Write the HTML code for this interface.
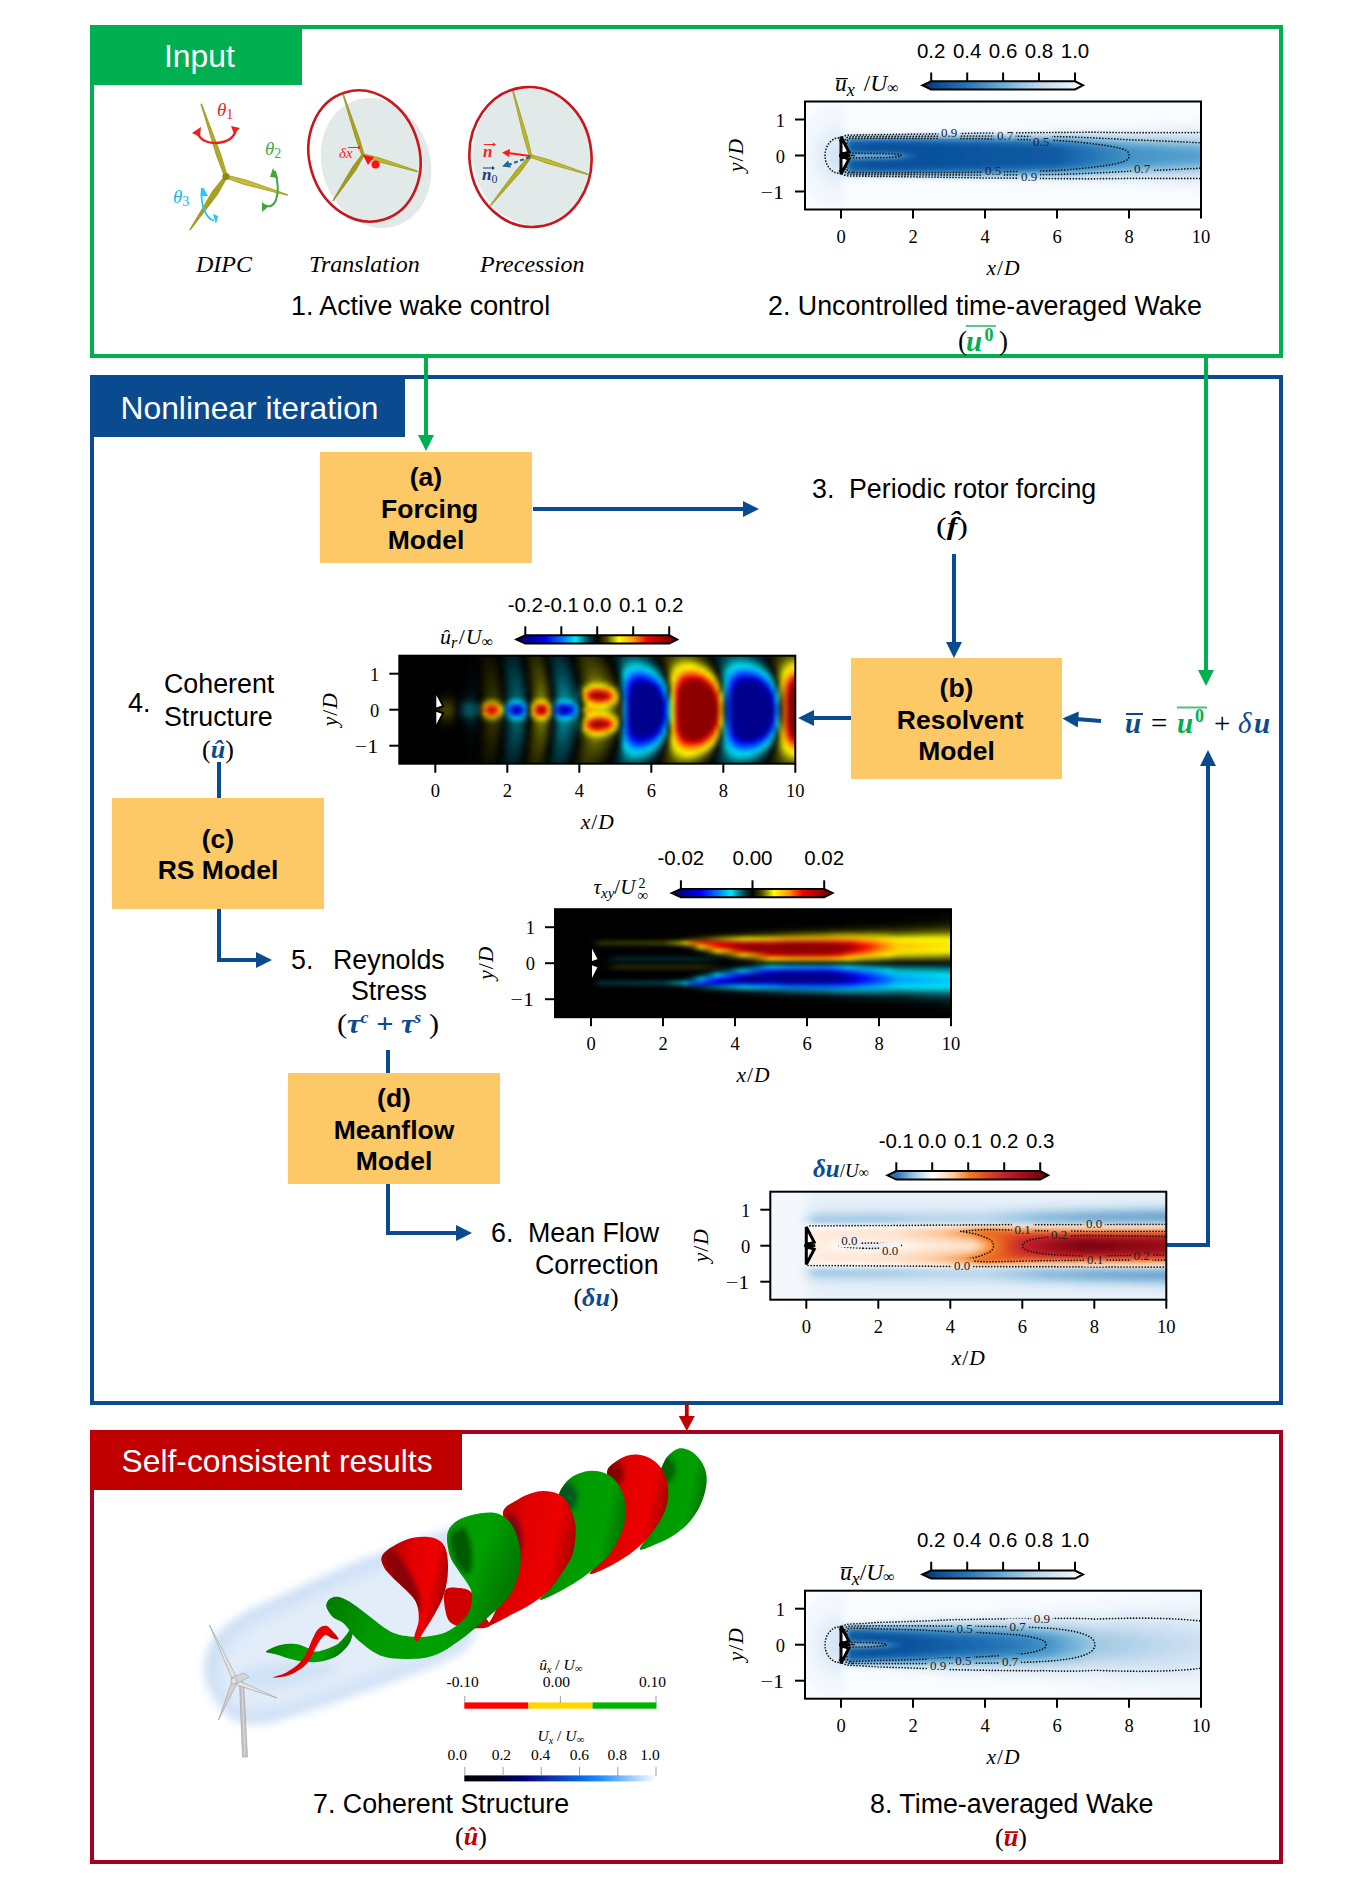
<!DOCTYPE html>
<html><head><meta charset="utf-8"><title>Self-consistent wake model</title>
<style>html,body{margin:0;padding:0;background:#fff;} svg{display:block;}</style></head>
<body><svg width="1360" height="1889" viewBox="0 0 1360 1889">
<defs><clipPath id="c1"><rect x="805.0" y="101.5" width="396.0" height="108.0"/></clipPath><filter id="f2" x="-5%" y="-20%" width="110%" height="140%" color-interpolation-filters="sRGB"><feGaussianBlur stdDeviation="1.9"/></filter><mask id="m3" maskUnits="userSpaceOnUse" x="805.0" y="101.5" width="396.0" height="108.0"><rect x="805.0" y="101.5" width="396.0" height="108.0" fill="#fff"/><rect x="938.5" y="124.7" width="21.5" height="14.3" fill="#000"/><rect x="994.2" y="128.5" width="21.5" height="14.3" fill="#000"/><rect x="1030.5" y="134.5" width="21.5" height="14.3" fill="#000"/><rect x="982.2" y="162.7" width="21.5" height="14.3" fill="#000"/><rect x="1018.3" y="169.2" width="21.5" height="14.3" fill="#000"/><rect x="1131.5" y="161.2" width="21.5" height="14.3" fill="#000"/></mask><clipPath id="c4"><rect x="806.0" y="102.5" width="394.0" height="106.0"/></clipPath><linearGradient id="g5" x1="922.4" x2="1083" y1="0" y2="0" gradientUnits="userSpaceOnUse"><stop offset="0.000" stop-color="#08306b"/><stop offset="0.100" stop-color="#0b4f93"/><stop offset="0.300" stop-color="#2b7bba"/><stop offset="0.500" stop-color="#6aaed6"/><stop offset="0.700" stop-color="#b7d4ea"/><stop offset="0.950" stop-color="#eef5fc"/><stop offset="1.000" stop-color="#f7fbff"/></linearGradient><clipPath id="c6"><rect x="805.0" y="1590.7" width="396.0" height="108.0"/></clipPath><filter id="f7" x="-5%" y="-20%" width="110%" height="140%" color-interpolation-filters="sRGB"><feGaussianBlur stdDeviation="1.9"/></filter><mask id="m8" maskUnits="userSpaceOnUse" x="805.0" y="1590.7" width="396.0" height="108.0"><rect x="805.0" y="1590.7" width="396.0" height="108.0" fill="#fff"/><rect x="1031.2" y="1611.2" width="21.5" height="14.3" fill="#000"/><rect x="1006.9" y="1618.6" width="21.5" height="14.3" fill="#000"/><rect x="954.0" y="1620.8" width="21.5" height="14.3" fill="#000"/><rect x="927.5" y="1658.3" width="21.5" height="14.3" fill="#000"/><rect x="952.5" y="1653.1" width="21.5" height="14.3" fill="#000"/><rect x="999.4" y="1653.9" width="21.5" height="14.3" fill="#000"/></mask><clipPath id="c9"><rect x="806.0" y="1591.7" width="394.0" height="106.0"/></clipPath><linearGradient id="g10" x1="922.4" x2="1083" y1="0" y2="0" gradientUnits="userSpaceOnUse"><stop offset="0.000" stop-color="#08306b"/><stop offset="0.100" stop-color="#0b4f93"/><stop offset="0.300" stop-color="#2b7bba"/><stop offset="0.500" stop-color="#6aaed6"/><stop offset="0.700" stop-color="#b7d4ea"/><stop offset="0.950" stop-color="#eef5fc"/><stop offset="1.000" stop-color="#f7fbff"/></linearGradient><clipPath id="c11"><rect x="399.3" y="655.7" width="396.0" height="108.0"/></clipPath><filter id="f12" x="-5%" y="-20%" width="110%" height="140%" color-interpolation-filters="sRGB"><feGaussianBlur stdDeviation="1.9"/></filter><linearGradient id="g13" x1="516.4" x2="677.2" y1="0" y2="0" gradientUnits="userSpaceOnUse"><stop offset="0.000" stop-color="#00008c"/><stop offset="0.055" stop-color="#00008c"/><stop offset="0.181" stop-color="#0000f5"/><stop offset="0.288" stop-color="#0078ff"/><stop offset="0.369" stop-color="#00e8f4"/><stop offset="0.445" stop-color="#004d58"/><stop offset="0.503" stop-color="#000000"/><stop offset="0.561" stop-color="#4d4d00"/><stop offset="0.637" stop-color="#ffff00"/><stop offset="0.727" stop-color="#ff9a00"/><stop offset="0.816" stop-color="#f00000"/><stop offset="0.950" stop-color="#8c0000"/><stop offset="1.000" stop-color="#8c0000"/></linearGradient><clipPath id="c14"><rect x="555.0" y="909.2" width="396.0" height="108.0"/></clipPath><filter id="f15" x="-5%" y="-20%" width="110%" height="140%" color-interpolation-filters="sRGB"><feGaussianBlur stdDeviation="1.9"/></filter><linearGradient id="g16" x1="671.7" x2="832.5" y1="0" y2="0" gradientUnits="userSpaceOnUse"><stop offset="0.000" stop-color="#00008c"/><stop offset="0.057" stop-color="#00008c"/><stop offset="0.182" stop-color="#0000f5"/><stop offset="0.289" stop-color="#0078ff"/><stop offset="0.369" stop-color="#00e8f4"/><stop offset="0.445" stop-color="#004d58"/><stop offset="0.503" stop-color="#000000"/><stop offset="0.561" stop-color="#4d4d00"/><stop offset="0.636" stop-color="#ffff00"/><stop offset="0.726" stop-color="#ff9a00"/><stop offset="0.815" stop-color="#f00000"/><stop offset="0.948" stop-color="#8c0000"/><stop offset="1.000" stop-color="#8c0000"/></linearGradient><clipPath id="c17"><rect x="770.3" y="1191.7" width="396.0" height="108.0"/></clipPath><filter id="f18" x="-5%" y="-20%" width="110%" height="140%" color-interpolation-filters="sRGB"><feGaussianBlur stdDeviation="1.9"/></filter><mask id="m19" maskUnits="userSpaceOnUse" x="770.3" y="1191.7" width="396.0" height="108.0"><rect x="770.3" y="1191.7" width="396.0" height="108.0" fill="#fff"/><rect x="838.5" y="1232.9" width="21.5" height="14.3" fill="#000"/><rect x="879.4" y="1242.8" width="21.5" height="14.3" fill="#000"/><rect x="951.4" y="1258.2" width="21.5" height="14.3" fill="#000"/><rect x="1011.9" y="1222.5" width="21.5" height="14.3" fill="#000"/><rect x="1048.5" y="1226.9" width="21.5" height="14.3" fill="#000"/><rect x="1083.3" y="1216.5" width="21.5" height="14.3" fill="#000"/><rect x="1084.2" y="1252.2" width="21.5" height="14.3" fill="#000"/><rect x="1131.0" y="1247.8" width="21.5" height="14.3" fill="#000"/></mask><clipPath id="c20"><rect x="771.3" y="1192.7" width="394.0" height="106.0"/></clipPath><linearGradient id="g21" x1="887.4" x2="1048.2" y1="0" y2="0" gradientUnits="userSpaceOnUse"><stop offset="0.000" stop-color="#2c72b4"/><stop offset="0.055" stop-color="#2c72b4"/><stop offset="0.167" stop-color="#9ec8e4"/><stop offset="0.234" stop-color="#dbe9f5"/><stop offset="0.279" stop-color="#ffffff"/><stop offset="0.346" stop-color="#fee6d3"/><stop offset="0.413" stop-color="#fdc69b"/><stop offset="0.503" stop-color="#f47f24"/><stop offset="0.615" stop-color="#dd4a24"/><stop offset="0.727" stop-color="#c3212a"/><stop offset="0.838" stop-color="#a30f1c"/><stop offset="0.950" stop-color="#7a0410"/><stop offset="1.000" stop-color="#7a0410"/></linearGradient><linearGradient id="bl" x1="0" x2="1" y1="0" y2="0"><stop offset="0" stop-color="#8f8a10"/><stop offset="0.5" stop-color="#d8d040"/><stop offset="1" stop-color="#9c9514"/></linearGradient><filter id="wblur" x="-20%" y="-20%" width="140%" height="140%" color-interpolation-filters="sRGB"><feGaussianBlur stdDeviation="5"/></filter><filter id="wblur2" x="-20%" y="-20%" width="140%" height="140%" color-interpolation-filters="sRGB"><feGaussianBlur stdDeviation="9"/></filter><filter id="sblur" x="-30%" y="-30%" width="160%" height="160%" color-interpolation-filters="sRGB"><feGaussianBlur stdDeviation="2.5"/></filter><linearGradient id="gG" x1="0" y1="0" x2="1" y2="0.3"><stop offset="0" stop-color="#006a00"/><stop offset="0.45" stop-color="#009a00"/><stop offset="0.8" stop-color="#00a000"/><stop offset="1" stop-color="#007a00"/></linearGradient><linearGradient id="gR" x1="0" y1="0" x2="1" y2="0.3"><stop offset="0" stop-color="#9a0000"/><stop offset="0.45" stop-color="#e00000"/><stop offset="0.8" stop-color="#ee0000"/><stop offset="1" stop-color="#b00000"/></linearGradient><clipPath id="hb1"><path d="M662.7,1465.1 C664.4,1461.1 665.7,1458.1 668.3,1455.4 C670.9,1452.7 674.8,1449.6 678.1,1448.7 C681.4,1447.8 684.6,1448.5 687.9,1449.8 C691.1,1451.1 694.8,1453.8 697.6,1456.8 C700.4,1459.8 703.1,1464.0 704.6,1467.9 C706.1,1471.9 706.8,1475.8 706.7,1480.5 C706.6,1485.2 705.6,1490.6 703.9,1495.9 C702.2,1501.2 699.5,1507.5 696.4,1512.6 C693.3,1517.7 689.5,1522.4 685.1,1526.6 C680.7,1530.8 675.1,1534.6 669.7,1537.8 C664.3,1541.0 657.9,1543.5 652.9,1545.5 C647.9,1547.5 641.1,1550.8 640.0,1549.5 C638.9,1548.2 643.5,1543.2 646.0,1538.0 C648.5,1532.8 652.8,1524.8 655.0,1518.2 C657.2,1511.7 658.5,1505.2 659.0,1498.7 C659.5,1492.2 657.4,1484.7 658.0,1479.1 C658.6,1473.5 661.0,1469.0 662.7,1465.1Z"/></clipPath><clipPath id="hb2"><path d="M607.5,1470.0 C608.8,1466.3 613.2,1463.4 616.6,1461.0 C620.0,1458.6 624.1,1456.5 627.8,1455.4 C631.5,1454.4 635.3,1454.2 639.0,1454.7 C642.7,1455.2 646.6,1456.2 650.1,1458.2 C653.6,1460.2 657.2,1463.0 659.9,1466.5 C662.6,1470.0 664.8,1474.7 666.2,1479.1 C667.6,1483.5 668.3,1488.4 668.3,1493.1 C668.3,1497.8 667.6,1502.4 666.2,1507.1 C664.8,1511.8 662.6,1516.3 659.9,1521.0 C657.2,1525.7 654.0,1530.3 650.1,1535.0 C646.2,1539.7 641.1,1544.8 636.2,1549.0 C631.3,1553.2 625.9,1556.8 620.8,1560.1 C615.7,1563.3 610.5,1566.2 605.4,1568.5 C600.3,1570.8 591.1,1575.2 590.0,1574.0 C588.9,1572.8 595.7,1566.6 599.0,1561.5 C602.3,1556.4 607.2,1549.7 610.0,1543.4 C612.8,1537.1 615.2,1530.5 616.0,1523.8 C616.8,1517.0 616.2,1509.7 615.0,1502.9 C613.8,1496.2 610.2,1488.8 609.0,1483.3 C607.8,1477.8 606.2,1473.7 607.5,1470.0Z"/></clipPath><clipPath id="hb3"><path d="M559.3,1493.1 C560.6,1489.4 564.4,1483.8 567.7,1480.5 C571.0,1477.2 574.9,1475.1 578.9,1473.5 C582.9,1471.9 587.3,1470.8 591.5,1470.7 C595.7,1470.6 600.3,1471.4 604.0,1472.8 C607.7,1474.2 610.8,1475.9 613.8,1479.1 C616.8,1482.2 620.2,1487.0 622.2,1491.7 C624.2,1496.4 625.4,1501.8 625.7,1507.1 C626.1,1512.4 625.6,1518.2 624.3,1523.8 C623.0,1529.4 620.7,1535.2 618.0,1540.6 C615.3,1546.0 612.2,1551.3 608.2,1556.0 C604.2,1560.7 599.4,1564.3 594.3,1568.5 C589.2,1572.7 583.1,1577.4 577.5,1581.1 C571.9,1584.8 567.0,1587.8 560.7,1590.9 C554.5,1594.1 542.0,1600.5 540.0,1600.0 C538.0,1599.5 545.7,1593.8 549.0,1588.1 C552.3,1582.4 557.2,1573.6 560.0,1565.7 C562.8,1557.8 565.2,1548.5 566.0,1540.6 C566.8,1532.7 566.0,1524.5 565.0,1518.2 C564.0,1511.9 561.0,1507.1 560.0,1502.9 C559.0,1498.7 558.0,1496.8 559.3,1493.1Z"/></clipPath><clipPath id="hb4"><path d="M503.0,1512.0 C504.2,1505.4 513.2,1502.7 518.0,1499.5 C522.8,1496.3 527.7,1494.4 532.0,1493.0 C536.3,1491.6 539.7,1490.9 544.0,1491.0 C548.3,1491.1 553.9,1491.8 557.9,1493.8 C561.9,1495.8 564.9,1498.4 567.7,1502.9 C570.5,1507.4 573.4,1515.2 574.7,1521.0 C576.0,1526.8 575.9,1532.0 575.4,1537.8 C574.9,1543.6 574.1,1550.2 571.9,1556.0 C569.7,1561.8 566.0,1566.9 562.1,1572.7 C558.2,1578.5 553.6,1585.6 548.2,1590.9 C542.9,1596.2 535.9,1601.0 530.0,1604.8 C524.1,1608.6 520.0,1610.3 512.7,1614.0 C505.4,1617.7 489.5,1626.6 486.2,1627.0 C482.9,1627.4 488.5,1625.6 492.8,1616.5 C497.1,1607.4 509.0,1585.3 512.0,1572.4 C515.0,1559.5 512.5,1549.4 511.0,1539.3 C509.5,1529.2 501.8,1518.6 503.0,1512.0Z"/></clipPath><clipPath id="hb5"><path d="M445.3,1590.0 C447.8,1586.3 455.6,1587.5 460.0,1588.0 C464.4,1588.5 468.4,1589.0 471.8,1592.7 C475.2,1596.4 477.7,1604.8 480.6,1610.3 C483.5,1615.8 490.9,1622.8 489.4,1625.7 C487.9,1628.7 478.1,1628.4 471.8,1628.0 C465.6,1627.6 456.3,1626.5 451.9,1623.5 C447.5,1620.5 446.4,1615.9 445.3,1610.3 C444.2,1604.7 442.9,1593.7 445.3,1590.0Z"/></clipPath><clipPath id="hb6"><path d="M447.5,1533.1 C449.0,1527.2 453.0,1523.2 458.5,1519.9 C464.0,1516.6 474.0,1514.2 480.6,1513.2 C487.2,1512.2 493.2,1511.9 498.3,1513.7 C503.4,1515.5 508.0,1519.2 511.5,1524.3 C515.0,1529.4 517.7,1537.1 519.2,1544.1 C520.7,1551.1 521.2,1558.8 520.3,1566.2 C519.4,1573.6 516.6,1582.0 513.7,1588.2 C510.8,1594.5 508.2,1597.8 502.7,1603.7 C497.2,1609.6 488.0,1617.2 480.6,1623.5 C473.2,1629.8 465.9,1636.0 458.5,1641.2 C451.1,1646.4 443.9,1651.5 436.5,1654.4 C429.1,1657.3 423.2,1658.4 414.4,1658.8 C405.6,1659.2 392.7,1659.5 383.5,1656.6 C374.3,1653.7 365.9,1646.7 359.3,1641.2 C352.7,1635.7 348.2,1627.5 343.8,1623.5 C339.4,1619.5 335.7,1619.8 332.8,1616.9 C329.9,1614.0 326.6,1609.0 326.2,1605.9 C325.8,1602.8 328.4,1599.7 330.6,1598.2 C332.8,1596.7 335.7,1596.2 339.4,1597.1 C343.1,1598.0 347.5,1600.4 352.7,1603.7 C357.9,1607.0 363.7,1612.1 370.3,1616.9 C376.9,1621.7 385.0,1629.1 392.4,1632.4 C399.8,1635.7 407.8,1636.2 414.4,1636.8 C421.0,1637.3 426.2,1636.8 432.1,1635.7 C438.0,1634.6 443.8,1633.7 449.7,1630.2 C455.6,1626.7 463.7,1621.0 467.4,1614.7 C471.1,1608.5 473.3,1600.1 471.8,1592.7 C470.3,1585.3 462.2,1576.8 458.5,1570.6 C454.8,1564.3 451.5,1561.5 449.7,1555.2 C447.9,1549.0 446.0,1539.0 447.5,1533.1Z"/></clipPath><clipPath id="hb7"><path d="M382.4,1555.2 C384.6,1551.5 391.5,1547.0 396.8,1544.1 C402.1,1541.1 408.5,1538.6 414.4,1537.5 C420.3,1536.4 427.3,1536.4 432.1,1537.5 C436.9,1538.6 440.5,1540.8 443.1,1544.1 C445.7,1547.4 446.8,1551.9 447.5,1557.4 C448.2,1562.9 448.2,1570.6 447.5,1577.2 C446.8,1583.8 445.3,1590.8 443.1,1597.1 C440.9,1603.3 437.6,1608.8 434.3,1614.7 C431.0,1620.6 426.0,1628.0 423.2,1632.4 C420.4,1636.8 419.2,1640.5 417.7,1641.2 C416.2,1641.9 414.2,1640.5 414.4,1636.8 C414.6,1633.1 418.8,1625.3 418.8,1619.1 C418.8,1612.8 418.8,1606.3 414.4,1599.3 C410.0,1592.3 397.5,1582.7 392.4,1577.2 C387.2,1571.7 385.2,1569.9 383.5,1566.2 C381.8,1562.5 380.2,1558.9 382.4,1555.2Z"/></clipPath><clipPath id="hb8"><path d="M266.0,1651.6 C266.6,1650.0 275.4,1646.3 280.3,1645.0 C285.2,1643.7 291.1,1643.5 295.6,1644.0 C300.1,1644.5 303.9,1646.5 307.1,1647.8 C310.3,1649.1 311.8,1651.3 314.7,1651.6 C317.6,1651.9 320.5,1651.0 324.3,1649.7 C328.1,1648.4 333.9,1646.7 337.7,1644.0 C341.5,1641.3 345.0,1636.2 347.2,1633.5 C349.4,1630.8 350.0,1628.0 351.0,1627.7 C352.0,1627.4 353.3,1628.8 353.0,1631.5 C352.7,1634.2 351.7,1640.0 349.1,1644.0 C346.6,1648.0 342.1,1652.5 337.7,1655.4 C333.2,1658.3 327.5,1660.1 322.4,1661.2 C317.3,1662.3 312.2,1662.4 307.1,1662.1 C302.0,1661.8 296.9,1660.6 291.8,1659.3 C286.7,1658.0 280.8,1655.8 276.5,1654.5 C272.2,1653.2 265.4,1653.2 266.0,1651.6Z"/></clipPath><clipPath id="hb9"><path d="M272.7,1677.4 C272.4,1676.9 281.6,1675.1 286.0,1672.7 C290.4,1670.3 295.9,1666.6 299.4,1663.1 C302.9,1659.6 304.9,1655.8 307.1,1651.6 C309.3,1647.4 310.9,1642.0 312.8,1638.2 C314.7,1634.4 316.3,1630.8 318.5,1628.7 C320.7,1626.6 323.6,1625.2 326.2,1625.8 C328.8,1626.4 331.7,1630.3 333.8,1632.5 C335.9,1634.7 338.9,1638.2 338.6,1639.2 C338.3,1640.2 334.3,1638.8 331.9,1638.2 C329.5,1637.6 326.9,1634.1 324.3,1635.4 C321.8,1636.7 318.8,1642.2 316.6,1645.9 C314.4,1649.6 313.1,1653.9 310.9,1657.4 C308.7,1660.9 307.1,1663.9 303.3,1666.9 C299.5,1669.9 293.1,1673.8 288.0,1675.5 C282.9,1677.2 273.0,1677.9 272.7,1677.4Z"/></clipPath><linearGradient id="ux" x1="0" x2="1"><stop offset="0" stop-color="#000000"/><stop offset="0.15" stop-color="#00001e"/><stop offset="0.3" stop-color="#00006a"/><stop offset="0.45" stop-color="#0a30b0"/><stop offset="0.6" stop-color="#0a64e6"/><stop offset="0.7" stop-color="#1a8cff"/><stop offset="0.85" stop-color="#8cc4ff"/><stop offset="1" stop-color="#ffffff"/></linearGradient></defs>
<rect width="1360" height="1889" fill="#fff"/>
<rect x="92" y="27" width="1189" height="329" fill="none" stroke="#00b050" stroke-width="4"/>
<rect x="90" y="25" width="212" height="60" fill="#00b050"/>
<text x="164.0" y="67.0" font-size="31.8" font-family="'Liberation Sans', Arial, sans-serif" fill="#fff">Input</text>
<rect x="92" y="377" width="1189" height="1026" fill="none" stroke="#0a4a8f" stroke-width="4"/>
<rect x="90" y="375" width="315" height="62" fill="#0a4a8f"/>
<text x="120.5" y="419.0" font-size="31.8" font-family="'Liberation Sans', Arial, sans-serif" fill="#fff">Nonlinear iteration</text>
<rect x="92" y="1432" width="1189" height="430" fill="none" stroke="#a50021" stroke-width="4"/>
<rect x="90" y="1430" width="372" height="60" fill="#c00000"/>
<text x="121.5" y="1472.0" font-size="31.8" font-family="'Liberation Sans', Arial, sans-serif" fill="#fff">Self-consistent results</text>
<rect x="320" y="452" width="212" height="111" fill="#fdc966"/>
<text x="426.0" y="486.0" font-size="26.5" font-family="'Liberation Sans', Arial, sans-serif" text-anchor="middle" font-weight="bold">(a)</text>
<text x="429.7" y="517.5" font-size="26.5" font-family="'Liberation Sans', Arial, sans-serif" text-anchor="middle" font-weight="bold">Forcing</text>
<text x="426.0" y="549.0" font-size="26.5" font-family="'Liberation Sans', Arial, sans-serif" text-anchor="middle" font-weight="bold">Model</text>
<rect x="851" y="658" width="211" height="121" fill="#fdc966"/>
<text x="956.5" y="697.0" font-size="26.5" font-family="'Liberation Sans', Arial, sans-serif" text-anchor="middle" font-weight="bold">(b)</text>
<text x="960.2" y="728.5" font-size="26.5" font-family="'Liberation Sans', Arial, sans-serif" text-anchor="middle" font-weight="bold">Resolvent</text>
<text x="956.5" y="760.0" font-size="26.5" font-family="'Liberation Sans', Arial, sans-serif" text-anchor="middle" font-weight="bold">Model</text>
<rect x="112" y="798" width="212" height="111" fill="#fdc966"/>
<text x="218.0" y="847.5" font-size="26.5" font-family="'Liberation Sans', Arial, sans-serif" text-anchor="middle" font-weight="bold">(c)</text>
<text x="218.0" y="879.0" font-size="26.5" font-family="'Liberation Sans', Arial, sans-serif" text-anchor="middle" font-weight="bold">RS Model</text>
<rect x="288" y="1073" width="212" height="111" fill="#fdc966"/>
<text x="394.0" y="1107.0" font-size="26.5" font-family="'Liberation Sans', Arial, sans-serif" text-anchor="middle" font-weight="bold">(d)</text>
<text x="394.0" y="1138.5" font-size="26.5" font-family="'Liberation Sans', Arial, sans-serif" text-anchor="middle" font-weight="bold">Meanflow</text>
<text x="394.0" y="1170.0" font-size="26.5" font-family="'Liberation Sans', Arial, sans-serif" text-anchor="middle" font-weight="bold">Model</text>
<line x1="426" y1="358" x2="426" y2="437" stroke="#00b050" stroke-width="4"/>
<polygon points="426.0,451.0 418.0,435.0 434.0,435.0" fill="#00b050"/>
<line x1="1206" y1="358" x2="1206" y2="672" stroke="#00b050" stroke-width="4"/>
<polygon points="1206.0,686.0 1198.0,670.0 1214.0,670.0" fill="#00b050"/>
<line x1="533" y1="509" x2="746" y2="509" stroke="#0a4a8f" stroke-width="4"/>
<polygon points="759.0,509.0 743.0,517.0 743.0,501.0" fill="#0a4a8f"/>
<line x1="954" y1="554" x2="954" y2="645" stroke="#0a4a8f" stroke-width="4"/>
<polygon points="954.0,658.0 946.0,642.0 962.0,642.0" fill="#0a4a8f"/>
<line x1="851" y1="718" x2="811" y2="718" stroke="#0a4a8f" stroke-width="4"/>
<polygon points="798.0,718.0 814.0,710.0 814.0,726.0" fill="#0a4a8f"/>
<line x1="1101" y1="721" x2="1076" y2="719" stroke="#0a4a8f" stroke-width="4"/>
<polygon points="1062.3,718.6 1078.8,711.6 1077.8,727.5" fill="#0a4a8f"/>
<polyline points="1166,1245 1208,1245 1208,764" fill="none" stroke="#0a4a8f" stroke-width="4"/>
<polygon points="1208.0,750.0 1216.0,766.0 1200.0,766.0" fill="#0a4a8f"/>
<line x1="219" y1="762" x2="219" y2="798" stroke="#0a4a8f" stroke-width="4"/>
<polyline points="219,909 219,960 258,960" fill="none" stroke="#0a4a8f" stroke-width="4"/>
<polygon points="272.0,960.0 256.0,968.0 256.0,952.0" fill="#0a4a8f"/>
<line x1="388" y1="1050" x2="388" y2="1073" stroke="#0a4a8f" stroke-width="4"/>
<polyline points="388,1184 388,1233 458,1233" fill="none" stroke="#0a4a8f" stroke-width="4"/>
<polygon points="472.0,1233.0 456.0,1241.0 456.0,1225.0" fill="#0a4a8f"/>
<line x1="686.8" y1="1403" x2="686.8" y2="1418" stroke="#c00000" stroke-width="3.8"/>
<polygon points="686.8,1431.0 678.8,1416.0 694.8,1416.0" fill="#c00000"/>
<text x="291.0" y="315.0" font-size="26.8" font-family="'Liberation Sans', Arial, sans-serif">1. Active wake control</text>
<text x="768.0" y="315.0" font-size="26.8" font-family="'Liberation Sans', Arial, sans-serif">2. Uncontrolled time-averaged Wake</text>
<text x="958.0" y="350.0" font-size="27" font-family="'Liberation Serif', 'DejaVu Serif', serif">(</text>
<text x="966.0" y="350.5" font-size="29" font-family="'Liberation Serif', 'DejaVu Serif', serif" fill="#00b050" font-weight="bold" font-style="italic">u</text>
<text x="984.5" y="341.0" font-size="18" font-family="'Liberation Serif', 'DejaVu Serif', serif" fill="#00b050" font-weight="bold">0</text>
<text x="999.0" y="350.0" font-size="27" font-family="'Liberation Serif', 'DejaVu Serif', serif">)</text>
<line x1="966" y1="326" x2="996" y2="326" stroke="#4cc07c" stroke-width="1.8"/>
<text x="812.0" y="498.0" font-size="26.8" font-family="'Liberation Sans', Arial, sans-serif">3.</text>
<text x="849.0" y="498.0" font-size="26.8" font-family="'Liberation Sans', Arial, sans-serif">Periodic rotor forcing</text>
<text x="952.0" y="535.0" font-size="26" font-family="'Liberation Serif', 'DejaVu Serif', serif" text-anchor="middle" textLength="32" lengthAdjust="spacingAndGlyphs">(<tspan font-weight="bold" font-style="italic">f̂</tspan>)</text>
<text x="128.0" y="712.0" font-size="26.8" font-family="'Liberation Sans', Arial, sans-serif">4.</text>
<text x="164.0" y="693.0" font-size="26.8" font-family="'Liberation Sans', Arial, sans-serif">Coherent</text>
<text x="164.0" y="726.0" font-size="26.8" font-family="'Liberation Sans', Arial, sans-serif">Structure</text>
<text x="218.0" y="758.0" font-size="26" font-family="'Liberation Serif', 'DejaVu Serif', serif" text-anchor="middle">(<tspan font-weight="bold" font-style="italic" fill="#0a4a8f">û</tspan>)</text>
<text x="291.0" y="969.0" font-size="26.8" font-family="'Liberation Sans', Arial, sans-serif">5.</text>
<text x="333.0" y="969.0" font-size="26.8" font-family="'Liberation Sans', Arial, sans-serif">Reynolds</text>
<text x="351.0" y="1000.0" font-size="26.8" font-family="'Liberation Sans', Arial, sans-serif">Stress</text>
<text x="388.0" y="1033.0" font-size="27" font-family="'Liberation Serif', 'DejaVu Serif', serif" text-anchor="middle" textLength="102" lengthAdjust="spacingAndGlyphs">(<tspan font-weight="bold" font-style="italic" fill="#0a4a8f">τ<tspan font-size="16" dy="-10">c</tspan><tspan dy="10"> + τ</tspan><tspan font-size="16" dy="-10">s</tspan></tspan><tspan dy="10"> )</tspan></text>
<text x="491.0" y="1242.0" font-size="26.8" font-family="'Liberation Sans', Arial, sans-serif">6.</text>
<text x="528.0" y="1242.0" font-size="26.8" font-family="'Liberation Sans', Arial, sans-serif">Mean Flow</text>
<text x="535.0" y="1274.0" font-size="26.8" font-family="'Liberation Sans', Arial, sans-serif">Correction</text>
<text x="596.0" y="1306.0" font-size="26" font-family="'Liberation Serif', 'DejaVu Serif', serif" text-anchor="middle">(<tspan font-weight="bold" font-style="italic" fill="#0a4a8f">δu</tspan>)</text>
<text x="313.0" y="1813.0" font-size="26.8" font-family="'Liberation Sans', Arial, sans-serif">7. Coherent Structure</text>
<text x="471.0" y="1845.0" font-size="26" font-family="'Liberation Serif', 'DejaVu Serif', serif" text-anchor="middle">(<tspan font-weight="bold" font-style="italic" fill="#c00000">û</tspan>)</text>
<text x="870.0" y="1813.0" font-size="26.8" font-family="'Liberation Sans', Arial, sans-serif">8. Time-averaged Wake</text>
<text x="1011.0" y="1846.0" font-size="26" font-family="'Liberation Serif', 'DejaVu Serif', serif" text-anchor="middle">(<tspan font-weight="bold" font-style="italic" fill="#c00000">u̅</tspan>)</text>
<text x="1125.0" y="732.5" font-size="29" font-family="'Liberation Serif', 'DejaVu Serif', serif" fill="#0a4a8f" font-weight="bold" font-style="italic">u</text>
<line x1="1126" y1="714" x2="1143" y2="714" stroke="#0a4a8f" stroke-width="2"/>
<text x="1151.0" y="732.5" font-size="29" font-family="'Liberation Serif', 'DejaVu Serif', serif">=</text>
<text x="1177.0" y="732.5" font-size="29" font-family="'Liberation Serif', 'DejaVu Serif', serif" fill="#00b050" font-weight="bold" font-style="italic">u</text>
<text x="1195.0" y="722.0" font-size="18" font-family="'Liberation Serif', 'DejaVu Serif', serif" fill="#00b050" font-weight="bold">0</text>
<line x1="1177" y1="707.5" x2="1207" y2="707.5" stroke="#4cc07c" stroke-width="2"/>
<text x="1214.0" y="732.5" font-size="29" font-family="'Liberation Serif', 'DejaVu Serif', serif">+</text>
<text x="1238.0" y="732.5" font-size="29" font-family="'Liberation Serif', 'DejaVu Serif', serif" fill="#0a4a8f" font-style="italic">δ</text>
<text x="1254.0" y="732.5" font-size="29" font-family="'Liberation Serif', 'DejaVu Serif', serif" fill="#0a4a8f" font-weight="bold" font-style="italic">u</text>
<text x="196.0" y="272.0" font-size="24" font-family="'Liberation Serif', 'Times New Roman', serif" font-style="italic">DIPC</text>
<text x="309.0" y="272.0" font-size="24" font-family="'Liberation Serif', 'Times New Roman', serif" font-style="italic">Translation</text>
<text x="480.0" y="272.0" font-size="24" font-family="'Liberation Serif', 'Times New Roman', serif" font-style="italic">Precession</text>
<g clip-path="url(#c1)"><g filter="url(#f2)" shape-rendering="crispEdges"><path fill="#f8fcff" d="M797 93.5h412v4h-412zM797 97.5h412v4h-412zM797 101.5h412v4h-412zM797 105.5h28v4h-28zM841 105.5h368v4h-368zM797 109.5h20v4h-20zM845 109.5h364v4h-364zM797 113.5h16v4h-16zM845 113.5h364v4h-364zM797 117.5h12v4h-12zM845 117.5h348v4h-348zM797 121.5h8v4h-8zM845 121.5h292v4h-292zM797 125.5h8v4h-8zM845 125.5h204v4h-204zM797 129.5h4v4h-4zM845 129.5h76v4h-76zM797 133.5h4v4h-4zM797 173.5h4v4h-4zM797 177.5h4v4h-4zM845 177.5h76v4h-76zM797 181.5h8v4h-8zM845 181.5h204v4h-204zM797 185.5h8v4h-8zM845 185.5h292v4h-292zM797 189.5h12v4h-12zM845 189.5h348v4h-348zM797 193.5h16v4h-16zM845 193.5h364v4h-364zM797 197.5h20v4h-20zM845 197.5h364v4h-364zM797 201.5h28v4h-28zM841 201.5h368v4h-368zM797 205.5h412v4h-412zM797 209.5h412v4h-412zM797 213.5h412v4h-412z"/><path fill="#f4f8ff" d="M825 105.5h16v4h-16zM817 109.5h16v4h-16zM841 109.5h4v4h-4zM813 113.5h8v4h-8zM841 113.5h4v4h-4zM809 117.5h8v4h-8zM1193 117.5h16v4h-16zM805 121.5h8v4h-8zM1137 121.5h36v4h-36zM805 125.5h4v4h-4zM1049 125.5h24v4h-24zM801 129.5h8v4h-8zM921 129.5h20v4h-20zM801 133.5h4v4h-4zM797 137.5h8v4h-8zM797 141.5h4v4h-4zM797 145.5h4v4h-4zM797 149.5h4v4h-4zM797 153.5h4v4h-4zM797 157.5h4v4h-4zM797 161.5h4v4h-4zM797 165.5h4v4h-4zM797 169.5h8v4h-8zM801 173.5h4v4h-4zM801 177.5h8v4h-8zM921 177.5h20v4h-20zM805 181.5h4v4h-4zM1049 181.5h24v4h-24zM805 185.5h8v4h-8zM1137 185.5h36v4h-36zM809 189.5h8v4h-8zM1193 189.5h16v4h-16zM813 193.5h8v4h-8zM841 193.5h4v4h-4zM817 197.5h16v4h-16zM841 197.5h4v4h-4zM825 201.5h16v4h-16z"/><path fill="#f4f8fc" d="M833 109.5h8v4h-8zM821 113.5h20v4h-20zM817 117.5h8v4h-8zM841 117.5h4v4h-4zM813 121.5h8v4h-8zM841 121.5h4v4h-4zM1173 121.5h36v4h-36zM809 125.5h8v4h-8zM1073 125.5h32v4h-32zM809 129.5h4v4h-4zM941 129.5h16v4h-16zM805 133.5h4v4h-4zM805 137.5h4v4h-4zM801 141.5h8v4h-8zM801 145.5h4v4h-4zM801 149.5h4v4h-4zM801 153.5h4v4h-4zM801 157.5h4v4h-4zM801 161.5h4v4h-4zM801 165.5h8v4h-8zM805 169.5h4v4h-4zM805 173.5h4v4h-4zM809 177.5h4v4h-4zM941 177.5h16v4h-16zM809 181.5h8v4h-8zM1073 181.5h32v4h-32zM813 185.5h8v4h-8zM841 185.5h4v4h-4zM1173 185.5h36v4h-36zM817 189.5h8v4h-8zM841 189.5h4v4h-4zM821 193.5h20v4h-20zM833 197.5h8v4h-8z"/><path fill="#f0f8fc" d="M825 117.5h16v4h-16zM821 121.5h4v4h-4zM817 125.5h4v4h-4zM841 125.5h4v4h-4zM1105 125.5h52v4h-52zM813 129.5h4v4h-4zM957 129.5h16v4h-16zM809 133.5h4v4h-4zM809 137.5h4v4h-4zM809 141.5h4v4h-4zM805 145.5h4v4h-4zM805 149.5h4v4h-4zM805 153.5h4v4h-4zM805 157.5h4v4h-4zM805 161.5h4v4h-4zM809 165.5h4v4h-4zM809 169.5h4v4h-4zM809 173.5h4v4h-4zM813 177.5h4v4h-4zM957 177.5h16v4h-16zM817 181.5h4v4h-4zM841 181.5h4v4h-4zM1105 181.5h52v4h-52zM821 185.5h4v4h-4zM825 189.5h16v4h-16z"/><path fill="#f0f4fc" d="M825 121.5h8v4h-8zM821 125.5h4v4h-4zM1157 125.5h24v4h-24zM817 129.5h4v4h-4zM841 129.5h4v4h-4zM973 129.5h8v4h-8zM813 133.5h4v4h-4zM809 145.5h4v4h-4zM809 149.5h4v4h-4zM809 153.5h4v4h-4zM809 157.5h4v4h-4zM809 161.5h4v4h-4zM813 173.5h4v4h-4zM817 177.5h4v4h-4zM841 177.5h4v4h-4zM973 177.5h8v4h-8zM821 181.5h4v4h-4zM1157 181.5h24v4h-24zM825 185.5h8v4h-8z"/><path fill="#ecf4fc" d="M833 121.5h8v4h-8zM825 125.5h8v4h-8zM1181 125.5h28v4h-28zM821 129.5h4v4h-4zM981 129.5h40v4h-40zM817 133.5h4v4h-4zM813 137.5h8v4h-8zM813 141.5h4v4h-4zM813 145.5h4v4h-4zM813 149.5h4v4h-4zM813 153.5h4v4h-4zM813 157.5h4v4h-4zM813 161.5h4v4h-4zM813 165.5h4v4h-4zM813 169.5h8v4h-8zM817 173.5h4v4h-4zM821 177.5h4v4h-4zM981 177.5h40v4h-40zM825 181.5h8v4h-8zM1181 181.5h28v4h-28zM833 185.5h8v4h-8z"/><path fill="#e8f4fc" d="M833 125.5h8v4h-8zM825 129.5h4v4h-4zM1021 129.5h8v4h-8zM821 133.5h4v4h-4zM821 173.5h4v4h-4zM825 177.5h4v4h-4zM1021 177.5h8v4h-8zM833 181.5h8v4h-8z"/><path fill="#e8f0f8" d="M829 129.5h4v4h-4zM1041 129.5h12v4h-12zM825 133.5h4v4h-4zM821 137.5h4v4h-4zM817 145.5h4v4h-4zM817 149.5h4v4h-4zM817 157.5h4v4h-4zM817 161.5h4v4h-4zM821 169.5h4v4h-4zM825 173.5h4v4h-4zM829 177.5h4v4h-4zM1041 177.5h12v4h-12z"/><path fill="#e4f0f8" d="M833 129.5h8v4h-8zM1053 129.5h36v4h-36zM1101 129.5h68v4h-68zM829 133.5h4v4h-4zM841 133.5h4v4h-4zM825 137.5h4v4h-4zM821 141.5h4v4h-4zM817 153.5h4v4h-4zM821 165.5h4v4h-4zM825 169.5h4v4h-4zM829 173.5h4v4h-4zM841 173.5h4v4h-4zM833 177.5h8v4h-8zM1053 177.5h36v4h-36zM1101 177.5h68v4h-68z"/><path fill="#e8f0fc" d="M1029 129.5h12v4h-12zM817 141.5h4v4h-4zM817 165.5h4v4h-4zM1029 177.5h12v4h-12z"/><path fill="#e4ecf8" d="M1089 129.5h12v4h-12zM1169 129.5h20v4h-20zM821 145.5h4v4h-4zM821 161.5h4v4h-4zM1089 177.5h12v4h-12zM1169 177.5h20v4h-20z"/><path fill="#e0ecf8" d="M1189 129.5h20v4h-20zM833 133.5h8v4h-8zM829 137.5h4v4h-4zM825 141.5h4v4h-4zM821 149.5h4v4h-4zM821 153.5h4v4h-4zM821 157.5h4v4h-4zM825 165.5h4v4h-4zM829 169.5h4v4h-4zM833 173.5h8v4h-8zM1189 177.5h20v4h-20z"/><path fill="#dce8f8" d="M845 133.5h4v4h-4zM829 141.5h4v4h-4zM825 149.5h4v4h-4zM825 153.5h4v4h-4zM825 157.5h4v4h-4zM829 165.5h4v4h-4zM845 173.5h4v4h-4z"/><path fill="#d4e4f4" d="M849 133.5h4v4h-4zM1197 133.5h12v4h-12zM833 149.5h8v4h-8zM833 153.5h8v4h-8zM833 157.5h8v4h-8zM849 173.5h4v4h-4zM1197 173.5h12v4h-12z"/><path fill="#d0e4f4" d="M853 133.5h4v4h-4zM1173 133.5h24v4h-24zM853 173.5h4v4h-4zM1173 173.5h24v4h-24z"/><path fill="#d0e0f4" d="M857 133.5h4v4h-4zM1153 133.5h20v4h-20zM841 137.5h4v4h-4zM841 169.5h4v4h-4zM857 173.5h4v4h-4zM1153 173.5h20v4h-20z"/><path fill="#d0e0f0" d="M861 133.5h4v4h-4zM1137 133.5h16v4h-16zM861 173.5h4v4h-4zM1137 173.5h16v4h-16z"/><path fill="#cce0f0" d="M865 133.5h8v4h-8zM1117 133.5h20v4h-20zM865 173.5h8v4h-8zM1117 173.5h20v4h-20z"/><path fill="#ccdcf0" d="M873 133.5h4v4h-4zM873 173.5h4v4h-4z"/><path fill="#c8dcf0" d="M877 133.5h16v4h-16zM1101 133.5h16v4h-16zM841 141.5h4v4h-4zM841 145.5h4v4h-4zM841 149.5h4v4h-4zM841 153.5h4v4h-4zM841 157.5h4v4h-4zM841 161.5h4v4h-4zM841 165.5h4v4h-4zM877 173.5h16v4h-16zM1101 173.5h16v4h-16z"/><path fill="#c4dcf0" d="M893 133.5h4v4h-4zM1093 133.5h8v4h-8zM893 173.5h4v4h-4zM1093 173.5h8v4h-8z"/><path fill="#c4d8f0" d="M897 133.5h4v4h-4zM897 173.5h4v4h-4z"/><path fill="#c0d8ec" d="M901 133.5h16v4h-16zM1077 133.5h16v4h-16zM901 173.5h16v4h-16zM1077 173.5h16v4h-16z"/><path fill="#bcd8ec" d="M917 133.5h12v4h-12zM1069 133.5h8v4h-8zM1197 137.5h12v4h-12zM1197 169.5h12v4h-12zM917 173.5h12v4h-12zM1069 173.5h8v4h-8z"/><path fill="#b8d4ec" d="M929 133.5h8v4h-8zM1061 133.5h8v4h-8zM1189 137.5h8v4h-8zM1189 169.5h8v4h-8zM929 173.5h8v4h-8zM1061 173.5h8v4h-8z"/><path fill="#b8d4e8" d="M937 133.5h4v4h-4zM1057 133.5h4v4h-4zM1185 137.5h4v4h-4zM1185 169.5h4v4h-4zM937 173.5h4v4h-4zM1057 173.5h4v4h-4z"/><path fill="#b4d4e8" d="M941 133.5h16v4h-16zM1029 133.5h28v4h-28zM1173 137.5h12v4h-12zM1173 169.5h12v4h-12zM941 173.5h16v4h-16zM1029 173.5h28v4h-28z"/><path fill="#b0d4e8" d="M957 133.5h4v4h-4zM1017 133.5h12v4h-12zM957 173.5h4v4h-4zM1017 173.5h12v4h-12z"/><path fill="#b0d0e8" d="M961 133.5h12v4h-12zM997 133.5h20v4h-20zM1165 137.5h8v4h-8zM1165 169.5h8v4h-8zM961 173.5h12v4h-12zM997 173.5h20v4h-20z"/><path fill="#acd0e8" d="M973 133.5h24v4h-24zM1157 137.5h8v4h-8zM1157 169.5h8v4h-8zM973 173.5h24v4h-24z"/><path fill="#dcecf8" d="M833 137.5h8v4h-8zM825 145.5h4v4h-4zM825 161.5h4v4h-4zM833 169.5h8v4h-8z"/><path fill="#5ca4d0" d="M845 137.5h4v4h-4zM1061 137.5h4v4h-4zM1113 141.5h4v4h-4zM1157 145.5h8v4h-8zM1197 149.5h12v4h-12zM1197 157.5h12v4h-12zM1157 161.5h8v4h-8zM1113 165.5h4v4h-4zM845 169.5h4v4h-4zM1061 169.5h4v4h-4z"/><path fill="#2c7cbc" d="M849 137.5h4v4h-4zM929 137.5h16v4h-16zM1089 145.5h4v4h-4zM1097 149.5h4v4h-4zM1101 153.5h4v4h-4zM1097 157.5h4v4h-4zM1089 161.5h4v4h-4zM849 169.5h4v4h-4zM929 169.5h16v4h-16z"/><path fill="#2c7cb8" d="M853 137.5h4v4h-4zM925 137.5h4v4h-4zM1065 141.5h4v4h-4zM1097 153.5h4v4h-4zM1065 165.5h4v4h-4zM853 169.5h4v4h-4zM925 169.5h4v4h-4z"/><path fill="#2878b8" d="M857 137.5h12v4h-12zM897 137.5h28v4h-28zM1061 141.5h4v4h-4zM1085 145.5h4v4h-4zM1093 149.5h4v4h-4zM905 153.5h4v4h-4zM1093 153.5h4v4h-4zM1093 157.5h4v4h-4zM1085 161.5h4v4h-4zM1061 165.5h4v4h-4zM857 169.5h12v4h-12zM897 169.5h28v4h-28z"/><path fill="#2474b8" d="M869 137.5h28v4h-28zM1057 141.5h4v4h-4zM1081 145.5h4v4h-4zM1089 149.5h4v4h-4zM1089 153.5h4v4h-4zM1089 157.5h4v4h-4zM1081 161.5h4v4h-4zM1057 165.5h4v4h-4zM869 169.5h28v4h-28z"/><path fill="#3080bc" d="M945 137.5h20v4h-20zM1069 141.5h4v4h-4zM1093 145.5h4v4h-4zM1101 149.5h8v4h-8zM1105 153.5h4v4h-4zM1101 157.5h8v4h-8zM1093 161.5h4v4h-4zM1069 165.5h4v4h-4zM945 169.5h20v4h-20z"/><path fill="#3484c0" d="M965 137.5h20v4h-20zM1073 141.5h4v4h-4zM1097 145.5h8v4h-8zM1109 149.5h4v4h-4zM1109 153.5h4v4h-4zM1109 157.5h4v4h-4zM1097 161.5h8v4h-8zM1073 165.5h4v4h-4zM965 169.5h20v4h-20z"/><path fill="#3888c0" d="M985 137.5h8v4h-8zM1077 141.5h4v4h-4zM1105 145.5h4v4h-4zM1113 149.5h4v4h-4zM1113 153.5h4v4h-4zM1113 157.5h4v4h-4zM1105 161.5h4v4h-4zM1077 165.5h4v4h-4zM985 169.5h8v4h-8z"/><path fill="#3c8cc0" d="M993 137.5h4v4h-4zM1081 141.5h4v4h-4zM901 153.5h4v4h-4zM1117 153.5h4v4h-4zM1081 165.5h4v4h-4zM993 169.5h4v4h-4z"/><path fill="#3c8cc4" d="M997 137.5h8v4h-8zM845 141.5h4v4h-4zM845 145.5h4v4h-4zM1109 145.5h4v4h-4zM1117 149.5h4v4h-4zM1121 153.5h4v4h-4zM1117 157.5h4v4h-4zM845 161.5h4v4h-4zM1109 161.5h4v4h-4zM845 165.5h4v4h-4zM997 169.5h8v4h-8z"/><path fill="#4090c4" d="M1005 137.5h12v4h-12zM1085 141.5h4v4h-4zM1113 145.5h4v4h-4zM845 149.5h4v4h-4zM1121 149.5h8v4h-8zM1125 153.5h4v4h-4zM845 157.5h4v4h-4zM1121 157.5h8v4h-8zM1113 161.5h4v4h-4zM1085 165.5h4v4h-4zM1005 169.5h12v4h-12z"/><path fill="#4494c8" d="M1017 137.5h8v4h-8zM1089 141.5h4v4h-4zM1117 145.5h4v4h-4zM1129 149.5h8v4h-8zM1129 153.5h12v4h-12zM1129 157.5h8v4h-8zM1117 161.5h4v4h-4zM1089 165.5h4v4h-4zM1017 169.5h8v4h-8z"/><path fill="#4894c8" d="M1025 137.5h8v4h-8zM1093 141.5h4v4h-4zM1137 149.5h8v4h-8zM1141 153.5h12v4h-12zM1137 157.5h8v4h-8zM1093 165.5h4v4h-4zM1025 169.5h8v4h-8z"/><path fill="#4c98c8" d="M1033 137.5h8v4h-8zM1097 141.5h4v4h-4zM1149 149.5h8v4h-8zM1157 153.5h8v4h-8zM1149 157.5h8v4h-8zM1097 165.5h4v4h-4zM1033 169.5h8v4h-8z"/><path fill="#509ccc" d="M1041 137.5h12v4h-12zM1101 141.5h4v4h-4zM1129 145.5h8v4h-8zM1161 149.5h12v4h-12zM1169 153.5h20v4h-20zM1161 157.5h12v4h-12zM1129 161.5h8v4h-8zM1101 165.5h4v4h-4zM1041 169.5h12v4h-12z"/><path fill="#549ccc" d="M1053 137.5h4v4h-4zM1137 145.5h4v4h-4zM1173 149.5h4v4h-4zM1189 153.5h4v4h-4zM1173 157.5h4v4h-4zM1137 161.5h4v4h-4zM1053 169.5h4v4h-4z"/><path fill="#58a0d0" d="M1057 137.5h4v4h-4zM1109 141.5h4v4h-4zM1149 145.5h4v4h-4zM1185 149.5h8v4h-8zM1185 157.5h8v4h-8zM1149 161.5h4v4h-4zM1109 165.5h4v4h-4zM1057 169.5h4v4h-4z"/><path fill="#60a4d0" d="M1065 137.5h4v4h-4zM1165 145.5h4v4h-4zM1165 161.5h4v4h-4zM1065 169.5h4v4h-4z"/><path fill="#64a8d4" d="M1069 137.5h4v4h-4zM1173 145.5h4v4h-4zM1173 161.5h4v4h-4zM1069 169.5h4v4h-4z"/><path fill="#68acd4" d="M1073 137.5h4v4h-4zM1125 141.5h4v4h-4zM1181 145.5h8v4h-8zM1181 161.5h8v4h-8zM1125 165.5h4v4h-4zM1073 169.5h4v4h-4z"/><path fill="#6cb0d8" d="M1077 137.5h4v4h-4zM1129 141.5h4v4h-4zM1193 145.5h4v4h-4zM1193 161.5h4v4h-4zM1129 165.5h4v4h-4zM1077 169.5h4v4h-4z"/><path fill="#70b0d8" d="M1081 137.5h4v4h-4zM1133 141.5h8v4h-8zM1197 145.5h12v4h-12zM1197 161.5h12v4h-12zM1133 165.5h8v4h-8zM1081 169.5h4v4h-4z"/><path fill="#74b4d8" d="M1085 137.5h4v4h-4zM1141 141.5h8v4h-8zM889 153.5h4v4h-4zM1141 165.5h8v4h-8zM1085 169.5h4v4h-4z"/><path fill="#7cb8d8" d="M1089 137.5h4v4h-4zM1153 141.5h8v4h-8zM1153 165.5h8v4h-8zM1089 169.5h4v4h-4z"/><path fill="#80b8dc" d="M1093 137.5h4v4h-4zM1161 141.5h4v4h-4zM1161 165.5h4v4h-4zM1093 169.5h4v4h-4z"/><path fill="#84bcdc" d="M1097 137.5h4v4h-4zM1165 141.5h8v4h-8zM845 153.5h4v4h-4zM885 153.5h4v4h-4zM1165 165.5h8v4h-8zM1097 169.5h4v4h-4z"/><path fill="#88c0dc" d="M1101 137.5h4v4h-4zM1101 169.5h4v4h-4z"/><path fill="#8cc0dc" d="M1105 137.5h4v4h-4zM1177 141.5h8v4h-8zM881 153.5h4v4h-4zM1177 165.5h8v4h-8zM1105 169.5h4v4h-4z"/><path fill="#90c4e0" d="M1109 137.5h4v4h-4zM1189 141.5h4v4h-4zM873 153.5h4v4h-4zM1189 165.5h4v4h-4zM1109 169.5h4v4h-4z"/><path fill="#94c4e0" d="M1113 137.5h4v4h-4zM1193 141.5h8v4h-8zM865 153.5h8v4h-8zM1193 165.5h8v4h-8zM1113 169.5h4v4h-4z"/><path fill="#98c8e0" d="M1117 137.5h4v4h-4zM1201 141.5h8v4h-8zM861 153.5h4v4h-4zM1201 165.5h8v4h-8zM1117 169.5h4v4h-4z"/><path fill="#9cc8e0" d="M1121 137.5h4v4h-4zM849 153.5h4v4h-4zM857 153.5h4v4h-4zM1121 169.5h4v4h-4z"/><path fill="#a0cce0" d="M1125 137.5h4v4h-4zM853 153.5h4v4h-4zM1125 169.5h4v4h-4z"/><path fill="#a4cce4" d="M1129 137.5h12v4h-12zM1129 169.5h12v4h-12z"/><path fill="#a8cce4" d="M1141 137.5h4v4h-4zM1141 169.5h4v4h-4z"/><path fill="#a8d0e4" d="M1145 137.5h4v4h-4zM1145 169.5h4v4h-4z"/><path fill="#acd0e4" d="M1149 137.5h8v4h-8zM1149 169.5h8v4h-8z"/><path fill="#d8e8f4" d="M833 141.5h4v4h-4zM833 145.5h8v4h-8zM829 149.5h4v4h-4zM829 153.5h4v4h-4zM829 157.5h4v4h-4zM833 161.5h8v4h-8zM833 165.5h4v4h-4z"/><path fill="#dce8f4" d="M837 141.5h4v4h-4zM829 145.5h4v4h-4zM829 161.5h4v4h-4zM837 165.5h4v4h-4z"/><path fill="#105ca4" d="M849 141.5h4v4h-4zM953 141.5h28v4h-28zM1021 145.5h32v4h-32zM873 149.5h20v4h-20zM1045 149.5h16v4h-16zM913 153.5h4v4h-4zM1049 153.5h12v4h-12zM873 157.5h20v4h-20zM1045 157.5h16v4h-16zM1021 161.5h32v4h-32zM849 165.5h4v4h-4zM953 165.5h28v4h-28z"/><path fill="#1058a4" d="M853 141.5h4v4h-4zM945 141.5h8v4h-8zM849 145.5h4v4h-4zM1013 145.5h8v4h-8zM893 149.5h4v4h-4zM1033 149.5h12v4h-12zM1033 153.5h16v4h-16zM893 157.5h4v4h-4zM1033 157.5h12v4h-12zM849 161.5h4v4h-4zM1013 161.5h8v4h-8zM853 165.5h4v4h-4zM945 165.5h8v4h-8z"/><path fill="#0c58a0" d="M857 141.5h8v4h-8zM925 141.5h20v4h-20zM853 145.5h4v4h-4zM981 145.5h32v4h-32zM897 149.5h8v4h-8zM993 149.5h40v4h-40zM993 153.5h40v4h-40zM897 157.5h8v4h-8zM993 157.5h40v4h-40zM853 161.5h4v4h-4zM981 161.5h32v4h-32zM857 165.5h8v4h-8zM925 165.5h20v4h-20z"/><path fill="#0c54a0" d="M865 141.5h4v4h-4zM905 141.5h20v4h-20zM857 145.5h8v4h-8zM957 145.5h24v4h-24zM905 149.5h4v4h-4zM965 149.5h28v4h-28zM917 153.5h4v4h-4zM965 153.5h28v4h-28zM905 157.5h4v4h-4zM965 157.5h28v4h-28zM857 161.5h8v4h-8zM957 161.5h24v4h-24zM865 165.5h4v4h-4zM905 165.5h20v4h-20z"/><path fill="#08549c" d="M869 141.5h4v4h-4zM889 141.5h16v4h-16zM865 145.5h4v4h-4zM933 145.5h24v4h-24zM909 149.5h4v4h-4zM937 149.5h28v4h-28zM937 153.5h28v4h-28zM909 157.5h4v4h-4zM937 157.5h28v4h-28zM865 161.5h4v4h-4zM933 161.5h24v4h-24zM869 165.5h4v4h-4zM889 165.5h16v4h-16z"/><path fill="#08509c" d="M873 141.5h16v4h-16zM869 145.5h4v4h-4zM905 145.5h28v4h-28zM913 149.5h24v4h-24zM921 153.5h16v4h-16zM913 157.5h24v4h-24zM869 161.5h4v4h-4zM905 161.5h28v4h-28zM873 165.5h16v4h-16z"/><path fill="#1460a8" d="M981 141.5h20v4h-20zM1053 145.5h8v4h-8zM861 149.5h12v4h-12zM1061 149.5h4v4h-4zM1061 153.5h4v4h-4zM861 157.5h12v4h-12zM1061 157.5h4v4h-4zM1053 161.5h8v4h-8zM981 165.5h20v4h-20z"/><path fill="#1464a8" d="M1001 141.5h4v4h-4zM1065 149.5h4v4h-4zM1065 153.5h4v4h-4zM1065 157.5h4v4h-4zM1001 165.5h4v4h-4z"/><path fill="#1864ac" d="M1005 141.5h12v4h-12zM1061 145.5h4v4h-4zM853 149.5h8v4h-8zM1069 149.5h4v4h-4zM1069 153.5h4v4h-4zM853 157.5h8v4h-8zM1069 157.5h4v4h-4zM1061 161.5h4v4h-4zM1005 165.5h12v4h-12z"/><path fill="#1868ac" d="M1017 141.5h8v4h-8zM1065 145.5h4v4h-4zM849 149.5h4v4h-4zM849 157.5h4v4h-4zM1065 161.5h4v4h-4zM1017 165.5h8v4h-8z"/><path fill="#1c68b0" d="M1025 141.5h8v4h-8zM1073 149.5h4v4h-4zM909 153.5h4v4h-4zM1073 153.5h4v4h-4zM1073 157.5h4v4h-4zM1025 165.5h8v4h-8z"/><path fill="#1c6cb0" d="M1033 141.5h12v4h-12zM1069 145.5h4v4h-4zM1077 149.5h4v4h-4zM1077 153.5h4v4h-4zM1077 157.5h4v4h-4zM1069 161.5h4v4h-4zM1033 165.5h12v4h-12z"/><path fill="#2070b4" d="M1045 141.5h12v4h-12zM1077 145.5h4v4h-4zM1081 149.5h8v4h-8zM1081 153.5h8v4h-8zM1081 157.5h8v4h-8zM1077 161.5h4v4h-4zM1045 165.5h12v4h-12z"/><path fill="#54a0cc" d="M1105 141.5h4v4h-4zM1141 145.5h8v4h-8zM1177 149.5h8v4h-8zM1193 153.5h16v4h-16zM1177 157.5h8v4h-8zM1141 161.5h8v4h-8zM1105 165.5h4v4h-4z"/><path fill="#60a8d0" d="M1117 141.5h4v4h-4zM1117 165.5h4v4h-4z"/><path fill="#64acd4" d="M1121 141.5h4v4h-4zM1177 145.5h4v4h-4zM1177 161.5h4v4h-4zM1121 165.5h4v4h-4z"/><path fill="#78b4d8" d="M1149 141.5h4v4h-4zM1149 165.5h4v4h-4z"/><path fill="#88bcdc" d="M1173 141.5h4v4h-4zM1173 165.5h4v4h-4z"/><path fill="#90c0dc" d="M1185 141.5h4v4h-4zM877 153.5h4v4h-4zM1185 165.5h4v4h-4z"/><path fill="#085098" d="M873 145.5h32v4h-32zM873 161.5h32v4h-32z"/><path fill="#206cb4" d="M1073 145.5h4v4h-4zM1073 161.5h4v4h-4z"/><path fill="#4898c8" d="M1121 145.5h4v4h-4zM1145 149.5h4v4h-4zM1153 153.5h4v4h-4zM1145 157.5h4v4h-4zM1121 161.5h4v4h-4z"/><path fill="#4c98cc" d="M1125 145.5h4v4h-4zM1157 149.5h4v4h-4zM897 153.5h4v4h-4zM1165 153.5h4v4h-4zM1157 157.5h4v4h-4zM1125 161.5h4v4h-4z"/><path fill="#58a4d0" d="M1153 145.5h4v4h-4zM1193 149.5h4v4h-4zM1193 157.5h4v4h-4zM1153 161.5h4v4h-4z"/><path fill="#60a8d4" d="M1169 145.5h4v4h-4zM893 153.5h4v4h-4zM1169 161.5h4v4h-4z"/><path fill="#6cacd4" d="M1189 145.5h4v4h-4zM1189 161.5h4v4h-4z"/></g></g>
<g clip-path="url(#c4)"><path mask="url(#m3)" d="M852.0,172.4 851.3,172.4 849.8,172.4 848.7,172.1 848.2,171.7 847.7,171.2 847.4,170.6 847.1,169.9 847.0,169.2 846.9,168.8 846.9,168.1 846.8,167.4 846.8,166.7 846.8,165.9 846.8,165.2 846.8,164.5 846.8,163.8 846.8,163.1 846.8,162.3 846.8,161.6 846.8,160.9 846.8,160.2 847.0,159.5 847.1,159.1 847.6,158.4 848.1,158.0 849.1,157.7 850.5,157.8 852.0,157.9 853.4,157.9 854.8,157.8 856.2,157.8 857.7,157.8 859.1,157.8 860.5,157.8 861.9,157.8 863.4,157.7 864.8,157.7 866.2,157.7 867.6,157.7 869.0,157.7 870.1,157.7 871.2,157.6 872.6,157.6 874.0,157.6 875.5,157.6 876.9,157.6 878.3,157.6 879.7,157.6 881.1,157.6 882.6,157.6 884.0,157.6 885.4,157.5 886.8,157.5 888.3,157.4 889.7,157.4 891.1,157.3 891.8,157.3 893.2,157.2 894.7,157.0 895.7,156.9 896.8,156.8 898.2,156.6 898.9,156.4 899.9,156.2 900.8,155.9 901.1,155.5 900.8,155.1 899.9,154.8 898.9,154.6 898.2,154.4 896.8,154.2 895.7,154.1 894.7,154.0 893.2,153.8 891.8,153.7 891.1,153.7 889.7,153.6 888.3,153.6 886.8,153.5 885.4,153.5 884.0,153.4 882.6,153.4 881.1,153.4 879.7,153.4 878.3,153.4 876.9,153.4 875.5,153.4 874.0,153.4 872.6,153.4 871.2,153.4 870.1,153.3 869.0,153.3 867.6,153.3 866.2,153.3 864.8,153.3 863.4,153.3 861.9,153.2 860.5,153.2 859.1,153.2 857.7,153.2 856.2,153.2 854.8,153.2 853.4,153.1 852.0,153.1 850.5,153.2 849.1,153.3 848.1,153.0 847.6,152.6 847.1,151.9 847.0,151.5 846.8,150.8 846.8,150.1 846.8,149.4 846.8,148.7 846.8,147.9 846.8,147.2 846.8,146.5 846.8,145.8 846.8,145.1 846.8,144.3 846.8,143.6 846.9,142.9 846.9,142.2 847.0,141.8 847.1,141.1 847.4,140.4 847.7,139.8 848.2,139.3 848.7,138.9 849.8,138.6 851.3,138.6 852.0,138.6 853.4,138.6 854.8,138.5 856.2,138.5 857.7,138.5 859.1,138.5 860.5,138.5 861.9,138.5 863.4,138.4 864.8,138.4 866.2,138.4 867.6,138.4 869.0,138.4 870.5,138.4 871.9,138.3 873.3,138.3 874.7,138.3 876.2,138.3 877.6,138.3 879.0,138.3 880.4,138.3 881.9,138.3 883.3,138.3 884.7,138.3 886.1,138.3 887.5,138.3 889.0,138.3 890.4,138.3 891.8,138.3 893.2,138.3 894.7,138.3 896.1,138.3 897.5,138.3 898.9,138.3 900.4,138.3 901.8,138.3 903.2,138.3 904.6,138.3 906.1,138.3 907.5,138.3 908.9,138.3 910.3,138.4 911.7,138.4 913.2,138.4 914.6,138.4 916.0,138.4 917.4,138.4 918.9,138.4 920.3,138.4 921.7,138.4 923.1,138.4 924.6,138.4 926.0,138.4 927.4,138.4 928.8,138.4 930.2,138.4 931.7,138.4 933.1,138.4 934.5,138.5 935.9,138.5 937.4,138.5 938.8,138.5 940.2,138.5 941.6,138.5 943.1,138.5 944.5,138.5 945.9,138.5 947.3,138.5 948.7,138.5 950.2,138.5 951.6,138.6 953.0,138.6 954.4,138.6 955.2,138.6 956.6,138.6 958.0,138.6 959.4,138.6 960.8,138.6 962.3,138.6 963.7,138.7 965.1,138.7 966.5,138.7 968.0,138.7 969.4,138.7 970.8,138.7 972.2,138.7 973.7,138.7 975.1,138.8 976.5,138.8 977.9,138.8 979.3,138.8 980.8,138.8 982.2,138.8 983.6,138.8 985.0,138.9 986.5,138.9 987.9,138.9 989.3,138.9 990.0,139.0 991.4,139.0 992.9,139.0 994.3,139.0 995.7,139.1 997.1,139.1 998.6,139.1 1000.0,139.1 1001.4,139.2 1002.8,139.2 1004.3,139.2 1005.7,139.3 1007.1,139.3 1008.0,139.3 1009.2,139.3 1010.7,139.4 1012.1,139.4 1013.5,139.4 1014.9,139.4 1016.4,139.5 1017.8,139.5 1019.2,139.5 1020.6,139.6 1022.0,139.6 1023.5,139.6 1024.6,139.7 1025.6,139.7 1027.0,139.7 1028.5,139.8 1029.9,139.8 1031.3,139.8 1032.7,139.9 1034.1,139.9 1035.6,139.9 1037.0,140.0 1038.4,140.0 1039.5,140.0 1040.5,140.0 1042.0,140.1 1043.4,140.1 1044.8,140.2 1046.2,140.2 1047.7,140.2 1049.1,140.3 1050.5,140.3 1051.9,140.4 1052.9,140.4 1054.1,140.4 1055.5,140.5 1056.9,140.5 1058.3,140.6 1059.8,140.7 1060.5,140.7 1061.9,140.8 1063.3,140.9 1064.7,141.1 1065.5,141.1 1066.9,141.2 1068.3,141.3 1069.7,141.4 1070.4,141.5 1071.9,141.6 1073.3,141.7 1074.1,141.8 1075.4,141.9 1076.8,142.1 1078.0,142.2 1079.0,142.3 1080.4,142.4 1081.7,142.5 1082.5,142.6 1084.0,142.8 1085.1,142.9 1086.1,143.0 1087.5,143.2 1088.3,143.3 1089.7,143.4 1091.1,143.6 1091.8,143.7 1093.2,143.9 1094.3,144.0 1095.3,144.1 1096.8,144.3 1097.5,144.4 1098.9,144.5 1100.2,144.7 1101.0,144.8 1102.5,145.0 1103.2,145.1 1104.6,145.3 1105.4,145.4 1106.7,145.6 1107.8,145.8 1108.9,146.0 1109.9,146.1 1111.0,146.3 1112.0,146.5 1113.1,146.7 1113.8,146.9 1115.3,147.2 1116.0,147.3 1117.2,147.6 1118.1,147.8 1118.8,148.0 1120.0,148.3 1121.0,148.6 1121.7,148.8 1122.4,149.0 1123.4,149.4 1124.3,149.7 1125.1,150.1 1125.8,150.5 1126.5,150.8 1127.0,151.2 1127.5,151.5 1128.1,152.2 1128.4,152.6 1128.8,153.3 1128.9,153.7 1129.1,154.4 1129.2,155.1 1129.2,155.9 1129.1,156.6 1128.9,157.3 1128.8,157.7 1128.4,158.4 1128.1,158.8 1127.5,159.5 1127.0,159.8 1126.5,160.2 1125.8,160.5 1125.1,160.9 1124.3,161.3 1123.4,161.6 1122.4,162.0 1121.7,162.2 1121.0,162.4 1120.0,162.7 1118.8,163.0 1118.1,163.2 1117.2,163.4 1116.0,163.7 1115.3,163.8 1113.8,164.1 1113.1,164.3 1112.0,164.5 1111.0,164.7 1109.9,164.9 1108.9,165.0 1107.8,165.2 1106.7,165.4 1105.4,165.6 1104.6,165.7 1103.2,165.9 1102.5,166.0 1101.0,166.2 1100.2,166.3 1098.9,166.5 1097.5,166.6 1096.8,166.7 1095.3,166.9 1094.3,167.0 1093.2,167.1 1091.8,167.3 1091.1,167.4 1089.7,167.6 1088.3,167.7 1087.5,167.8 1086.1,168.0 1085.1,168.1 1084.0,168.2 1082.5,168.4 1081.7,168.5 1080.4,168.6 1079.0,168.7 1078.0,168.8 1076.8,168.9 1075.4,169.1 1074.1,169.2 1073.3,169.3 1071.9,169.4 1070.4,169.5 1069.7,169.6 1068.3,169.7 1066.9,169.8 1065.5,169.9 1064.7,169.9 1063.3,170.1 1061.9,170.2 1060.5,170.3 1059.8,170.3 1058.3,170.4 1056.9,170.5 1055.5,170.5 1054.1,170.6 1052.9,170.6 1051.9,170.6 1050.5,170.7 1049.1,170.7 1047.7,170.8 1046.2,170.8 1044.8,170.8 1043.4,170.9 1042.0,170.9 1040.5,171.0 1039.5,171.0 1038.4,171.0 1037.0,171.0 1035.6,171.1 1034.1,171.1 1032.7,171.1 1031.3,171.2 1029.9,171.2 1028.5,171.2 1027.0,171.3 1025.6,171.3 1024.6,171.3 1023.5,171.4 1022.0,171.4 1020.6,171.4 1019.2,171.5 1017.8,171.5 1016.4,171.5 1014.9,171.6 1013.5,171.6 1012.1,171.6 1010.7,171.6 1009.2,171.7 1008.0,171.7 1007.1,171.7 1005.7,171.7 1004.3,171.8 1002.8,171.8 1001.4,171.8 1000.0,171.9 998.6,171.9 997.1,171.9 995.7,171.9 994.3,172.0 992.9,172.0 991.4,172.0 990.0,172.0 989.3,172.1 987.9,172.1 986.5,172.1 985.0,172.1 983.6,172.2 982.2,172.2 980.8,172.2 979.3,172.2 977.9,172.2 976.5,172.2 975.1,172.2 973.7,172.3 972.2,172.3 970.8,172.3 969.4,172.3 968.0,172.3 966.5,172.3 965.1,172.3 963.7,172.3 962.3,172.4 960.8,172.4 959.4,172.4 958.0,172.4 956.6,172.4 955.2,172.4 954.4,172.4 953.0,172.4 951.6,172.4 950.2,172.5 948.7,172.5 947.3,172.5 945.9,172.5 944.5,172.5 943.1,172.5 941.6,172.5 940.2,172.5 938.8,172.5 937.4,172.5 935.9,172.5 934.5,172.5 933.1,172.6 931.7,172.6 930.2,172.6 928.8,172.6 927.4,172.6 926.0,172.6 924.6,172.6 923.1,172.6 921.7,172.6 920.3,172.6 918.9,172.6 917.4,172.6 916.0,172.6 914.6,172.6 913.2,172.6 911.7,172.6 910.3,172.6 908.9,172.7 907.5,172.7 906.1,172.7 904.6,172.7 903.2,172.7 901.8,172.7 900.4,172.7 898.9,172.7 897.5,172.7 896.1,172.7 894.7,172.7 893.2,172.7 891.8,172.7 890.4,172.7 889.0,172.7 887.5,172.7 886.1,172.7 884.7,172.7 883.3,172.7 881.9,172.7 880.4,172.7 879.0,172.7 877.6,172.7 876.2,172.7 874.7,172.7 873.3,172.7 871.9,172.7 870.5,172.6 869.0,172.6 867.6,172.6 866.2,172.6 864.8,172.6 863.4,172.6 861.9,172.5 860.5,172.5 859.1,172.5 857.7,172.5 856.2,172.5 854.8,172.5 853.4,172.4 852.0,172.4M1202.8,168.2 1201.4,168.2 1200.0,168.2 1198.5,168.3 1197.1,168.4 1195.7,168.4 1195.0,168.5 1193.5,168.6 1192.1,168.6 1190.7,168.7 1189.3,168.8 1188.3,168.8 1187.1,168.9 1185.7,168.9 1184.3,169.0 1182.9,169.1 1181.5,169.2 1180.7,169.2 1179.3,169.3 1177.9,169.3 1176.5,169.4 1175.0,169.4 1173.6,169.5 1172.9,169.5 1171.5,169.6 1170.1,169.7 1168.6,169.7 1167.2,169.8 1165.8,169.8 1164.5,169.9 1163.7,169.9 1162.2,170.0 1160.8,170.1 1159.4,170.1 1158.0,170.2 1156.5,170.2 1155.6,170.3 1154.4,170.3 1153.0,170.4 1151.6,170.4 1150.1,170.5 1148.7,170.5 1147.3,170.6 1146.1,170.6 1145.2,170.7 1143.7,170.7 1142.3,170.8 1140.9,170.8 1139.5,170.9 1138.0,170.9 1136.6,171.0 1135.9,171.0 1134.5,171.0 1133.1,171.1 1131.6,171.1 1130.2,171.2 1128.8,171.2 1127.4,171.3 1126.7,171.4 1125.2,171.5 1123.8,171.5 1122.4,171.6 1121.3,171.7 1120.3,171.8 1118.8,171.8 1117.4,171.9 1116.0,172.0 1115.0,172.1 1113.8,172.1 1112.4,172.2 1111.0,172.3 1109.6,172.4 1108.3,172.4 1107.4,172.5 1106.0,172.5 1104.6,172.6 1103.2,172.7 1101.7,172.7 1101.0,172.8 1099.6,172.8 1098.2,172.9 1096.8,173.0 1095.3,173.0 1093.9,173.1 1093.1,173.1 1091.8,173.2 1090.4,173.3 1088.9,173.3 1087.5,173.4 1086.1,173.4 1084.9,173.5 1084.0,173.5 1082.5,173.6 1081.1,173.7 1079.7,173.7 1078.3,173.8 1076.8,173.8 1075.5,173.9 1074.7,173.9 1073.3,173.9 1071.9,174.0 1070.4,174.0 1069.0,174.1 1067.6,174.1 1066.2,174.2 1064.7,174.2 1064.0,174.2 1062.6,174.3 1061.2,174.3 1059.8,174.4 1058.3,174.4 1056.9,174.4 1055.5,174.5 1054.1,174.5 1052.6,174.5 1051.2,174.5 1049.8,174.5 1048.4,174.5 1047.0,174.5 1045.5,174.6 1044.1,174.6 1042.7,174.6 1042.0,174.6 1040.5,174.6 1039.1,174.6 1037.7,174.6 1036.3,174.6 1034.9,174.6 1033.4,174.7 1032.0,174.7 1030.6,174.7 1029.2,174.7 1027.7,174.7 1026.3,174.7 1024.9,174.7 1023.5,174.7 1022.0,174.8 1020.6,174.8 1019.2,174.8 1017.8,174.8 1016.4,174.8 1014.9,174.8 1013.5,174.8 1012.1,174.8 1010.7,174.8 1009.2,174.9 1007.8,174.9 1006.4,174.9 1005.0,174.9 1003.5,174.9 1002.1,174.9 1000.7,174.9 999.3,174.9 998.0,174.9 997.1,174.9 995.7,175.0 994.3,175.0 992.9,175.0 991.4,175.0 990.0,175.0 988.6,175.0 987.2,175.0 985.8,175.0 984.3,175.0 982.9,175.0 981.5,175.0 980.1,175.0 978.6,175.0 977.2,175.0 975.8,175.0 974.4,175.0 972.9,175.0 971.5,175.0 970.1,175.0 968.7,175.0 967.3,175.0 965.8,175.0 964.4,175.0 963.0,175.0 961.6,174.9 960.1,174.9 959.4,174.9 958.0,174.9 956.6,174.9 955.2,174.9 953.7,174.9 952.3,174.9 950.9,174.9 949.5,174.9 948.0,174.9 946.6,174.9 945.2,174.9 943.8,174.9 942.3,174.9 940.9,174.9 939.5,174.9 938.1,174.8 936.7,174.8 935.2,174.8 933.8,174.8 932.4,174.8 931.0,174.8 929.5,174.8 928.1,174.8 926.7,174.8 925.3,174.8 923.8,174.8 922.4,174.8 921.0,174.8 919.6,174.8 918.1,174.8 916.7,174.7 915.3,174.7 913.9,174.7 912.5,174.7 911.0,174.7 909.6,174.7 908.2,174.7 906.8,174.7 905.3,174.7 903.9,174.7 902.5,174.7 901.1,174.7 899.6,174.7 898.2,174.6 896.8,174.6 895.4,174.6 894.0,174.6 892.5,174.6 891.1,174.6 889.7,174.6 888.3,174.6 886.8,174.6 885.6,174.6 884.7,174.6 883.3,174.6 881.9,174.6 880.4,174.6 879.0,174.5 877.6,174.5 876.2,174.5 874.7,174.5 873.3,174.5 871.9,174.5 870.5,174.5 869.0,174.4 867.6,174.4 866.2,174.4 864.8,174.4 863.4,174.4 861.9,174.4 860.5,174.3 859.1,174.3 857.7,174.3 856.2,174.3 854.8,174.3 853.4,174.3 852.0,174.3 850.5,174.2 849.7,174.2 848.4,174.0 847.7,173.8 847.0,173.5 846.3,173.0 845.6,172.4 845.4,172.1 845.1,171.3 844.9,170.6 844.8,170.3 844.7,169.5 844.6,168.8 844.5,168.1 844.5,167.4 844.5,166.7 844.5,165.9 844.5,165.2 844.5,164.5 844.4,163.8 844.4,163.1 844.4,162.3 844.4,161.6 844.4,160.9 844.4,160.2 844.5,159.5 844.5,158.7 844.6,158.0 844.8,157.3 844.9,156.9 845.1,156.2 845.2,155.5 845.1,154.8 844.9,154.1 844.8,153.7 844.6,153.0 844.5,152.3 844.5,151.5 844.4,150.8 844.4,150.1 844.4,149.4 844.4,148.7 844.4,147.9 844.4,147.2 844.5,146.5 844.5,145.8 844.5,145.1 844.5,144.3 844.5,143.6 844.5,142.9 844.6,142.2 844.7,141.5 844.8,140.7 844.9,140.4 845.1,139.7 845.4,138.9 845.6,138.6 846.3,138.0 847.0,137.5 847.7,137.2 848.4,137.0 849.7,136.8 850.5,136.8 852.0,136.7 853.4,136.7 854.8,136.7 856.2,136.7 857.7,136.7 859.1,136.7 860.5,136.7 861.9,136.6 863.4,136.6 864.8,136.6 866.2,136.6 867.6,136.6 869.0,136.6 870.5,136.5 871.9,136.5 873.3,136.5 874.7,136.5 876.2,136.5 877.6,136.5 879.0,136.5 880.4,136.4 881.9,136.4 883.3,136.4 884.7,136.4 885.6,136.4 886.8,136.4 888.3,136.4 889.7,136.4 891.1,136.4 892.5,136.4 894.0,136.4 895.4,136.4 896.8,136.4 898.2,136.4 899.6,136.3 901.1,136.3 902.5,136.3 903.9,136.3 905.3,136.3 906.8,136.3 908.2,136.3 909.6,136.3 911.0,136.3 912.5,136.3 913.9,136.3 915.3,136.3 916.7,136.3 918.1,136.2 919.6,136.2 921.0,136.2 922.4,136.2 923.8,136.2 925.3,136.2 926.7,136.2 928.1,136.2 929.5,136.2 931.0,136.2 932.4,136.2 933.8,136.2 935.2,136.2 936.7,136.2 938.1,136.2 939.5,136.1 940.9,136.1 942.3,136.1 943.8,136.1 945.2,136.1 946.6,136.1 948.0,136.1 949.5,136.1 950.9,136.1 952.3,136.1 953.7,136.1 955.2,136.1 956.6,136.1 958.0,136.1 959.4,136.1 960.1,136.1 961.6,136.1 963.0,136.0 964.4,136.0 965.8,136.0 967.3,136.0 968.7,136.0 970.1,136.0 971.5,136.0 972.9,136.0 974.4,136.0 975.8,136.0 977.2,136.0 978.6,136.0 980.1,136.0 981.5,136.0 982.9,136.0 984.3,136.0 985.8,136.0 987.2,136.0 988.6,136.0 990.0,136.0 991.4,136.0 992.9,136.0 994.3,136.0 995.7,136.0 997.1,136.1 998.0,136.1 999.3,136.1 1000.7,136.1 1002.1,136.1 1003.5,136.1 1005.0,136.1 1006.4,136.1 1007.8,136.1 1009.2,136.1 1010.7,136.2 1012.1,136.2 1013.5,136.2 1014.9,136.2 1016.4,136.2 1017.8,136.2 1019.2,136.2 1020.6,136.2 1022.0,136.2 1023.5,136.3 1024.9,136.3 1026.3,136.3 1027.7,136.3 1029.2,136.3 1030.6,136.3 1032.0,136.3 1033.4,136.3 1034.9,136.4 1036.3,136.4 1037.7,136.4 1039.1,136.4 1040.5,136.4 1042.0,136.4 1042.7,136.4 1044.1,136.4 1045.5,136.4 1047.0,136.5 1048.4,136.5 1049.8,136.5 1051.2,136.5 1052.6,136.5 1054.1,136.5 1055.5,136.5 1056.9,136.6 1058.3,136.6 1059.8,136.6 1061.2,136.7 1062.6,136.7 1064.0,136.8 1064.7,136.8 1066.2,136.8 1067.6,136.9 1069.0,136.9 1070.4,137.0 1071.9,137.0 1073.3,137.1 1074.7,137.1 1075.5,137.1 1076.8,137.2 1078.3,137.2 1079.7,137.3 1081.1,137.3 1082.5,137.4 1084.0,137.5 1084.9,137.5 1086.1,137.6 1087.5,137.6 1088.9,137.7 1090.4,137.7 1091.8,137.8 1093.1,137.9 1093.9,137.9 1095.3,138.0 1096.8,138.0 1098.2,138.1 1099.6,138.2 1101.0,138.2 1101.7,138.3 1103.2,138.3 1104.6,138.4 1106.0,138.5 1107.4,138.5 1108.3,138.6 1109.6,138.6 1111.0,138.7 1112.4,138.8 1113.8,138.9 1115.0,138.9 1116.0,139.0 1117.4,139.1 1118.8,139.2 1120.3,139.2 1121.3,139.3 1122.4,139.4 1123.8,139.5 1125.2,139.5 1126.7,139.6 1127.4,139.7 1128.8,139.8 1130.2,139.8 1131.6,139.9 1133.1,139.9 1134.5,140.0 1135.9,140.0 1136.6,140.0 1138.0,140.1 1139.5,140.1 1140.9,140.2 1142.3,140.2 1143.7,140.3 1145.2,140.3 1146.1,140.4 1147.3,140.4 1148.7,140.5 1150.1,140.5 1151.6,140.6 1153.0,140.6 1154.4,140.7 1155.6,140.7 1156.5,140.8 1158.0,140.8 1159.4,140.9 1160.8,140.9 1162.2,141.0 1163.7,141.1 1164.5,141.1 1165.8,141.2 1167.2,141.2 1168.6,141.3 1170.1,141.3 1171.5,141.4 1172.9,141.5 1173.6,141.5 1175.0,141.6 1176.5,141.6 1177.9,141.7 1179.3,141.7 1180.7,141.8 1181.5,141.8 1182.9,141.9 1184.3,142.0 1185.7,142.1 1187.1,142.1 1188.3,142.2 1189.3,142.2 1190.7,142.3 1192.1,142.4 1193.5,142.4 1195.0,142.5 1195.7,142.6 1197.1,142.6 1198.5,142.7 1200.0,142.8 1201.4,142.8 1202.8,142.8M851.2,155.5 852.0,155.8 853.4,155.7 854.8,155.5 854.8,155.5 853.4,155.3 852.0,155.2 851.2,155.5M1202.8,178.5 1201.4,178.5 1200.0,178.5 1198.5,178.5 1197.1,178.5 1195.7,178.4 1194.3,178.4 1192.8,178.4 1191.4,178.4 1190.0,178.4 1188.6,178.4 1187.1,178.4 1185.7,178.4 1184.3,178.4 1182.9,178.4 1181.5,178.4 1180.0,178.4 1178.6,178.4 1177.2,178.4 1175.8,178.4 1174.3,178.4 1172.9,178.4 1171.5,178.4 1170.1,178.4 1168.6,178.4 1167.2,178.4 1165.8,178.4 1164.4,178.4 1162.9,178.4 1161.5,178.4 1160.1,178.4 1158.7,178.4 1157.3,178.4 1155.8,178.4 1154.4,178.4 1153.0,178.4 1151.6,178.4 1150.1,178.3 1148.7,178.3 1147.3,178.3 1145.9,178.3 1144.4,178.3 1143.0,178.3 1141.6,178.3 1140.2,178.3 1138.8,178.3 1137.3,178.3 1135.9,178.3 1134.5,178.3 1133.1,178.3 1131.6,178.3 1130.2,178.3 1128.8,178.3 1127.4,178.4 1125.9,178.4 1124.5,178.4 1123.1,178.4 1121.7,178.5 1120.3,178.5 1118.8,178.5 1117.4,178.5 1116.0,178.5 1115.3,178.5 1113.8,178.6 1112.4,178.6 1111.0,178.6 1109.6,178.6 1108.2,178.6 1106.7,178.6 1105.3,178.7 1103.9,178.7 1102.5,178.7 1101.0,178.7 1099.6,178.7 1098.2,178.7 1096.8,178.8 1095.3,178.8 1093.9,178.8 1092.5,178.8 1091.1,178.8 1089.7,178.8 1088.2,178.8 1086.8,178.8 1085.4,178.8 1084.0,178.7 1082.5,178.7 1081.1,178.7 1079.7,178.7 1078.3,178.7 1076.8,178.7 1075.4,178.7 1074.0,178.7 1072.6,178.7 1071.1,178.7 1069.7,178.7 1068.3,178.7 1066.9,178.7 1065.5,178.6 1064.0,178.6 1062.6,178.6 1061.2,178.6 1059.8,178.6 1058.3,178.6 1056.9,178.6 1055.5,178.6 1054.1,178.6 1052.6,178.5 1051.9,178.5 1050.5,178.5 1049.1,178.5 1047.7,178.5 1046.2,178.5 1044.8,178.5 1043.4,178.4 1042.0,178.4 1040.5,178.4 1039.1,178.4 1037.7,178.4 1036.3,178.4 1034.9,178.4 1033.4,178.3 1032.0,178.3 1030.6,178.3 1029.2,178.3 1027.7,178.3 1026.3,178.3 1024.9,178.3 1023.5,178.2 1022.0,178.2 1020.6,178.2 1019.2,178.2 1017.8,178.2 1016.4,178.2 1015.6,178.2 1014.2,178.2 1012.8,178.2 1011.4,178.1 1009.9,178.1 1008.5,178.1 1007.1,178.1 1005.7,178.1 1004.3,178.1 1002.8,178.1 1001.4,178.1 1000.0,178.1 998.6,178.1 997.1,178.1 995.7,178.0 994.3,178.0 992.9,178.0 991.4,178.0 990.0,178.0 988.6,178.0 987.2,178.0 985.8,178.0 984.3,178.0 982.9,178.0 981.5,177.9 980.1,177.9 978.6,177.9 977.2,177.8 976.1,177.8 975.1,177.8 973.7,177.8 972.2,177.8 970.8,177.7 969.4,177.7 968.0,177.7 966.5,177.7 965.1,177.6 963.7,177.6 962.3,177.6 960.8,177.6 959.4,177.5 958.0,177.5 956.6,177.5 955.2,177.5 954.4,177.4 953.0,177.4 951.6,177.4 950.2,177.4 948.7,177.4 947.3,177.3 945.9,177.3 944.5,177.3 943.1,177.3 941.6,177.3 940.2,177.2 938.8,177.2 937.4,177.2 935.9,177.2 934.5,177.1 933.1,177.1 932.0,177.1 931.0,177.1 929.5,177.1 928.1,177.0 926.7,177.0 925.3,177.0 923.8,177.0 922.4,177.0 921.0,176.9 919.6,176.9 918.1,176.9 916.7,176.9 915.3,176.9 913.9,176.8 912.5,176.8 911.0,176.8 909.6,176.8 908.2,176.8 906.8,176.7 906.1,176.7 904.6,176.7 903.2,176.7 901.8,176.7 900.4,176.7 898.9,176.6 897.5,176.6 896.1,176.6 894.7,176.6 893.2,176.6 891.8,176.5 890.4,176.5 889.0,176.5 887.5,176.5 886.1,176.5 884.7,176.5 883.3,176.4 881.9,176.4 880.4,176.4 879.2,176.4 878.3,176.4 876.9,176.4 875.5,176.3 874.0,176.3 872.6,176.3 871.2,176.3 869.8,176.3 868.3,176.2 866.9,176.2 865.5,176.2 864.1,176.2 862.6,176.1 861.2,176.1 859.8,176.1 858.4,176.1 856.9,176.1 855.5,176.0 854.4,176.0 853.4,176.0 852.0,176.0 850.5,176.0 849.1,175.9 847.7,175.8 847.0,175.7 845.6,175.4 844.9,175.2 844.1,174.9 843.4,174.6 842.7,174.0 842.3,173.5 842.0,172.9 841.8,172.4 841.5,171.7 841.4,171.0 841.3,170.3 841.2,169.9 840.9,169.2 840.7,168.5 840.6,168.0 840.5,168.5 840.2,169.2 840.0,169.9 839.9,170.3 839.6,171.0 839.3,171.7 839.1,172.1 838.6,172.8 838.2,173.1 837.0,173.3 836.3,173.0 835.6,172.8 834.8,172.4 834.1,172.1 833.5,171.7 832.8,171.2 832.0,170.7 831.5,170.3 831.1,169.9 830.6,169.5 830.0,168.8 829.7,168.5 829.2,167.9 828.8,167.4 828.5,167.0 828.0,166.3 827.8,165.9 827.4,165.2 827.1,164.6 826.8,164.1 826.5,163.4 826.3,163.0 826.1,162.3 825.9,161.6 825.7,160.9 825.6,160.5 825.4,159.8 825.3,159.1 825.2,158.4 825.1,157.7 825.0,156.9 825.0,156.2 825.0,155.5 825.0,154.8 825.0,154.1 825.1,153.3 825.2,152.6 825.3,151.9 825.4,151.2 825.6,150.5 825.7,150.1 825.9,149.4 826.1,148.7 826.3,148.0 826.5,147.6 826.8,146.9 827.1,146.4 827.4,145.8 827.8,145.1 828.0,144.7 828.5,144.0 828.8,143.6 829.2,143.1 829.7,142.5 830.0,142.2 830.6,141.5 831.1,141.1 831.5,140.7 832.0,140.3 832.8,139.8 833.5,139.3 834.1,138.9 834.8,138.6 835.6,138.2 836.3,138.0 837.0,137.7 838.2,137.9 838.6,138.2 839.1,138.9 839.3,139.3 839.6,140.0 839.9,140.7 840.0,141.1 840.2,141.8 840.5,142.5 840.6,143.0 840.7,142.5 840.9,141.8 841.2,141.1 841.3,140.7 841.4,140.0 841.5,139.3 841.8,138.6 842.0,138.1 842.3,137.5 842.7,137.0 843.4,136.4 844.1,136.1 844.9,135.8 845.6,135.6 847.0,135.3 847.7,135.2 849.1,135.1 850.5,135.0 852.0,135.0 853.4,135.0 854.4,135.0 855.5,135.0 856.9,134.9 858.4,134.9 859.8,134.9 861.2,134.9 862.6,134.9 864.1,134.8 865.5,134.8 866.9,134.8 868.3,134.8 869.8,134.7 871.2,134.7 872.6,134.7 874.0,134.7 875.5,134.7 876.9,134.6 878.3,134.6 879.2,134.6 880.4,134.6 881.9,134.6 883.3,134.6 884.7,134.5 886.1,134.5 887.5,134.5 889.0,134.5 890.4,134.5 891.8,134.5 893.2,134.4 894.7,134.4 896.1,134.4 897.5,134.4 898.9,134.4 900.4,134.3 901.8,134.3 903.2,134.3 904.6,134.3 906.1,134.3 906.8,134.3 908.2,134.2 909.6,134.2 911.0,134.2 912.5,134.2 913.9,134.2 915.3,134.1 916.7,134.1 918.1,134.1 919.6,134.1 921.0,134.1 922.4,134.0 923.8,134.0 925.3,134.0 926.7,134.0 928.1,134.0 929.5,133.9 931.0,133.9 932.0,133.9 933.1,133.9 934.5,133.9 935.9,133.8 937.4,133.8 938.8,133.8 940.2,133.8 941.6,133.7 943.1,133.7 944.5,133.7 945.9,133.7 947.3,133.7 948.7,133.6 950.2,133.6 951.6,133.6 953.0,133.6 954.4,133.6 955.2,133.5 956.6,133.5 958.0,133.5 959.4,133.5 960.8,133.4 962.3,133.4 963.7,133.4 965.1,133.4 966.5,133.3 968.0,133.3 969.4,133.3 970.8,133.3 972.2,133.2 973.7,133.2 975.1,133.2 976.1,133.2 977.2,133.2 978.6,133.1 980.1,133.1 981.5,133.1 982.9,133.0 984.3,133.0 985.8,133.0 987.2,133.0 988.6,133.0 990.0,133.0 991.4,133.0 992.9,133.0 994.3,133.0 995.7,133.0 997.1,132.9 998.6,132.9 1000.0,132.9 1001.4,132.9 1002.8,132.9 1004.3,132.9 1005.7,132.9 1007.1,132.9 1008.5,132.9 1009.9,132.9 1011.4,132.9 1012.8,132.8 1014.2,132.8 1015.6,132.8 1016.4,132.8 1017.8,132.8 1019.2,132.8 1020.6,132.8 1022.0,132.8 1023.5,132.8 1024.9,132.7 1026.3,132.7 1027.7,132.7 1029.2,132.7 1030.6,132.7 1032.0,132.7 1033.4,132.7 1034.9,132.6 1036.3,132.6 1037.7,132.6 1039.1,132.6 1040.5,132.6 1042.0,132.6 1043.4,132.6 1044.8,132.5 1046.2,132.5 1047.7,132.5 1049.1,132.5 1050.5,132.5 1051.9,132.5 1052.6,132.5 1054.1,132.4 1055.5,132.4 1056.9,132.4 1058.3,132.4 1059.8,132.4 1061.2,132.4 1062.6,132.4 1064.0,132.4 1065.5,132.4 1066.9,132.3 1068.3,132.3 1069.7,132.3 1071.1,132.3 1072.6,132.3 1074.0,132.3 1075.4,132.3 1076.8,132.3 1078.3,132.3 1079.7,132.3 1081.1,132.3 1082.5,132.3 1084.0,132.3 1085.4,132.2 1086.8,132.2 1088.2,132.2 1089.7,132.2 1091.1,132.2 1092.5,132.2 1093.9,132.2 1095.3,132.2 1096.8,132.2 1098.2,132.3 1099.6,132.3 1101.0,132.3 1102.5,132.3 1103.9,132.3 1105.3,132.3 1106.7,132.4 1108.2,132.4 1109.6,132.4 1111.0,132.4 1112.4,132.4 1113.8,132.4 1115.3,132.5 1116.0,132.5 1117.4,132.5 1118.8,132.5 1120.3,132.5 1121.7,132.5 1123.1,132.6 1124.5,132.6 1125.9,132.6 1127.4,132.6 1128.8,132.7 1130.2,132.7 1131.6,132.7 1133.1,132.7 1134.5,132.7 1135.9,132.7 1137.3,132.7 1138.8,132.7 1140.2,132.7 1141.6,132.7 1143.0,132.7 1144.4,132.7 1145.9,132.7 1147.3,132.7 1148.7,132.7 1150.1,132.7 1151.6,132.6 1153.0,132.6 1154.4,132.6 1155.8,132.6 1157.3,132.6 1158.7,132.6 1160.1,132.6 1161.5,132.6 1162.9,132.6 1164.4,132.6 1165.8,132.6 1167.2,132.6 1168.6,132.6 1170.1,132.6 1171.5,132.6 1172.9,132.6 1174.3,132.6 1175.8,132.6 1177.2,132.6 1178.6,132.6 1180.0,132.6 1181.5,132.6 1182.9,132.6 1184.3,132.6 1185.7,132.6 1187.1,132.6 1188.6,132.6 1190.0,132.6 1191.4,132.6 1192.8,132.6 1194.3,132.6 1195.7,132.6 1197.1,132.5 1198.5,132.5 1200.0,132.5 1201.4,132.5 1202.8,132.5" fill="none" stroke="#111" stroke-width="1.7" stroke-dasharray="0.01 3.0" stroke-linecap="round"/></g>
<text x="949.2" y="136.5" font-size="13" font-family="'Liberation Serif', 'Times New Roman', serif" text-anchor="middle" fill="#222">0.9</text>
<text x="1005.0" y="140.4" font-size="13" font-family="'Liberation Serif', 'Times New Roman', serif" text-anchor="middle" fill="#222">0.7</text>
<text x="1041.2" y="146.4" font-size="13" font-family="'Liberation Serif', 'Times New Roman', serif" text-anchor="middle" fill="#222">0.5</text>
<text x="993.0" y="174.5" font-size="13" font-family="'Liberation Serif', 'Times New Roman', serif" text-anchor="middle" fill="#222">0.5</text>
<text x="1029.1" y="181.1" font-size="13" font-family="'Liberation Serif', 'Times New Roman', serif" text-anchor="middle" fill="#222">0.9</text>
<text x="1142.2" y="173.0" font-size="13" font-family="'Liberation Serif', 'Times New Roman', serif" text-anchor="middle" fill="#222">0.7</text>
<rect x="805.0" y="101.5" width="396.0" height="108.0" fill="none" stroke="#000" stroke-width="2"/>
<line x1="841.0" y1="209.5" x2="841.0" y2="218.5" stroke="#000" stroke-width="2"/>
<text x="841.0" y="242.5" font-size="18.5" font-family="'Liberation Serif', 'Times New Roman', serif" text-anchor="middle">0</text>
<line x1="913.0" y1="209.5" x2="913.0" y2="218.5" stroke="#000" stroke-width="2"/>
<text x="913.0" y="242.5" font-size="18.5" font-family="'Liberation Serif', 'Times New Roman', serif" text-anchor="middle">2</text>
<line x1="985.0" y1="209.5" x2="985.0" y2="218.5" stroke="#000" stroke-width="2"/>
<text x="985.0" y="242.5" font-size="18.5" font-family="'Liberation Serif', 'Times New Roman', serif" text-anchor="middle">4</text>
<line x1="1057.0" y1="209.5" x2="1057.0" y2="218.5" stroke="#000" stroke-width="2"/>
<text x="1057.0" y="242.5" font-size="18.5" font-family="'Liberation Serif', 'Times New Roman', serif" text-anchor="middle">6</text>
<line x1="1129.0" y1="209.5" x2="1129.0" y2="218.5" stroke="#000" stroke-width="2"/>
<text x="1129.0" y="242.5" font-size="18.5" font-family="'Liberation Serif', 'Times New Roman', serif" text-anchor="middle">8</text>
<line x1="1201.0" y1="209.5" x2="1201.0" y2="218.5" stroke="#000" stroke-width="2"/>
<text x="1201.0" y="242.5" font-size="18.5" font-family="'Liberation Serif', 'Times New Roman', serif" text-anchor="middle">10</text>
<line x1="795.0" y1="119.5" x2="805.0" y2="119.5" stroke="#000" stroke-width="2"/>
<text x="785.0" y="126.5" font-size="18.5" font-family="'Liberation Serif', 'Times New Roman', serif" text-anchor="end">1</text>
<line x1="795.0" y1="155.5" x2="805.0" y2="155.5" stroke="#000" stroke-width="2"/>
<text x="785.0" y="162.5" font-size="18.5" font-family="'Liberation Serif', 'Times New Roman', serif" text-anchor="end">0</text>
<line x1="795.0" y1="191.5" x2="805.0" y2="191.5" stroke="#000" stroke-width="2"/>
<text x="784.0" y="198.5" font-size="18.5" font-family="'Liberation Serif', 'Times New Roman', serif" text-anchor="end" textLength="23.5" lengthAdjust="spacingAndGlyphs">−1</text>
<text x="1003.0" y="274.5" font-size="21.5" font-family="'Liberation Serif', 'Times New Roman', serif" text-anchor="middle"><tspan font-style="italic">x</tspan><tspan dx="1">/</tspan><tspan font-style="italic" dx="1">D</tspan></text>
<text transform="translate(743.0,155.5) rotate(-90)" font-size="21.5" font-family="'Liberation Serif', 'Times New Roman', serif" text-anchor="middle"><tspan font-style="italic">y</tspan><tspan dx="1">/</tspan><tspan font-style="italic" dx="1">D</tspan></text>
<polygon points="841.0,136.8 848.9,151.9 841.0,154.8" fill="#fff" stroke="#000" stroke-width="3" stroke-linejoin="miter"/>
<polygon points="841.0,174.2 848.9,159.1 841.0,156.2" fill="#fff" stroke="#000" stroke-width="3" stroke-linejoin="miter"/>
<circle cx="843" cy="155.5" r="3.5" fill="#000"/>
<line x1="839" y1="155.5" x2="850.0" y2="155.5" stroke="#000" stroke-width="3"/>
<polygon points="922.4,85.3 931.2,81.3 1075.0,81.3 1083.0,85.3 1075.0,89.4 931.2,89.4" fill="url(#g5)" stroke="#000" stroke-width="2" stroke-linejoin="miter"/>
<line x1="931.2" y1="72.5" x2="931.2" y2="81.3" stroke="#000" stroke-width="2"/>
<line x1="967.2" y1="72.5" x2="967.2" y2="81.3" stroke="#000" stroke-width="2"/>
<line x1="1003.1" y1="72.5" x2="1003.1" y2="81.3" stroke="#000" stroke-width="2"/>
<line x1="1039" y1="72.5" x2="1039" y2="81.3" stroke="#000" stroke-width="2"/>
<line x1="1075" y1="72.5" x2="1075" y2="81.3" stroke="#000" stroke-width="2"/>
<text x="931.2" y="58.1" font-size="20.5" font-family="'Liberation Sans', Arial, sans-serif" text-anchor="middle">0.2</text>
<text x="967.2" y="58.1" font-size="20.5" font-family="'Liberation Sans', Arial, sans-serif" text-anchor="middle">0.4</text>
<text x="1003.1" y="58.1" font-size="20.5" font-family="'Liberation Sans', Arial, sans-serif" text-anchor="middle">0.6</text>
<text x="1039.0" y="58.1" font-size="20.5" font-family="'Liberation Sans', Arial, sans-serif" text-anchor="middle">0.8</text>
<text x="1075.0" y="58.1" font-size="20.5" font-family="'Liberation Sans', Arial, sans-serif" text-anchor="middle">1.0</text>
<text x="835.0" y="91.0" font-size="23.5" font-family="'Liberation Serif', 'Times New Roman', serif"><tspan font-style="italic">u̅</tspan><tspan font-style="italic" font-size="18" dy="5">x</tspan><tspan dy="-5" dx="9">/</tspan><tspan font-style="italic">U</tspan><tspan font-size="16" dy="2">∞</tspan></text>
<g clip-path="url(#c6)"><g filter="url(#f7)" shape-rendering="crispEdges"><path fill="#f8fcff" d="M797 1582.7h412v4h-412zM797 1586.7h384v4h-384zM797 1590.7h356v4h-356zM797 1594.7h28v4h-28zM841 1594.7h284v4h-284zM797 1598.7h20v4h-20zM845 1598.7h252v4h-252zM797 1602.7h16v4h-16zM845 1602.7h212v4h-212zM797 1606.7h12v4h-12zM845 1606.7h152v4h-152zM797 1610.7h8v4h-8zM845 1610.7h92v4h-92zM797 1614.7h8v4h-8zM845 1614.7h56v4h-56zM797 1618.7h4v4h-4zM845 1618.7h16v4h-16zM797 1622.7h4v4h-4zM797 1662.7h4v4h-4zM797 1666.7h4v4h-4zM845 1666.7h16v4h-16zM797 1670.7h8v4h-8zM845 1670.7h56v4h-56zM797 1674.7h8v4h-8zM845 1674.7h92v4h-92zM797 1678.7h12v4h-12zM845 1678.7h152v4h-152zM797 1682.7h16v4h-16zM845 1682.7h212v4h-212zM797 1686.7h20v4h-20zM845 1686.7h252v4h-252zM797 1690.7h28v4h-28zM841 1690.7h284v4h-284zM797 1694.7h356v4h-356zM797 1698.7h384v4h-384zM797 1702.7h412v4h-412z"/><path fill="#f4f8ff" d="M1181 1586.7h28v4h-28zM1153 1590.7h44v4h-44zM825 1594.7h16v4h-16zM1125 1594.7h36v4h-36zM817 1598.7h16v4h-16zM841 1598.7h4v4h-4zM1097 1598.7h28v4h-28zM813 1602.7h8v4h-8zM841 1602.7h4v4h-4zM1057 1602.7h36v4h-36zM809 1606.7h8v4h-8zM997 1606.7h48v4h-48zM805 1610.7h8v4h-8zM937 1610.7h16v4h-16zM805 1614.7h4v4h-4zM901 1614.7h12v4h-12zM801 1618.7h8v4h-8zM861 1618.7h4v4h-4zM801 1622.7h4v4h-4zM797 1626.7h8v4h-8zM797 1630.7h4v4h-4zM797 1634.7h4v4h-4zM797 1638.7h4v4h-4zM797 1642.7h4v4h-4zM797 1646.7h4v4h-4zM797 1650.7h4v4h-4zM797 1654.7h4v4h-4zM797 1658.7h8v4h-8zM801 1662.7h4v4h-4zM801 1666.7h8v4h-8zM861 1666.7h4v4h-4zM805 1670.7h4v4h-4zM901 1670.7h12v4h-12zM805 1674.7h8v4h-8zM937 1674.7h16v4h-16zM809 1678.7h8v4h-8zM997 1678.7h48v4h-48zM813 1682.7h8v4h-8zM841 1682.7h4v4h-4zM1057 1682.7h36v4h-36zM817 1686.7h16v4h-16zM841 1686.7h4v4h-4zM1097 1686.7h28v4h-28zM825 1690.7h16v4h-16zM1125 1690.7h36v4h-36zM1153 1694.7h44v4h-44zM1181 1698.7h28v4h-28z"/><path fill="#f4f8fc" d="M1197 1590.7h12v4h-12zM1161 1594.7h48v4h-48zM833 1598.7h8v4h-8zM1125 1598.7h40v4h-40zM821 1602.7h20v4h-20zM1093 1602.7h32v4h-32zM817 1606.7h8v4h-8zM841 1606.7h4v4h-4zM1045 1606.7h32v4h-32zM813 1610.7h8v4h-8zM841 1610.7h4v4h-4zM953 1610.7h40v4h-40zM809 1614.7h8v4h-8zM913 1614.7h12v4h-12zM809 1618.7h4v4h-4zM865 1618.7h8v4h-8zM805 1622.7h4v4h-4zM805 1626.7h4v4h-4zM801 1630.7h8v4h-8zM801 1634.7h4v4h-4zM801 1638.7h4v4h-4zM801 1642.7h4v4h-4zM801 1646.7h4v4h-4zM801 1650.7h4v4h-4zM801 1654.7h8v4h-8zM805 1658.7h4v4h-4zM805 1662.7h4v4h-4zM809 1666.7h4v4h-4zM865 1666.7h8v4h-8zM809 1670.7h8v4h-8zM913 1670.7h12v4h-12zM813 1674.7h8v4h-8zM841 1674.7h4v4h-4zM953 1674.7h40v4h-40zM817 1678.7h8v4h-8zM841 1678.7h4v4h-4zM1045 1678.7h32v4h-32zM821 1682.7h20v4h-20zM1093 1682.7h32v4h-32zM833 1686.7h8v4h-8zM1125 1686.7h40v4h-40zM1161 1690.7h48v4h-48zM1197 1694.7h12v4h-12z"/><path fill="#f0f8fc" d="M1165 1598.7h44v4h-44zM1125 1602.7h32v4h-32zM825 1606.7h16v4h-16zM1077 1606.7h32v4h-32zM821 1610.7h4v4h-4zM993 1610.7h44v4h-44zM817 1614.7h4v4h-4zM841 1614.7h4v4h-4zM925 1614.7h12v4h-12zM813 1618.7h4v4h-4zM809 1622.7h4v4h-4zM809 1626.7h4v4h-4zM809 1630.7h4v4h-4zM805 1634.7h4v4h-4zM805 1638.7h4v4h-4zM805 1642.7h4v4h-4zM805 1646.7h4v4h-4zM805 1650.7h4v4h-4zM809 1654.7h4v4h-4zM809 1658.7h4v4h-4zM809 1662.7h4v4h-4zM813 1666.7h4v4h-4zM817 1670.7h4v4h-4zM841 1670.7h4v4h-4zM925 1670.7h12v4h-12zM821 1674.7h4v4h-4zM993 1674.7h44v4h-44zM825 1678.7h16v4h-16zM1077 1678.7h32v4h-32zM1125 1682.7h32v4h-32zM1165 1686.7h44v4h-44z"/><path fill="#f0f4fc" d="M1157 1602.7h52v4h-52zM1109 1606.7h16v4h-16zM825 1610.7h8v4h-8zM1037 1610.7h20v4h-20zM821 1614.7h4v4h-4zM937 1614.7h4v4h-4zM817 1618.7h4v4h-4zM841 1618.7h4v4h-4zM873 1618.7h4v4h-4zM813 1622.7h4v4h-4zM809 1634.7h4v4h-4zM809 1638.7h4v4h-4zM809 1642.7h4v4h-4zM809 1646.7h4v4h-4zM809 1650.7h4v4h-4zM813 1662.7h4v4h-4zM817 1666.7h4v4h-4zM841 1666.7h4v4h-4zM873 1666.7h4v4h-4zM821 1670.7h4v4h-4zM937 1670.7h4v4h-4zM825 1674.7h8v4h-8zM1037 1674.7h20v4h-20zM1109 1678.7h16v4h-16zM1157 1682.7h52v4h-52z"/><path fill="#ecf4fc" d="M1125 1606.7h84v4h-84zM833 1610.7h8v4h-8zM1057 1610.7h52v4h-52zM825 1614.7h8v4h-8zM941 1614.7h28v4h-28zM821 1618.7h4v4h-4zM877 1618.7h12v4h-12zM817 1622.7h4v4h-4zM813 1626.7h8v4h-8zM813 1630.7h4v4h-4zM813 1634.7h4v4h-4zM813 1638.7h4v4h-4zM813 1642.7h4v4h-4zM813 1646.7h4v4h-4zM813 1650.7h4v4h-4zM813 1654.7h4v4h-4zM813 1658.7h8v4h-8zM817 1662.7h4v4h-4zM821 1666.7h4v4h-4zM877 1666.7h12v4h-12zM825 1670.7h8v4h-8zM941 1670.7h28v4h-28zM833 1674.7h8v4h-8zM1057 1674.7h52v4h-52zM1125 1678.7h84v4h-84z"/><path fill="#e8f4fc" d="M1109 1610.7h8v4h-8zM833 1614.7h8v4h-8zM969 1614.7h12v4h-12zM825 1618.7h4v4h-4zM889 1618.7h4v4h-4zM821 1622.7h4v4h-4zM821 1662.7h4v4h-4zM825 1666.7h4v4h-4zM889 1666.7h4v4h-4zM833 1670.7h8v4h-8zM969 1670.7h12v4h-12zM1109 1674.7h8v4h-8z"/><path fill="#e8f0fc" d="M1117 1610.7h20v4h-20zM981 1614.7h16v4h-16zM893 1618.7h4v4h-4zM817 1630.7h4v4h-4zM817 1654.7h4v4h-4zM893 1666.7h4v4h-4zM981 1670.7h16v4h-16zM1117 1674.7h20v4h-20z"/><path fill="#e8f0f8" d="M1137 1610.7h72v4h-72zM997 1614.7h24v4h-24zM829 1618.7h4v4h-4zM897 1618.7h8v4h-8zM825 1622.7h4v4h-4zM821 1626.7h4v4h-4zM817 1634.7h4v4h-4zM817 1638.7h4v4h-4zM817 1646.7h4v4h-4zM817 1650.7h4v4h-4zM821 1658.7h4v4h-4zM825 1662.7h4v4h-4zM829 1666.7h4v4h-4zM897 1666.7h8v4h-8zM997 1670.7h24v4h-24zM1137 1674.7h72v4h-72z"/><path fill="#e4f0f8" d="M1021 1614.7h84v4h-84zM1197 1614.7h12v4h-12zM833 1618.7h8v4h-8zM905 1618.7h8v4h-8zM829 1622.7h4v4h-4zM841 1622.7h4v4h-4zM825 1626.7h4v4h-4zM821 1630.7h4v4h-4zM817 1642.7h4v4h-4zM821 1654.7h4v4h-4zM825 1658.7h4v4h-4zM829 1662.7h4v4h-4zM841 1662.7h4v4h-4zM833 1666.7h8v4h-8zM905 1666.7h8v4h-8zM1021 1670.7h84v4h-84zM1197 1670.7h12v4h-12z"/><path fill="#e4ecf8" d="M1105 1614.7h8v4h-8zM1189 1614.7h8v4h-8zM913 1618.7h4v4h-4zM821 1634.7h4v4h-4zM821 1650.7h4v4h-4zM913 1666.7h4v4h-4zM1105 1670.7h8v4h-8zM1189 1670.7h8v4h-8z"/><path fill="#e0ecf8" d="M1113 1614.7h76v4h-76zM917 1618.7h12v4h-12zM1197 1618.7h12v4h-12zM833 1622.7h8v4h-8zM829 1626.7h4v4h-4zM825 1630.7h4v4h-4zM821 1638.7h4v4h-4zM821 1642.7h4v4h-4zM821 1646.7h4v4h-4zM825 1654.7h4v4h-4zM829 1658.7h4v4h-4zM833 1662.7h8v4h-8zM917 1666.7h12v4h-12zM1197 1666.7h12v4h-12zM1113 1670.7h76v4h-76z"/><path fill="#dcecf8" d="M929 1618.7h8v4h-8zM1185 1618.7h12v4h-12zM833 1626.7h8v4h-8zM825 1634.7h4v4h-4zM825 1650.7h4v4h-4zM833 1658.7h8v4h-8zM929 1666.7h8v4h-8zM1185 1666.7h12v4h-12z"/><path fill="#dce8f8" d="M937 1618.7h4v4h-4zM1169 1618.7h16v4h-16zM829 1630.7h4v4h-4zM825 1638.7h4v4h-4zM825 1642.7h4v4h-4zM825 1646.7h4v4h-4zM829 1654.7h4v4h-4zM937 1666.7h4v4h-4zM1169 1666.7h16v4h-16z"/><path fill="#dce8f4" d="M941 1618.7h4v4h-4zM1093 1618.7h8v4h-8zM1145 1618.7h24v4h-24zM845 1622.7h4v4h-4zM1197 1622.7h12v4h-12zM837 1630.7h4v4h-4zM829 1634.7h4v4h-4zM829 1650.7h4v4h-4zM837 1654.7h4v4h-4zM845 1662.7h4v4h-4zM1197 1662.7h12v4h-12zM941 1666.7h4v4h-4zM1093 1666.7h8v4h-8zM1145 1666.7h24v4h-24z"/><path fill="#d8e8f4" d="M945 1618.7h32v4h-32zM1077 1618.7h16v4h-16zM1101 1618.7h44v4h-44zM1177 1622.7h20v4h-20zM833 1630.7h4v4h-4zM833 1634.7h8v4h-8zM829 1638.7h4v4h-4zM829 1642.7h4v4h-4zM829 1646.7h4v4h-4zM833 1650.7h8v4h-8zM833 1654.7h4v4h-4zM1177 1662.7h20v4h-20zM945 1666.7h32v4h-32zM1077 1666.7h16v4h-16zM1101 1666.7h44v4h-44z"/><path fill="#d8e4f4" d="M977 1618.7h8v4h-8zM1069 1618.7h8v4h-8zM1173 1622.7h4v4h-4zM1201 1626.7h8v4h-8zM1201 1658.7h8v4h-8zM1173 1662.7h4v4h-4zM977 1666.7h8v4h-8zM1069 1666.7h8v4h-8z"/><path fill="#d4e4f4" d="M985 1618.7h84v4h-84zM1145 1622.7h28v4h-28zM1181 1626.7h20v4h-20zM1201 1630.7h8v4h-8zM833 1638.7h8v4h-8zM833 1642.7h8v4h-8zM833 1646.7h8v4h-8zM1201 1654.7h8v4h-8zM1181 1658.7h20v4h-20zM1145 1662.7h28v4h-28zM985 1666.7h84v4h-84z"/><path fill="#d0e0f4" d="M849 1622.7h4v4h-4zM1097 1622.7h32v4h-32zM841 1626.7h4v4h-4zM1165 1626.7h8v4h-8zM1189 1630.7h4v4h-4zM1197 1634.7h12v4h-12zM1197 1650.7h12v4h-12zM1189 1654.7h4v4h-4zM841 1658.7h4v4h-4zM1165 1658.7h8v4h-8zM849 1662.7h4v4h-4zM1097 1662.7h32v4h-32z"/><path fill="#cce0f0" d="M853 1622.7h4v4h-4zM1085 1622.7h8v4h-8zM1141 1626.7h16v4h-16zM1169 1630.7h12v4h-12zM1181 1634.7h12v4h-12zM1189 1638.7h12v4h-12zM1193 1642.7h16v4h-16zM1189 1646.7h12v4h-12zM1181 1650.7h12v4h-12zM1169 1654.7h12v4h-12zM1141 1658.7h16v4h-16zM853 1662.7h4v4h-4zM1085 1662.7h8v4h-8z"/><path fill="#ccdcf0" d="M857 1622.7h4v4h-4zM1081 1622.7h4v4h-4zM1137 1626.7h4v4h-4zM1165 1630.7h4v4h-4zM1189 1642.7h4v4h-4zM1165 1654.7h4v4h-4zM1137 1658.7h4v4h-4zM857 1662.7h4v4h-4zM1081 1662.7h4v4h-4z"/><path fill="#c8dcf0" d="M861 1622.7h4v4h-4zM1069 1622.7h12v4h-12zM1113 1626.7h24v4h-24zM841 1630.7h4v4h-4zM1149 1630.7h16v4h-16zM841 1634.7h4v4h-4zM1165 1634.7h16v4h-16zM841 1638.7h4v4h-4zM1173 1638.7h16v4h-16zM841 1642.7h4v4h-4zM1177 1642.7h12v4h-12zM841 1646.7h4v4h-4zM1173 1646.7h16v4h-16zM841 1650.7h4v4h-4zM1165 1650.7h16v4h-16zM841 1654.7h4v4h-4zM1149 1654.7h16v4h-16zM1113 1658.7h24v4h-24zM861 1662.7h4v4h-4zM1069 1662.7h12v4h-12z"/><path fill="#c4dcf0" d="M865 1622.7h4v4h-4zM1065 1622.7h4v4h-4zM1101 1626.7h12v4h-12zM1145 1630.7h4v4h-4zM1161 1634.7h4v4h-4zM1169 1638.7h4v4h-4zM1173 1642.7h4v4h-4zM1169 1646.7h4v4h-4zM1161 1650.7h4v4h-4zM1145 1654.7h4v4h-4zM1101 1658.7h12v4h-12zM865 1662.7h4v4h-4zM1065 1662.7h4v4h-4z"/><path fill="#c0d8ec" d="M869 1622.7h8v4h-8zM1045 1622.7h16v4h-16zM1089 1626.7h4v4h-4zM1129 1630.7h12v4h-12zM1145 1634.7h12v4h-12zM1157 1638.7h8v4h-8zM1157 1642.7h12v4h-12zM1157 1646.7h8v4h-8zM1145 1650.7h12v4h-12zM1129 1654.7h12v4h-12zM1089 1658.7h4v4h-4zM869 1662.7h8v4h-8zM1045 1662.7h16v4h-16z"/><path fill="#bcd8ec" d="M877 1622.7h12v4h-12zM1033 1622.7h12v4h-12zM1085 1626.7h4v4h-4zM1117 1630.7h12v4h-12zM1137 1634.7h8v4h-8zM1149 1638.7h8v4h-8zM1149 1642.7h8v4h-8zM1149 1646.7h8v4h-8zM1137 1650.7h8v4h-8zM1117 1654.7h12v4h-12zM1085 1658.7h4v4h-4zM877 1662.7h12v4h-12zM1033 1662.7h12v4h-12z"/><path fill="#b8d4ec" d="M889 1622.7h12v4h-12zM1021 1622.7h12v4h-12zM1109 1630.7h8v4h-8zM1133 1634.7h4v4h-4zM1145 1638.7h4v4h-4zM1145 1642.7h4v4h-4zM1145 1646.7h4v4h-4zM1133 1650.7h4v4h-4zM1109 1654.7h8v4h-8zM889 1662.7h12v4h-12zM1021 1662.7h12v4h-12z"/><path fill="#b8d4e8" d="M901 1622.7h4v4h-4zM1013 1622.7h8v4h-8zM1081 1626.7h4v4h-4zM1105 1630.7h4v4h-4zM1129 1634.7h4v4h-4zM1141 1638.7h4v4h-4zM1141 1646.7h4v4h-4zM1129 1650.7h4v4h-4zM1105 1654.7h4v4h-4zM1081 1658.7h4v4h-4zM901 1662.7h4v4h-4zM1013 1662.7h8v4h-8z"/><path fill="#b4d4e8" d="M905 1622.7h108v4h-108zM1077 1626.7h4v4h-4zM1093 1630.7h12v4h-12zM1121 1634.7h8v4h-8zM1133 1638.7h8v4h-8zM1137 1642.7h8v4h-8zM1133 1646.7h8v4h-8zM1121 1650.7h8v4h-8zM1093 1654.7h12v4h-12zM1077 1658.7h4v4h-4zM905 1662.7h108v4h-108z"/><path fill="#c4d8f0" d="M1061 1622.7h4v4h-4zM1093 1626.7h8v4h-8zM1141 1630.7h4v4h-4zM1157 1634.7h4v4h-4zM1165 1638.7h4v4h-4zM1169 1642.7h4v4h-4zM1165 1646.7h4v4h-4zM1157 1650.7h4v4h-4zM1141 1654.7h4v4h-4zM1093 1658.7h8v4h-8zM1061 1662.7h4v4h-4z"/><path fill="#d0e0f0" d="M1093 1622.7h4v4h-4zM1157 1626.7h8v4h-8zM1181 1630.7h8v4h-8zM1193 1634.7h4v4h-4zM1201 1638.7h8v4h-8zM1201 1646.7h8v4h-8zM1193 1650.7h4v4h-4zM1181 1654.7h8v4h-8zM1157 1658.7h8v4h-8zM1093 1662.7h4v4h-4z"/><path fill="#d0e4f4" d="M1129 1622.7h16v4h-16zM1173 1626.7h8v4h-8zM1193 1630.7h8v4h-8zM1193 1654.7h8v4h-8zM1173 1658.7h8v4h-8zM1129 1662.7h16v4h-16z"/><path fill="#60a4d0" d="M845 1626.7h4v4h-4zM925 1626.7h4v4h-4zM1029 1630.7h4v4h-4zM1053 1634.7h4v4h-4zM1061 1642.7h4v4h-4zM1053 1650.7h4v4h-4zM1029 1654.7h4v4h-4zM845 1658.7h4v4h-4zM925 1658.7h4v4h-4z"/><path fill="#3484c0" d="M849 1626.7h8v4h-8zM941 1630.7h8v4h-8zM1005 1634.7h8v4h-8zM1025 1638.7h4v4h-4zM1025 1642.7h8v4h-8zM1025 1646.7h4v4h-4zM1005 1650.7h8v4h-8zM941 1654.7h8v4h-8zM849 1658.7h8v4h-8z"/><path fill="#3888c0" d="M857 1626.7h8v4h-8zM949 1630.7h4v4h-4zM1013 1634.7h4v4h-4zM1029 1638.7h4v4h-4zM1033 1642.7h4v4h-4zM1029 1646.7h4v4h-4zM1013 1650.7h4v4h-4zM949 1654.7h4v4h-4zM857 1658.7h8v4h-8z"/><path fill="#3c8cc4" d="M865 1626.7h4v4h-4zM845 1630.7h4v4h-4zM957 1630.7h12v4h-12zM845 1634.7h4v4h-4zM1021 1634.7h4v4h-4zM1033 1638.7h4v4h-4zM1037 1642.7h4v4h-4zM1033 1646.7h4v4h-4zM845 1650.7h4v4h-4zM1021 1650.7h4v4h-4zM845 1654.7h4v4h-4zM957 1654.7h12v4h-12zM865 1658.7h4v4h-4z"/><path fill="#4090c4" d="M869 1626.7h4v4h-4zM969 1630.7h12v4h-12zM1025 1634.7h4v4h-4zM845 1638.7h4v4h-4zM1037 1638.7h8v4h-8zM885 1642.7h4v4h-4zM1041 1642.7h4v4h-4zM845 1646.7h4v4h-4zM1037 1646.7h8v4h-8zM1025 1650.7h4v4h-4zM969 1654.7h12v4h-12zM869 1658.7h4v4h-4z"/><path fill="#4494c8" d="M873 1626.7h4v4h-4zM981 1630.7h8v4h-8zM1029 1634.7h4v4h-4zM1045 1642.7h4v4h-4zM1029 1650.7h4v4h-4zM981 1654.7h8v4h-8zM873 1658.7h4v4h-4z"/><path fill="#4894c8" d="M877 1626.7h4v4h-4zM989 1630.7h4v4h-4zM1033 1634.7h4v4h-4zM1045 1638.7h4v4h-4zM1045 1646.7h4v4h-4zM1033 1650.7h4v4h-4zM989 1654.7h4v4h-4zM877 1658.7h4v4h-4z"/><path fill="#4c98c8" d="M881 1626.7h8v4h-8zM997 1630.7h4v4h-4zM1037 1634.7h4v4h-4zM1049 1642.7h4v4h-4zM1037 1650.7h4v4h-4zM997 1654.7h4v4h-4zM881 1658.7h8v4h-8z"/><path fill="#4c98cc" d="M889 1626.7h4v4h-4zM1001 1630.7h4v4h-4zM1049 1638.7h4v4h-4zM1049 1646.7h4v4h-4zM1001 1654.7h4v4h-4zM889 1658.7h4v4h-4z"/><path fill="#509ccc" d="M893 1626.7h12v4h-12zM1005 1630.7h8v4h-8zM1041 1634.7h4v4h-4zM1053 1642.7h4v4h-4zM1041 1650.7h4v4h-4zM1005 1654.7h8v4h-8zM893 1658.7h12v4h-12z"/><path fill="#549ccc" d="M905 1626.7h4v4h-4zM1013 1630.7h4v4h-4zM1045 1634.7h4v4h-4zM1053 1638.7h4v4h-4zM1053 1646.7h4v4h-4zM1045 1650.7h4v4h-4zM1013 1654.7h4v4h-4zM905 1658.7h4v4h-4z"/><path fill="#54a0cc" d="M909 1626.7h4v4h-4zM1017 1630.7h4v4h-4zM881 1642.7h4v4h-4zM1017 1654.7h4v4h-4zM909 1658.7h4v4h-4z"/><path fill="#58a0d0" d="M913 1626.7h4v4h-4zM1021 1630.7h4v4h-4zM1049 1634.7h4v4h-4zM1057 1642.7h4v4h-4zM1049 1650.7h4v4h-4zM1021 1654.7h4v4h-4zM913 1658.7h4v4h-4z"/><path fill="#58a4d0" d="M917 1626.7h4v4h-4zM1057 1638.7h4v4h-4zM1057 1646.7h4v4h-4zM917 1658.7h4v4h-4z"/><path fill="#5ca4d0" d="M921 1626.7h4v4h-4zM1025 1630.7h4v4h-4zM1025 1654.7h4v4h-4zM921 1658.7h4v4h-4z"/><path fill="#60a8d4" d="M929 1626.7h4v4h-4zM1033 1630.7h4v4h-4zM1033 1654.7h4v4h-4zM929 1658.7h4v4h-4z"/><path fill="#64a8d4" d="M933 1626.7h4v4h-4zM933 1658.7h4v4h-4z"/><path fill="#64acd4" d="M937 1626.7h4v4h-4zM1037 1630.7h4v4h-4zM1057 1634.7h4v4h-4zM1065 1642.7h4v4h-4zM1057 1650.7h4v4h-4zM1037 1654.7h4v4h-4zM937 1658.7h4v4h-4z"/><path fill="#68acd4" d="M941 1626.7h4v4h-4zM1041 1630.7h4v4h-4zM1065 1638.7h4v4h-4zM877 1642.7h4v4h-4zM1065 1646.7h4v4h-4zM1041 1654.7h4v4h-4zM941 1658.7h4v4h-4z"/><path fill="#6cacd4" d="M945 1626.7h4v4h-4zM945 1658.7h4v4h-4z"/><path fill="#6cb0d8" d="M949 1626.7h8v4h-8zM1045 1630.7h4v4h-4zM1061 1634.7h4v4h-4zM1069 1642.7h4v4h-4zM1061 1650.7h4v4h-4zM1045 1654.7h4v4h-4zM949 1658.7h8v4h-8z"/><path fill="#70b0d8" d="M957 1626.7h12v4h-12zM1069 1638.7h4v4h-4zM1069 1646.7h4v4h-4zM957 1658.7h12v4h-12z"/><path fill="#74b0d8" d="M969 1626.7h8v4h-8zM1049 1630.7h4v4h-4zM1065 1634.7h4v4h-4zM1065 1650.7h4v4h-4zM1049 1654.7h4v4h-4zM969 1658.7h8v4h-8z"/><path fill="#74b4d8" d="M977 1626.7h8v4h-8zM1073 1642.7h4v4h-4zM977 1658.7h8v4h-8z"/><path fill="#78b4d8" d="M985 1626.7h8v4h-8zM1053 1630.7h4v4h-4zM1073 1638.7h4v4h-4zM1073 1646.7h4v4h-4zM1053 1654.7h4v4h-4zM985 1658.7h8v4h-8z"/><path fill="#7cb8d8" d="M993 1626.7h12v4h-12zM1069 1634.7h4v4h-4zM873 1642.7h4v4h-4zM1077 1642.7h4v4h-4zM1069 1650.7h4v4h-4zM993 1658.7h12v4h-12z"/><path fill="#80b8dc" d="M1005 1626.7h8v4h-8zM1057 1630.7h4v4h-4zM1077 1638.7h4v4h-4zM1077 1646.7h4v4h-4zM1057 1654.7h4v4h-4zM1005 1658.7h8v4h-8z"/><path fill="#84bcdc" d="M1013 1626.7h12v4h-12zM1061 1630.7h4v4h-4zM1073 1634.7h4v4h-4zM845 1642.7h4v4h-4zM1081 1642.7h4v4h-4zM1073 1650.7h4v4h-4zM1061 1654.7h4v4h-4zM1013 1658.7h12v4h-12z"/><path fill="#88c0dc" d="M1025 1626.7h4v4h-4zM1025 1658.7h4v4h-4z"/><path fill="#8cc0dc" d="M1029 1626.7h4v4h-4zM1065 1630.7h4v4h-4zM1077 1634.7h4v4h-4zM869 1642.7h4v4h-4zM1085 1642.7h4v4h-4zM1077 1650.7h4v4h-4zM1065 1654.7h4v4h-4zM1029 1658.7h4v4h-4z"/><path fill="#90c0dc" d="M1033 1626.7h4v4h-4zM1033 1658.7h4v4h-4z"/><path fill="#94c4e0" d="M1037 1626.7h8v4h-8zM1081 1634.7h4v4h-4zM865 1642.7h4v4h-4zM1089 1642.7h4v4h-4zM1081 1650.7h4v4h-4zM1037 1658.7h8v4h-8z"/><path fill="#98c8e0" d="M1045 1626.7h4v4h-4zM1073 1630.7h4v4h-4zM1089 1638.7h4v4h-4zM861 1642.7h4v4h-4zM1089 1646.7h4v4h-4zM1073 1654.7h4v4h-4zM1045 1658.7h4v4h-4z"/><path fill="#9cc8e0" d="M1049 1626.7h4v4h-4zM1077 1630.7h4v4h-4zM1085 1634.7h4v4h-4zM849 1642.7h4v4h-4zM857 1642.7h4v4h-4zM1085 1650.7h4v4h-4zM1077 1654.7h4v4h-4zM1049 1658.7h4v4h-4z"/><path fill="#a0cce0" d="M1053 1626.7h4v4h-4zM1089 1634.7h4v4h-4zM1093 1638.7h4v4h-4zM853 1642.7h4v4h-4zM1093 1642.7h8v4h-8zM1093 1646.7h4v4h-4zM1089 1650.7h4v4h-4zM1053 1658.7h4v4h-4z"/><path fill="#a4cce4" d="M1057 1626.7h8v4h-8zM1081 1630.7h4v4h-4zM1101 1638.7h8v4h-8zM1101 1642.7h8v4h-8zM1101 1646.7h8v4h-8zM1081 1654.7h4v4h-4zM1057 1658.7h8v4h-8z"/><path fill="#a8d0e4" d="M1065 1626.7h4v4h-4zM1085 1630.7h4v4h-4zM1097 1634.7h4v4h-4zM1109 1638.7h4v4h-4zM1113 1642.7h4v4h-4zM1109 1646.7h4v4h-4zM1097 1650.7h4v4h-4zM1085 1654.7h4v4h-4zM1065 1658.7h4v4h-4z"/><path fill="#acd0e8" d="M1069 1626.7h4v4h-4zM1089 1630.7h4v4h-4zM1109 1634.7h4v4h-4zM1121 1638.7h4v4h-4zM1121 1642.7h8v4h-8zM1121 1646.7h4v4h-4zM1109 1650.7h4v4h-4zM1089 1654.7h4v4h-4zM1069 1658.7h4v4h-4z"/><path fill="#b0d0e8" d="M1073 1626.7h4v4h-4zM1113 1634.7h8v4h-8zM1125 1638.7h4v4h-4zM1129 1642.7h4v4h-4zM1125 1646.7h4v4h-4zM1113 1650.7h8v4h-8zM1073 1658.7h4v4h-4z"/><path fill="#105ca4" d="M849 1630.7h24v4h-24zM913 1634.7h8v4h-8zM869 1638.7h8v4h-8zM929 1638.7h12v4h-12zM933 1642.7h12v4h-12zM869 1646.7h8v4h-8zM929 1646.7h12v4h-12zM913 1650.7h8v4h-8zM849 1654.7h24v4h-24z"/><path fill="#1460a8" d="M873 1630.7h4v4h-4zM921 1634.7h8v4h-8zM861 1638.7h8v4h-8zM941 1638.7h12v4h-12zM945 1642.7h12v4h-12zM861 1646.7h8v4h-8zM941 1646.7h12v4h-12zM921 1650.7h8v4h-8zM873 1654.7h4v4h-4z"/><path fill="#1464a8" d="M877 1630.7h4v4h-4zM929 1634.7h4v4h-4zM957 1642.7h4v4h-4zM929 1650.7h4v4h-4zM877 1654.7h4v4h-4z"/><path fill="#1864ac" d="M881 1630.7h8v4h-8zM933 1634.7h4v4h-4zM853 1638.7h8v4h-8zM953 1638.7h8v4h-8zM897 1642.7h4v4h-4zM961 1642.7h8v4h-8zM853 1646.7h8v4h-8zM953 1646.7h8v4h-8zM933 1650.7h4v4h-4zM881 1654.7h8v4h-8z"/><path fill="#1868ac" d="M889 1630.7h4v4h-4zM937 1634.7h4v4h-4zM849 1638.7h4v4h-4zM961 1638.7h8v4h-8zM969 1642.7h4v4h-4zM849 1646.7h4v4h-4zM961 1646.7h8v4h-8zM937 1650.7h4v4h-4zM889 1654.7h4v4h-4z"/><path fill="#1c68b0" d="M893 1630.7h8v4h-8zM941 1634.7h4v4h-4zM969 1638.7h4v4h-4zM973 1642.7h4v4h-4zM969 1646.7h4v4h-4zM941 1650.7h4v4h-4zM893 1654.7h8v4h-8z"/><path fill="#1c6cb0" d="M901 1630.7h4v4h-4zM945 1634.7h8v4h-8zM973 1638.7h8v4h-8zM977 1642.7h8v4h-8zM973 1646.7h8v4h-8zM945 1650.7h8v4h-8zM901 1654.7h4v4h-4z"/><path fill="#206cb4" d="M905 1630.7h4v4h-4zM981 1638.7h4v4h-4zM985 1642.7h4v4h-4zM981 1646.7h4v4h-4zM905 1654.7h4v4h-4z"/><path fill="#2070b4" d="M909 1630.7h8v4h-8zM953 1634.7h12v4h-12zM985 1638.7h8v4h-8zM893 1642.7h4v4h-4zM989 1642.7h8v4h-8zM985 1646.7h8v4h-8zM953 1650.7h12v4h-12zM909 1654.7h8v4h-8z"/><path fill="#2474b8" d="M917 1630.7h4v4h-4zM969 1634.7h8v4h-8zM993 1638.7h8v4h-8zM997 1642.7h8v4h-8zM993 1646.7h8v4h-8zM969 1650.7h8v4h-8zM917 1654.7h4v4h-4z"/><path fill="#2878b8" d="M921 1630.7h8v4h-8zM977 1634.7h8v4h-8zM1001 1638.7h8v4h-8zM1005 1642.7h8v4h-8zM1001 1646.7h8v4h-8zM977 1650.7h8v4h-8zM921 1654.7h8v4h-8z"/><path fill="#2c7cbc" d="M929 1630.7h8v4h-8zM989 1634.7h8v4h-8zM1013 1638.7h4v4h-4zM1017 1642.7h4v4h-4zM1013 1646.7h4v4h-4zM989 1650.7h8v4h-8zM929 1654.7h8v4h-8z"/><path fill="#3080bc" d="M937 1630.7h4v4h-4zM997 1634.7h8v4h-8zM1017 1638.7h8v4h-8zM889 1642.7h4v4h-4zM1021 1642.7h4v4h-4zM1017 1646.7h8v4h-8zM997 1650.7h8v4h-8zM937 1654.7h4v4h-4z"/><path fill="#3c8cc0" d="M953 1630.7h4v4h-4zM1017 1634.7h4v4h-4zM1017 1650.7h4v4h-4zM953 1654.7h4v4h-4z"/><path fill="#4898c8" d="M993 1630.7h4v4h-4zM993 1654.7h4v4h-4z"/><path fill="#90c4e0" d="M1069 1630.7h4v4h-4zM1085 1638.7h4v4h-4zM1085 1646.7h4v4h-4zM1069 1654.7h4v4h-4z"/><path fill="#1058a4" d="M849 1634.7h4v4h-4zM909 1634.7h4v4h-4zM925 1638.7h4v4h-4zM901 1642.7h4v4h-4zM929 1642.7h4v4h-4zM925 1646.7h4v4h-4zM849 1650.7h4v4h-4zM909 1650.7h4v4h-4z"/><path fill="#0c58a0" d="M853 1634.7h8v4h-8zM901 1634.7h8v4h-8zM877 1638.7h12v4h-12zM917 1638.7h8v4h-8zM917 1642.7h12v4h-12zM877 1646.7h12v4h-12zM917 1646.7h8v4h-8zM853 1650.7h8v4h-8zM901 1650.7h8v4h-8z"/><path fill="#0c54a0" d="M861 1634.7h4v4h-4zM893 1634.7h8v4h-8zM889 1638.7h8v4h-8zM909 1638.7h8v4h-8zM905 1642.7h4v4h-4zM913 1642.7h4v4h-4zM889 1646.7h8v4h-8zM909 1646.7h8v4h-8zM861 1650.7h4v4h-4zM893 1650.7h8v4h-8z"/><path fill="#08549c" d="M865 1634.7h4v4h-4zM885 1634.7h8v4h-8zM897 1638.7h12v4h-12zM909 1642.7h4v4h-4zM897 1646.7h12v4h-12zM865 1650.7h4v4h-4zM885 1650.7h8v4h-8z"/><path fill="#08509c" d="M869 1634.7h16v4h-16zM869 1650.7h16v4h-16z"/><path fill="#2474b4" d="M965 1634.7h4v4h-4zM965 1650.7h4v4h-4z"/><path fill="#2c7cb8" d="M985 1634.7h4v4h-4zM1009 1638.7h4v4h-4zM1013 1642.7h4v4h-4zM1009 1646.7h4v4h-4zM985 1650.7h4v4h-4z"/><path fill="#a8cce4" d="M1093 1634.7h4v4h-4zM1109 1642.7h4v4h-4zM1093 1650.7h4v4h-4z"/><path fill="#acd0e4" d="M1101 1634.7h8v4h-8zM1113 1638.7h8v4h-8zM1117 1642.7h4v4h-4zM1113 1646.7h8v4h-8zM1101 1650.7h8v4h-8z"/><path fill="#60a8d0" d="M1061 1638.7h4v4h-4zM1061 1646.7h4v4h-4z"/><path fill="#88bcdc" d="M1081 1638.7h4v4h-4zM1081 1646.7h4v4h-4z"/><path fill="#a0cce4" d="M1097 1638.7h4v4h-4zM1097 1646.7h4v4h-4z"/><path fill="#b0d4e8" d="M1129 1638.7h4v4h-4zM1133 1642.7h4v4h-4zM1129 1646.7h4v4h-4z"/></g></g>
<g clip-path="url(#c9)"><path mask="url(#m8)" d="M849.8,1661.4 849.1,1661.2 848.4,1660.9 847.7,1660.2 847.5,1659.8 847.2,1659.1 847.0,1658.4 847.0,1658.0 846.9,1657.3 846.8,1656.6 846.8,1655.9 846.8,1655.1 846.8,1654.4 846.8,1653.7 846.8,1653.0 846.8,1652.3 846.8,1651.5 846.8,1650.8 846.8,1650.1 846.8,1649.4 847.0,1648.7 847.1,1648.3 847.6,1647.6 848.1,1647.2 849.1,1646.9 850.5,1647.0 852.0,1647.1 853.4,1647.1 854.8,1647.0 856.2,1647.0 857.7,1647.0 859.1,1647.0 860.5,1647.0 861.9,1647.0 863.4,1646.9 864.8,1646.9 866.2,1646.9 867.6,1646.9 868.7,1646.9 869.8,1646.8 871.2,1646.8 872.6,1646.7 874.0,1646.7 875.5,1646.6 876.4,1646.5 877.6,1646.4 879.0,1646.3 880.4,1646.2 881.1,1646.1 882.6,1646.0 883.8,1645.8 884.7,1645.6 885.5,1645.4 886.4,1645.1 886.4,1644.3 885.5,1644.0 884.7,1643.8 883.8,1643.6 882.6,1643.4 881.1,1643.3 880.4,1643.2 879.0,1643.1 877.6,1643.0 876.4,1642.9 875.5,1642.8 874.0,1642.7 872.6,1642.7 871.2,1642.6 869.8,1642.6 868.7,1642.5 867.6,1642.5 866.2,1642.5 864.8,1642.5 863.4,1642.5 861.9,1642.4 860.5,1642.4 859.1,1642.4 857.7,1642.4 856.2,1642.4 854.8,1642.4 853.4,1642.3 852.0,1642.3 850.5,1642.4 849.1,1642.5 848.1,1642.2 847.6,1641.8 847.1,1641.1 847.0,1640.7 846.8,1640.0 846.8,1639.3 846.8,1638.6 846.8,1637.9 846.8,1637.1 846.8,1636.4 846.8,1635.7 846.8,1635.0 846.8,1634.3 846.8,1633.5 846.8,1632.8 846.9,1632.1 847.0,1631.4 847.0,1631.0 847.2,1630.3 847.5,1629.6 847.7,1629.2 848.4,1628.5 849.1,1628.2 849.8,1628.0 851.3,1628.0 852.7,1628.1 854.1,1628.1 855.5,1628.1 856.8,1628.1 857.7,1628.2 859.1,1628.2 860.5,1628.2 861.9,1628.3 863.4,1628.3 864.8,1628.4 866.2,1628.4 867.6,1628.5 868.7,1628.5 869.8,1628.5 871.2,1628.6 872.6,1628.7 874.0,1628.8 875.5,1628.8 876.2,1628.9 877.6,1628.9 879.0,1629.0 880.4,1629.0 881.9,1629.0 883.3,1629.1 884.7,1629.1 886.1,1629.1 887.5,1629.1 889.0,1629.2 890.4,1629.2 891.5,1629.2 892.5,1629.2 894.0,1629.3 895.4,1629.3 896.8,1629.3 898.2,1629.4 899.6,1629.4 901.1,1629.4 902.5,1629.5 903.9,1629.5 905.3,1629.6 906.1,1629.6 907.5,1629.6 908.9,1629.7 910.3,1629.7 911.7,1629.7 913.2,1629.8 914.6,1629.8 916.0,1629.9 917.0,1629.9 918.1,1630.0 919.6,1630.1 921.0,1630.1 922.4,1630.2 923.8,1630.2 925.2,1630.3 926.0,1630.3 927.4,1630.4 928.8,1630.5 930.2,1630.5 931.7,1630.6 932.5,1630.7 933.8,1630.7 935.2,1630.8 936.7,1630.9 938.1,1631.0 938.9,1631.0 940.2,1631.1 941.6,1631.2 943.1,1631.3 944.5,1631.4 945.2,1631.4 946.6,1631.5 948.0,1631.6 949.5,1631.7 950.9,1631.7 951.6,1631.7 953.0,1631.8 954.4,1631.8 955.9,1631.9 957.3,1631.9 958.7,1631.9 960.1,1632.0 961.6,1632.0 963.0,1632.1 964.0,1632.1 965.1,1632.1 966.5,1632.2 968.0,1632.2 969.4,1632.3 970.8,1632.3 972.2,1632.4 973.7,1632.4 974.9,1632.5 975.8,1632.5 977.2,1632.5 978.6,1632.6 980.1,1632.6 981.5,1632.7 982.9,1632.8 984.3,1632.8 985.0,1632.8 986.5,1632.9 987.9,1633.0 989.3,1633.1 990.7,1633.1 991.4,1633.2 992.9,1633.3 994.3,1633.4 995.7,1633.4 997.1,1633.5 997.9,1633.6 999.3,1633.7 1000.7,1633.8 1002.1,1633.8 1002.9,1633.9 1004.3,1634.0 1005.7,1634.1 1007.1,1634.2 1008.0,1634.3 1009.2,1634.3 1010.7,1634.5 1012.1,1634.6 1012.8,1634.6 1014.2,1634.7 1015.6,1634.9 1017.1,1635.0 1017.8,1635.0 1019.2,1635.2 1020.6,1635.3 1021.3,1635.4 1022.8,1635.6 1023.6,1635.7 1024.9,1635.9 1026.0,1636.1 1027.0,1636.2 1028.1,1636.4 1029.2,1636.6 1030.1,1636.8 1031.3,1637.0 1032.0,1637.2 1033.4,1637.5 1034.1,1637.6 1035.2,1637.9 1036.3,1638.1 1037.0,1638.3 1037.9,1638.6 1039.1,1638.9 1039.8,1639.2 1040.5,1639.4 1041.3,1639.7 1042.0,1640.0 1042.8,1640.4 1043.5,1640.7 1044.1,1641.1 1044.8,1641.7 1045.3,1642.2 1045.6,1642.5 1046.0,1643.3 1046.1,1644.0 1046.2,1644.7 1046.1,1645.4 1046.0,1646.1 1045.6,1646.9 1045.3,1647.2 1044.8,1647.7 1044.1,1648.3 1043.5,1648.7 1042.8,1649.0 1042.0,1649.4 1041.3,1649.7 1040.5,1650.0 1039.8,1650.2 1039.1,1650.5 1037.9,1650.8 1037.0,1651.1 1036.3,1651.3 1035.2,1651.5 1034.1,1651.8 1033.4,1651.9 1032.0,1652.2 1031.3,1652.4 1030.1,1652.6 1029.2,1652.8 1028.1,1653.0 1027.0,1653.2 1026.0,1653.3 1024.9,1653.5 1023.6,1653.7 1022.8,1653.8 1021.3,1654.0 1020.6,1654.1 1019.2,1654.2 1017.8,1654.4 1017.1,1654.4 1015.6,1654.5 1014.2,1654.7 1012.8,1654.8 1012.1,1654.8 1010.7,1654.9 1009.2,1655.1 1008.0,1655.1 1007.1,1655.2 1005.7,1655.3 1004.3,1655.4 1002.9,1655.5 1002.1,1655.6 1000.7,1655.6 999.3,1655.7 997.9,1655.8 997.1,1655.9 995.7,1656.0 994.3,1656.0 992.9,1656.1 991.4,1656.2 990.7,1656.3 989.3,1656.3 987.9,1656.4 986.5,1656.5 985.0,1656.6 984.3,1656.6 982.9,1656.6 981.5,1656.7 980.1,1656.8 978.6,1656.8 977.2,1656.9 975.8,1656.9 974.9,1656.9 973.7,1657.0 972.2,1657.0 970.8,1657.1 969.4,1657.1 968.0,1657.2 966.5,1657.2 965.1,1657.3 964.0,1657.3 963.0,1657.3 961.6,1657.4 960.1,1657.4 958.7,1657.5 957.3,1657.5 955.9,1657.5 954.4,1657.6 953.0,1657.6 951.6,1657.7 950.9,1657.7 949.5,1657.7 948.0,1657.8 946.6,1657.9 945.2,1658.0 944.5,1658.0 943.1,1658.1 941.6,1658.2 940.2,1658.3 938.9,1658.4 938.1,1658.4 936.7,1658.5 935.2,1658.6 933.8,1658.7 932.5,1658.7 931.7,1658.8 930.2,1658.9 928.8,1658.9 927.4,1659.0 926.0,1659.1 925.2,1659.1 923.8,1659.2 922.4,1659.2 921.0,1659.3 919.6,1659.3 918.1,1659.4 917.0,1659.5 916.0,1659.5 914.6,1659.6 913.2,1659.6 911.7,1659.7 910.3,1659.7 908.9,1659.7 907.5,1659.8 906.1,1659.8 905.3,1659.8 903.9,1659.9 902.5,1659.9 901.1,1660.0 899.6,1660.0 898.2,1660.0 896.8,1660.1 895.4,1660.1 894.0,1660.1 892.5,1660.2 891.5,1660.2 890.4,1660.2 889.0,1660.2 887.5,1660.3 886.1,1660.3 884.7,1660.3 883.3,1660.3 881.9,1660.4 880.4,1660.4 879.0,1660.4 877.6,1660.5 876.2,1660.5 875.5,1660.6 874.0,1660.6 872.6,1660.7 871.2,1660.8 869.8,1660.9 868.7,1660.9 867.6,1660.9 866.2,1661.0 864.8,1661.0 863.4,1661.1 861.9,1661.1 860.5,1661.2 859.1,1661.2 857.7,1661.2 856.8,1661.3 855.5,1661.3 854.1,1661.3 852.7,1661.3 851.3,1661.4 849.8,1661.4M852.0,1663.4 851.3,1663.4 849.8,1663.4 848.4,1663.2 847.7,1663.0 847.0,1662.6 846.3,1662.2 845.7,1661.6 845.5,1661.3 845.1,1660.5 844.9,1659.8 844.8,1659.5 844.7,1658.7 844.6,1658.0 844.6,1657.3 844.5,1656.6 844.5,1655.9 844.5,1655.1 844.5,1654.4 844.5,1653.7 844.4,1653.0 844.4,1652.3 844.4,1651.5 844.4,1650.8 844.4,1650.1 844.4,1649.4 844.5,1648.7 844.5,1647.9 844.6,1647.2 844.8,1646.5 844.9,1646.1 845.1,1645.4 845.2,1644.7 845.1,1644.0 844.9,1643.3 844.8,1642.9 844.6,1642.2 844.5,1641.5 844.5,1640.7 844.4,1640.0 844.4,1639.3 844.4,1638.6 844.4,1637.9 844.4,1637.1 844.4,1636.4 844.5,1635.7 844.5,1635.0 844.5,1634.3 844.5,1633.5 844.5,1632.8 844.6,1632.1 844.6,1631.4 844.7,1630.7 844.8,1629.9 844.9,1629.6 845.1,1628.9 845.5,1628.1 845.7,1627.8 846.3,1627.2 847.0,1626.8 847.7,1626.4 848.4,1626.2 849.8,1626.0 851.3,1626.0 852.0,1626.0 853.4,1626.0 854.8,1626.0 856.2,1625.9 857.7,1625.9 859.1,1625.9 860.5,1625.9 861.9,1625.9 863.4,1625.9 864.8,1625.9 866.2,1625.9 867.6,1625.9 869.0,1625.9 870.5,1625.9 871.9,1625.8 873.3,1625.8 874.7,1625.8 876.2,1625.8 877.6,1625.8 879.0,1625.8 880.4,1625.8 881.9,1625.8 883.3,1625.8 884.7,1625.8 886.1,1625.8 887.5,1625.8 889.0,1625.8 890.4,1625.8 891.8,1625.8 893.2,1625.8 894.7,1625.8 896.1,1625.8 897.5,1625.8 898.9,1625.8 900.4,1625.8 901.8,1625.8 903.2,1625.8 904.6,1625.8 906.1,1625.8 907.5,1625.8 908.9,1625.8 910.3,1625.8 911.7,1625.8 913.2,1625.8 914.6,1625.8 916.0,1625.8 917.4,1625.8 918.9,1625.8 920.3,1625.8 921.7,1625.8 923.1,1625.8 924.6,1625.9 926.0,1625.9 927.4,1625.9 928.8,1625.9 930.2,1625.9 931.7,1625.9 933.1,1625.9 934.5,1625.9 935.9,1626.0 937.4,1626.0 938.1,1626.0 939.5,1626.0 940.9,1626.0 942.3,1626.0 943.8,1626.1 945.2,1626.1 946.6,1626.1 948.0,1626.1 949.5,1626.1 950.9,1626.1 952.3,1626.1 953.7,1626.1 955.2,1626.2 956.6,1626.2 958.0,1626.2 959.4,1626.2 960.8,1626.2 962.3,1626.2 963.7,1626.2 965.1,1626.2 966.5,1626.2 968.0,1626.2 969.4,1626.2 970.8,1626.2 972.2,1626.2 973.7,1626.2 975.1,1626.2 976.5,1626.2 977.9,1626.2 979.3,1626.3 980.8,1626.3 982.2,1626.3 983.6,1626.3 985.0,1626.3 986.5,1626.3 987.9,1626.3 988.7,1626.3 990.0,1626.4 991.4,1626.4 992.9,1626.4 994.3,1626.4 995.7,1626.4 997.1,1626.5 998.6,1626.5 1000.0,1626.5 1001.4,1626.5 1002.8,1626.6 1004.3,1626.6 1005.7,1626.6 1007.1,1626.6 1008.5,1626.7 1009.9,1626.7 1010.7,1626.7 1012.1,1626.7 1013.5,1626.8 1014.9,1626.8 1016.4,1626.8 1017.8,1626.8 1019.2,1626.9 1020.6,1626.9 1022.0,1627.0 1023.5,1627.0 1024.7,1627.1 1025.6,1627.1 1027.0,1627.2 1028.5,1627.2 1029.9,1627.3 1031.3,1627.3 1032.7,1627.4 1033.4,1627.4 1034.9,1627.5 1036.3,1627.6 1037.7,1627.6 1039.1,1627.7 1040.3,1627.8 1041.3,1627.8 1042.7,1627.9 1044.1,1628.0 1045.5,1628.1 1046.8,1628.1 1047.7,1628.2 1049.1,1628.3 1050.5,1628.4 1051.6,1628.5 1052.6,1628.6 1054.1,1628.7 1055.5,1628.8 1056.2,1628.9 1057.6,1629.1 1059.1,1629.2 1059.8,1629.3 1061.2,1629.5 1062.2,1629.6 1063.3,1629.7 1064.7,1629.9 1065.5,1630.0 1066.9,1630.2 1067.6,1630.3 1069.0,1630.6 1069.7,1630.7 1071.1,1630.9 1071.9,1631.0 1073.3,1631.3 1074.0,1631.5 1075.3,1631.7 1076.1,1631.9 1076.9,1632.1 1078.3,1632.4 1079.0,1632.6 1079.7,1632.8 1080.9,1633.2 1081.8,1633.5 1082.5,1633.7 1083.2,1633.9 1084.2,1634.3 1085.1,1634.6 1086.0,1635.0 1086.8,1635.3 1087.5,1635.7 1088.2,1636.0 1088.9,1636.4 1089.6,1636.8 1090.2,1637.1 1090.7,1637.5 1091.2,1637.9 1091.8,1638.4 1092.4,1638.9 1092.8,1639.3 1093.2,1639.8 1093.6,1640.4 1093.9,1640.9 1094.2,1641.5 1094.5,1642.2 1094.6,1642.8 1094.8,1643.3 1095.0,1644.0 1095.0,1644.7 1095.0,1645.4 1094.8,1646.1 1094.6,1646.6 1094.5,1647.2 1094.2,1647.9 1093.9,1648.5 1093.6,1649.0 1093.2,1649.6 1092.8,1650.1 1092.4,1650.5 1091.8,1651.0 1091.2,1651.5 1090.7,1651.9 1090.2,1652.3 1089.6,1652.6 1088.9,1653.0 1088.2,1653.4 1087.5,1653.7 1086.8,1654.1 1086.0,1654.4 1085.1,1654.8 1084.2,1655.1 1083.2,1655.5 1082.5,1655.7 1081.8,1655.9 1080.9,1656.2 1079.7,1656.6 1079.0,1656.8 1078.3,1657.0 1076.9,1657.3 1076.1,1657.5 1075.3,1657.7 1074.0,1657.9 1073.3,1658.1 1071.9,1658.4 1071.1,1658.5 1069.7,1658.7 1069.0,1658.8 1067.6,1659.1 1066.9,1659.2 1065.5,1659.4 1064.7,1659.5 1063.3,1659.7 1062.2,1659.8 1061.2,1659.9 1059.8,1660.1 1059.1,1660.2 1057.6,1660.3 1056.2,1660.5 1055.5,1660.6 1054.1,1660.7 1052.6,1660.8 1051.6,1660.9 1050.5,1661.0 1049.1,1661.1 1047.7,1661.2 1046.8,1661.3 1045.5,1661.3 1044.1,1661.4 1042.7,1661.5 1041.3,1661.6 1040.3,1661.6 1039.1,1661.7 1037.7,1661.8 1036.3,1661.8 1034.9,1661.9 1033.4,1662.0 1032.7,1662.0 1031.3,1662.1 1029.9,1662.1 1028.5,1662.2 1027.0,1662.2 1025.6,1662.3 1024.7,1662.3 1023.5,1662.4 1022.0,1662.4 1020.6,1662.5 1019.2,1662.5 1017.8,1662.6 1016.4,1662.6 1014.9,1662.6 1013.5,1662.6 1012.1,1662.7 1010.7,1662.7 1009.9,1662.7 1008.5,1662.7 1007.1,1662.8 1005.7,1662.8 1004.3,1662.8 1002.8,1662.8 1001.4,1662.9 1000.0,1662.9 998.6,1662.9 997.1,1662.9 995.7,1663.0 994.3,1663.0 992.9,1663.0 991.4,1663.0 990.0,1663.0 988.7,1663.1 987.9,1663.1 986.5,1663.1 985.0,1663.1 983.6,1663.1 982.2,1663.1 980.8,1663.1 979.3,1663.1 977.9,1663.2 976.5,1663.2 975.1,1663.2 973.7,1663.2 972.2,1663.2 970.8,1663.2 969.4,1663.2 968.0,1663.2 966.5,1663.2 965.1,1663.2 963.7,1663.2 962.3,1663.2 960.8,1663.2 959.4,1663.2 958.0,1663.2 956.6,1663.2 955.2,1663.2 953.7,1663.3 952.3,1663.3 950.9,1663.3 949.5,1663.3 948.0,1663.3 946.6,1663.3 945.2,1663.3 943.8,1663.3 942.3,1663.4 940.9,1663.4 939.5,1663.4 938.1,1663.4 937.4,1663.4 935.9,1663.4 934.5,1663.5 933.1,1663.5 931.7,1663.5 930.2,1663.5 928.8,1663.5 927.4,1663.5 926.0,1663.5 924.6,1663.5 923.1,1663.6 921.7,1663.6 920.3,1663.6 918.9,1663.6 917.4,1663.6 916.0,1663.6 914.6,1663.6 913.2,1663.6 911.7,1663.6 910.3,1663.6 908.9,1663.6 907.5,1663.6 906.1,1663.6 904.6,1663.6 903.2,1663.6 901.8,1663.6 900.4,1663.6 898.9,1663.6 897.5,1663.6 896.1,1663.6 894.7,1663.6 893.2,1663.6 891.8,1663.6 890.4,1663.6 889.0,1663.6 887.5,1663.6 886.1,1663.6 884.7,1663.6 883.3,1663.6 881.9,1663.6 880.4,1663.6 879.0,1663.6 877.6,1663.6 876.2,1663.6 874.7,1663.6 873.3,1663.6 871.9,1663.6 870.5,1663.5 869.0,1663.5 867.6,1663.5 866.2,1663.5 864.8,1663.5 863.4,1663.5 861.9,1663.5 860.5,1663.5 859.1,1663.5 857.7,1663.5 856.2,1663.5 854.8,1663.4 853.4,1663.4 852.0,1663.4M851.2,1644.7 852.0,1645.0 853.4,1644.9 854.8,1644.7 854.8,1644.7 853.4,1644.5 852.0,1644.4 851.2,1644.7M1202.8,1668.3 1201.4,1668.3 1200.0,1668.4 1199.2,1668.5 1197.8,1668.7 1196.4,1668.8 1195.7,1668.9 1194.3,1669.0 1192.8,1669.2 1192.1,1669.2 1190.7,1669.4 1189.3,1669.5 1188.6,1669.5 1187.1,1669.7 1185.7,1669.8 1184.3,1669.9 1183.6,1669.9 1182.2,1670.0 1180.7,1670.1 1179.3,1670.2 1178.4,1670.3 1177.2,1670.3 1175.8,1670.4 1174.3,1670.5 1172.9,1670.6 1171.5,1670.6 1170.8,1670.7 1169.4,1670.7 1167.9,1670.8 1166.5,1670.8 1165.1,1670.9 1163.7,1670.9 1162.2,1671.0 1161.5,1671.0 1160.1,1671.0 1158.7,1671.1 1157.3,1671.1 1155.8,1671.1 1154.4,1671.1 1153.0,1671.2 1151.6,1671.2 1150.1,1671.2 1148.7,1671.2 1147.3,1671.2 1145.9,1671.2 1144.4,1671.2 1143.0,1671.3 1141.6,1671.3 1140.2,1671.3 1138.8,1671.3 1137.3,1671.3 1135.9,1671.2 1134.5,1671.2 1133.1,1671.2 1131.6,1671.2 1130.2,1671.2 1128.8,1671.2 1127.4,1671.2 1125.9,1671.1 1124.5,1671.1 1123.1,1671.1 1121.7,1671.1 1120.3,1671.1 1118.8,1671.0 1117.4,1671.0 1116.7,1671.0 1115.3,1670.9 1113.8,1670.9 1112.4,1670.9 1111.0,1670.8 1109.6,1670.8 1108.2,1670.8 1106.7,1670.7 1105.3,1670.7 1103.9,1670.6 1103.2,1670.6 1101.7,1670.6 1100.3,1670.5 1098.9,1670.5 1097.5,1670.4 1096.1,1670.4 1094.6,1670.3 1093.2,1670.4 1091.8,1670.5 1090.4,1670.6 1089.2,1670.6 1088.2,1670.7 1086.8,1670.7 1085.4,1670.8 1084.0,1670.8 1082.5,1670.9 1081.1,1670.9 1079.7,1671.0 1078.8,1671.0 1077.6,1671.0 1076.1,1671.0 1074.7,1671.0 1073.3,1671.1 1071.9,1671.1 1070.4,1671.1 1069.0,1671.1 1067.6,1671.1 1066.2,1671.1 1064.7,1671.1 1063.3,1671.1 1061.9,1671.1 1060.5,1671.0 1059.1,1671.0 1057.6,1671.0 1056.2,1671.0 1055.5,1671.0 1054.1,1670.9 1052.6,1670.9 1051.2,1670.9 1049.8,1670.8 1048.4,1670.8 1047.0,1670.8 1045.5,1670.7 1044.1,1670.7 1042.7,1670.7 1041.3,1670.7 1039.8,1670.7 1038.4,1670.8 1037.0,1670.8 1035.6,1670.8 1034.1,1670.8 1032.7,1670.8 1031.3,1670.8 1029.9,1670.8 1028.5,1670.7 1027.0,1670.7 1025.6,1670.7 1024.2,1670.7 1022.8,1670.7 1021.3,1670.7 1019.9,1670.7 1018.5,1670.7 1017.1,1670.7 1015.6,1670.7 1014.2,1670.6 1012.8,1670.6 1012.1,1670.6 1010.7,1670.6 1009.2,1670.6 1007.8,1670.6 1006.4,1670.5 1005.0,1670.5 1003.5,1670.5 1002.1,1670.5 1000.7,1670.5 999.3,1670.5 997.9,1670.4 996.4,1670.4 995.0,1670.4 993.6,1670.4 992.2,1670.4 990.7,1670.3 989.3,1670.3 987.9,1670.3 986.5,1670.3 985.8,1670.3 984.3,1670.2 982.9,1670.2 981.5,1670.2 980.1,1670.2 978.6,1670.1 977.2,1670.1 975.8,1670.1 974.4,1670.1 972.9,1670.0 971.5,1670.0 970.1,1670.0 968.7,1669.9 967.3,1669.9 966.1,1669.9 965.1,1669.9 963.7,1669.9 962.3,1669.8 960.8,1669.8 959.4,1669.8 958.0,1669.8 956.6,1669.7 955.2,1669.7 953.7,1669.7 952.3,1669.6 950.9,1669.6 949.5,1669.6 948.3,1669.5 947.3,1669.5 945.9,1669.4 944.5,1669.3 943.1,1669.3 941.6,1669.2 940.9,1669.2 939.5,1669.1 938.1,1669.0 936.7,1669.0 935.2,1668.9 933.8,1668.8 933.1,1668.8 931.7,1668.8 930.2,1668.7 928.8,1668.6 927.4,1668.6 926.0,1668.5 924.6,1668.5 923.8,1668.4 922.4,1668.4 921.0,1668.3 919.6,1668.3 918.1,1668.2 916.7,1668.2 915.3,1668.1 914.6,1668.1 913.2,1668.0 911.7,1668.0 910.3,1668.0 908.9,1667.9 907.5,1667.9 906.1,1667.8 904.6,1667.8 903.9,1667.7 902.5,1667.7 901.1,1667.6 899.6,1667.6 898.2,1667.6 896.8,1667.5 895.4,1667.5 894.0,1667.4 892.7,1667.4 891.8,1667.4 890.4,1667.3 889.0,1667.3 887.5,1667.2 886.1,1667.2 884.7,1667.2 883.3,1667.1 881.9,1667.1 880.4,1667.0 879.7,1667.0 878.3,1667.0 876.9,1666.9 875.5,1666.8 874.0,1666.7 873.3,1666.6 871.9,1666.5 870.5,1666.4 869.2,1666.3 868.3,1666.2 866.9,1666.2 865.5,1666.1 864.1,1666.0 863.4,1665.9 861.9,1665.9 860.5,1665.8 859.1,1665.7 857.7,1665.7 856.2,1665.6 855.5,1665.6 854.1,1665.5 852.7,1665.4 851.3,1665.4 849.8,1665.3 848.7,1665.2 847.7,1665.1 846.6,1664.9 845.6,1664.6 844.9,1664.4 844.1,1664.1 843.4,1663.8 842.7,1663.2 842.3,1662.7 842.0,1662.1 841.8,1661.6 841.5,1660.9 841.4,1660.2 841.3,1659.5 841.2,1659.1 840.9,1658.4 840.7,1657.7 840.6,1657.2 840.5,1657.7 840.2,1658.4 840.0,1659.1 839.9,1659.5 839.6,1660.2 839.3,1660.9 839.1,1661.3 838.6,1662.0 838.2,1662.3 837.0,1662.5 836.3,1662.2 835.6,1662.0 834.8,1661.6 834.1,1661.3 833.5,1660.9 832.8,1660.4 832.0,1659.9 831.5,1659.5 831.1,1659.1 830.6,1658.7 830.0,1658.0 829.7,1657.7 829.2,1657.1 828.8,1656.6 828.5,1656.2 828.0,1655.5 827.8,1655.1 827.4,1654.4 827.1,1653.8 826.8,1653.3 826.5,1652.6 826.3,1652.2 826.1,1651.5 825.9,1650.8 825.7,1650.1 825.6,1649.7 825.4,1649.0 825.3,1648.3 825.2,1647.6 825.1,1646.9 825.0,1646.1 825.0,1645.4 825.0,1644.7 825.0,1644.0 825.0,1643.3 825.1,1642.5 825.2,1641.8 825.3,1641.1 825.4,1640.4 825.6,1639.7 825.7,1639.3 825.9,1638.6 826.1,1637.9 826.3,1637.2 826.5,1636.8 826.8,1636.1 827.1,1635.6 827.4,1635.0 827.8,1634.3 828.0,1633.9 828.5,1633.2 828.8,1632.8 829.2,1632.3 829.7,1631.7 830.0,1631.4 830.6,1630.7 831.1,1630.3 831.5,1629.9 832.0,1629.5 832.8,1629.0 833.5,1628.5 834.1,1628.1 834.8,1627.8 835.6,1627.4 836.3,1627.2 837.0,1626.9 838.2,1627.1 838.6,1627.4 839.1,1628.1 839.3,1628.5 839.6,1629.2 839.9,1629.9 840.0,1630.3 840.2,1631.0 840.5,1631.7 840.6,1632.2 840.7,1631.7 840.9,1631.0 841.2,1630.3 841.3,1629.9 841.4,1629.2 841.5,1628.5 841.8,1627.8 842.0,1627.3 842.3,1626.7 842.7,1626.2 843.4,1625.6 844.1,1625.3 844.9,1625.0 845.6,1624.8 846.6,1624.5 847.7,1624.3 848.7,1624.2 849.8,1624.1 851.3,1624.0 852.7,1624.0 854.1,1623.9 855.5,1623.8 856.2,1623.8 857.7,1623.7 859.1,1623.7 860.5,1623.6 861.9,1623.5 863.4,1623.5 864.1,1623.4 865.5,1623.3 866.9,1623.2 868.3,1623.2 869.2,1623.1 870.5,1623.0 871.9,1622.9 873.3,1622.8 874.0,1622.7 875.5,1622.6 876.9,1622.5 878.3,1622.4 879.7,1622.4 880.4,1622.4 881.9,1622.3 883.3,1622.3 884.7,1622.2 886.1,1622.2 887.5,1622.2 889.0,1622.1 890.4,1622.1 891.8,1622.0 892.7,1622.0 894.0,1622.0 895.4,1621.9 896.8,1621.9 898.2,1621.8 899.6,1621.8 901.1,1621.8 902.5,1621.7 903.9,1621.7 904.6,1621.6 906.1,1621.6 907.5,1621.5 908.9,1621.5 910.3,1621.4 911.7,1621.4 913.2,1621.4 914.6,1621.3 915.3,1621.3 916.7,1621.2 918.1,1621.2 919.6,1621.1 921.0,1621.1 922.4,1621.0 923.8,1621.0 924.6,1620.9 926.0,1620.9 927.4,1620.8 928.8,1620.8 930.2,1620.7 931.7,1620.6 933.1,1620.6 933.8,1620.6 935.2,1620.5 936.7,1620.4 938.1,1620.4 939.5,1620.3 940.9,1620.2 941.6,1620.2 943.1,1620.1 944.5,1620.1 945.9,1620.0 947.3,1619.9 948.3,1619.9 949.5,1619.8 950.9,1619.8 952.3,1619.8 953.7,1619.7 955.2,1619.7 956.6,1619.7 958.0,1619.6 959.4,1619.6 960.8,1619.6 962.3,1619.6 963.7,1619.5 965.1,1619.5 966.1,1619.5 967.3,1619.5 968.7,1619.5 970.1,1619.4 971.5,1619.4 972.9,1619.4 974.4,1619.3 975.8,1619.3 977.2,1619.3 978.6,1619.3 980.1,1619.2 981.5,1619.2 982.9,1619.2 984.3,1619.2 985.8,1619.1 986.5,1619.1 987.9,1619.1 989.3,1619.1 990.7,1619.1 992.2,1619.0 993.6,1619.0 995.0,1619.0 996.4,1619.0 997.9,1619.0 999.3,1618.9 1000.7,1618.9 1002.1,1618.9 1003.5,1618.9 1005.0,1618.9 1006.4,1618.9 1007.8,1618.8 1009.2,1618.8 1010.7,1618.8 1012.1,1618.8 1012.8,1618.8 1014.2,1618.8 1015.6,1618.7 1017.1,1618.7 1018.5,1618.7 1019.9,1618.7 1021.3,1618.7 1022.8,1618.7 1024.2,1618.7 1025.6,1618.7 1027.0,1618.7 1028.5,1618.7 1029.9,1618.6 1031.3,1618.6 1032.7,1618.6 1034.1,1618.6 1035.6,1618.6 1037.0,1618.6 1038.4,1618.6 1039.8,1618.7 1041.3,1618.7 1042.7,1618.7 1044.1,1618.7 1045.5,1618.7 1047.0,1618.6 1048.4,1618.6 1049.8,1618.6 1051.2,1618.5 1052.6,1618.5 1054.1,1618.5 1055.5,1618.4 1056.2,1618.4 1057.6,1618.4 1059.1,1618.4 1060.5,1618.4 1061.9,1618.3 1063.3,1618.3 1064.7,1618.3 1066.2,1618.3 1067.6,1618.3 1069.0,1618.3 1070.4,1618.3 1071.9,1618.3 1073.3,1618.3 1074.7,1618.4 1076.1,1618.4 1077.6,1618.4 1078.8,1618.4 1079.7,1618.4 1081.1,1618.5 1082.5,1618.5 1084.0,1618.6 1085.4,1618.6 1086.8,1618.7 1088.2,1618.7 1089.2,1618.8 1090.4,1618.8 1091.8,1618.9 1093.2,1619.0 1094.6,1619.1 1096.1,1619.0 1097.5,1619.0 1098.9,1618.9 1100.3,1618.9 1101.7,1618.8 1103.2,1618.8 1103.9,1618.8 1105.3,1618.7 1106.7,1618.7 1108.2,1618.6 1109.6,1618.6 1111.0,1618.6 1112.4,1618.5 1113.8,1618.5 1115.3,1618.5 1116.7,1618.4 1117.4,1618.4 1118.8,1618.4 1120.3,1618.3 1121.7,1618.3 1123.1,1618.3 1124.5,1618.3 1125.9,1618.3 1127.4,1618.2 1128.8,1618.2 1130.2,1618.2 1131.6,1618.2 1133.1,1618.2 1134.5,1618.2 1135.9,1618.2 1137.3,1618.1 1138.8,1618.1 1140.2,1618.1 1141.6,1618.1 1143.0,1618.1 1144.4,1618.2 1145.9,1618.2 1147.3,1618.2 1148.7,1618.2 1150.1,1618.2 1151.6,1618.2 1153.0,1618.2 1154.4,1618.3 1155.8,1618.3 1157.3,1618.3 1158.7,1618.3 1160.1,1618.4 1161.5,1618.4 1162.2,1618.4 1163.7,1618.5 1165.1,1618.5 1166.5,1618.6 1167.9,1618.6 1169.4,1618.7 1170.8,1618.7 1171.5,1618.8 1172.9,1618.8 1174.3,1618.9 1175.8,1619.0 1177.2,1619.1 1178.4,1619.1 1179.3,1619.2 1180.7,1619.3 1182.2,1619.4 1183.6,1619.5 1184.3,1619.5 1185.7,1619.6 1187.1,1619.7 1188.6,1619.9 1189.3,1619.9 1190.7,1620.0 1192.1,1620.2 1192.8,1620.2 1194.3,1620.4 1195.7,1620.5 1196.4,1620.6 1197.8,1620.7 1199.2,1620.9 1200.0,1621.0 1201.4,1621.1 1202.8,1621.1" fill="none" stroke="#111" stroke-width="1.7" stroke-dasharray="0.01 3.0" stroke-linecap="round"/></g>
<text x="1041.9" y="1623.1" font-size="13" font-family="'Liberation Serif', 'Times New Roman', serif" text-anchor="middle" fill="#222">0.9</text>
<text x="1017.6" y="1630.5" font-size="13" font-family="'Liberation Serif', 'Times New Roman', serif" text-anchor="middle" fill="#222">0.7</text>
<text x="964.7" y="1632.7" font-size="13" font-family="'Liberation Serif', 'Times New Roman', serif" text-anchor="middle" fill="#222">0.5</text>
<text x="938.2" y="1670.2" font-size="13" font-family="'Liberation Serif', 'Times New Roman', serif" text-anchor="middle" fill="#222">0.9</text>
<text x="963.3" y="1665.0" font-size="13" font-family="'Liberation Serif', 'Times New Roman', serif" text-anchor="middle" fill="#222">0.5</text>
<text x="1010.1" y="1665.8" font-size="13" font-family="'Liberation Serif', 'Times New Roman', serif" text-anchor="middle" fill="#222">0.7</text>
<rect x="805.0" y="1590.7" width="396.0" height="108.0" fill="none" stroke="#000" stroke-width="2"/>
<line x1="841.0" y1="1698.7" x2="841.0" y2="1707.7" stroke="#000" stroke-width="2"/>
<text x="841.0" y="1731.7" font-size="18.5" font-family="'Liberation Serif', 'Times New Roman', serif" text-anchor="middle">0</text>
<line x1="913.0" y1="1698.7" x2="913.0" y2="1707.7" stroke="#000" stroke-width="2"/>
<text x="913.0" y="1731.7" font-size="18.5" font-family="'Liberation Serif', 'Times New Roman', serif" text-anchor="middle">2</text>
<line x1="985.0" y1="1698.7" x2="985.0" y2="1707.7" stroke="#000" stroke-width="2"/>
<text x="985.0" y="1731.7" font-size="18.5" font-family="'Liberation Serif', 'Times New Roman', serif" text-anchor="middle">4</text>
<line x1="1057.0" y1="1698.7" x2="1057.0" y2="1707.7" stroke="#000" stroke-width="2"/>
<text x="1057.0" y="1731.7" font-size="18.5" font-family="'Liberation Serif', 'Times New Roman', serif" text-anchor="middle">6</text>
<line x1="1129.0" y1="1698.7" x2="1129.0" y2="1707.7" stroke="#000" stroke-width="2"/>
<text x="1129.0" y="1731.7" font-size="18.5" font-family="'Liberation Serif', 'Times New Roman', serif" text-anchor="middle">8</text>
<line x1="1201.0" y1="1698.7" x2="1201.0" y2="1707.7" stroke="#000" stroke-width="2"/>
<text x="1201.0" y="1731.7" font-size="18.5" font-family="'Liberation Serif', 'Times New Roman', serif" text-anchor="middle">10</text>
<line x1="795.0" y1="1608.7" x2="805.0" y2="1608.7" stroke="#000" stroke-width="2"/>
<text x="785.0" y="1615.7" font-size="18.5" font-family="'Liberation Serif', 'Times New Roman', serif" text-anchor="end">1</text>
<line x1="795.0" y1="1644.7" x2="805.0" y2="1644.7" stroke="#000" stroke-width="2"/>
<text x="785.0" y="1651.7" font-size="18.5" font-family="'Liberation Serif', 'Times New Roman', serif" text-anchor="end">0</text>
<line x1="795.0" y1="1680.7" x2="805.0" y2="1680.7" stroke="#000" stroke-width="2"/>
<text x="784.0" y="1687.7" font-size="18.5" font-family="'Liberation Serif', 'Times New Roman', serif" text-anchor="end" textLength="23.5" lengthAdjust="spacingAndGlyphs">−1</text>
<text x="1003.0" y="1763.7" font-size="21.5" font-family="'Liberation Serif', 'Times New Roman', serif" text-anchor="middle"><tspan font-style="italic">x</tspan><tspan dx="1">/</tspan><tspan font-style="italic" dx="1">D</tspan></text>
<text transform="translate(743.0,1644.7) rotate(-90)" font-size="21.5" font-family="'Liberation Serif', 'Times New Roman', serif" text-anchor="middle"><tspan font-style="italic">y</tspan><tspan dx="1">/</tspan><tspan font-style="italic" dx="1">D</tspan></text>
<polygon points="841.0,1626.0 848.9,1641.1 841.0,1644.0" fill="#fff" stroke="#000" stroke-width="3" stroke-linejoin="miter"/>
<polygon points="841.0,1663.4 848.9,1648.3 841.0,1645.4" fill="#fff" stroke="#000" stroke-width="3" stroke-linejoin="miter"/>
<circle cx="843" cy="1644.7" r="3.5" fill="#000"/>
<line x1="839" y1="1644.7" x2="850.0" y2="1644.7" stroke="#000" stroke-width="3"/>
<polygon points="922.4,1574.5 931.2,1570.5 1075.0,1570.5 1083.0,1574.5 1075.0,1578.6 931.2,1578.6" fill="url(#g10)" stroke="#000" stroke-width="2" stroke-linejoin="miter"/>
<line x1="931.2" y1="1561.7" x2="931.2" y2="1570.5" stroke="#000" stroke-width="2"/>
<line x1="967.2" y1="1561.7" x2="967.2" y2="1570.5" stroke="#000" stroke-width="2"/>
<line x1="1003.1" y1="1561.7" x2="1003.1" y2="1570.5" stroke="#000" stroke-width="2"/>
<line x1="1039" y1="1561.7" x2="1039" y2="1570.5" stroke="#000" stroke-width="2"/>
<line x1="1075" y1="1561.7" x2="1075" y2="1570.5" stroke="#000" stroke-width="2"/>
<text x="931.2" y="1547.3" font-size="20.5" font-family="'Liberation Sans', Arial, sans-serif" text-anchor="middle">0.2</text>
<text x="967.2" y="1547.3" font-size="20.5" font-family="'Liberation Sans', Arial, sans-serif" text-anchor="middle">0.4</text>
<text x="1003.1" y="1547.3" font-size="20.5" font-family="'Liberation Sans', Arial, sans-serif" text-anchor="middle">0.6</text>
<text x="1039.0" y="1547.3" font-size="20.5" font-family="'Liberation Sans', Arial, sans-serif" text-anchor="middle">0.8</text>
<text x="1075.0" y="1547.3" font-size="20.5" font-family="'Liberation Sans', Arial, sans-serif" text-anchor="middle">1.0</text>
<text x="840.0" y="1580.0" font-size="23.5" font-family="'Liberation Serif', 'Times New Roman', serif"><tspan font-style="italic">u̅</tspan><tspan font-style="italic" font-size="18" dy="5">x</tspan><tspan dy="-5">/</tspan><tspan font-style="italic">U</tspan><tspan font-size="16" dy="2">∞</tspan></text>
<g clip-path="url(#c11)"><g filter="url(#f12)" shape-rendering="crispEdges"><path fill="#000000" d="M391.3 647.7h76v4h-76zM471.3 647.7h4v4h-4zM495.3 647.7h4v4h-4zM543.3 647.7h4v4h-4zM603.3 647.7h4v4h-4zM391.3 651.7h76v4h-76zM471.3 651.7h4v4h-4zM391.3 655.7h76v4h-76zM571.3 655.7h4v4h-4zM607.3 655.7h4v4h-4zM391.3 659.7h76v4h-76zM475.3 659.7h4v4h-4zM391.3 663.7h76v4h-76zM475.3 663.7h4v4h-4zM611.3 663.7h4v4h-4zM391.3 667.7h76v4h-76zM475.3 667.7h4v4h-4zM499.3 667.7h4v4h-4zM547.3 667.7h4v4h-4zM715.3 667.7h4v4h-4zM771.3 667.7h4v4h-4zM391.3 671.7h76v4h-76zM391.3 675.7h76v4h-76zM615.3 675.7h4v4h-4zM391.3 679.7h76v4h-76zM391.3 683.7h72v4h-72zM391.3 687.7h52v4h-52zM451.3 687.7h12v4h-12zM391.3 691.7h48v4h-48zM455.3 691.7h4v4h-4zM391.3 695.7h44v4h-44zM527.3 695.7h4v4h-4zM391.3 699.7h44v4h-44zM527.3 699.7h4v4h-4zM391.3 703.7h44v4h-44zM455.3 703.7h4v4h-4zM579.3 703.7h4v4h-4zM391.3 707.7h44v4h-44zM579.3 707.7h4v4h-4zM391.3 711.7h44v4h-44zM455.3 711.7h4v4h-4zM579.3 711.7h4v4h-4zM391.3 715.7h44v4h-44zM527.3 715.7h4v4h-4zM391.3 719.7h44v4h-44zM527.3 719.7h4v4h-4zM391.3 723.7h48v4h-48zM455.3 723.7h4v4h-4zM391.3 727.7h52v4h-52zM451.3 727.7h12v4h-12zM391.3 731.7h72v4h-72zM391.3 735.7h76v4h-76zM391.3 739.7h76v4h-76zM615.3 739.7h4v4h-4zM391.3 743.7h76v4h-76zM391.3 747.7h76v4h-76zM475.3 747.7h4v4h-4zM499.3 747.7h4v4h-4zM547.3 747.7h4v4h-4zM715.3 747.7h4v4h-4zM771.3 747.7h4v4h-4zM391.3 751.7h76v4h-76zM475.3 751.7h4v4h-4zM611.3 751.7h4v4h-4zM391.3 755.7h76v4h-76zM475.3 755.7h4v4h-4zM391.3 759.7h76v4h-76zM571.3 759.7h4v4h-4zM607.3 759.7h4v4h-4zM391.3 763.7h76v4h-76zM471.3 763.7h4v4h-4zM391.3 767.7h76v4h-76zM471.3 767.7h4v4h-4zM495.3 767.7h4v4h-4zM543.3 767.7h4v4h-4zM603.3 767.7h4v4h-4z"/><path fill="#000004" d="M467.3 647.7h4v4h-4zM523.3 663.7h4v4h-4zM475.3 671.7h4v4h-4zM463.3 683.7h4v4h-4zM463.3 731.7h4v4h-4zM475.3 743.7h4v4h-4zM523.3 751.7h4v4h-4zM467.3 767.7h4v4h-4z"/><path fill="#040400" d="M475.3 647.7h4v4h-4zM763.3 647.7h4v4h-4zM475.3 651.7h4v4h-4zM495.3 651.7h4v4h-4zM543.3 651.7h4v4h-4zM571.3 651.7h4v4h-4zM655.3 651.7h4v4h-4zM707.3 651.7h4v4h-4zM475.3 655.7h4v4h-4zM495.3 655.7h4v4h-4zM523.3 655.7h4v4h-4zM523.3 659.7h4v4h-4zM711.3 659.7h4v4h-4zM499.3 671.7h4v4h-4zM547.3 671.7h4v4h-4zM575.3 671.7h4v4h-4zM663.3 671.7h4v4h-4zM499.3 675.7h4v4h-4zM775.3 679.7h4v4h-4zM443.3 687.7h8v4h-8zM451.3 691.7h4v4h-4zM479.3 691.7h4v4h-4zM527.3 691.7h4v4h-4zM435.3 695.7h4v4h-4zM455.3 695.7h4v4h-4zM435.3 719.7h4v4h-4zM455.3 719.7h4v4h-4zM451.3 723.7h4v4h-4zM479.3 723.7h4v4h-4zM527.3 723.7h4v4h-4zM443.3 727.7h8v4h-8zM775.3 735.7h4v4h-4zM499.3 739.7h4v4h-4zM499.3 743.7h4v4h-4zM547.3 743.7h4v4h-4zM575.3 743.7h4v4h-4zM663.3 743.7h4v4h-4zM523.3 755.7h4v4h-4zM711.3 755.7h4v4h-4zM475.3 759.7h4v4h-4zM495.3 759.7h4v4h-4zM523.3 759.7h4v4h-4zM475.3 763.7h4v4h-4zM495.3 763.7h4v4h-4zM543.3 763.7h4v4h-4zM571.3 763.7h4v4h-4zM655.3 763.7h4v4h-4zM707.3 763.7h4v4h-4zM475.3 767.7h4v4h-4zM763.3 767.7h4v4h-4z"/><path fill="#080800" d="M479.3 647.7h4v4h-4zM491.3 647.7h4v4h-4zM571.3 647.7h4v4h-4zM655.3 647.7h4v4h-4zM703.3 647.7h4v4h-4zM479.3 651.7h4v4h-4zM523.3 651.7h4v4h-4zM603.3 651.7h4v4h-4zM479.3 655.7h4v4h-4zM767.3 655.7h4v4h-4zM479.3 659.7h4v4h-4zM495.3 659.7h4v4h-4zM607.3 659.7h4v4h-4zM659.3 659.7h4v4h-4zM479.3 663.7h4v4h-4zM479.3 667.7h4v4h-4zM575.3 667.7h4v4h-4zM611.3 667.7h4v4h-4zM479.3 671.7h4v4h-4zM479.3 675.7h4v4h-4zM479.3 679.7h4v4h-4zM499.3 679.7h4v4h-4zM615.3 679.7h4v4h-4zM479.3 683.7h4v4h-4zM479.3 687.7h4v4h-4zM527.3 687.7h4v4h-4zM439.3 691.7h12v4h-12zM479.3 695.7h4v4h-4zM619.3 695.7h4v4h-4zM435.3 699.7h4v4h-4zM455.3 699.7h4v4h-4zM579.3 699.7h4v4h-4zM455.3 707.7h4v4h-4zM435.3 715.7h4v4h-4zM455.3 715.7h4v4h-4zM579.3 715.7h4v4h-4zM479.3 719.7h4v4h-4zM619.3 719.7h4v4h-4zM439.3 723.7h12v4h-12zM479.3 727.7h4v4h-4zM527.3 727.7h4v4h-4zM479.3 731.7h4v4h-4zM479.3 735.7h4v4h-4zM499.3 735.7h4v4h-4zM615.3 735.7h4v4h-4zM479.3 739.7h4v4h-4zM479.3 743.7h4v4h-4zM479.3 747.7h4v4h-4zM575.3 747.7h4v4h-4zM611.3 747.7h4v4h-4zM479.3 751.7h4v4h-4zM479.3 755.7h4v4h-4zM495.3 755.7h4v4h-4zM607.3 755.7h4v4h-4zM659.3 755.7h4v4h-4zM479.3 759.7h4v4h-4zM767.3 759.7h4v4h-4zM479.3 763.7h4v4h-4zM523.3 763.7h4v4h-4zM603.3 763.7h4v4h-4zM479.3 767.7h4v4h-4zM491.3 767.7h4v4h-4zM571.3 767.7h4v4h-4zM655.3 767.7h4v4h-4zM703.3 767.7h4v4h-4z"/><path fill="#0c0c00" d="M483.3 647.7h8v4h-8zM523.3 647.7h4v4h-4zM599.3 647.7h4v4h-4zM483.3 651.7h12v4h-12zM767.3 651.7h4v4h-4zM543.3 655.7h4v4h-4zM495.3 663.7h4v4h-4zM575.3 663.7h4v4h-4zM547.3 675.7h4v4h-4zM527.3 679.7h4v4h-4zM499.3 683.7h4v4h-4zM527.3 683.7h4v4h-4zM451.3 695.7h4v4h-4zM435.3 703.7h4v4h-4zM435.3 711.7h4v4h-4zM451.3 719.7h4v4h-4zM499.3 731.7h4v4h-4zM527.3 731.7h4v4h-4zM527.3 735.7h4v4h-4zM547.3 739.7h4v4h-4zM495.3 751.7h4v4h-4zM575.3 751.7h4v4h-4zM543.3 759.7h4v4h-4zM483.3 763.7h12v4h-12zM767.3 763.7h4v4h-4zM483.3 767.7h8v4h-8zM523.3 767.7h4v4h-4zM599.3 767.7h4v4h-4z"/><path fill="#00080c" d="M499.3 647.7h4v4h-4zM499.3 651.7h4v4h-4zM611.3 659.7h4v4h-4zM471.3 679.7h4v4h-4zM719.3 679.7h4v4h-4zM475.3 691.7h4v4h-4zM475.3 723.7h4v4h-4zM471.3 735.7h4v4h-4zM719.3 735.7h4v4h-4zM611.3 755.7h4v4h-4zM499.3 763.7h4v4h-4zM499.3 767.7h4v4h-4z"/><path fill="#001418" d="M503.3 647.7h4v4h-4zM563.3 647.7h4v4h-4zM755.3 647.7h4v4h-4zM503.3 651.7h4v4h-4zM611.3 651.7h4v4h-4zM759.3 651.7h4v4h-4zM519.3 659.7h4v4h-4zM503.3 675.7h4v4h-4zM503.3 679.7h4v4h-4zM551.3 687.7h4v4h-4zM619.3 691.7h4v4h-4zM619.3 723.7h4v4h-4zM551.3 727.7h4v4h-4zM503.3 735.7h4v4h-4zM503.3 739.7h4v4h-4zM519.3 755.7h4v4h-4zM503.3 763.7h4v4h-4zM611.3 763.7h4v4h-4zM759.3 763.7h4v4h-4zM503.3 767.7h4v4h-4zM563.3 767.7h4v4h-4zM755.3 767.7h4v4h-4z"/><path fill="#00181c" d="M507.3 647.7h8v4h-8zM503.3 655.7h4v4h-4zM503.3 659.7h4v4h-4zM567.3 659.7h4v4h-4zM655.3 659.7h4v4h-4zM503.3 663.7h4v4h-4zM519.3 663.7h4v4h-4zM767.3 663.7h4v4h-4zM503.3 667.7h4v4h-4zM503.3 671.7h4v4h-4zM523.3 679.7h4v4h-4zM551.3 683.7h4v4h-4zM575.3 683.7h4v4h-4zM551.3 731.7h4v4h-4zM575.3 731.7h4v4h-4zM523.3 735.7h4v4h-4zM503.3 743.7h4v4h-4zM503.3 747.7h4v4h-4zM503.3 751.7h4v4h-4zM519.3 751.7h4v4h-4zM767.3 751.7h4v4h-4zM503.3 755.7h4v4h-4zM567.3 755.7h4v4h-4zM655.3 755.7h4v4h-4zM503.3 759.7h4v4h-4zM507.3 767.7h8v4h-8z"/><path fill="#001014" d="M515.3 647.7h4v4h-4zM647.3 647.7h4v4h-4zM547.3 651.7h4v4h-4zM615.3 667.7h4v4h-4zM503.3 687.7h4v4h-4zM471.3 691.7h4v4h-4zM503.3 691.7h4v4h-4zM551.3 691.7h4v4h-4zM463.3 695.7h4v4h-4zM503.3 695.7h4v4h-4zM551.3 695.7h4v4h-4zM463.3 719.7h4v4h-4zM503.3 719.7h4v4h-4zM551.3 719.7h4v4h-4zM471.3 723.7h4v4h-4zM503.3 723.7h4v4h-4zM551.3 723.7h4v4h-4zM503.3 727.7h4v4h-4zM615.3 747.7h4v4h-4zM547.3 763.7h4v4h-4zM515.3 767.7h4v4h-4zM647.3 767.7h4v4h-4z"/><path fill="#000404" d="M519.3 647.7h4v4h-4zM651.3 647.7h4v4h-4zM707.3 647.7h4v4h-4zM467.3 651.7h4v4h-4zM763.3 651.7h4v4h-4zM467.3 655.7h8v4h-8zM467.3 659.7h8v4h-8zM571.3 659.7h4v4h-4zM467.3 663.7h8v4h-8zM499.3 663.7h4v4h-4zM467.3 667.7h4v4h-4zM475.3 675.7h4v4h-4zM575.3 675.7h4v4h-4zM475.3 679.7h4v4h-4zM463.3 687.7h4v4h-4zM667.3 687.7h4v4h-4zM459.3 691.7h4v4h-4zM459.3 723.7h4v4h-4zM463.3 727.7h4v4h-4zM667.3 727.7h4v4h-4zM475.3 735.7h4v4h-4zM475.3 739.7h4v4h-4zM575.3 739.7h4v4h-4zM467.3 747.7h4v4h-4zM467.3 751.7h8v4h-8zM499.3 751.7h4v4h-4zM467.3 755.7h8v4h-8zM571.3 755.7h4v4h-4zM467.3 759.7h8v4h-8zM467.3 763.7h4v4h-4zM763.3 763.7h4v4h-4zM519.3 767.7h4v4h-4zM651.3 767.7h4v4h-4zM707.3 767.7h4v4h-4z"/><path fill="#181800" d="M527.3 647.7h4v4h-4zM575.3 647.7h4v4h-4zM659.3 647.7h4v4h-4zM527.3 651.7h4v4h-4zM539.3 651.7h4v4h-4zM575.3 651.7h4v4h-4zM527.3 655.7h4v4h-4zM527.3 659.7h4v4h-4zM603.3 659.7h4v4h-4zM771.3 659.7h4v4h-4zM487.3 663.7h4v4h-4zM527.3 663.7h4v4h-4zM543.3 663.7h4v4h-4zM711.3 663.7h4v4h-4zM487.3 667.7h8v4h-8zM663.3 667.7h4v4h-4zM495.3 675.7h4v4h-4zM483.3 679.7h4v4h-4zM483.3 683.7h4v4h-4zM483.3 687.7h4v4h-4zM483.3 691.7h4v4h-4zM499.3 695.7h4v4h-4zM579.3 695.7h4v4h-4zM499.3 719.7h4v4h-4zM579.3 719.7h4v4h-4zM483.3 723.7h4v4h-4zM483.3 727.7h4v4h-4zM483.3 731.7h4v4h-4zM483.3 735.7h4v4h-4zM495.3 739.7h4v4h-4zM487.3 747.7h8v4h-8zM663.3 747.7h4v4h-4zM487.3 751.7h4v4h-4zM527.3 751.7h4v4h-4zM543.3 751.7h4v4h-4zM711.3 751.7h4v4h-4zM527.3 755.7h4v4h-4zM603.3 755.7h4v4h-4zM771.3 755.7h4v4h-4zM527.3 759.7h4v4h-4zM527.3 763.7h4v4h-4zM539.3 763.7h4v4h-4zM575.3 763.7h4v4h-4zM527.3 767.7h4v4h-4zM575.3 767.7h4v4h-4zM659.3 767.7h4v4h-4z"/><path fill="#1c1c00" d="M531.3 647.7h8v4h-8zM591.3 647.7h4v4h-4zM771.3 647.7h4v4h-4zM595.3 651.7h4v4h-4zM771.3 651.7h4v4h-4zM599.3 655.7h4v4h-4zM771.3 655.7h4v4h-4zM607.3 667.7h4v4h-4zM487.3 671.7h8v4h-8zM715.3 671.7h4v4h-4zM579.3 675.7h4v4h-4zM611.3 675.7h4v4h-4zM495.3 679.7h4v4h-4zM579.3 679.7h4v4h-4zM547.3 683.7h4v4h-4zM615.3 683.7h4v4h-4zM451.3 699.7h4v4h-4zM451.3 715.7h4v4h-4zM547.3 731.7h4v4h-4zM615.3 731.7h4v4h-4zM495.3 735.7h4v4h-4zM579.3 735.7h4v4h-4zM579.3 739.7h4v4h-4zM611.3 739.7h4v4h-4zM487.3 743.7h8v4h-8zM715.3 743.7h4v4h-4zM607.3 747.7h4v4h-4zM599.3 759.7h4v4h-4zM771.3 759.7h4v4h-4zM595.3 763.7h4v4h-4zM771.3 763.7h4v4h-4zM531.3 767.7h8v4h-8zM591.3 767.7h4v4h-4zM771.3 767.7h4v4h-4z"/><path fill="#101000" d="M539.3 647.7h4v4h-4zM767.3 647.7h4v4h-4zM483.3 655.7h12v4h-12zM603.3 655.7h4v4h-4zM659.3 655.7h4v4h-4zM707.3 655.7h4v4h-4zM483.3 659.7h4v4h-4zM491.3 659.7h4v4h-4zM543.3 659.7h4v4h-4zM575.3 659.7h4v4h-4zM771.3 663.7h4v4h-4zM495.3 667.7h4v4h-4zM611.3 671.7h4v4h-4zM527.3 675.7h4v4h-4zM499.3 687.7h4v4h-4zM439.3 695.7h4v4h-4zM479.3 699.7h4v4h-4zM435.3 707.7h4v4h-4zM479.3 715.7h4v4h-4zM439.3 719.7h4v4h-4zM499.3 727.7h4v4h-4zM527.3 739.7h4v4h-4zM611.3 743.7h4v4h-4zM495.3 747.7h4v4h-4zM771.3 751.7h4v4h-4zM483.3 755.7h4v4h-4zM491.3 755.7h4v4h-4zM543.3 755.7h4v4h-4zM575.3 755.7h4v4h-4zM483.3 759.7h12v4h-12zM603.3 759.7h4v4h-4zM659.3 759.7h4v4h-4zM707.3 759.7h4v4h-4zM539.3 767.7h4v4h-4zM767.3 767.7h4v4h-4z"/><path fill="#001414" d="M547.3 647.7h4v4h-4zM711.3 647.7h4v4h-4zM567.3 655.7h4v4h-4zM715.3 663.7h4v4h-4zM571.3 667.7h4v4h-4zM523.3 675.7h4v4h-4zM503.3 683.7h4v4h-4zM503.3 731.7h4v4h-4zM523.3 739.7h4v4h-4zM571.3 747.7h4v4h-4zM715.3 751.7h4v4h-4zM567.3 759.7h4v4h-4zM547.3 767.7h4v4h-4zM711.3 767.7h4v4h-4z"/><path fill="#002024" d="M551.3 647.7h8v4h-8zM615.3 647.7h4v4h-4zM715.3 647.7h4v4h-4zM751.3 647.7h4v4h-4zM511.3 651.7h4v4h-4zM615.3 651.7h4v4h-4zM715.3 651.7h4v4h-4zM615.3 655.7h4v4h-4zM519.3 667.7h4v4h-4zM551.3 675.7h4v4h-4zM463.3 699.7h4v4h-4zM463.3 715.7h4v4h-4zM551.3 739.7h4v4h-4zM519.3 747.7h4v4h-4zM615.3 759.7h4v4h-4zM511.3 763.7h4v4h-4zM615.3 763.7h4v4h-4zM715.3 763.7h4v4h-4zM551.3 767.7h8v4h-8zM615.3 767.7h4v4h-4zM715.3 767.7h4v4h-4zM751.3 767.7h4v4h-4z"/><path fill="#001c20" d="M559.3 647.7h4v4h-4zM643.3 647.7h4v4h-4zM563.3 651.7h4v4h-4zM647.3 651.7h4v4h-4zM515.3 655.7h4v4h-4zM651.3 655.7h4v4h-4zM615.3 659.7h4v4h-4zM715.3 659.7h4v4h-4zM571.3 671.7h4v4h-4zM771.3 671.7h4v4h-4zM551.3 679.7h4v4h-4zM523.3 683.7h4v4h-4zM467.3 695.7h8v4h-8zM503.3 699.7h4v4h-4zM503.3 715.7h4v4h-4zM467.3 719.7h8v4h-8zM523.3 731.7h4v4h-4zM551.3 735.7h4v4h-4zM571.3 743.7h4v4h-4zM771.3 743.7h4v4h-4zM615.3 755.7h4v4h-4zM715.3 755.7h4v4h-4zM515.3 759.7h4v4h-4zM651.3 759.7h4v4h-4zM563.3 763.7h4v4h-4zM647.3 763.7h4v4h-4zM559.3 767.7h4v4h-4zM643.3 767.7h4v4h-4z"/><path fill="#000808" d="M567.3 647.7h4v4h-4zM759.3 647.7h4v4h-4zM519.3 651.7h4v4h-4zM607.3 651.7h4v4h-4zM499.3 655.7h4v4h-4zM655.3 655.7h4v4h-4zM711.3 655.7h4v4h-4zM547.3 663.7h4v4h-4zM659.3 663.7h4v4h-4zM523.3 667.7h4v4h-4zM471.3 671.7h4v4h-4zM615.3 671.7h4v4h-4zM467.3 675.7h8v4h-8zM467.3 679.7h4v4h-4zM467.3 683.7h4v4h-4zM475.3 687.7h4v4h-4zM463.3 691.7h4v4h-4zM459.3 695.7h4v4h-4zM459.3 719.7h4v4h-4zM463.3 723.7h4v4h-4zM475.3 727.7h4v4h-4zM467.3 731.7h4v4h-4zM467.3 735.7h4v4h-4zM467.3 739.7h8v4h-8zM471.3 743.7h4v4h-4zM615.3 743.7h4v4h-4zM523.3 747.7h4v4h-4zM547.3 751.7h4v4h-4zM659.3 751.7h4v4h-4zM499.3 759.7h4v4h-4zM655.3 759.7h4v4h-4zM711.3 759.7h4v4h-4zM519.3 763.7h4v4h-4zM607.3 763.7h4v4h-4zM567.3 767.7h4v4h-4zM759.3 767.7h4v4h-4z"/><path fill="#202000" d="M579.3 647.7h4v4h-4zM695.3 647.7h4v4h-4zM531.3 651.7h4v4h-4zM539.3 655.7h4v4h-4zM663.3 663.7h4v4h-4zM543.3 667.7h4v4h-4zM579.3 671.7h4v4h-4zM487.3 675.7h8v4h-8zM775.3 675.7h4v4h-4zM487.3 679.7h4v4h-4zM495.3 683.7h4v4h-4zM579.3 683.7h4v4h-4zM667.3 683.7h4v4h-4zM719.3 683.7h4v4h-4zM483.3 695.7h4v4h-4zM619.3 699.7h4v4h-4zM779.3 707.7h4v4h-4zM619.3 715.7h4v4h-4zM483.3 719.7h4v4h-4zM495.3 731.7h4v4h-4zM579.3 731.7h4v4h-4zM667.3 731.7h4v4h-4zM719.3 731.7h4v4h-4zM487.3 735.7h4v4h-4zM487.3 739.7h8v4h-8zM775.3 739.7h4v4h-4zM579.3 743.7h4v4h-4zM543.3 747.7h4v4h-4zM663.3 751.7h4v4h-4zM539.3 759.7h4v4h-4zM531.3 763.7h4v4h-4zM579.3 767.7h4v4h-4zM695.3 767.7h4v4h-4z"/><path fill="#242400" d="M583.3 647.7h8v4h-8zM663.3 647.7h4v4h-4zM535.3 651.7h4v4h-4zM579.3 651.7h4v4h-4zM663.3 651.7h4v4h-4zM699.3 651.7h4v4h-4zM531.3 655.7h4v4h-4zM579.3 655.7h4v4h-4zM663.3 655.7h4v4h-4zM703.3 655.7h4v4h-4zM663.3 659.7h4v4h-4zM707.3 659.7h4v4h-4zM579.3 663.7h4v4h-4zM603.3 663.7h4v4h-4zM579.3 667.7h4v4h-4zM491.3 679.7h4v4h-4zM487.3 683.7h4v4h-4zM495.3 687.7h4v4h-4zM547.3 687.7h4v4h-4zM439.3 699.7h12v4h-12zM779.3 703.7h4v4h-4zM779.3 711.7h4v4h-4zM439.3 715.7h12v4h-12zM495.3 727.7h4v4h-4zM547.3 727.7h4v4h-4zM487.3 731.7h4v4h-4zM491.3 735.7h4v4h-4zM579.3 747.7h4v4h-4zM579.3 751.7h4v4h-4zM603.3 751.7h4v4h-4zM663.3 755.7h4v4h-4zM707.3 755.7h4v4h-4zM531.3 759.7h4v4h-4zM579.3 759.7h4v4h-4zM663.3 759.7h4v4h-4zM703.3 759.7h4v4h-4zM535.3 763.7h4v4h-4zM579.3 763.7h4v4h-4zM663.3 763.7h4v4h-4zM699.3 763.7h4v4h-4zM583.3 767.7h8v4h-8zM663.3 767.7h4v4h-4z"/><path fill="#141400" d="M595.3 647.7h4v4h-4zM699.3 647.7h4v4h-4zM599.3 651.7h4v4h-4zM659.3 651.7h4v4h-4zM703.3 651.7h4v4h-4zM575.3 655.7h4v4h-4zM487.3 659.7h4v4h-4zM483.3 663.7h4v4h-4zM491.3 663.7h4v4h-4zM607.3 663.7h4v4h-4zM483.3 667.7h4v4h-4zM527.3 667.7h4v4h-4zM483.3 671.7h4v4h-4zM495.3 671.7h4v4h-4zM527.3 671.7h4v4h-4zM483.3 675.7h4v4h-4zM547.3 679.7h4v4h-4zM499.3 691.7h4v4h-4zM443.3 695.7h8v4h-8zM443.3 719.7h8v4h-8zM499.3 723.7h4v4h-4zM547.3 735.7h4v4h-4zM483.3 739.7h4v4h-4zM483.3 743.7h4v4h-4zM495.3 743.7h4v4h-4zM527.3 743.7h4v4h-4zM483.3 747.7h4v4h-4zM527.3 747.7h4v4h-4zM483.3 751.7h4v4h-4zM491.3 751.7h4v4h-4zM607.3 751.7h4v4h-4zM487.3 755.7h4v4h-4zM575.3 759.7h4v4h-4zM599.3 763.7h4v4h-4zM659.3 763.7h4v4h-4zM703.3 763.7h4v4h-4zM595.3 767.7h4v4h-4zM699.3 767.7h4v4h-4z"/><path fill="#000c0c" d="M607.3 647.7h4v4h-4zM567.3 651.7h4v4h-4zM547.3 659.7h4v4h-4zM571.3 663.7h4v4h-4zM575.3 679.7h4v4h-4zM471.3 683.7h4v4h-4zM467.3 687.7h4v4h-4zM527.3 707.7h4v4h-4zM467.3 727.7h4v4h-4zM471.3 731.7h4v4h-4zM575.3 735.7h4v4h-4zM571.3 751.7h4v4h-4zM547.3 755.7h4v4h-4zM567.3 763.7h4v4h-4zM607.3 767.7h4v4h-4z"/><path fill="#001818" d="M611.3 647.7h4v4h-4zM515.3 651.7h4v4h-4zM615.3 663.7h4v4h-4zM475.3 699.7h4v4h-4zM551.3 699.7h4v4h-4zM475.3 715.7h4v4h-4zM551.3 715.7h4v4h-4zM615.3 751.7h4v4h-4zM515.3 763.7h4v4h-4zM611.3 767.7h4v4h-4z"/><path fill="#002c30" d="M619.3 647.7h4v4h-4zM643.3 651.7h4v4h-4zM559.3 655.7h4v4h-4zM515.3 663.7h4v4h-4zM507.3 667.7h4v4h-4zM567.3 667.7h4v4h-4zM471.3 699.7h4v4h-4zM459.3 703.7h4v4h-4zM551.3 703.7h4v4h-4zM459.3 711.7h4v4h-4zM551.3 711.7h4v4h-4zM471.3 715.7h4v4h-4zM507.3 747.7h4v4h-4zM567.3 747.7h4v4h-4zM515.3 751.7h4v4h-4zM559.3 759.7h4v4h-4zM643.3 763.7h4v4h-4zM619.3 767.7h4v4h-4z"/><path fill="#00343c" d="M623.3 647.7h12v4h-12zM555.3 659.7h4v4h-4zM651.3 659.7h4v4h-4zM511.3 667.7h4v4h-4zM567.3 671.7h4v4h-4zM719.3 671.7h4v4h-4zM507.3 683.7h4v4h-4zM571.3 683.7h4v4h-4zM507.3 687.7h4v4h-4zM507.3 691.7h4v4h-4zM723.3 703.7h4v4h-4zM723.3 711.7h4v4h-4zM507.3 723.7h4v4h-4zM507.3 727.7h4v4h-4zM507.3 731.7h4v4h-4zM571.3 731.7h4v4h-4zM567.3 743.7h4v4h-4zM719.3 743.7h4v4h-4zM511.3 747.7h4v4h-4zM555.3 755.7h4v4h-4zM651.3 755.7h4v4h-4zM623.3 767.7h12v4h-12z"/><path fill="#003034" d="M635.3 647.7h4v4h-4zM507.3 671.7h4v4h-4zM519.3 675.7h4v4h-4zM667.3 691.7h4v4h-4zM467.3 699.7h4v4h-4zM467.3 715.7h4v4h-4zM667.3 723.7h4v4h-4zM519.3 739.7h4v4h-4zM507.3 743.7h4v4h-4zM635.3 767.7h4v4h-4z"/><path fill="#00282c" d="M639.3 647.7h4v4h-4zM555.3 651.7h4v4h-4zM519.3 671.7h4v4h-4zM523.3 691.7h4v4h-4zM523.3 723.7h4v4h-4zM519.3 743.7h4v4h-4zM555.3 763.7h4v4h-4zM639.3 767.7h4v4h-4z"/><path fill="#2c2c00" d="M667.3 647.7h4v4h-4zM583.3 651.7h8v4h-8zM775.3 651.7h4v4h-4zM531.3 663.7h4v4h-4zM543.3 671.7h4v4h-4zM611.3 679.7h4v4h-4zM491.3 687.7h4v4h-4zM579.3 687.7h4v4h-4zM579.3 691.7h4v4h-4zM619.3 707.7h4v4h-4zM579.3 723.7h4v4h-4zM491.3 727.7h4v4h-4zM579.3 727.7h4v4h-4zM611.3 735.7h4v4h-4zM543.3 743.7h4v4h-4zM531.3 751.7h4v4h-4zM583.3 763.7h8v4h-8zM775.3 763.7h4v4h-4zM667.3 767.7h4v4h-4z"/><path fill="#343400" d="M671.3 647.7h4v4h-4zM667.3 651.7h4v4h-4zM587.3 655.7h4v4h-4zM583.3 659.7h4v4h-4zM775.3 659.7h4v4h-4zM535.3 663.7h4v4h-4zM599.3 663.7h4v4h-4zM543.3 675.7h4v4h-4zM607.3 675.7h4v4h-4zM487.3 695.7h4v4h-4zM495.3 695.7h4v4h-4zM531.3 695.7h4v4h-4zM499.3 699.7h4v4h-4zM779.3 699.7h4v4h-4zM439.3 703.7h4v4h-4zM615.3 707.7h4v4h-4zM439.3 711.7h4v4h-4zM499.3 715.7h4v4h-4zM779.3 715.7h4v4h-4zM487.3 719.7h4v4h-4zM495.3 719.7h4v4h-4zM531.3 719.7h4v4h-4zM543.3 739.7h4v4h-4zM607.3 739.7h4v4h-4zM535.3 751.7h4v4h-4zM599.3 751.7h4v4h-4zM583.3 755.7h4v4h-4zM775.3 755.7h4v4h-4zM587.3 759.7h4v4h-4zM667.3 763.7h4v4h-4zM671.3 767.7h4v4h-4z"/><path fill="#383800" d="M675.3 647.7h12v4h-12zM783.3 647.7h4v4h-4zM795.3 647.7h4v4h-4zM779.3 651.7h4v4h-4zM667.3 655.7h4v4h-4zM699.3 655.7h4v4h-4zM591.3 659.7h4v4h-4zM583.3 663.7h4v4h-4zM775.3 663.7h4v4h-4zM539.3 667.7h4v4h-4zM583.3 667.7h4v4h-4zM711.3 667.7h4v4h-4zM775.3 667.7h4v4h-4zM443.3 703.7h8v4h-8zM443.3 711.7h8v4h-8zM539.3 747.7h4v4h-4zM583.3 747.7h4v4h-4zM711.3 747.7h4v4h-4zM775.3 747.7h4v4h-4zM583.3 751.7h4v4h-4zM775.3 751.7h4v4h-4zM591.3 755.7h4v4h-4zM667.3 759.7h4v4h-4zM699.3 759.7h4v4h-4zM779.3 763.7h4v4h-4zM675.3 767.7h12v4h-12zM783.3 767.7h4v4h-4zM795.3 767.7h4v4h-4z"/><path fill="#303000" d="M687.3 647.7h4v4h-4zM779.3 647.7h4v4h-4zM799.3 647.7h4v4h-4zM695.3 651.7h4v4h-4zM583.3 655.7h4v4h-4zM591.3 655.7h4v4h-4zM775.3 655.7h4v4h-4zM535.3 659.7h4v4h-4zM595.3 659.7h4v4h-4zM539.3 663.7h4v4h-4zM531.3 667.7h4v4h-4zM603.3 667.7h4v4h-4zM531.3 671.7h4v4h-4zM775.3 671.7h4v4h-4zM531.3 675.7h4v4h-4zM531.3 679.7h4v4h-4zM531.3 683.7h4v4h-4zM531.3 687.7h4v4h-4zM491.3 691.7h4v4h-4zM531.3 691.7h4v4h-4zM547.3 695.7h4v4h-4zM451.3 707.7h4v4h-4zM547.3 719.7h4v4h-4zM491.3 723.7h4v4h-4zM531.3 723.7h4v4h-4zM531.3 727.7h4v4h-4zM531.3 731.7h4v4h-4zM531.3 735.7h4v4h-4zM531.3 739.7h4v4h-4zM531.3 743.7h4v4h-4zM775.3 743.7h4v4h-4zM531.3 747.7h4v4h-4zM603.3 747.7h4v4h-4zM539.3 751.7h4v4h-4zM535.3 755.7h4v4h-4zM595.3 755.7h4v4h-4zM583.3 759.7h4v4h-4zM591.3 759.7h4v4h-4zM775.3 759.7h4v4h-4zM695.3 763.7h4v4h-4zM687.3 767.7h4v4h-4zM779.3 767.7h4v4h-4zM799.3 767.7h4v4h-4z"/><path fill="#282800" d="M691.3 647.7h4v4h-4zM775.3 647.7h4v4h-4zM591.3 651.7h4v4h-4zM535.3 655.7h4v4h-4zM595.3 655.7h4v4h-4zM531.3 659.7h4v4h-4zM539.3 659.7h4v4h-4zM579.3 659.7h4v4h-4zM599.3 659.7h4v4h-4zM607.3 671.7h4v4h-4zM491.3 683.7h4v4h-4zM487.3 687.7h4v4h-4zM487.3 691.7h4v4h-4zM495.3 691.7h4v4h-4zM547.3 691.7h4v4h-4zM451.3 703.7h4v4h-4zM479.3 703.7h4v4h-4zM619.3 703.7h4v4h-4zM451.3 711.7h4v4h-4zM479.3 711.7h4v4h-4zM619.3 711.7h4v4h-4zM487.3 723.7h4v4h-4zM495.3 723.7h4v4h-4zM547.3 723.7h4v4h-4zM487.3 727.7h4v4h-4zM491.3 731.7h4v4h-4zM607.3 743.7h4v4h-4zM531.3 755.7h4v4h-4zM539.3 755.7h4v4h-4zM579.3 755.7h4v4h-4zM599.3 755.7h4v4h-4zM535.3 759.7h4v4h-4zM595.3 759.7h4v4h-4zM591.3 763.7h4v4h-4zM691.3 767.7h4v4h-4zM775.3 767.7h4v4h-4z"/><path fill="#002830" d="M719.3 647.7h4v4h-4zM747.3 647.7h4v4h-4zM511.3 659.7h4v4h-4zM563.3 659.7h4v4h-4zM507.3 663.7h4v4h-4zM507.3 751.7h4v4h-4zM511.3 755.7h4v4h-4zM563.3 755.7h4v4h-4zM719.3 767.7h4v4h-4zM747.3 767.7h4v4h-4z"/><path fill="#003038" d="M723.3 647.7h4v4h-4zM743.3 647.7h4v4h-4zM619.3 651.7h4v4h-4zM751.3 651.7h4v4h-4zM647.3 655.7h4v4h-4zM511.3 663.7h4v4h-4zM655.3 663.7h4v4h-4zM515.3 667.7h4v4h-4zM507.3 675.7h4v4h-4zM507.3 679.7h4v4h-4zM523.3 695.7h4v4h-4zM523.3 719.7h4v4h-4zM507.3 735.7h4v4h-4zM507.3 739.7h4v4h-4zM515.3 747.7h4v4h-4zM511.3 751.7h4v4h-4zM655.3 751.7h4v4h-4zM647.3 759.7h4v4h-4zM619.3 763.7h4v4h-4zM751.3 763.7h4v4h-4zM723.3 767.7h4v4h-4zM743.3 767.7h4v4h-4z"/><path fill="#003840" d="M727.3 647.7h16v4h-16zM639.3 651.7h4v4h-4zM723.3 651.7h4v4h-4zM619.3 655.7h4v4h-4zM755.3 655.7h4v4h-4zM719.3 659.7h4v4h-4zM555.3 663.7h4v4h-4zM767.3 667.7h4v4h-4zM515.3 671.7h4v4h-4zM519.3 679.7h4v4h-4zM551.3 707.7h4v4h-4zM519.3 735.7h4v4h-4zM515.3 743.7h4v4h-4zM767.3 747.7h4v4h-4zM555.3 751.7h4v4h-4zM719.3 755.7h4v4h-4zM619.3 759.7h4v4h-4zM755.3 759.7h4v4h-4zM639.3 763.7h4v4h-4zM723.3 763.7h4v4h-4zM727.3 767.7h16v4h-16z"/><path fill="#3c3c00" d="M787.3 647.7h8v4h-8zM671.3 651.7h4v4h-4zM691.3 651.7h4v4h-4zM587.3 659.7h4v4h-4zM595.3 663.7h4v4h-4zM535.3 667.7h4v4h-4zM583.3 671.7h4v4h-4zM603.3 671.7h4v4h-4zM583.3 675.7h4v4h-4zM543.3 679.7h4v4h-4zM667.3 679.7h4v4h-4zM491.3 695.7h4v4h-4zM439.3 707.7h4v4h-4zM479.3 707.7h4v4h-4zM491.3 719.7h4v4h-4zM543.3 735.7h4v4h-4zM667.3 735.7h4v4h-4zM583.3 739.7h4v4h-4zM583.3 743.7h4v4h-4zM603.3 743.7h4v4h-4zM535.3 747.7h4v4h-4zM595.3 751.7h4v4h-4zM587.3 755.7h4v4h-4zM671.3 763.7h4v4h-4zM691.3 763.7h4v4h-4zM787.3 767.7h8v4h-8z"/><path fill="#001c24" d="M507.3 651.7h4v4h-4zM715.3 655.7h4v4h-4zM663.3 675.7h4v4h-4zM663.3 739.7h4v4h-4zM715.3 759.7h4v4h-4zM507.3 763.7h4v4h-4z"/><path fill="#002028" d="M551.3 651.7h4v4h-4zM507.3 655.7h4v4h-4zM563.3 655.7h4v4h-4zM567.3 663.7h4v4h-4zM459.3 707.7h4v4h-4zM567.3 751.7h4v4h-4zM507.3 759.7h4v4h-4zM563.3 759.7h4v4h-4zM551.3 763.7h4v4h-4z"/><path fill="#002428" d="M559.3 651.7h4v4h-4zM755.3 651.7h4v4h-4zM511.3 655.7h4v4h-4zM551.3 655.7h4v4h-4zM759.3 655.7h4v4h-4zM515.3 659.7h4v4h-4zM763.3 659.7h4v4h-4zM551.3 667.7h4v4h-4zM659.3 667.7h4v4h-4zM551.3 671.7h4v4h-4zM571.3 675.7h4v4h-4zM523.3 687.7h4v4h-4zM523.3 727.7h4v4h-4zM571.3 739.7h4v4h-4zM551.3 743.7h4v4h-4zM551.3 747.7h4v4h-4zM659.3 747.7h4v4h-4zM515.3 755.7h4v4h-4zM763.3 755.7h4v4h-4zM511.3 759.7h4v4h-4zM551.3 759.7h4v4h-4zM759.3 759.7h4v4h-4zM559.3 763.7h4v4h-4zM755.3 763.7h4v4h-4z"/><path fill="#004048" d="M623.3 651.7h4v4h-4zM635.3 651.7h4v4h-4zM619.3 659.7h4v4h-4zM759.3 659.7h4v4h-4zM763.3 663.7h4v4h-4zM555.3 671.7h4v4h-4zM511.3 675.7h8v4h-8zM503.3 703.7h4v4h-4zM463.3 707.7h4v4h-4zM503.3 711.7h4v4h-4zM511.3 739.7h8v4h-8zM555.3 743.7h4v4h-4zM763.3 751.7h4v4h-4zM619.3 755.7h4v4h-4zM759.3 755.7h4v4h-4zM623.3 763.7h4v4h-4zM635.3 763.7h4v4h-4z"/><path fill="#00444c" d="M627.3 651.7h4v4h-4zM727.3 651.7h4v4h-4zM743.3 651.7h4v4h-4zM559.3 667.7h4v4h-4zM563.3 671.7h4v4h-4zM555.3 675.7h4v4h-4zM511.3 679.7h4v4h-4zM519.3 687.7h4v4h-4zM571.3 691.7h4v4h-4zM723.3 699.7h4v4h-4zM475.3 707.7h4v4h-4zM723.3 715.7h4v4h-4zM571.3 723.7h4v4h-4zM519.3 727.7h4v4h-4zM511.3 735.7h4v4h-4zM555.3 739.7h4v4h-4zM563.3 743.7h4v4h-4zM559.3 747.7h4v4h-4zM627.3 763.7h4v4h-4zM727.3 763.7h4v4h-4zM743.3 763.7h4v4h-4z"/><path fill="#004450" d="M631.3 651.7h4v4h-4zM723.3 655.7h4v4h-4zM619.3 663.7h4v4h-4zM515.3 679.7h4v4h-4zM555.3 679.7h4v4h-4zM567.3 679.7h4v4h-4zM463.3 703.7h4v4h-4zM463.3 711.7h4v4h-4zM515.3 735.7h4v4h-4zM555.3 735.7h4v4h-4zM567.3 735.7h4v4h-4zM619.3 751.7h4v4h-4zM723.3 759.7h4v4h-4zM631.3 763.7h4v4h-4z"/><path fill="#000c10" d="M651.3 651.7h4v4h-4zM519.3 655.7h4v4h-4zM523.3 671.7h4v4h-4zM471.3 687.7h4v4h-4zM475.3 695.7h4v4h-4zM475.3 719.7h4v4h-4zM471.3 727.7h4v4h-4zM523.3 743.7h4v4h-4zM519.3 759.7h4v4h-4zM651.3 763.7h4v4h-4z"/><path fill="#444400" d="M675.3 651.7h4v4h-4zM687.3 651.7h4v4h-4zM783.3 651.7h4v4h-4zM799.3 651.7h4v4h-4zM779.3 655.7h4v4h-4zM591.3 663.7h4v4h-4zM535.3 675.7h4v4h-4zM543.3 683.7h4v4h-4zM615.3 703.7h4v4h-4zM615.3 711.7h4v4h-4zM543.3 731.7h4v4h-4zM535.3 739.7h4v4h-4zM591.3 751.7h4v4h-4zM779.3 759.7h4v4h-4zM675.3 763.7h4v4h-4zM687.3 763.7h4v4h-4zM783.3 763.7h4v4h-4zM799.3 763.7h4v4h-4z"/><path fill="#484800" d="M679.3 651.7h8v4h-8zM787.3 651.7h4v4h-4zM671.3 655.7h4v4h-4zM695.3 655.7h4v4h-4zM667.3 663.7h4v4h-4zM587.3 667.7h4v4h-4zM595.3 667.7h4v4h-4zM599.3 671.7h4v4h-4zM539.3 675.7h4v4h-4zM603.3 675.7h4v4h-4zM715.3 675.7h4v4h-4zM535.3 679.7h4v4h-4zM607.3 679.7h4v4h-4zM779.3 695.7h4v4h-4zM779.3 719.7h4v4h-4zM535.3 735.7h4v4h-4zM607.3 735.7h4v4h-4zM539.3 739.7h4v4h-4zM603.3 739.7h4v4h-4zM715.3 739.7h4v4h-4zM599.3 743.7h4v4h-4zM587.3 747.7h4v4h-4zM595.3 747.7h4v4h-4zM667.3 751.7h4v4h-4zM671.3 759.7h4v4h-4zM695.3 759.7h4v4h-4zM679.3 763.7h8v4h-8zM787.3 763.7h4v4h-4z"/><path fill="#001010" d="M711.3 651.7h4v4h-4zM547.3 655.7h4v4h-4zM611.3 655.7h4v4h-4zM763.3 655.7h4v4h-4zM467.3 691.7h4v4h-4zM459.3 699.7h4v4h-4zM459.3 715.7h4v4h-4zM467.3 723.7h4v4h-4zM547.3 759.7h4v4h-4zM611.3 759.7h4v4h-4zM763.3 759.7h4v4h-4zM711.3 763.7h4v4h-4z"/><path fill="#002c34" d="M719.3 651.7h4v4h-4zM555.3 655.7h4v4h-4zM571.3 679.7h4v4h-4zM575.3 687.7h4v4h-4zM619.3 687.7h4v4h-4zM723.3 707.7h4v4h-4zM575.3 727.7h4v4h-4zM619.3 727.7h4v4h-4zM571.3 735.7h4v4h-4zM555.3 759.7h4v4h-4zM719.3 763.7h4v4h-4z"/><path fill="#004854" d="M731.3 651.7h4v4h-4zM739.3 651.7h4v4h-4zM751.3 655.7h4v4h-4zM559.3 671.7h4v4h-4zM659.3 671.7h4v4h-4zM519.3 691.7h4v4h-4zM555.3 691.7h4v4h-4zM471.3 707.7h4v4h-4zM519.3 723.7h4v4h-4zM555.3 723.7h4v4h-4zM559.3 743.7h4v4h-4zM659.3 743.7h4v4h-4zM751.3 759.7h4v4h-4zM731.3 763.7h4v4h-4zM739.3 763.7h4v4h-4z"/><path fill="#004c54" d="M735.3 651.7h4v4h-4zM619.3 667.7h4v4h-4zM511.3 687.7h4v4h-4zM511.3 727.7h4v4h-4zM619.3 747.7h4v4h-4zM735.3 763.7h4v4h-4z"/><path fill="#003c44" d="M747.3 651.7h4v4h-4zM559.3 663.7h4v4h-4zM719.3 663.7h4v4h-4zM555.3 667.7h4v4h-4zM563.3 667.7h4v4h-4zM719.3 667.7h4v4h-4zM511.3 671.7h4v4h-4zM567.3 675.7h4v4h-4zM519.3 683.7h4v4h-4zM571.3 687.7h4v4h-4zM507.3 695.7h4v4h-4zM475.3 703.7h4v4h-4zM475.3 711.7h4v4h-4zM507.3 719.7h4v4h-4zM571.3 727.7h4v4h-4zM519.3 731.7h4v4h-4zM567.3 739.7h4v4h-4zM511.3 743.7h4v4h-4zM555.3 747.7h4v4h-4zM563.3 747.7h4v4h-4zM719.3 747.7h4v4h-4zM559.3 751.7h4v4h-4zM719.3 751.7h4v4h-4zM747.3 763.7h4v4h-4z"/><path fill="#4c4c00" d="M791.3 651.7h8v4h-8zM591.3 667.7h4v4h-4zM587.3 671.7h4v4h-4zM667.3 675.7h4v4h-4zM535.3 683.7h4v4h-4zM543.3 687.7h4v4h-4zM543.3 727.7h4v4h-4zM535.3 731.7h4v4h-4zM667.3 739.7h4v4h-4zM587.3 743.7h4v4h-4zM591.3 747.7h4v4h-4zM791.3 763.7h8v4h-8z"/><path fill="#005058" d="M623.3 655.7h4v4h-4zM619.3 671.7h4v4h-4zM567.3 683.7h4v4h-4zM511.3 691.7h4v4h-4zM571.3 695.7h4v4h-4zM571.3 719.7h4v4h-4zM511.3 723.7h4v4h-4zM567.3 731.7h4v4h-4zM619.3 743.7h4v4h-4zM623.3 759.7h4v4h-4z"/><path fill="#005c68" d="M627.3 655.7h4v4h-4zM635.3 655.7h4v4h-4zM755.3 659.7h4v4h-4zM723.3 695.7h4v4h-4zM467.3 703.7h4v4h-4zM503.3 707.7h4v4h-4zM467.3 711.7h4v4h-4zM723.3 719.7h4v4h-4zM755.3 755.7h4v4h-4zM627.3 759.7h4v4h-4zM635.3 759.7h4v4h-4z"/><path fill="#00646c" d="M631.3 655.7h4v4h-4zM523.3 699.7h4v4h-4zM523.3 715.7h4v4h-4zM631.3 759.7h4v4h-4z"/><path fill="#00505c" d="M639.3 655.7h4v4h-4zM555.3 695.7h4v4h-4zM575.3 695.7h4v4h-4zM471.3 703.7h4v4h-4zM471.3 711.7h4v4h-4zM555.3 719.7h4v4h-4zM575.3 719.7h4v4h-4zM639.3 759.7h4v4h-4z"/><path fill="#00404c" d="M643.3 655.7h4v4h-4zM643.3 759.7h4v4h-4z"/><path fill="#5c5c00" d="M675.3 655.7h4v4h-4zM691.3 655.7h4v4h-4zM599.3 675.7h4v4h-4zM539.3 683.7h4v4h-4zM483.3 699.7h4v4h-4zM483.3 715.7h4v4h-4zM539.3 731.7h4v4h-4zM599.3 739.7h4v4h-4zM675.3 759.7h4v4h-4zM691.3 759.7h4v4h-4z"/><path fill="#6c6c00" d="M679.3 655.7h4v4h-4zM687.3 655.7h4v4h-4zM779.3 663.7h4v4h-4zM587.3 679.7h4v4h-4zM603.3 679.7h4v4h-4zM535.3 695.7h4v4h-4zM535.3 719.7h4v4h-4zM587.3 735.7h4v4h-4zM603.3 735.7h4v4h-4zM779.3 751.7h4v4h-4zM679.3 759.7h4v4h-4zM687.3 759.7h4v4h-4z"/><path fill="#707000" d="M683.3 655.7h4v4h-4zM799.3 655.7h4v4h-4zM583.3 683.7h4v4h-4zM539.3 691.7h4v4h-4zM779.3 691.7h4v4h-4zM543.3 695.7h4v4h-4zM583.3 703.7h4v4h-4zM583.3 711.7h4v4h-4zM543.3 719.7h4v4h-4zM539.3 723.7h4v4h-4zM779.3 723.7h4v4h-4zM583.3 731.7h4v4h-4zM683.3 759.7h4v4h-4zM799.3 759.7h4v4h-4z"/><path fill="#003438" d="M719.3 655.7h4v4h-4zM559.3 659.7h4v4h-4zM563.3 663.7h4v4h-4zM563.3 751.7h4v4h-4zM559.3 755.7h4v4h-4zM719.3 759.7h4v4h-4z"/><path fill="#005860" d="M727.3 655.7h4v4h-4zM727.3 759.7h4v4h-4z"/><path fill="#006870" d="M731.3 655.7h4v4h-4zM731.3 759.7h4v4h-4z"/><path fill="#007078" d="M735.3 655.7h4v4h-4zM735.3 759.7h4v4h-4z"/><path fill="#00707c" d="M739.3 655.7h4v4h-4zM559.3 687.7h8v4h-8zM515.3 695.7h4v4h-4zM515.3 719.7h4v4h-4zM559.3 727.7h8v4h-8zM739.3 759.7h4v4h-4z"/><path fill="#006874" d="M743.3 655.7h4v4h-4zM559.3 683.7h4v4h-4zM559.3 731.7h4v4h-4zM743.3 759.7h4v4h-4z"/><path fill="#005c64" d="M747.3 655.7h4v4h-4zM651.3 663.7h4v4h-4zM515.3 691.7h4v4h-4zM515.3 723.7h4v4h-4zM651.3 751.7h4v4h-4zM747.3 759.7h4v4h-4z"/><path fill="#545400" d="M783.3 655.7h4v4h-4zM595.3 671.7h4v4h-4zM667.3 671.7h4v4h-4zM587.3 675.7h4v4h-4zM611.3 683.7h4v4h-4zM535.3 687.7h4v4h-4zM535.3 727.7h4v4h-4zM611.3 731.7h4v4h-4zM587.3 739.7h4v4h-4zM595.3 743.7h4v4h-4zM667.3 743.7h4v4h-4zM783.3 759.7h4v4h-4z"/><path fill="#686800" d="M787.3 655.7h4v4h-4zM591.3 675.7h8v4h-8zM539.3 687.7h4v4h-4zM531.3 699.7h4v4h-4zM531.3 715.7h4v4h-4zM539.3 727.7h4v4h-4zM591.3 739.7h8v4h-8zM787.3 759.7h4v4h-4z"/><path fill="#747400" d="M791.3 655.7h4v4h-4zM791.3 759.7h4v4h-4z"/><path fill="#787800" d="M795.3 655.7h4v4h-4zM783.3 659.7h4v4h-4zM783.3 755.7h4v4h-4zM795.3 759.7h4v4h-4z"/><path fill="#000408" d="M499.3 659.7h4v4h-4zM767.3 659.7h4v4h-4zM471.3 667.7h4v4h-4zM467.3 671.7h4v4h-4zM475.3 683.7h4v4h-4zM527.3 703.7h4v4h-4zM527.3 711.7h4v4h-4zM475.3 731.7h4v4h-4zM467.3 743.7h4v4h-4zM471.3 747.7h4v4h-4zM499.3 755.7h4v4h-4zM767.3 755.7h4v4h-4z"/><path fill="#00242c" d="M507.3 659.7h4v4h-4zM551.3 659.7h4v4h-4zM551.3 663.7h4v4h-4zM719.3 675.7h4v4h-4zM775.3 683.7h4v4h-4zM775.3 731.7h4v4h-4zM719.3 739.7h4v4h-4zM551.3 751.7h4v4h-4zM507.3 755.7h4v4h-4zM551.3 755.7h4v4h-4z"/><path fill="#006c78" d="M623.3 659.7h4v4h-4zM643.3 659.7h4v4h-4zM723.3 663.7h4v4h-4zM723.3 751.7h4v4h-4zM623.3 755.7h4v4h-4zM643.3 755.7h4v4h-4z"/><path fill="#008490" d="M627.3 659.7h4v4h-4zM639.3 659.7h4v4h-4zM627.3 755.7h4v4h-4zM639.3 755.7h4v4h-4z"/><path fill="#00909c" d="M631.3 659.7h8v4h-8zM731.3 659.7h4v4h-4zM623.3 663.7h4v4h-4zM563.3 695.7h4v4h-4zM563.3 719.7h4v4h-4zM623.3 751.7h4v4h-4zM631.3 755.7h8v4h-8zM731.3 755.7h4v4h-4z"/><path fill="#004c58" d="M647.3 659.7h4v4h-4zM563.3 675.7h4v4h-4zM619.3 675.7h4v4h-4zM663.3 679.7h4v4h-4zM515.3 683.7h4v4h-4zM515.3 731.7h4v4h-4zM663.3 735.7h4v4h-4zM563.3 739.7h4v4h-4zM619.3 739.7h4v4h-4zM647.3 755.7h4v4h-4z"/><path fill="#404000" d="M667.3 659.7h4v4h-4zM703.3 659.7h4v4h-4zM587.3 663.7h4v4h-4zM707.3 663.7h4v4h-4zM599.3 667.7h4v4h-4zM535.3 671.7h8v4h-8zM583.3 679.7h4v4h-4zM443.3 707.7h8v4h-8zM583.3 735.7h4v4h-4zM535.3 743.7h8v4h-8zM599.3 747.7h4v4h-4zM587.3 751.7h4v4h-4zM707.3 751.7h4v4h-4zM667.3 755.7h4v4h-4zM703.3 755.7h4v4h-4z"/><path fill="#646400" d="M671.3 659.7h4v4h-4zM547.3 699.7h4v4h-4zM547.3 715.7h4v4h-4zM671.3 755.7h4v4h-4z"/><path fill="#888800" d="M675.3 659.7h4v4h-4zM671.3 663.7h4v4h-4zM591.3 679.7h4v4h-4zM539.3 695.7h4v4h-4zM495.3 699.7h4v4h-4zM615.3 699.7h4v4h-4zM495.3 715.7h4v4h-4zM615.3 715.7h4v4h-4zM539.3 719.7h4v4h-4zM591.3 735.7h4v4h-4zM671.3 751.7h4v4h-4zM675.3 755.7h4v4h-4z"/><path fill="#a0a000" d="M679.3 659.7h4v4h-4zM779.3 671.7h4v4h-4zM779.3 743.7h4v4h-4zM679.3 755.7h4v4h-4z"/><path fill="#acac00" d="M683.3 659.7h8v4h-8zM791.3 659.7h4v4h-4zM715.3 679.7h4v4h-4zM487.3 699.7h4v4h-4zM499.3 703.7h4v4h-4zM499.3 711.7h4v4h-4zM487.3 715.7h4v4h-4zM715.3 735.7h4v4h-4zM683.3 755.7h8v4h-8zM791.3 755.7h4v4h-4z"/><path fill="#9c9c00" d="M691.3 659.7h4v4h-4zM691.3 755.7h4v4h-4z"/><path fill="#848400" d="M695.3 659.7h4v4h-4zM779.3 667.7h4v4h-4zM599.3 679.7h4v4h-4zM599.3 735.7h4v4h-4zM779.3 747.7h4v4h-4zM695.3 755.7h4v4h-4z"/><path fill="#606000" d="M699.3 659.7h4v4h-4zM611.3 707.7h4v4h-4zM699.3 755.7h4v4h-4z"/><path fill="#005460" d="M723.3 659.7h4v4h-4zM559.3 675.7h4v4h-4zM515.3 687.7h4v4h-4zM575.3 699.7h4v4h-4zM575.3 715.7h4v4h-4zM515.3 727.7h4v4h-4zM559.3 739.7h4v4h-4zM723.3 755.7h4v4h-4z"/><path fill="#007884" d="M727.3 659.7h4v4h-4zM767.3 671.7h4v4h-4zM563.3 691.7h4v4h-4zM567.3 695.7h4v4h-4zM567.3 719.7h4v4h-4zM563.3 723.7h4v4h-4zM767.3 743.7h4v4h-4zM727.3 755.7h4v4h-4z"/><path fill="#00a0ac" d="M735.3 659.7h4v4h-4zM743.3 659.7h4v4h-4zM727.3 663.7h4v4h-4zM723.3 671.7h4v4h-4zM659.3 675.7h4v4h-4zM771.3 679.7h4v4h-4zM723.3 687.7h4v4h-4zM723.3 727.7h4v4h-4zM771.3 735.7h4v4h-4zM659.3 739.7h4v4h-4zM723.3 743.7h4v4h-4zM727.3 751.7h4v4h-4zM735.3 755.7h4v4h-4zM743.3 755.7h4v4h-4z"/><path fill="#00a8b4" d="M739.3 659.7h4v4h-4zM651.3 667.7h4v4h-4zM651.3 747.7h4v4h-4zM739.3 755.7h4v4h-4z"/><path fill="#0094a0" d="M747.3 659.7h4v4h-4zM667.3 699.7h4v4h-4zM667.3 715.7h4v4h-4zM747.3 755.7h4v4h-4z"/><path fill="#007c88" d="M751.3 659.7h4v4h-4zM507.3 699.7h4v4h-4zM507.3 715.7h4v4h-4zM751.3 755.7h4v4h-4z"/><path fill="#505000" d="M779.3 659.7h4v4h-4zM667.3 667.7h4v4h-4zM539.3 679.7h4v4h-4zM615.3 687.7h4v4h-4zM615.3 727.7h4v4h-4zM539.3 735.7h4v4h-4zM667.3 747.7h4v4h-4zM779.3 755.7h4v4h-4z"/><path fill="#989800" d="M787.3 659.7h4v4h-4zM787.3 755.7h4v4h-4z"/><path fill="#b8b800" d="M795.3 659.7h4v4h-4zM779.3 679.7h4v4h-4zM491.3 699.7h4v4h-4zM491.3 715.7h4v4h-4zM779.3 735.7h4v4h-4zM795.3 755.7h4v4h-4z"/><path fill="#b4b400" d="M799.3 659.7h4v4h-4zM699.3 663.7h4v4h-4zM603.3 707.7h4v4h-4zM699.3 751.7h4v4h-4zM799.3 755.7h4v4h-4z"/><path fill="#00b8c4" d="M627.3 663.7h4v4h-4zM623.3 667.7h4v4h-4zM667.3 703.7h4v4h-4zM667.3 711.7h4v4h-4zM623.3 747.7h4v4h-4zM627.3 751.7h4v4h-4z"/><path fill="#00d0dc" d="M631.3 663.7h4v4h-4zM631.3 751.7h4v4h-4z"/><path fill="#00d4e0" d="M635.3 663.7h4v4h-4zM727.3 667.7h4v4h-4zM511.3 699.7h4v4h-4zM511.3 715.7h4v4h-4zM727.3 747.7h4v4h-4zM635.3 751.7h4v4h-4z"/><path fill="#00ccd8" d="M639.3 663.7h4v4h-4zM639.3 751.7h4v4h-4z"/><path fill="#00b0bc" d="M643.3 663.7h4v4h-4zM643.3 751.7h4v4h-4z"/><path fill="#008c98" d="M647.3 663.7h4v4h-4zM647.3 751.7h4v4h-4z"/><path fill="#bcbc00" d="M675.3 663.7h4v4h-4zM719.3 691.7h4v4h-4zM595.3 707.7h4v4h-4zM719.3 723.7h4v4h-4zM675.3 751.7h4v4h-4z"/><path fill="#e4e400" d="M679.3 663.7h4v4h-4zM703.3 667.7h4v4h-4zM535.3 699.7h4v4h-4zM671.3 703.7h4v4h-4zM671.3 711.7h4v4h-4zM535.3 715.7h4v4h-4zM703.3 747.7h4v4h-4zM679.3 751.7h4v4h-4z"/><path fill="#ffff00" d="M683.3 663.7h4v4h-4zM675.3 667.7h4v4h-4zM671.3 675.7h4v4h-4zM671.3 739.7h4v4h-4zM675.3 747.7h4v4h-4zM683.3 751.7h4v4h-4z"/><path fill="#fffc00" d="M687.3 663.7h4v4h-4zM707.3 671.7h4v4h-4zM591.3 683.7h4v4h-4zM599.3 683.7h4v4h-4zM587.3 703.7h4v4h-4zM603.3 703.7h4v4h-4zM587.3 711.7h4v4h-4zM603.3 711.7h4v4h-4zM591.3 731.7h4v4h-4zM599.3 731.7h4v4h-4zM707.3 743.7h4v4h-4zM687.3 751.7h4v4h-4z"/><path fill="#fcfc00" d="M691.3 663.7h4v4h-4zM611.3 687.7h4v4h-4zM611.3 727.7h4v4h-4zM691.3 751.7h4v4h-4z"/><path fill="#e0e000" d="M695.3 663.7h4v4h-4zM603.3 683.7h4v4h-4zM671.3 707.7h4v4h-4zM603.3 731.7h4v4h-4zM695.3 751.7h4v4h-4z"/><path fill="#7c7c00" d="M703.3 663.7h4v4h-4zM703.3 751.7h4v4h-4z"/><path fill="#00ccd4" d="M731.3 663.7h4v4h-4zM731.3 751.7h4v4h-4z"/><path fill="#00e8f4" d="M735.3 663.7h4v4h-4zM623.3 671.7h4v4h-4zM567.3 699.7h4v4h-4zM567.3 715.7h4v4h-4zM623.3 743.7h4v4h-4zM735.3 751.7h4v4h-4z"/><path fill="#00e0f4" d="M739.3 663.7h8v4h-8zM739.3 751.7h8v4h-8z"/><path fill="#00e4f0" d="M747.3 663.7h4v4h-4zM647.3 667.7h4v4h-4zM763.3 671.7h4v4h-4zM763.3 743.7h4v4h-4zM647.3 747.7h4v4h-4zM747.3 751.7h4v4h-4z"/><path fill="#00c8d4" d="M751.3 663.7h4v4h-4zM759.3 667.7h4v4h-4zM519.3 699.7h4v4h-4zM519.3 715.7h4v4h-4zM759.3 747.7h4v4h-4zM751.3 751.7h4v4h-4z"/><path fill="#00a4b0" d="M755.3 663.7h4v4h-4zM571.3 699.7h4v4h-4zM575.3 703.7h4v4h-4zM575.3 711.7h4v4h-4zM571.3 715.7h4v4h-4zM755.3 751.7h4v4h-4z"/><path fill="#00747c" d="M759.3 663.7h4v4h-4zM759.3 751.7h4v4h-4z"/><path fill="#a4a400" d="M783.3 663.7h4v4h-4zM607.3 683.7h4v4h-4zM583.3 699.7h4v4h-4zM583.3 715.7h4v4h-4zM607.3 731.7h4v4h-4zM783.3 751.7h4v4h-4z"/><path fill="#d4d400" d="M787.3 663.7h4v4h-4zM607.3 703.7h4v4h-4zM607.3 711.7h4v4h-4zM787.3 751.7h4v4h-4z"/><path fill="#f8f800" d="M791.3 663.7h4v4h-4zM711.3 675.7h4v4h-4zM583.3 687.7h4v4h-4zM671.3 699.7h4v4h-4zM671.3 715.7h4v4h-4zM583.3 727.7h4v4h-4zM711.3 739.7h4v4h-4zM791.3 751.7h4v4h-4z"/><path fill="#fff800" d="M795.3 663.7h4v4h-4zM671.3 695.7h4v4h-4zM671.3 719.7h4v4h-4zM795.3 751.7h4v4h-4z"/><path fill="#fff400" d="M799.3 663.7h4v4h-4zM783.3 671.7h4v4h-4zM595.3 683.7h4v4h-4zM595.3 703.7h8v4h-8zM499.3 707.7h4v4h-4zM583.3 707.7h4v4h-4zM595.3 711.7h8v4h-8zM595.3 731.7h4v4h-4zM783.3 743.7h4v4h-4zM799.3 751.7h4v4h-4z"/><path fill="#00dcf4" d="M627.3 667.7h4v4h-4zM627.3 747.7h4v4h-4z"/><path fill="#00c0f8" d="M631.3 667.7h4v4h-4zM631.3 747.7h4v4h-4z"/><path fill="#00b4f8" d="M635.3 667.7h4v4h-4zM635.3 747.7h4v4h-4z"/><path fill="#00b8f8" d="M639.3 667.7h4v4h-4zM655.3 675.7h4v4h-4zM655.3 739.7h4v4h-4zM639.3 747.7h4v4h-4z"/><path fill="#00ccf8" d="M643.3 667.7h4v4h-4zM731.3 667.7h4v4h-4zM727.3 671.7h4v4h-4zM659.3 679.7h4v4h-4zM771.3 683.7h4v4h-4zM563.3 699.7h4v4h-4zM563.3 715.7h4v4h-4zM771.3 731.7h4v4h-4zM659.3 735.7h4v4h-4zM727.3 743.7h4v4h-4zM643.3 747.7h4v4h-4zM731.3 747.7h4v4h-4z"/><path fill="#006068" d="M655.3 667.7h4v4h-4zM559.3 679.7h4v4h-4zM775.3 687.7h4v4h-4zM775.3 727.7h4v4h-4zM559.3 735.7h4v4h-4zM655.3 747.7h4v4h-4z"/><path fill="#b0b000" d="M671.3 667.7h4v4h-4zM779.3 675.7h4v4h-4zM779.3 683.7h4v4h-4zM779.3 731.7h4v4h-4zM779.3 739.7h4v4h-4zM671.3 747.7h4v4h-4z"/><path fill="#ffe000" d="M679.3 667.7h4v4h-4zM583.3 695.7h4v4h-4zM583.3 719.7h4v4h-4zM679.3 747.7h4v4h-4z"/><path fill="#ffcc00" d="M683.3 667.7h4v4h-4zM719.3 699.7h4v4h-4zM719.3 715.7h4v4h-4zM683.3 747.7h4v4h-4z"/><path fill="#ffc000" d="M687.3 667.7h4v4h-4zM795.3 667.7h4v4h-4zM787.3 671.7h4v4h-4zM787.3 743.7h4v4h-4zM687.3 747.7h4v4h-4zM795.3 747.7h4v4h-4z"/><path fill="#ffc400" d="M691.3 667.7h4v4h-4zM691.3 747.7h4v4h-4z"/><path fill="#ffd000" d="M695.3 667.7h4v4h-4zM791.3 667.7h4v4h-4zM695.3 747.7h4v4h-4zM791.3 747.7h4v4h-4z"/><path fill="#ffec00" d="M699.3 667.7h4v4h-4zM787.3 667.7h4v4h-4zM671.3 691.7h4v4h-4zM591.3 703.7h4v4h-4zM591.3 711.7h4v4h-4zM671.3 723.7h4v4h-4zM699.3 747.7h4v4h-4zM787.3 747.7h4v4h-4z"/><path fill="#8c8c00" d="M707.3 667.7h4v4h-4zM707.3 747.7h4v4h-4z"/><path fill="#008894" d="M723.3 667.7h4v4h-4zM559.3 695.7h4v4h-4zM559.3 719.7h4v4h-4zM723.3 747.7h4v4h-4z"/><path fill="#00acf8" d="M735.3 667.7h4v4h-4zM623.3 679.7h4v4h-4zM623.3 735.7h4v4h-4zM735.3 747.7h4v4h-4z"/><path fill="#0098fc" d="M739.3 667.7h4v4h-4zM647.3 671.7h4v4h-4zM623.3 683.7h4v4h-4zM623.3 703.7h4v4h-4zM623.3 707.7h4v4h-4zM623.3 711.7h4v4h-4zM623.3 731.7h4v4h-4zM647.3 743.7h4v4h-4zM739.3 747.7h4v4h-4z"/><path fill="#0094fc" d="M743.3 667.7h4v4h-4zM767.3 679.7h4v4h-4zM767.3 735.7h4v4h-4zM743.3 747.7h4v4h-4z"/><path fill="#009cfc" d="M747.3 667.7h4v4h-4zM507.3 703.7h4v4h-4zM507.3 711.7h4v4h-4zM747.3 747.7h4v4h-4z"/><path fill="#00b0f8" d="M751.3 667.7h4v4h-4zM751.3 747.7h4v4h-4z"/><path fill="#00d4f8" d="M755.3 667.7h4v4h-4zM755.3 747.7h4v4h-4z"/><path fill="#00808c" d="M763.3 667.7h4v4h-4zM763.3 747.7h4v4h-4z"/><path fill="#dcdc00" d="M783.3 667.7h4v4h-4zM615.3 695.7h4v4h-4zM615.3 719.7h4v4h-4zM783.3 747.7h4v4h-4z"/><path fill="#ffb800" d="M799.3 667.7h4v4h-4zM607.3 687.7h4v4h-4zM607.3 727.7h4v4h-4zM799.3 747.7h4v4h-4z"/><path fill="#585800" d="M591.3 671.7h4v4h-4zM719.3 687.7h4v4h-4zM535.3 691.7h4v4h-4zM543.3 691.7h4v4h-4zM535.3 723.7h4v4h-4zM543.3 723.7h4v4h-4zM719.3 727.7h4v4h-4zM591.3 743.7h4v4h-4z"/><path fill="#00a8fc" d="M627.3 671.7h4v4h-4zM759.3 671.7h4v4h-4zM775.3 699.7h4v4h-4zM775.3 715.7h4v4h-4zM627.3 743.7h4v4h-4zM759.3 743.7h4v4h-4z"/><path fill="#0078ff" d="M631.3 671.7h4v4h-4zM663.3 691.7h4v4h-4zM663.3 723.7h4v4h-4zM631.3 743.7h4v4h-4z"/><path fill="#0064fc" d="M635.3 671.7h8v4h-8zM735.3 671.7h4v4h-4zM635.3 743.7h8v4h-8zM735.3 743.7h4v4h-4z"/><path fill="#0074ff" d="M643.3 671.7h4v4h-4zM755.3 671.7h4v4h-4zM771.3 687.7h4v4h-4zM571.3 703.7h4v4h-4zM571.3 711.7h4v4h-4zM771.3 727.7h4v4h-4zM643.3 743.7h4v4h-4zM755.3 743.7h4v4h-4z"/><path fill="#00c8f8" d="M651.3 671.7h4v4h-4zM623.3 675.7h4v4h-4zM663.3 687.7h4v4h-4zM575.3 707.7h4v4h-4zM663.3 727.7h4v4h-4zM623.3 739.7h4v4h-4zM651.3 743.7h4v4h-4z"/><path fill="#00b4c0" d="M655.3 671.7h4v4h-4zM723.3 675.7h4v4h-4zM775.3 691.7h4v4h-4zM775.3 723.7h4v4h-4zM723.3 739.7h4v4h-4zM655.3 743.7h4v4h-4z"/><path fill="#d8d800" d="M671.3 671.7h4v4h-4zM671.3 743.7h4v4h-4z"/><path fill="#ffd800" d="M675.3 671.7h4v4h-4zM675.3 743.7h4v4h-4z"/><path fill="#ffa800" d="M679.3 671.7h4v4h-4zM587.3 687.7h4v4h-4zM719.3 707.7h4v4h-4zM587.3 727.7h4v4h-4zM679.3 743.7h4v4h-4z"/><path fill="#fc7c00" d="M683.3 671.7h4v4h-4zM783.3 687.7h4v4h-4zM603.3 699.7h4v4h-4zM603.3 715.7h4v4h-4zM783.3 727.7h4v4h-4zM683.3 743.7h4v4h-4z"/><path fill="#f86000" d="M687.3 671.7h4v4h-4zM783.3 695.7h4v4h-4zM783.3 699.7h4v4h-4zM783.3 715.7h4v4h-4zM783.3 719.7h4v4h-4zM687.3 743.7h4v4h-4z"/><path fill="#f85c00" d="M691.3 671.7h4v4h-4zM595.3 699.7h8v4h-8zM595.3 715.7h8v4h-8zM691.3 743.7h4v4h-4z"/><path fill="#fc7000" d="M695.3 671.7h4v4h-4zM695.3 743.7h4v4h-4z"/><path fill="#ff9c00" d="M699.3 671.7h4v4h-4zM783.3 683.7h4v4h-4zM715.3 687.7h4v4h-4zM715.3 727.7h4v4h-4zM783.3 731.7h4v4h-4zM699.3 743.7h4v4h-4z"/><path fill="#ffc800" d="M703.3 671.7h4v4h-4zM583.3 691.7h4v4h-4zM483.3 703.7h4v4h-4zM483.3 711.7h4v4h-4zM583.3 723.7h4v4h-4zM703.3 743.7h4v4h-4z"/><path fill="#808000" d="M711.3 671.7h4v4h-4zM711.3 743.7h4v4h-4z"/><path fill="#0090fc" d="M731.3 671.7h4v4h-4zM763.3 675.7h4v4h-4zM623.3 699.7h4v4h-4zM623.3 715.7h4v4h-4zM763.3 739.7h4v4h-4zM731.3 743.7h4v4h-4z"/><path fill="#0048fc" d="M739.3 671.7h4v4h-4zM759.3 675.7h4v4h-4zM727.3 687.7h4v4h-4zM727.3 727.7h4v4h-4zM759.3 739.7h4v4h-4zM739.3 743.7h4v4h-4z"/><path fill="#0040fc" d="M743.3 671.7h4v4h-4zM663.3 695.7h4v4h-4zM507.3 707.7h4v4h-4zM663.3 719.7h4v4h-4zM743.3 743.7h4v4h-4z"/><path fill="#0044fc" d="M747.3 671.7h4v4h-4zM747.3 743.7h4v4h-4z"/><path fill="#0054fc" d="M751.3 671.7h4v4h-4zM731.3 675.7h4v4h-4zM731.3 739.7h4v4h-4zM751.3 743.7h4v4h-4z"/><path fill="#ff9400" d="M791.3 671.7h4v4h-4zM791.3 743.7h4v4h-4z"/><path fill="#fc6800" d="M795.3 671.7h4v4h-4zM783.3 691.7h4v4h-4zM783.3 723.7h4v4h-4zM795.3 743.7h4v4h-4z"/><path fill="#f85000" d="M799.3 671.7h4v4h-4zM679.3 675.7h4v4h-4zM679.3 739.7h4v4h-4zM799.3 743.7h4v4h-4z"/><path fill="#0070ff" d="M627.3 675.7h4v4h-4zM627.3 739.7h4v4h-4z"/><path fill="#0038f8" d="M631.3 675.7h4v4h-4zM727.3 691.7h4v4h-4zM519.3 703.7h4v4h-4zM519.3 711.7h4v4h-4zM727.3 723.7h4v4h-4zM631.3 739.7h4v4h-4z"/><path fill="#0014f8" d="M635.3 675.7h4v4h-4zM755.3 675.7h4v4h-4zM571.3 707.7h4v4h-4zM635.3 739.7h4v4h-4zM755.3 739.7h4v4h-4z"/><path fill="#000cf8" d="M639.3 675.7h4v4h-4zM627.3 683.7h4v4h-4zM627.3 731.7h4v4h-4zM639.3 739.7h4v4h-4z"/><path fill="#0018f8" d="M643.3 675.7h4v4h-4zM735.3 675.7h4v4h-4zM731.3 679.7h4v4h-4zM659.3 687.7h4v4h-4zM659.3 727.7h4v4h-4zM731.3 735.7h4v4h-4zM643.3 739.7h4v4h-4zM735.3 739.7h4v4h-4z"/><path fill="#003cf8" d="M647.3 675.7h4v4h-4zM647.3 739.7h4v4h-4z"/><path fill="#006cfc" d="M651.3 675.7h4v4h-4zM523.3 707.7h4v4h-4zM651.3 739.7h4v4h-4z"/><path fill="#ffb000" d="M675.3 675.7h4v4h-4zM707.3 675.7h4v4h-4zM719.3 703.7h4v4h-4zM719.3 711.7h4v4h-4zM675.3 739.7h4v4h-4zM707.3 739.7h4v4h-4z"/><path fill="#f00000" d="M683.3 675.7h4v4h-4zM607.3 691.7h4v4h-4zM495.3 707.7h4v4h-4zM607.3 723.7h4v4h-4zM683.3 739.7h4v4h-4z"/><path fill="#dc0000" d="M687.3 675.7h4v4h-4zM695.3 675.7h4v4h-4zM687.3 739.7h4v4h-4zM695.3 739.7h4v4h-4z"/><path fill="#d40000" d="M691.3 675.7h4v4h-4zM799.3 675.7h4v4h-4zM691.3 739.7h4v4h-4zM799.3 739.7h4v4h-4z"/><path fill="#f00400" d="M699.3 675.7h4v4h-4zM607.3 695.7h4v4h-4zM607.3 719.7h4v4h-4zM699.3 739.7h4v4h-4z"/><path fill="#f85400" d="M703.3 675.7h4v4h-4zM591.3 687.7h4v4h-4zM587.3 707.7h4v4h-4zM591.3 727.7h4v4h-4zM703.3 739.7h4v4h-4z"/><path fill="#00a4fc" d="M727.3 675.7h4v4h-4zM727.3 739.7h4v4h-4z"/><path fill="#0000e8" d="M739.3 675.7h4v4h-4zM751.3 675.7h4v4h-4zM631.3 679.7h4v4h-4zM631.3 735.7h4v4h-4zM739.3 739.7h4v4h-4zM751.3 739.7h4v4h-4z"/><path fill="#0000d8" d="M743.3 675.7h8v4h-8zM759.3 679.7h4v4h-4zM759.3 735.7h4v4h-4zM743.3 739.7h8v4h-8z"/><path fill="#00e0ec" d="M767.3 675.7h4v4h-4zM767.3 739.7h4v4h-4z"/><path fill="#004850" d="M771.3 675.7h4v4h-4zM619.3 679.7h4v4h-4zM511.3 683.7h4v4h-4zM555.3 683.7h4v4h-4zM555.3 687.7h4v4h-4zM575.3 691.7h4v4h-4zM575.3 723.7h4v4h-4zM555.3 727.7h4v4h-4zM511.3 731.7h4v4h-4zM555.3 731.7h4v4h-4zM619.3 735.7h4v4h-4zM771.3 739.7h4v4h-4z"/><path fill="#ffd400" d="M783.3 675.7h4v4h-4zM587.3 699.7h4v4h-4zM587.3 715.7h4v4h-4zM783.3 739.7h4v4h-4z"/><path fill="#fc8000" d="M787.3 675.7h4v4h-4zM787.3 739.7h4v4h-4z"/><path fill="#f42800" d="M791.3 675.7h4v4h-4zM707.3 679.7h4v4h-4zM707.3 735.7h4v4h-4zM791.3 739.7h4v4h-4z"/><path fill="#e40000" d="M795.3 675.7h4v4h-4zM679.3 679.7h4v4h-4zM675.3 691.7h4v4h-4zM539.3 703.7h4v4h-4zM539.3 711.7h4v4h-4zM675.3 723.7h4v4h-4zM679.3 735.7h4v4h-4zM795.3 739.7h4v4h-4z"/><path fill="#005864" d="M563.3 679.7h4v4h-4zM567.3 687.7h4v4h-4zM519.3 695.7h4v4h-4zM467.3 707.7h4v4h-4zM519.3 719.7h4v4h-4zM567.3 727.7h4v4h-4zM563.3 735.7h4v4h-4z"/><path fill="#909000" d="M595.3 679.7h4v4h-4zM611.3 703.7h4v4h-4zM611.3 711.7h4v4h-4zM595.3 735.7h4v4h-4z"/><path fill="#003cfc" d="M627.3 679.7h4v4h-4zM627.3 735.7h4v4h-4z"/><path fill="#0000c0" d="M635.3 679.7h4v4h-4zM635.3 735.7h4v4h-4z"/><path fill="#0000b0" d="M639.3 679.7h4v4h-4zM731.3 687.7h4v4h-4zM511.3 707.7h4v4h-4zM731.3 727.7h4v4h-4zM639.3 735.7h4v4h-4z"/><path fill="#0000b8" d="M643.3 679.7h4v4h-4zM771.3 699.7h4v4h-4zM771.3 715.7h4v4h-4zM643.3 735.7h4v4h-4z"/><path fill="#0000d0" d="M647.3 679.7h4v4h-4zM647.3 735.7h4v4h-4z"/><path fill="#000cf4" d="M651.3 679.7h4v4h-4zM651.3 735.7h4v4h-4z"/><path fill="#005cfc" d="M655.3 679.7h4v4h-4zM727.3 683.7h4v4h-4zM727.3 731.7h4v4h-4zM655.3 735.7h4v4h-4z"/><path fill="#fff000" d="M671.3 679.7h4v4h-4zM719.3 695.7h4v4h-4zM539.3 699.7h4v4h-4zM611.3 699.7h4v4h-4zM539.3 715.7h4v4h-4zM611.3 715.7h4v4h-4zM719.3 719.7h4v4h-4zM671.3 735.7h4v4h-4z"/><path fill="#fc7800" d="M675.3 679.7h4v4h-4zM675.3 735.7h4v4h-4z"/><path fill="#b40000" d="M683.3 679.7h4v4h-4zM591.3 691.7h4v4h-4zM591.3 723.7h4v4h-4zM683.3 735.7h4v4h-4z"/><path fill="#940000" d="M687.3 679.7h4v4h-4zM687.3 735.7h4v4h-4z"/><path fill="#8c0000" d="M691.3 679.7h8v4h-8zM799.3 679.7h4v4h-4zM683.3 683.7h24v4h-24zM795.3 683.7h8v4h-8zM679.3 687.7h32v4h-32zM791.3 687.7h12v4h-12zM679.3 691.7h36v4h-36zM791.3 691.7h12v4h-12zM679.3 695.7h36v4h-36zM787.3 695.7h16v4h-16zM679.3 699.7h36v4h-36zM787.3 699.7h16v4h-16zM679.3 703.7h36v4h-36zM787.3 703.7h16v4h-16zM539.3 707.7h4v4h-4zM679.3 707.7h36v4h-36zM787.3 707.7h16v4h-16zM679.3 711.7h36v4h-36zM787.3 711.7h16v4h-16zM679.3 715.7h36v4h-36zM787.3 715.7h16v4h-16zM679.3 719.7h36v4h-36zM787.3 719.7h16v4h-16zM679.3 723.7h36v4h-36zM791.3 723.7h12v4h-12zM679.3 727.7h32v4h-32zM791.3 727.7h12v4h-12zM683.3 731.7h24v4h-24zM795.3 731.7h8v4h-8zM691.3 735.7h8v4h-8zM799.3 735.7h4v4h-4z"/><path fill="#a00000" d="M699.3 679.7h4v4h-4zM787.3 691.7h4v4h-4zM787.3 723.7h4v4h-4zM699.3 735.7h4v4h-4z"/><path fill="#c80000" d="M703.3 679.7h4v4h-4zM703.3 735.7h4v4h-4z"/><path fill="#ffb400" d="M711.3 679.7h4v4h-4zM783.3 679.7h4v4h-4zM607.3 699.7h4v4h-4zM607.3 715.7h4v4h-4zM711.3 735.7h4v4h-4zM783.3 735.7h4v4h-4z"/><path fill="#00bcc8" d="M723.3 679.7h4v4h-4zM723.3 735.7h4v4h-4z"/><path fill="#007cff" d="M727.3 679.7h4v4h-4zM727.3 735.7h4v4h-4z"/><path fill="#0000c8" d="M735.3 679.7h4v4h-4zM659.3 691.7h4v4h-4zM659.3 723.7h4v4h-4zM735.3 735.7h4v4h-4z"/><path fill="#00009c" d="M739.3 679.7h4v4h-4zM739.3 735.7h4v4h-4z"/><path fill="#00008c" d="M743.3 679.7h12v4h-12zM635.3 683.7h16v4h-16zM735.3 683.7h28v4h-28zM631.3 687.7h24v4h-24zM735.3 687.7h32v4h-32zM631.3 691.7h28v4h-28zM735.3 691.7h36v4h-36zM631.3 695.7h32v4h-32zM731.3 695.7h40v4h-40zM631.3 699.7h32v4h-32zM731.3 699.7h40v4h-40zM631.3 703.7h32v4h-32zM731.3 703.7h40v4h-40zM515.3 707.7h4v4h-4zM563.3 707.7h4v4h-4zM631.3 707.7h32v4h-32zM731.3 707.7h40v4h-40zM631.3 711.7h32v4h-32zM731.3 711.7h40v4h-40zM631.3 715.7h32v4h-32zM731.3 715.7h40v4h-40zM631.3 719.7h32v4h-32zM731.3 719.7h40v4h-40zM631.3 723.7h28v4h-28zM735.3 723.7h36v4h-36zM631.3 727.7h24v4h-24zM735.3 727.7h32v4h-32zM635.3 731.7h16v4h-16zM735.3 731.7h28v4h-28zM743.3 735.7h12v4h-12z"/><path fill="#0000a8" d="M755.3 679.7h4v4h-4zM627.3 699.7h4v4h-4zM627.3 715.7h4v4h-4zM755.3 735.7h4v4h-4z"/><path fill="#002cf8" d="M763.3 679.7h4v4h-4zM763.3 735.7h4v4h-4z"/><path fill="#f42c00" d="M787.3 679.7h4v4h-4zM543.3 703.7h4v4h-4zM543.3 711.7h4v4h-4zM787.3 735.7h4v4h-4z"/><path fill="#cc0000" d="M791.3 679.7h4v4h-4zM791.3 735.7h4v4h-4z"/><path fill="#a40000" d="M795.3 679.7h4v4h-4zM595.3 695.7h4v4h-4zM595.3 719.7h4v4h-4zM795.3 735.7h4v4h-4z"/><path fill="#006470" d="M563.3 683.7h4v4h-4zM567.3 691.7h4v4h-4zM567.3 723.7h4v4h-4zM563.3 731.7h4v4h-4z"/><path fill="#cccc00" d="M587.3 683.7h4v4h-4zM587.3 731.7h4v4h-4z"/><path fill="#003c48" d="M619.3 683.7h4v4h-4zM619.3 731.7h4v4h-4z"/><path fill="#0000ac" d="M631.3 683.7h4v4h-4zM651.3 683.7h4v4h-4zM567.3 707.7h4v4h-4zM631.3 731.7h4v4h-4zM651.3 731.7h4v4h-4z"/><path fill="#0000f0" d="M655.3 683.7h4v4h-4zM655.3 731.7h4v4h-4z"/><path fill="#006cff" d="M659.3 683.7h4v4h-4zM659.3 731.7h4v4h-4z"/><path fill="#00acb8" d="M663.3 683.7h4v4h-4zM663.3 731.7h4v4h-4z"/><path fill="#ffe800" d="M671.3 683.7h4v4h-4zM671.3 687.7h4v4h-4zM531.3 703.7h4v4h-4zM547.3 703.7h4v4h-4zM531.3 711.7h4v4h-4zM547.3 711.7h4v4h-4zM671.3 727.7h4v4h-4zM671.3 731.7h4v4h-4z"/><path fill="#f43c00" d="M675.3 683.7h4v4h-4zM491.3 703.7h4v4h-4zM491.3 711.7h4v4h-4zM675.3 731.7h4v4h-4z"/><path fill="#b80000" d="M679.3 683.7h4v4h-4zM707.3 683.7h4v4h-4zM679.3 731.7h4v4h-4zM707.3 731.7h4v4h-4z"/><path fill="#f43800" d="M711.3 683.7h4v4h-4zM711.3 731.7h4v4h-4z"/><path fill="#ffe400" d="M715.3 683.7h4v4h-4zM715.3 731.7h4v4h-4z"/><path fill="#00b8c0" d="M723.3 683.7h4v4h-4zM723.3 731.7h4v4h-4z"/><path fill="#0000dc" d="M731.3 683.7h4v4h-4zM731.3 731.7h4v4h-4z"/><path fill="#0000c4" d="M763.3 683.7h4v4h-4zM627.3 691.7h4v4h-4zM627.3 723.7h4v4h-4zM763.3 731.7h4v4h-4z"/><path fill="#0034f8" d="M767.3 683.7h4v4h-4zM727.3 695.7h4v4h-4zM727.3 707.7h4v4h-4zM727.3 719.7h4v4h-4zM767.3 731.7h4v4h-4z"/><path fill="#e00000" d="M787.3 683.7h4v4h-4zM787.3 731.7h4v4h-4z"/><path fill="#980000" d="M791.3 683.7h4v4h-4zM595.3 691.7h4v4h-4zM715.3 703.7h4v4h-4zM715.3 711.7h4v4h-4zM595.3 723.7h4v4h-4zM791.3 731.7h4v4h-4z"/><path fill="#f43400" d="M595.3 687.7h4v4h-4zM595.3 727.7h4v4h-4z"/><path fill="#f84400" d="M599.3 687.7h4v4h-4zM535.3 703.7h4v4h-4zM535.3 711.7h4v4h-4zM599.3 727.7h4v4h-4z"/><path fill="#fc7400" d="M603.3 687.7h4v4h-4zM603.3 727.7h4v4h-4z"/><path fill="#008cfc" d="M623.3 687.7h4v4h-4zM623.3 727.7h4v4h-4z"/><path fill="#0000e0" d="M627.3 687.7h4v4h-4zM771.3 695.7h4v4h-4zM771.3 719.7h4v4h-4zM627.3 727.7h4v4h-4z"/><path fill="#0000a0" d="M655.3 687.7h4v4h-4zM771.3 703.7h4v4h-4zM627.3 707.7h4v4h-4zM771.3 711.7h4v4h-4zM655.3 727.7h4v4h-4z"/><path fill="#f00800" d="M675.3 687.7h4v4h-4zM587.3 691.7h4v4h-4zM587.3 723.7h4v4h-4zM675.3 727.7h4v4h-4z"/><path fill="#c40000" d="M711.3 687.7h4v4h-4zM591.3 695.7h4v4h-4zM591.3 719.7h4v4h-4zM711.3 727.7h4v4h-4z"/><path fill="#0000d4" d="M767.3 687.7h4v4h-4zM767.3 727.7h4v4h-4z"/><path fill="#949400" d="M779.3 687.7h4v4h-4zM607.3 707.7h4v4h-4zM779.3 727.7h4v4h-4z"/><path fill="#bc0000" d="M787.3 687.7h4v4h-4zM603.3 691.7h4v4h-4zM535.3 707.7h4v4h-4zM603.3 723.7h4v4h-4zM787.3 727.7h4v4h-4z"/><path fill="#007480" d="M559.3 691.7h4v4h-4zM559.3 723.7h4v4h-4z"/><path fill="#9c0000" d="M599.3 691.7h4v4h-4zM599.3 723.7h4v4h-4z"/><path fill="#ffa000" d="M611.3 691.7h4v4h-4zM547.3 707.7h4v4h-4zM611.3 723.7h4v4h-4z"/><path fill="#c4c400" d="M615.3 691.7h4v4h-4zM599.3 707.7h4v4h-4zM615.3 723.7h4v4h-4z"/><path fill="#0088fc" d="M623.3 691.7h4v4h-4zM623.3 695.7h4v4h-4zM775.3 703.7h4v4h-4zM775.3 711.7h4v4h-4zM623.3 719.7h4v4h-4zM623.3 723.7h4v4h-4z"/><path fill="#f42400" d="M715.3 691.7h4v4h-4zM715.3 723.7h4v4h-4z"/><path fill="#00848c" d="M723.3 691.7h4v4h-4zM723.3 723.7h4v4h-4z"/><path fill="#000090" d="M731.3 691.7h4v4h-4zM559.3 707.7h4v4h-4zM731.3 723.7h4v4h-4z"/><path fill="#0028f8" d="M771.3 691.7h4v4h-4zM511.3 703.7h4v4h-4zM511.3 711.7h4v4h-4zM771.3 723.7h4v4h-4z"/><path fill="#00606c" d="M511.3 695.7h4v4h-4zM667.3 695.7h4v4h-4zM511.3 719.7h4v4h-4zM667.3 719.7h4v4h-4z"/><path fill="#f43000" d="M587.3 695.7h4v4h-4zM587.3 719.7h4v4h-4z"/><path fill="#a80000" d="M599.3 695.7h4v4h-4zM599.3 719.7h4v4h-4z"/><path fill="#c00000" d="M603.3 695.7h4v4h-4zM603.3 719.7h4v4h-4z"/><path fill="#ff9800" d="M611.3 695.7h4v4h-4zM611.3 719.7h4v4h-4z"/><path fill="#0000b4" d="M627.3 695.7h4v4h-4zM627.3 719.7h4v4h-4z"/><path fill="#d80000" d="M675.3 695.7h4v4h-4zM675.3 719.7h4v4h-4z"/><path fill="#d00000" d="M715.3 695.7h4v4h-4zM675.3 699.7h4v4h-4zM675.3 703.7h4v4h-4zM675.3 707.7h4v4h-4zM675.3 711.7h4v4h-4zM675.3 715.7h4v4h-4zM715.3 719.7h4v4h-4z"/><path fill="#00d4f4" d="M775.3 695.7h4v4h-4zM559.3 699.7h4v4h-4zM559.3 715.7h4v4h-4zM775.3 719.7h4v4h-4z"/><path fill="#00e4f4" d="M515.3 699.7h4v4h-4zM515.3 715.7h4v4h-4z"/><path fill="#f4f400" d="M543.3 699.7h4v4h-4zM543.3 715.7h4v4h-4z"/><path fill="#009ca8" d="M555.3 699.7h4v4h-4zM555.3 715.7h4v4h-4z"/><path fill="#ff9000" d="M591.3 699.7h4v4h-4zM591.3 715.7h4v4h-4z"/><path fill="#0010f8" d="M663.3 699.7h4v4h-4zM663.3 715.7h4v4h-4z"/><path fill="#ac0000" d="M715.3 699.7h4v4h-4zM491.3 707.7h4v4h-4zM543.3 707.7h4v4h-4zM715.3 715.7h4v4h-4z"/><path fill="#0030f8" d="M727.3 699.7h4v4h-4zM727.3 703.7h4v4h-4zM727.3 711.7h4v4h-4zM727.3 715.7h4v4h-4z"/><path fill="#f84800" d="M487.3 703.7h4v4h-4zM483.3 707.7h4v4h-4zM487.3 711.7h4v4h-4z"/><path fill="#ffa400" d="M495.3 703.7h4v4h-4zM531.3 707.7h4v4h-4zM495.3 711.7h4v4h-4z"/><path fill="#0004f4" d="M515.3 703.7h4v4h-4zM559.3 703.7h4v4h-4zM515.3 711.7h4v4h-4zM559.3 711.7h4v4h-4z"/><path fill="#00c4f8" d="M523.3 703.7h4v4h-4zM523.3 711.7h4v4h-4z"/><path fill="#0080ff" d="M555.3 703.7h4v4h-4zM775.3 707.7h4v4h-4zM555.3 711.7h4v4h-4z"/><path fill="#0000ec" d="M563.3 703.7h4v4h-4zM663.3 703.7h4v4h-4zM563.3 711.7h4v4h-4zM663.3 711.7h4v4h-4z"/><path fill="#0020f8" d="M567.3 703.7h4v4h-4zM567.3 711.7h4v4h-4z"/><path fill="#0000a4" d="M627.3 703.7h4v4h-4zM627.3 711.7h4v4h-4z"/><path fill="#f86400" d="M783.3 703.7h4v4h-4zM783.3 707.7h4v4h-4zM783.3 711.7h4v4h-4z"/><path fill="#b00000" d="M487.3 707.7h4v4h-4z"/><path fill="#0000bc" d="M519.3 707.7h4v4h-4z"/><path fill="#0024f8" d="M555.3 707.7h4v4h-4z"/><path fill="#ffac00" d="M591.3 707.7h4v4h-4z"/><path fill="#0000e4" d="M663.3 707.7h4v4h-4z"/><path fill="#00c4d0" d="M667.3 707.7h4v4h-4z"/><path fill="#900000" d="M715.3 707.7h4v4h-4z"/><path fill="#000098" d="M771.3 707.7h4v4h-4z"/></g></g>
<rect x="399.3" y="655.7" width="396.0" height="108.0" fill="none" stroke="#000" stroke-width="2"/>
<line x1="435.3" y1="763.7" x2="435.3" y2="772.7" stroke="#000" stroke-width="2"/>
<text x="435.3" y="796.7" font-size="18.5" font-family="'Liberation Serif', 'Times New Roman', serif" text-anchor="middle">0</text>
<line x1="507.3" y1="763.7" x2="507.3" y2="772.7" stroke="#000" stroke-width="2"/>
<text x="507.3" y="796.7" font-size="18.5" font-family="'Liberation Serif', 'Times New Roman', serif" text-anchor="middle">2</text>
<line x1="579.3" y1="763.7" x2="579.3" y2="772.7" stroke="#000" stroke-width="2"/>
<text x="579.3" y="796.7" font-size="18.5" font-family="'Liberation Serif', 'Times New Roman', serif" text-anchor="middle">4</text>
<line x1="651.3" y1="763.7" x2="651.3" y2="772.7" stroke="#000" stroke-width="2"/>
<text x="651.3" y="796.7" font-size="18.5" font-family="'Liberation Serif', 'Times New Roman', serif" text-anchor="middle">6</text>
<line x1="723.3" y1="763.7" x2="723.3" y2="772.7" stroke="#000" stroke-width="2"/>
<text x="723.3" y="796.7" font-size="18.5" font-family="'Liberation Serif', 'Times New Roman', serif" text-anchor="middle">8</text>
<line x1="795.3" y1="763.7" x2="795.3" y2="772.7" stroke="#000" stroke-width="2"/>
<text x="795.3" y="796.7" font-size="18.5" font-family="'Liberation Serif', 'Times New Roman', serif" text-anchor="middle">10</text>
<line x1="389.3" y1="673.7" x2="399.3" y2="673.7" stroke="#000" stroke-width="2"/>
<text x="379.3" y="680.7" font-size="18.5" font-family="'Liberation Serif', 'Times New Roman', serif" text-anchor="end">1</text>
<line x1="389.3" y1="709.7" x2="399.3" y2="709.7" stroke="#000" stroke-width="2"/>
<text x="379.3" y="716.7" font-size="18.5" font-family="'Liberation Serif', 'Times New Roman', serif" text-anchor="end">0</text>
<line x1="389.3" y1="745.7" x2="399.3" y2="745.7" stroke="#000" stroke-width="2"/>
<text x="378.3" y="752.7" font-size="18.5" font-family="'Liberation Serif', 'Times New Roman', serif" text-anchor="end" textLength="23.5" lengthAdjust="spacingAndGlyphs">−1</text>
<text x="597.3" y="828.7" font-size="21.5" font-family="'Liberation Serif', 'Times New Roman', serif" text-anchor="middle"><tspan font-style="italic">x</tspan><tspan dx="1">/</tspan><tspan font-style="italic" dx="1">D</tspan></text>
<text transform="translate(337.3,709.7) rotate(-90)" font-size="21.5" font-family="'Liberation Serif', 'Times New Roman', serif" text-anchor="middle"><tspan font-style="italic">y</tspan><tspan dx="1">/</tspan><tspan font-style="italic" dx="1">D</tspan></text>
<polygon points="435.3,691.0 443.2,706.1 435.3,709.0" fill="#fff" stroke="#000" stroke-width="2" stroke-linejoin="miter"/>
<polygon points="435.3,728.4 443.2,713.3 435.3,710.4" fill="#fff" stroke="#000" stroke-width="2" stroke-linejoin="miter"/>
<polygon points="516.4,639.5 525.3,635.3 669.2,635.3 677.2,639.5 669.2,643.6 525.3,643.6" fill="url(#g13)" stroke="#000" stroke-width="2" stroke-linejoin="miter"/>
<line x1="525.3" y1="626.3" x2="525.3" y2="635.3" stroke="#000" stroke-width="2"/>
<line x1="561.3" y1="626.3" x2="561.3" y2="635.3" stroke="#000" stroke-width="2"/>
<line x1="597.2" y1="626.3" x2="597.2" y2="635.3" stroke="#000" stroke-width="2"/>
<line x1="633.2" y1="626.3" x2="633.2" y2="635.3" stroke="#000" stroke-width="2"/>
<line x1="669.2" y1="626.3" x2="669.2" y2="635.3" stroke="#000" stroke-width="2"/>
<text x="525.3" y="611.8" font-size="20.5" font-family="'Liberation Sans', Arial, sans-serif" text-anchor="middle">-0.2</text>
<text x="561.3" y="611.8" font-size="20.5" font-family="'Liberation Sans', Arial, sans-serif" text-anchor="middle">-0.1</text>
<text x="597.2" y="611.8" font-size="20.5" font-family="'Liberation Sans', Arial, sans-serif" text-anchor="middle">0.0</text>
<text x="633.2" y="611.8" font-size="20.5" font-family="'Liberation Sans', Arial, sans-serif" text-anchor="middle">0.1</text>
<text x="669.2" y="611.8" font-size="20.5" font-family="'Liberation Sans', Arial, sans-serif" text-anchor="middle">0.2</text>
<text x="440.0" y="644.0" font-size="22" font-family="'Liberation Serif', 'Times New Roman', serif"><tspan font-style="italic">û</tspan><tspan font-style="italic" font-size="16" dy="4">r</tspan><tspan dy="-4" dx="1.5">/</tspan><tspan font-style="italic" dx="1">U</tspan><tspan font-size="16" dy="3">∞</tspan></text>
<g clip-path="url(#c14)"><g filter="url(#f15)" shape-rendering="crispEdges"><path fill="#000000" d="M547 901.2h412v4h-412zM547 905.2h412v4h-412zM547 909.2h412v4h-412zM547 913.2h392v4h-392zM547 917.2h356v4h-356zM547 921.2h300v4h-300zM547 925.2h232v4h-232zM547 929.2h184v4h-184zM547 933.2h152v4h-152zM547 937.2h136v4h-136zM547 941.2h44v4h-44zM547 945.2h136v4h-136zM547 949.2h144v4h-144zM547 953.2h72v4h-72zM691 953.2h16v4h-16zM547 957.2h56v4h-56zM547 961.2h412v4h-412zM547 965.2h56v4h-56zM547 969.2h160v4h-160zM547 973.2h144v4h-144zM547 977.2h136v4h-136zM547 981.2h44v4h-44zM547 985.2h136v4h-136zM547 989.2h152v4h-152zM547 993.2h184v4h-184zM547 997.2h228v4h-228zM547 1001.2h296v4h-296zM547 1005.2h352v4h-352zM547 1009.2h388v4h-388zM547 1013.2h412v4h-412zM547 1017.2h412v4h-412zM547 1021.2h412v4h-412z"/><path fill="#040400" d="M939 913.2h20v4h-20zM903 917.2h36v4h-36zM847 921.2h44v4h-44zM779 925.2h48v4h-48zM731 929.2h20v4h-20zM699 933.2h8v4h-8zM691 949.2h4v4h-4zM603 965.2h4v4h-4zM723 965.2h4v4h-4z"/><path fill="#080800" d="M939 917.2h20v4h-20zM891 921.2h24v4h-24zM827 925.2h16v4h-16zM751 929.2h12v4h-12zM707 933.2h8v4h-8zM707 953.2h4v4h-4zM727 957.2h4v4h-4z"/><path fill="#0c0c00" d="M915 921.2h16v4h-16zM843 925.2h20v4h-20zM763 929.2h12v4h-12zM715 933.2h4v4h-4zM683 937.2h4v4h-4zM591 941.2h4v4h-4zM683 945.2h4v4h-4zM695 949.2h4v4h-4zM719 965.2h4v4h-4z"/><path fill="#101000" d="M931 921.2h12v4h-12zM863 925.2h16v4h-16zM775 929.2h12v4h-12zM719 933.2h4v4h-4zM711 953.2h4v4h-4zM731 957.2h4v4h-4zM607 965.2h4v4h-4z"/><path fill="#141400" d="M943 921.2h16v4h-16zM879 925.2h20v4h-20zM787 929.2h12v4h-12zM723 933.2h8v4h-8zM715 965.2h4v4h-4z"/><path fill="#181800" d="M899 925.2h12v4h-12zM799 929.2h16v4h-16zM731 933.2h4v4h-4zM687 937.2h4v4h-4zM735 957.2h4v4h-4z"/><path fill="#1c1c00" d="M911 925.2h8v4h-8zM815 929.2h12v4h-12zM735 933.2h4v4h-4zM711 965.2h4v4h-4z"/><path fill="#202000" d="M919 925.2h8v4h-8zM827 929.2h4v4h-4zM739 933.2h4v4h-4zM595 941.2h4v4h-4zM699 949.2h4v4h-4zM715 953.2h4v4h-4zM739 957.2h4v4h-4zM611 965.2h4v4h-4z"/><path fill="#242400" d="M927 925.2h12v4h-12zM831 929.2h8v4h-8zM743 933.2h4v4h-4zM691 937.2h4v4h-4zM707 965.2h4v4h-4z"/><path fill="#282800" d="M939 925.2h8v4h-8zM839 929.2h8v4h-8zM687 945.2h4v4h-4z"/><path fill="#2c2c00" d="M947 925.2h12v4h-12zM847 929.2h12v4h-12zM747 933.2h4v4h-4zM719 953.2h4v4h-4zM743 957.2h4v4h-4zM615 965.2h4v4h-4zM699 965.2h8v4h-8z"/><path fill="#303000" d="M859 929.2h8v4h-8zM751 933.2h4v4h-4zM695 937.2h4v4h-4zM619 965.2h80v4h-80z"/><path fill="#343400" d="M867 929.2h32v4h-32zM755 933.2h4v4h-4z"/><path fill="#383800" d="M899 929.2h8v4h-8zM759 933.2h4v4h-4zM599 941.2h4v4h-4zM703 949.2h4v4h-4z"/><path fill="#3c3c00" d="M907 929.2h4v4h-4zM763 933.2h4v4h-4zM699 937.2h4v4h-4zM603 941.2h12v4h-12zM723 953.2h4v4h-4zM747 957.2h4v4h-4z"/><path fill="#404000" d="M911 929.2h8v4h-8zM767 933.2h4v4h-4zM615 941.2h16v4h-16z"/><path fill="#444400" d="M919 929.2h8v4h-8zM771 933.2h4v4h-4zM631 941.2h16v4h-16z"/><path fill="#484800" d="M927 929.2h8v4h-8zM775 933.2h4v4h-4zM647 941.2h16v4h-16z"/><path fill="#4c4c00" d="M935 929.2h8v4h-8zM779 933.2h4v4h-4zM703 937.2h4v4h-4z"/><path fill="#505000" d="M943 929.2h8v4h-8zM691 945.2h4v4h-4zM751 957.2h4v4h-4z"/><path fill="#545400" d="M951 929.2h8v4h-8zM663 941.2h4v4h-4zM943 957.2h16v4h-16z"/><path fill="#585800" d="M783 933.2h4v4h-4zM727 953.2h4v4h-4zM923 957.2h20v4h-20z"/><path fill="#606000" d="M787 933.2h4v4h-4z"/><path fill="#646400" d="M791 933.2h4v4h-4z"/><path fill="#686800" d="M795 933.2h4v4h-4zM707 949.2h4v4h-4zM891 957.2h4v4h-4z"/><path fill="#6c6c00" d="M799 933.2h4v4h-4zM667 941.2h4v4h-4z"/><path fill="#707000" d="M803 933.2h4v4h-4zM711 937.2h4v4h-4z"/><path fill="#747400" d="M807 933.2h4v4h-4zM755 957.2h4v4h-4zM887 957.2h4v4h-4z"/><path fill="#787800" d="M811 933.2h4v4h-4z"/><path fill="#7c7c00" d="M815 933.2h4v4h-4z"/><path fill="#808000" d="M819 933.2h4v4h-4zM895 933.2h4v4h-4zM883 957.2h4v4h-4z"/><path fill="#848400" d="M823 933.2h4v4h-4zM899 933.2h4v4h-4zM715 937.2h4v4h-4zM671 941.2h4v4h-4zM731 953.2h4v4h-4z"/><path fill="#8c8c00" d="M827 933.2h4v4h-4zM907 933.2h4v4h-4z"/><path fill="#949400" d="M831 933.2h4v4h-4zM915 933.2h4v4h-4zM719 937.2h4v4h-4zM875 957.2h4v4h-4z"/><path fill="#9c9c00" d="M835 933.2h4v4h-4zM859 933.2h4v4h-4zM875 933.2h8v4h-8zM923 933.2h8v4h-8zM759 957.2h4v4h-4z"/><path fill="#a0a000" d="M839 933.2h8v4h-8zM855 933.2h4v4h-4zM863 933.2h12v4h-12zM931 933.2h4v4h-4zM675 941.2h4v4h-4zM871 957.2h4v4h-4z"/><path fill="#a4a400" d="M847 933.2h8v4h-8zM935 933.2h12v4h-12z"/><path fill="#989800" d="M883 933.2h4v4h-4zM919 933.2h4v4h-4z"/><path fill="#909000" d="M887 933.2h4v4h-4zM911 933.2h4v4h-4z"/><path fill="#888800" d="M891 933.2h4v4h-4zM903 933.2h4v4h-4zM879 957.2h4v4h-4z"/><path fill="#a8a800" d="M947 933.2h12v4h-12zM723 937.2h4v4h-4zM695 945.2h4v4h-4zM947 953.2h12v4h-12z"/><path fill="#5c5c00" d="M707 937.2h4v4h-4zM895 957.2h28v4h-28z"/><path fill="#b8b800" d="M727 937.2h4v4h-4zM679 941.2h4v4h-4zM927 953.2h8v4h-8zM863 957.2h4v4h-4z"/><path fill="#cccc00" d="M731 937.2h4v4h-4zM903 953.2h4v4h-4z"/><path fill="#dcdc00" d="M735 937.2h4v4h-4z"/><path fill="#f0f000" d="M739 937.2h4v4h-4zM739 953.2h4v4h-4z"/><path fill="#fffc00" d="M743 937.2h4v4h-4zM715 949.2h4v4h-4zM939 949.2h8v4h-8z"/><path fill="#fff400" d="M747 937.2h4v4h-4zM927 949.2h8v4h-8zM883 953.2h4v4h-4zM771 957.2h4v4h-4zM843 957.2h4v4h-4z"/><path fill="#ffec00" d="M751 937.2h4v4h-4zM915 949.2h8v4h-8zM775 957.2h4v4h-4zM839 957.2h4v4h-4z"/><path fill="#ffe800" d="M755 937.2h4v4h-4zM883 937.2h4v4h-4zM683 941.2h4v4h-4zM947 941.2h12v4h-12zM947 945.2h12v4h-12zM911 949.2h4v4h-4zM743 953.2h4v4h-4zM879 953.2h4v4h-4zM779 957.2h4v4h-4z"/><path fill="#ffe000" d="M759 937.2h4v4h-4zM879 937.2h4v4h-4zM931 941.2h8v4h-8zM935 945.2h8v4h-8zM899 949.2h4v4h-4zM783 957.2h4v4h-4zM835 957.2h4v4h-4z"/><path fill="#ffdc00" d="M763 937.2h4v4h-4zM923 941.2h8v4h-8zM931 945.2h4v4h-4zM719 949.2h4v4h-4zM895 949.2h4v4h-4zM875 953.2h4v4h-4z"/><path fill="#ffd800" d="M767 937.2h4v4h-4zM875 937.2h4v4h-4zM915 941.2h8v4h-8zM927 945.2h4v4h-4zM831 957.2h4v4h-4z"/><path fill="#ffd000" d="M771 937.2h4v4h-4zM871 937.2h4v4h-4zM895 941.2h8v4h-8zM915 945.2h4v4h-4zM871 953.2h4v4h-4zM795 957.2h8v4h-8zM827 957.2h4v4h-4z"/><path fill="#ffc800" d="M775 937.2h4v4h-4zM863 937.2h4v4h-4zM903 945.2h8v4h-8zM747 953.2h4v4h-4zM811 957.2h12v4h-12z"/><path fill="#ffbc00" d="M779 937.2h4v4h-4zM855 937.2h4v4h-4zM887 949.2h4v4h-4z"/><path fill="#ffb400" d="M783 937.2h4v4h-4zM851 937.2h4v4h-4zM687 941.2h4v4h-4z"/><path fill="#ffac00" d="M787 937.2h4v4h-4zM847 937.2h4v4h-4zM883 949.2h4v4h-4zM859 953.2h4v4h-4z"/><path fill="#ffa800" d="M791 937.2h12v4h-12zM843 937.2h4v4h-4z"/><path fill="#ffa400" d="M803 937.2h12v4h-12zM839 937.2h4v4h-4zM751 953.2h4v4h-4z"/><path fill="#ffa000" d="M815 937.2h12v4h-12zM831 937.2h8v4h-8zM883 941.2h4v4h-4z"/><path fill="#ff9c00" d="M827 937.2h4v4h-4zM887 945.2h4v4h-4zM879 949.2h4v4h-4z"/><path fill="#ffc400" d="M859 937.2h4v4h-4zM899 945.2h4v4h-4zM867 953.2h4v4h-4zM823 957.2h4v4h-4z"/><path fill="#ffcc00" d="M867 937.2h4v4h-4zM911 945.2h4v4h-4zM891 949.2h4v4h-4zM803 957.2h8v4h-8z"/><path fill="#fff000" d="M887 937.2h4v4h-4zM923 949.2h4v4h-4z"/><path fill="#fff800" d="M891 937.2h4v4h-4zM699 945.2h4v4h-4zM935 949.2h4v4h-4z"/><path fill="#fcfc00" d="M895 937.2h8v4h-8zM939 937.2h8v4h-8zM947 949.2h4v4h-4z"/><path fill="#ffff00" d="M903 937.2h36v4h-36zM887 953.2h4v4h-4zM847 957.2h4v4h-4z"/><path fill="#f8f800" d="M947 937.2h12v4h-12zM951 949.2h8v4h-8z"/><path fill="#fc7800" d="M691 941.2h4v4h-4zM851 953.2h4v4h-4z"/><path fill="#f84c00" d="M695 941.2h4v4h-4zM867 949.2h4v4h-4z"/><path fill="#f42400" d="M699 941.2h4v4h-4z"/><path fill="#f00000" d="M703 941.2h4v4h-4z"/><path fill="#e80000" d="M707 941.2h4v4h-4zM851 941.2h4v4h-4z"/><path fill="#e00000" d="M711 941.2h4v4h-4zM859 945.2h4v4h-4zM739 949.2h4v4h-4z"/><path fill="#dc0000" d="M715 941.2h4v4h-4zM847 941.2h4v4h-4zM831 953.2h4v4h-4z"/><path fill="#d80000" d="M719 941.2h4v4h-4zM771 953.2h4v4h-4z"/><path fill="#d00000" d="M723 941.2h4v4h-4zM843 941.2h4v4h-4zM723 945.2h4v4h-4zM851 949.2h4v4h-4zM775 953.2h4v4h-4zM827 953.2h4v4h-4z"/><path fill="#cc0000" d="M727 941.2h4v4h-4zM855 945.2h4v4h-4z"/><path fill="#c40000" d="M731 941.2h4v4h-4zM839 941.2h4v4h-4zM743 949.2h4v4h-4z"/><path fill="#c00000" d="M735 941.2h4v4h-4zM783 953.2h4v4h-4zM819 953.2h8v4h-8z"/><path fill="#bc0000" d="M739 941.2h4v4h-4zM835 941.2h4v4h-4zM727 945.2h4v4h-4zM847 949.2h4v4h-4zM807 953.2h12v4h-12z"/><path fill="#b80000" d="M743 941.2h4v4h-4zM767 941.2h4v4h-4zM851 945.2h4v4h-4zM791 953.2h16v4h-16z"/><path fill="#b00000" d="M747 941.2h4v4h-4zM755 941.2h8v4h-8z"/><path fill="#ac0000" d="M751 941.2h4v4h-4zM775 941.2h4v4h-4z"/><path fill="#b40000" d="M763 941.2h4v4h-4zM771 941.2h4v4h-4zM831 941.2h4v4h-4zM787 953.2h4v4h-4z"/><path fill="#a40000" d="M779 941.2h4v4h-4zM823 941.2h4v4h-4zM847 945.2h4v4h-4z"/><path fill="#980000" d="M783 941.2h4v4h-4zM799 941.2h12v4h-12z"/><path fill="#900000" d="M787 941.2h4v4h-4zM843 945.2h4v4h-4zM751 949.2h4v4h-4z"/><path fill="#940000" d="M791 941.2h8v4h-8zM735 945.2h4v4h-4zM839 949.2h4v4h-4z"/><path fill="#9c0000" d="M811 941.2h8v4h-8z"/><path fill="#a00000" d="M819 941.2h4v4h-4z"/><path fill="#a80000" d="M827 941.2h4v4h-4zM731 945.2h4v4h-4zM747 949.2h4v4h-4zM843 949.2h4v4h-4z"/><path fill="#f01000" d="M855 941.2h4v4h-4zM867 945.2h4v4h-4z"/><path fill="#f43000" d="M859 941.2h4v4h-4zM863 949.2h4v4h-4z"/><path fill="#f84000" d="M863 941.2h4v4h-4z"/><path fill="#f85400" d="M867 941.2h4v4h-4zM711 945.2h4v4h-4zM731 949.2h4v4h-4z"/><path fill="#fc6800" d="M871 941.2h4v4h-4zM871 949.2h4v4h-4z"/><path fill="#fc7c00" d="M875 941.2h4v4h-4zM755 953.2h4v4h-4z"/><path fill="#ff9000" d="M879 941.2h4v4h-4zM707 945.2h4v4h-4zM727 949.2h4v4h-4z"/><path fill="#ffb000" d="M887 941.2h4v4h-4zM891 945.2h4v4h-4z"/><path fill="#ffc000" d="M891 941.2h4v4h-4zM703 945.2h4v4h-4zM895 945.2h4v4h-4z"/><path fill="#ffd400" d="M903 941.2h12v4h-12zM919 945.2h8v4h-8zM787 957.2h8v4h-8z"/><path fill="#ffe400" d="M939 941.2h8v4h-8zM943 945.2h4v4h-4zM903 949.2h8v4h-8z"/><path fill="#f41800" d="M715 945.2h4v4h-4zM735 949.2h4v4h-4zM763 953.2h4v4h-4zM839 953.2h4v4h-4z"/><path fill="#e40000" d="M719 945.2h4v4h-4zM855 949.2h4v4h-4zM767 953.2h4v4h-4z"/><path fill="#8c0000" d="M739 945.2h104v4h-104zM755 949.2h84v4h-84z"/><path fill="#ec0000" d="M863 945.2h4v4h-4zM835 953.2h4v4h-4z"/><path fill="#f42c00" d="M871 945.2h4v4h-4z"/><path fill="#f84800" d="M875 945.2h4v4h-4zM759 953.2h4v4h-4z"/><path fill="#f86400" d="M879 945.2h4v4h-4z"/><path fill="#fc8000" d="M883 945.2h4v4h-4zM875 949.2h4v4h-4z"/><path fill="#b0b000" d="M711 949.2h4v4h-4zM939 953.2h4v4h-4z"/><path fill="#ffb800" d="M723 949.2h4v4h-4zM863 953.2h4v4h-4z"/><path fill="#f41400" d="M859 949.2h4v4h-4z"/><path fill="#000004" d="M619 953.2h72v4h-72zM775 997.2h4v4h-4zM843 1001.2h4v4h-4zM899 1005.2h4v4h-4zM935 1009.2h4v4h-4z"/><path fill="#b4b400" d="M735 953.2h4v4h-4zM935 953.2h4v4h-4z"/><path fill="#c80000" d="M779 953.2h4v4h-4z"/><path fill="#f43800" d="M843 953.2h4v4h-4z"/><path fill="#f85800" d="M847 953.2h4v4h-4z"/><path fill="#ff9800" d="M855 953.2h4v4h-4z"/><path fill="#e8e800" d="M891 953.2h4v4h-4z"/><path fill="#d4d400" d="M895 953.2h4v4h-4z"/><path fill="#d0d000" d="M899 953.2h4v4h-4z"/><path fill="#c8c800" d="M907 953.2h8v4h-8z"/><path fill="#c4c400" d="M915 953.2h4v4h-4zM763 957.2h4v4h-4zM859 957.2h4v4h-4z"/><path fill="#c0c000" d="M919 953.2h4v4h-4z"/><path fill="#bcbc00" d="M923 953.2h4v4h-4z"/><path fill="#acac00" d="M943 953.2h4v4h-4zM867 957.2h4v4h-4z"/><path fill="#000404" d="M603 957.2h4v4h-4zM723 957.2h4v4h-4zM691 973.2h4v4h-4zM699 989.2h8v4h-8zM731 993.2h16v4h-16zM779 997.2h44v4h-44zM847 1001.2h36v4h-36zM903 1005.2h28v4h-28zM939 1009.2h20v4h-20z"/><path fill="#001014" d="M607 957.2h4v4h-4zM711 969.2h4v4h-4zM783 993.2h4v4h-4zM871 997.2h8v4h-8zM935 1001.2h8v4h-8z"/><path fill="#002024" d="M611 957.2h4v4h-4zM715 969.2h4v4h-4zM699 973.2h4v4h-4zM595 981.2h4v4h-4zM827 993.2h4v4h-4zM919 997.2h8v4h-8z"/><path fill="#002c30" d="M615 957.2h4v4h-4zM703 957.2h4v4h-4zM747 989.2h4v4h-4zM847 993.2h4v4h-4zM947 997.2h12v4h-12z"/><path fill="#003034" d="M619 957.2h80v4h-80zM695 985.2h4v4h-4zM859 993.2h4v4h-4z"/><path fill="#002c34" d="M699 957.2h4v4h-4zM743 965.2h4v4h-4zM719 969.2h4v4h-4zM851 993.2h8v4h-8z"/><path fill="#00242c" d="M707 957.2h4v4h-4zM743 989.2h4v4h-4zM835 993.2h4v4h-4zM935 997.2h4v4h-4z"/><path fill="#001c24" d="M711 957.2h4v4h-4z"/><path fill="#001418" d="M715 957.2h4v4h-4zM727 989.2h4v4h-4zM791 993.2h8v4h-8zM883 997.2h16v4h-16zM947 1001.2h12v4h-12z"/><path fill="#000c0c" d="M719 957.2h4v4h-4zM591 981.2h4v4h-4zM683 985.2h4v4h-4zM763 993.2h8v4h-8zM843 997.2h12v4h-12zM915 1001.2h8v4h-8z"/><path fill="#f4f400" d="M767 957.2h4v4h-4z"/><path fill="#ecec00" d="M851 957.2h4v4h-4z"/><path fill="#d8d800" d="M855 957.2h4v4h-4z"/><path fill="#000808" d="M727 965.2h4v4h-4zM707 969.2h4v4h-4zM707 989.2h4v4h-4zM751 993.2h8v4h-8zM827 997.2h12v4h-12zM891 1001.2h16v4h-16zM939 1005.2h20v4h-20z"/><path fill="#001010" d="M731 965.2h4v4h-4zM719 989.2h4v4h-4zM775 993.2h8v4h-8zM863 997.2h8v4h-8zM931 1001.2h4v4h-4z"/><path fill="#00181c" d="M735 965.2h4v4h-4zM731 989.2h4v4h-4zM803 993.2h12v4h-12zM903 997.2h8v4h-8z"/><path fill="#002028" d="M739 965.2h4v4h-4zM739 989.2h4v4h-4z"/><path fill="#003c48" d="M747 965.2h4v4h-4zM723 969.2h4v4h-4zM611 981.2h4v4h-4z"/><path fill="#00505c" d="M751 965.2h4v4h-4zM691 977.2h4v4h-4zM947 993.2h4v4h-4z"/><path fill="#00707c" d="M755 965.2h4v4h-4zM807 989.2h4v4h-4z"/><path fill="#00909c" d="M759 965.2h4v4h-4zM835 989.2h4v4h-4zM879 989.2h4v4h-4zM923 989.2h4v4h-4z"/><path fill="#00b4c0" d="M763 965.2h4v4h-4zM859 965.2h4v4h-4zM915 969.2h4v4h-4z"/><path fill="#00dce8" d="M767 965.2h4v4h-4zM739 985.2h4v4h-4z"/><path fill="#00dcf4" d="M771 965.2h4v4h-4zM843 965.2h4v4h-4zM883 969.2h4v4h-4zM931 973.2h4v4h-4zM699 977.2h4v4h-4zM747 985.2h4v4h-4z"/><path fill="#00d4f8" d="M775 965.2h4v4h-4zM919 973.2h4v4h-4zM887 985.2h4v4h-4z"/><path fill="#00c8f8" d="M779 965.2h4v4h-4zM907 973.2h4v4h-4zM943 977.2h4v4h-4zM939 981.2h8v4h-8zM755 985.2h4v4h-4zM883 985.2h4v4h-4z"/><path fill="#00c0f8" d="M783 965.2h4v4h-4zM875 969.2h4v4h-4zM899 973.2h4v4h-4zM935 977.2h4v4h-4zM927 981.2h8v4h-8zM879 985.2h4v4h-4z"/><path fill="#00b4f8" d="M787 965.2h8v4h-8zM923 977.2h4v4h-4zM907 981.2h8v4h-8zM767 985.2h4v4h-4z"/><path fill="#00b0f8" d="M795 965.2h4v4h-4zM871 969.2h4v4h-4zM919 977.2h4v4h-4zM899 981.2h8v4h-8zM871 985.2h4v4h-4z"/><path fill="#00acf8" d="M799 965.2h4v4h-4zM827 965.2h4v4h-4zM915 977.2h4v4h-4zM895 981.2h4v4h-4zM771 985.2h4v4h-4z"/><path fill="#00acfc" d="M803 965.2h4v4h-4zM867 985.2h4v4h-4z"/><path fill="#00a8fc" d="M807 965.2h8v4h-8zM891 973.2h4v4h-4zM907 977.2h8v4h-8z"/><path fill="#00a4fc" d="M815 965.2h8v4h-8zM747 969.2h4v4h-4zM903 977.2h4v4h-4zM775 985.2h4v4h-4zM863 985.2h4v4h-4z"/><path fill="#00a0fc" d="M823 965.2h4v4h-4zM867 969.2h4v4h-4zM899 977.2h4v4h-4zM859 985.2h4v4h-4z"/><path fill="#00b8f8" d="M831 965.2h4v4h-4zM927 977.2h4v4h-4zM915 981.2h8v4h-8zM875 985.2h4v4h-4z"/><path fill="#00c4f8" d="M835 965.2h4v4h-4zM903 973.2h4v4h-4zM939 977.2h4v4h-4zM935 981.2h4v4h-4zM759 985.2h4v4h-4z"/><path fill="#00d0f8" d="M839 965.2h4v4h-4zM915 973.2h4v4h-4zM751 985.2h4v4h-4z"/><path fill="#00e8f4" d="M847 965.2h4v4h-4zM887 969.2h4v4h-4zM715 973.2h4v4h-4zM943 973.2h4v4h-4zM743 985.2h4v4h-4zM899 985.2h44v4h-44z"/><path fill="#00d8e4" d="M851 965.2h4v4h-4zM739 969.2h4v4h-4z"/><path fill="#00c4d0" d="M855 965.2h4v4h-4z"/><path fill="#00a8b4" d="M863 965.2h4v4h-4zM735 969.2h4v4h-4zM931 969.2h4v4h-4z"/><path fill="#00a0ac" d="M867 965.2h4v4h-4zM943 969.2h4v4h-4z"/><path fill="#0094a0" d="M871 965.2h4v4h-4zM675 981.2h4v4h-4zM839 989.2h4v4h-4zM859 989.2h20v4h-20zM927 989.2h8v4h-8z"/><path fill="#008c94" d="M875 965.2h4v4h-4z"/><path fill="#00808c" d="M879 965.2h4v4h-4zM891 989.2h4v4h-4z"/><path fill="#007884" d="M883 965.2h4v4h-4zM815 989.2h4v4h-4z"/><path fill="#007078" d="M887 965.2h4v4h-4z"/><path fill="#006470" d="M891 965.2h4v4h-4zM707 973.2h4v4h-4zM795 989.2h4v4h-4z"/><path fill="#005c68" d="M895 965.2h12v4h-12zM707 985.2h4v4h-4zM787 989.2h4v4h-4z"/><path fill="#005c64" d="M907 965.2h8v4h-8z"/><path fill="#005864" d="M915 965.2h16v4h-16z"/><path fill="#005860" d="M931 965.2h4v4h-4z"/><path fill="#005460" d="M935 965.2h16v4h-16zM727 969.2h4v4h-4zM783 989.2h4v4h-4z"/><path fill="#00545c" d="M951 965.2h8v4h-8zM663 981.2h4v4h-4zM951 993.2h8v4h-8z"/><path fill="#007c88" d="M731 969.2h4v4h-4zM715 985.2h4v4h-4zM823 989.2h4v4h-4z"/><path fill="#00ccf8" d="M743 969.2h4v4h-4zM879 969.2h4v4h-4zM911 973.2h4v4h-4zM947 977.2h12v4h-12zM683 981.2h4v4h-4zM947 981.2h12v4h-12z"/><path fill="#0078ff" d="M751 969.2h4v4h-4zM803 985.2h8v4h-8zM839 985.2h4v4h-4z"/><path fill="#0058fc" d="M755 969.2h4v4h-4zM851 969.2h4v4h-4zM691 981.2h4v4h-4zM875 981.2h4v4h-4z"/><path fill="#0038f8" d="M759 969.2h4v4h-4zM875 977.2h4v4h-4z"/><path fill="#0018f8" d="M763 969.2h4v4h-4zM839 969.2h4v4h-4zM735 973.2h4v4h-4zM859 973.2h4v4h-4z"/><path fill="#0000f0" d="M767 969.2h4v4h-4zM855 973.2h4v4h-4zM719 977.2h4v4h-4zM707 981.2h4v4h-4z"/><path fill="#0000e0" d="M771 969.2h4v4h-4zM719 981.2h4v4h-4z"/><path fill="#0000d8" d="M775 969.2h4v4h-4zM827 969.2h4v4h-4zM723 977.2h4v4h-4zM723 981.2h4v4h-4zM843 981.2h4v4h-4z"/><path fill="#0000cc" d="M779 969.2h4v4h-4zM743 973.2h4v4h-4zM731 981.2h4v4h-4zM839 981.2h4v4h-4z"/><path fill="#0000c4" d="M783 969.2h4v4h-4zM811 969.2h12v4h-12zM847 973.2h4v4h-4z"/><path fill="#0000bc" d="M787 969.2h12v4h-12zM851 977.2h4v4h-4zM743 981.2h4v4h-4zM767 981.2h4v4h-4z"/><path fill="#0000c0" d="M799 969.2h12v4h-12zM727 977.2h4v4h-4zM739 981.2h4v4h-4zM835 981.2h4v4h-4z"/><path fill="#0000c8" d="M823 969.2h4v4h-4zM735 981.2h4v4h-4z"/><path fill="#0000e8" d="M831 969.2h4v4h-4zM715 981.2h4v4h-4zM847 981.2h4v4h-4z"/><path fill="#0004f4" d="M835 969.2h4v4h-4zM863 977.2h4v4h-4z"/><path fill="#0030f8" d="M843 969.2h4v4h-4z"/><path fill="#0044fc" d="M847 969.2h4v4h-4z"/><path fill="#006cff" d="M855 969.2h4v4h-4z"/><path fill="#0084fc" d="M859 969.2h4v4h-4zM891 977.2h4v4h-4zM847 985.2h4v4h-4z"/><path fill="#0094fc" d="M863 969.2h4v4h-4zM887 973.2h4v4h-4zM855 985.2h4v4h-4z"/><path fill="#00d4e0" d="M891 969.2h4v4h-4z"/><path fill="#00c0cc" d="M895 969.2h8v4h-8z"/><path fill="#00bcc8" d="M903 969.2h4v4h-4zM731 985.2h4v4h-4z"/><path fill="#00b8c4" d="M907 969.2h8v4h-8z"/><path fill="#00b0bc" d="M919 969.2h4v4h-4z"/><path fill="#00b0b8" d="M923 969.2h4v4h-4z"/><path fill="#00acb8" d="M927 969.2h4v4h-4zM679 981.2h4v4h-4zM727 985.2h4v4h-4z"/><path fill="#00a4b0" d="M935 969.2h8v4h-8z"/><path fill="#009ca8" d="M947 969.2h12v4h-12zM695 977.2h4v4h-4zM723 985.2h4v4h-4zM947 989.2h12v4h-12z"/><path fill="#000c10" d="M695 973.2h4v4h-4zM683 977.2h4v4h-4zM715 989.2h4v4h-4zM771 993.2h4v4h-4zM855 997.2h8v4h-8zM923 1001.2h8v4h-8z"/><path fill="#003840" d="M703 973.2h4v4h-4zM599 981.2h4v4h-4zM759 989.2h4v4h-4zM899 993.2h8v4h-8z"/><path fill="#00a4ac" d="M711 973.2h4v4h-4z"/><path fill="#00bcf8" d="M719 973.2h4v4h-4zM895 973.2h4v4h-4zM931 977.2h4v4h-4zM923 981.2h4v4h-4zM763 985.2h4v4h-4z"/><path fill="#0090fc" d="M723 973.2h4v4h-4z"/><path fill="#0068fc" d="M727 973.2h4v4h-4zM707 977.2h4v4h-4zM879 981.2h4v4h-4z"/><path fill="#0040fc" d="M731 973.2h4v4h-4zM711 977.2h4v4h-4zM867 981.2h4v4h-4z"/><path fill="#0000ec" d="M739 973.2h4v4h-4zM859 977.2h4v4h-4zM711 981.2h4v4h-4z"/><path fill="#0000ac" d="M747 973.2h4v4h-4zM843 973.2h4v4h-4zM731 977.2h4v4h-4zM827 981.2h4v4h-4z"/><path fill="#000090" d="M751 973.2h4v4h-4zM843 977.2h4v4h-4zM787 981.2h4v4h-4z"/><path fill="#00008c" d="M755 973.2h84v4h-84zM739 977.2h104v4h-104z"/><path fill="#000098" d="M839 973.2h4v4h-4zM799 981.2h8v4h-8z"/><path fill="#0000dc" d="M851 973.2h4v4h-4z"/><path fill="#0028f8" d="M863 973.2h4v4h-4zM871 977.2h4v4h-4zM859 981.2h4v4h-4z"/><path fill="#003cf8" d="M867 973.2h4v4h-4zM695 981.2h4v4h-4z"/><path fill="#004cfc" d="M871 973.2h4v4h-4zM879 977.2h4v4h-4zM871 981.2h4v4h-4z"/><path fill="#0060fc" d="M875 973.2h4v4h-4z"/><path fill="#0070ff" d="M879 973.2h4v4h-4zM887 977.2h4v4h-4zM827 985.2h4v4h-4z"/><path fill="#0080ff" d="M883 973.2h4v4h-4zM787 985.2h8v4h-8z"/><path fill="#00d8f4" d="M923 973.2h8v4h-8z"/><path fill="#00e0f4" d="M935 973.2h4v4h-4zM891 985.2h4v4h-4z"/><path fill="#00e4f4" d="M939 973.2h4v4h-4z"/><path fill="#00e4f0" d="M947 973.2h12v4h-12zM895 985.2h4v4h-4zM943 985.2h16v4h-16z"/><path fill="#00282c" d="M687 977.2h4v4h-4zM839 993.2h4v4h-4zM939 997.2h4v4h-4z"/><path fill="#009cfc" d="M703 977.2h4v4h-4zM895 977.2h4v4h-4zM891 981.2h4v4h-4z"/><path fill="#001cf8" d="M715 977.2h4v4h-4z"/><path fill="#000094" d="M735 977.2h4v4h-4zM791 981.2h8v4h-8z"/><path fill="#0000a8" d="M847 977.2h4v4h-4z"/><path fill="#0000d4" d="M855 977.2h4v4h-4zM727 981.2h4v4h-4z"/><path fill="#0014f8" d="M867 977.2h4v4h-4zM855 981.2h4v4h-4z"/><path fill="#005cfc" d="M883 977.2h4v4h-4z"/><path fill="#003c44" d="M603 981.2h8v4h-8zM699 985.2h4v4h-4zM763 989.2h4v4h-4zM907 993.2h4v4h-4z"/><path fill="#004048" d="M615 981.2h12v4h-12zM767 989.2h4v4h-4zM911 993.2h8v4h-8z"/><path fill="#00404c" d="M627 981.2h4v4h-4z"/><path fill="#00444c" d="M631 981.2h12v4h-12zM771 989.2h4v4h-4zM919 993.2h4v4h-4z"/><path fill="#004450" d="M643 981.2h4v4h-4zM923 993.2h4v4h-4z"/><path fill="#004850" d="M647 981.2h8v4h-8zM927 993.2h4v4h-4z"/><path fill="#004854" d="M655 981.2h8v4h-8zM775 989.2h4v4h-4zM931 993.2h4v4h-4z"/><path fill="#006874" d="M667 981.2h4v4h-4zM799 989.2h4v4h-4z"/><path fill="#008088" d="M671 981.2h4v4h-4zM899 989.2h4v4h-4z"/><path fill="#0088fc" d="M687 981.2h4v4h-4zM887 981.2h4v4h-4z"/><path fill="#0020f8" d="M699 981.2h4v4h-4z"/><path fill="#0008f4" d="M703 981.2h4v4h-4z"/><path fill="#0000b8" d="M747 981.2h4v4h-4zM759 981.2h8v4h-8zM771 981.2h4v4h-4zM831 981.2h4v4h-4z"/><path fill="#0000b0" d="M751 981.2h4v4h-4zM775 981.2h4v4h-4z"/><path fill="#0000b4" d="M755 981.2h4v4h-4z"/><path fill="#0000a4" d="M779 981.2h4v4h-4zM819 981.2h8v4h-8z"/><path fill="#00009c" d="M783 981.2h4v4h-4zM807 981.2h8v4h-8z"/><path fill="#0000a0" d="M815 981.2h4v4h-4z"/><path fill="#0000f4" d="M851 981.2h4v4h-4z"/><path fill="#0034f8" d="M863 981.2h4v4h-4z"/><path fill="#0074ff" d="M883 981.2h4v4h-4zM811 985.2h16v4h-16zM831 985.2h8v4h-8z"/><path fill="#001818" d="M687 985.2h4v4h-4zM799 993.2h4v4h-4zM899 997.2h4v4h-4z"/><path fill="#002428" d="M691 985.2h4v4h-4zM831 993.2h4v4h-4zM927 997.2h8v4h-8z"/><path fill="#004c54" d="M703 985.2h4v4h-4zM935 993.2h4v4h-4z"/><path fill="#006c78" d="M711 985.2h4v4h-4zM803 989.2h4v4h-4z"/><path fill="#008c98" d="M719 985.2h4v4h-4zM831 989.2h4v4h-4zM883 989.2h4v4h-4zM915 989.2h4v4h-4z"/><path fill="#00ccd8" d="M735 985.2h4v4h-4z"/><path fill="#0098fc" d="M779 985.2h4v4h-4z"/><path fill="#008cfc" d="M783 985.2h4v4h-4zM851 985.2h4v4h-4z"/><path fill="#007cff" d="M795 985.2h8v4h-8zM843 985.2h4v4h-4z"/><path fill="#00080c" d="M711 989.2h4v4h-4zM759 993.2h4v4h-4zM839 997.2h4v4h-4zM907 1001.2h8v4h-8z"/><path fill="#001414" d="M723 989.2h4v4h-4zM787 993.2h4v4h-4zM879 997.2h4v4h-4zM943 1001.2h4v4h-4z"/><path fill="#001c20" d="M735 989.2h4v4h-4zM815 993.2h12v4h-12zM911 997.2h8v4h-8z"/><path fill="#003038" d="M751 989.2h4v4h-4zM863 993.2h4v4h-4z"/><path fill="#00343c" d="M755 989.2h4v4h-4zM871 993.2h28v4h-28z"/><path fill="#004c58" d="M779 989.2h4v4h-4zM939 993.2h4v4h-4z"/><path fill="#00606c" d="M791 989.2h4v4h-4z"/><path fill="#007480" d="M811 989.2h4v4h-4z"/><path fill="#007c84" d="M819 989.2h4v4h-4zM895 989.2h4v4h-4z"/><path fill="#008490" d="M827 989.2h4v4h-4zM907 989.2h4v4h-4z"/><path fill="#0098a4" d="M843 989.2h12v4h-12zM935 989.2h12v4h-12z"/><path fill="#0098a0" d="M855 989.2h4v4h-4z"/><path fill="#008894" d="M887 989.2h4v4h-4zM911 989.2h4v4h-4z"/><path fill="#00848c" d="M903 989.2h4v4h-4z"/><path fill="#009098" d="M919 989.2h4v4h-4z"/><path fill="#000408" d="M747 993.2h4v4h-4zM823 997.2h4v4h-4zM883 1001.2h8v4h-8zM931 1005.2h8v4h-8z"/><path fill="#002830" d="M843 993.2h4v4h-4zM943 997.2h4v4h-4z"/><path fill="#003438" d="M867 993.2h4v4h-4z"/><path fill="#005058" d="M943 993.2h4v4h-4z"/></g></g>
<rect x="555.0" y="909.2" width="396.0" height="108.0" fill="none" stroke="#000" stroke-width="2"/>
<line x1="591.0" y1="1017.2" x2="591.0" y2="1026.2" stroke="#000" stroke-width="2"/>
<text x="591.0" y="1050.2" font-size="18.5" font-family="'Liberation Serif', 'Times New Roman', serif" text-anchor="middle">0</text>
<line x1="663.0" y1="1017.2" x2="663.0" y2="1026.2" stroke="#000" stroke-width="2"/>
<text x="663.0" y="1050.2" font-size="18.5" font-family="'Liberation Serif', 'Times New Roman', serif" text-anchor="middle">2</text>
<line x1="735.0" y1="1017.2" x2="735.0" y2="1026.2" stroke="#000" stroke-width="2"/>
<text x="735.0" y="1050.2" font-size="18.5" font-family="'Liberation Serif', 'Times New Roman', serif" text-anchor="middle">4</text>
<line x1="807.0" y1="1017.2" x2="807.0" y2="1026.2" stroke="#000" stroke-width="2"/>
<text x="807.0" y="1050.2" font-size="18.5" font-family="'Liberation Serif', 'Times New Roman', serif" text-anchor="middle">6</text>
<line x1="879.0" y1="1017.2" x2="879.0" y2="1026.2" stroke="#000" stroke-width="2"/>
<text x="879.0" y="1050.2" font-size="18.5" font-family="'Liberation Serif', 'Times New Roman', serif" text-anchor="middle">8</text>
<line x1="951.0" y1="1017.2" x2="951.0" y2="1026.2" stroke="#000" stroke-width="2"/>
<text x="951.0" y="1050.2" font-size="18.5" font-family="'Liberation Serif', 'Times New Roman', serif" text-anchor="middle">10</text>
<line x1="545.0" y1="927.2" x2="555.0" y2="927.2" stroke="#000" stroke-width="2"/>
<text x="535.0" y="934.2" font-size="18.5" font-family="'Liberation Serif', 'Times New Roman', serif" text-anchor="end">1</text>
<line x1="545.0" y1="963.2" x2="555.0" y2="963.2" stroke="#000" stroke-width="2"/>
<text x="535.0" y="970.2" font-size="18.5" font-family="'Liberation Serif', 'Times New Roman', serif" text-anchor="end">0</text>
<line x1="545.0" y1="999.2" x2="555.0" y2="999.2" stroke="#000" stroke-width="2"/>
<text x="534.0" y="1006.2" font-size="18.5" font-family="'Liberation Serif', 'Times New Roman', serif" text-anchor="end" textLength="23.5" lengthAdjust="spacingAndGlyphs">−1</text>
<text x="753.0" y="1082.2" font-size="21.5" font-family="'Liberation Serif', 'Times New Roman', serif" text-anchor="middle"><tspan font-style="italic">x</tspan><tspan dx="1">/</tspan><tspan font-style="italic" dx="1">D</tspan></text>
<text transform="translate(493.0,963.2) rotate(-90)" font-size="21.5" font-family="'Liberation Serif', 'Times New Roman', serif" text-anchor="middle"><tspan font-style="italic">y</tspan><tspan dx="1">/</tspan><tspan font-style="italic" dx="1">D</tspan></text>
<polygon points="591.0,944.5 598.9,959.6 591.0,962.5" fill="#fff" stroke="#000" stroke-width="2" stroke-linejoin="miter"/>
<polygon points="591.0,981.9 598.9,966.8 591.0,963.9" fill="#fff" stroke="#000" stroke-width="2" stroke-linejoin="miter"/>
<polygon points="671.7,893.1 680.9,889.0 824.2,889.0 832.5,893.1 824.2,897.2 680.9,897.2" fill="url(#g16)" stroke="#000" stroke-width="2" stroke-linejoin="miter"/>
<line x1="680.9" y1="880.3" x2="680.9" y2="889" stroke="#000" stroke-width="2"/>
<line x1="752.5" y1="880.3" x2="752.5" y2="889" stroke="#000" stroke-width="2"/>
<line x1="824.2" y1="880.3" x2="824.2" y2="889" stroke="#000" stroke-width="2"/>
<text x="680.9" y="865.4" font-size="20.5" font-family="'Liberation Sans', Arial, sans-serif" text-anchor="middle">-0.02</text>
<text x="752.5" y="865.4" font-size="20.5" font-family="'Liberation Sans', Arial, sans-serif" text-anchor="middle">0.00</text>
<text x="824.2" y="865.4" font-size="20.5" font-family="'Liberation Sans', Arial, sans-serif" text-anchor="middle">0.02</text>
<text x="593.5" y="893.6" font-size="21" font-family="'Liberation Serif', 'Times New Roman', serif"><tspan font-style="italic">τ</tspan><tspan font-style="italic" font-size="15" dy="4">xy</tspan><tspan dy="-4">/</tspan><tspan font-style="italic">U</tspan></text>
<text x="638.5" y="887.5" font-size="14" font-family="'Liberation Serif', 'Times New Roman', serif">2</text>
<text x="637.5" y="900.0" font-size="15" font-family="'Liberation Serif', 'Times New Roman', serif">∞</text>
<g clip-path="url(#c17)"><g filter="url(#f18)" shape-rendering="crispEdges"><path fill="#f4f8fc" d="M762.3 1183.7h40v4h-40zM762.3 1187.7h40v4h-40zM762.3 1191.7h40v4h-40zM762.3 1195.7h40v4h-40zM762.3 1199.7h40v4h-40zM762.3 1203.7h40v4h-40zM762.3 1207.7h40v4h-40zM762.3 1211.7h36v4h-36zM762.3 1215.7h36v4h-36zM762.3 1219.7h36v4h-36zM762.3 1223.7h36v4h-36zM762.3 1227.7h40v4h-40zM762.3 1231.7h40v4h-40zM762.3 1235.7h40v4h-40zM762.3 1239.7h36v4h-36zM762.3 1243.7h36v4h-36zM762.3 1247.7h36v4h-36zM762.3 1251.7h40v4h-40zM762.3 1255.7h40v4h-40zM762.3 1259.7h40v4h-40zM762.3 1263.7h36v4h-36zM762.3 1267.7h36v4h-36zM762.3 1271.7h36v4h-36zM762.3 1275.7h36v4h-36zM762.3 1279.7h40v4h-40zM762.3 1283.7h40v4h-40zM762.3 1287.7h40v4h-40zM762.3 1291.7h40v4h-40zM762.3 1295.7h40v4h-40zM762.3 1299.7h40v4h-40zM762.3 1303.7h40v4h-40z"/><path fill="#f0f8fc" d="M802.3 1183.7h4v4h-4zM802.3 1187.7h4v4h-4zM802.3 1191.7h4v4h-4zM802.3 1195.7h4v4h-4zM798.3 1211.7h4v4h-4zM798.3 1223.7h4v4h-4zM798.3 1239.7h4v4h-4zM798.3 1243.7h4v4h-4zM846.3 1243.7h4v4h-4zM890.3 1243.7h4v4h-4zM798.3 1247.7h4v4h-4zM798.3 1263.7h4v4h-4zM798.3 1275.7h4v4h-4zM802.3 1291.7h4v4h-4zM802.3 1295.7h4v4h-4zM802.3 1299.7h4v4h-4zM802.3 1303.7h4v4h-4z"/><path fill="#f0f4fc" d="M806.3 1183.7h4v4h-4zM806.3 1187.7h4v4h-4zM802.3 1199.7h4v4h-4zM802.3 1203.7h4v4h-4zM798.3 1215.7h4v4h-4zM798.3 1219.7h4v4h-4zM802.3 1227.7h4v4h-4zM802.3 1259.7h4v4h-4zM798.3 1267.7h4v4h-4zM798.3 1271.7h4v4h-4zM802.3 1283.7h4v4h-4zM802.3 1287.7h4v4h-4zM806.3 1299.7h4v4h-4zM806.3 1303.7h4v4h-4z"/><path fill="#ecf4f8" d="M810.3 1183.7h364v4h-364zM810.3 1187.7h8v4h-8zM810.3 1191.7h4v4h-4zM810.3 1195.7h4v4h-4zM806.3 1199.7h4v4h-4zM806.3 1203.7h4v4h-4zM802.3 1223.7h4v4h-4zM850.3 1243.7h4v4h-4zM886.3 1243.7h4v4h-4zM802.3 1263.7h4v4h-4zM806.3 1283.7h4v4h-4zM806.3 1287.7h4v4h-4zM810.3 1291.7h4v4h-4zM810.3 1295.7h4v4h-4zM810.3 1299.7h8v4h-8zM810.3 1303.7h364v4h-364z"/><path fill="#e8f0f8" d="M818.3 1187.7h356v4h-356zM814.3 1191.7h360v4h-360zM814.3 1195.7h284v4h-284zM810.3 1199.7h8v4h-8zM810.3 1203.7h4v4h-4zM806.3 1207.7h4v4h-4zM802.3 1211.7h4v4h-4zM854.3 1243.7h4v4h-4zM802.3 1275.7h4v4h-4zM806.3 1279.7h4v4h-4zM810.3 1283.7h4v4h-4zM810.3 1287.7h8v4h-8zM814.3 1291.7h284v4h-284zM814.3 1295.7h360v4h-360zM818.3 1299.7h356v4h-356z"/><path fill="#ecf4fc" d="M806.3 1191.7h4v4h-4zM806.3 1195.7h4v4h-4zM802.3 1207.7h4v4h-4zM802.3 1231.7h4v4h-4zM802.3 1235.7h4v4h-4zM802.3 1239.7h4v4h-4zM802.3 1243.7h4v4h-4zM802.3 1247.7h4v4h-4zM802.3 1251.7h4v4h-4zM802.3 1255.7h4v4h-4zM802.3 1279.7h4v4h-4zM806.3 1291.7h4v4h-4zM806.3 1295.7h4v4h-4z"/><path fill="#e4f0f8" d="M1098.3 1195.7h76v4h-76zM818.3 1199.7h228v4h-228zM814.3 1203.7h4v4h-4zM882.3 1243.7h4v4h-4zM814.3 1283.7h4v4h-4zM818.3 1287.7h228v4h-228zM1098.3 1291.7h76v4h-76z"/><path fill="#e4ecf8" d="M1046.3 1199.7h32v4h-32zM818.3 1203.7h52v4h-52zM818.3 1283.7h52v4h-52zM1046.3 1287.7h32v4h-32z"/><path fill="#e0ecf8" d="M1078.3 1199.7h76v4h-76zM870.3 1203.7h136v4h-136zM810.3 1207.7h4v4h-4zM802.3 1215.7h4v4h-4zM802.3 1219.7h4v4h-4zM858.3 1243.7h4v4h-4zM878.3 1243.7h4v4h-4zM802.3 1267.7h4v4h-4zM802.3 1271.7h4v4h-4zM810.3 1279.7h4v4h-4zM870.3 1283.7h136v4h-136zM1078.3 1287.7h76v4h-76z"/><path fill="#e0ecf4" d="M1154.3 1199.7h12v4h-12zM1006.3 1203.7h4v4h-4zM1006.3 1283.7h4v4h-4zM1154.3 1287.7h12v4h-12z"/><path fill="#dcecf4" d="M1166.3 1199.7h8v4h-8zM1010.3 1203.7h12v4h-12zM814.3 1207.7h4v4h-4zM806.3 1211.7h4v4h-4zM806.3 1275.7h4v4h-4zM814.3 1279.7h4v4h-4zM1010.3 1283.7h12v4h-12zM1166.3 1287.7h8v4h-8z"/><path fill="#dce8f4" d="M1022.3 1203.7h20v4h-20zM818.3 1207.7h12v4h-12zM862.3 1243.7h4v4h-4zM818.3 1279.7h12v4h-12zM1022.3 1283.7h20v4h-20z"/><path fill="#d8e8f4" d="M1042.3 1203.7h28v4h-28zM830.3 1207.7h152v4h-152zM874.3 1243.7h4v4h-4zM830.3 1279.7h152v4h-152zM1042.3 1283.7h28v4h-28z"/><path fill="#d4e8f4" d="M1070.3 1203.7h4v4h-4zM982.3 1207.7h4v4h-4zM982.3 1279.7h4v4h-4zM1070.3 1283.7h4v4h-4z"/><path fill="#d4e4f4" d="M1074.3 1203.7h24v4h-24zM986.3 1207.7h12v4h-12zM866.3 1243.7h8v4h-8zM986.3 1279.7h12v4h-12zM1074.3 1283.7h24v4h-24z"/><path fill="#d0e4f4" d="M1098.3 1203.7h12v4h-12zM998.3 1207.7h4v4h-4zM810.3 1211.7h4v4h-4zM810.3 1275.7h4v4h-4zM998.3 1279.7h4v4h-4zM1098.3 1283.7h12v4h-12z"/><path fill="#d0e4f0" d="M1110.3 1203.7h20v4h-20zM1002.3 1207.7h8v4h-8zM806.3 1215.7h4v4h-4zM806.3 1219.7h4v4h-4zM806.3 1267.7h4v4h-4zM806.3 1271.7h4v4h-4zM1002.3 1279.7h8v4h-8zM1110.3 1283.7h20v4h-20z"/><path fill="#cce0f0" d="M1130.3 1203.7h28v4h-28zM1010.3 1207.7h8v4h-8zM1010.3 1279.7h8v4h-8zM1130.3 1283.7h28v4h-28z"/><path fill="#c8e0f0" d="M1158.3 1203.7h16v4h-16zM1018.3 1207.7h8v4h-8zM814.3 1211.7h4v4h-4zM930.3 1211.7h8v4h-8zM814.3 1275.7h4v4h-4zM930.3 1275.7h8v4h-8zM1018.3 1279.7h8v4h-8zM1158.3 1283.7h16v4h-16z"/><path fill="#c8dcf0" d="M1026.3 1207.7h4v4h-4zM926.3 1211.7h4v4h-4zM938.3 1211.7h12v4h-12zM926.3 1275.7h4v4h-4zM938.3 1275.7h12v4h-12zM1026.3 1279.7h4v4h-4z"/><path fill="#c4dcf0" d="M1030.3 1207.7h8v4h-8zM818.3 1211.7h16v4h-16zM906.3 1211.7h20v4h-20zM950.3 1211.7h40v4h-40zM818.3 1275.7h16v4h-16zM906.3 1275.7h20v4h-20zM950.3 1275.7h40v4h-40zM1030.3 1279.7h8v4h-8z"/><path fill="#c0dcec" d="M1038.3 1207.7h8v4h-8zM838.3 1211.7h24v4h-24zM890.3 1211.7h16v4h-16zM990.3 1211.7h4v4h-4zM978.3 1219.7h8v4h-8zM978.3 1267.7h8v4h-8zM838.3 1275.7h24v4h-24zM890.3 1275.7h16v4h-16zM990.3 1275.7h4v4h-4zM1038.3 1279.7h8v4h-8z"/><path fill="#c0d8ec" d="M1046.3 1207.7h8v4h-8zM862.3 1211.7h28v4h-28zM934.3 1219.7h44v4h-44zM986.3 1219.7h4v4h-4zM934.3 1267.7h44v4h-44zM986.3 1267.7h4v4h-4zM862.3 1275.7h28v4h-28zM1046.3 1279.7h8v4h-8z"/><path fill="#bcd8ec" d="M1054.3 1207.7h12v4h-12zM994.3 1211.7h8v4h-8zM810.3 1215.7h4v4h-4zM810.3 1219.7h4v4h-4zM922.3 1219.7h12v4h-12zM990.3 1219.7h4v4h-4zM810.3 1267.7h4v4h-4zM922.3 1267.7h12v4h-12zM990.3 1267.7h4v4h-4zM810.3 1271.7h4v4h-4zM994.3 1275.7h8v4h-8zM1054.3 1279.7h12v4h-12z"/><path fill="#b8d8ec" d="M1066.3 1207.7h8v4h-8zM1002.3 1211.7h4v4h-4zM930.3 1215.7h56v4h-56zM914.3 1219.7h8v4h-8zM994.3 1219.7h4v4h-4zM914.3 1267.7h8v4h-8zM994.3 1267.7h4v4h-4zM930.3 1271.7h56v4h-56zM1002.3 1275.7h4v4h-4zM1066.3 1279.7h8v4h-8z"/><path fill="#b8d4ec" d="M1074.3 1207.7h4v4h-4zM922.3 1215.7h8v4h-8zM986.3 1215.7h4v4h-4zM910.3 1219.7h4v4h-4zM998.3 1219.7h4v4h-4zM910.3 1267.7h4v4h-4zM998.3 1267.7h4v4h-4zM922.3 1271.7h8v4h-8zM986.3 1271.7h4v4h-4zM1074.3 1279.7h4v4h-4z"/><path fill="#b4d4ec" d="M1078.3 1207.7h8v4h-8zM1006.3 1211.7h4v4h-4zM914.3 1215.7h8v4h-8zM990.3 1215.7h4v4h-4zM902.3 1219.7h8v4h-8zM1002.3 1219.7h4v4h-4zM902.3 1267.7h8v4h-8zM1002.3 1267.7h4v4h-4zM914.3 1271.7h8v4h-8zM990.3 1271.7h4v4h-4zM1006.3 1275.7h4v4h-4zM1078.3 1279.7h8v4h-8z"/><path fill="#b4d4e8" d="M1086.3 1207.7h4v4h-4zM1010.3 1211.7h4v4h-4zM910.3 1215.7h4v4h-4zM898.3 1219.7h4v4h-4zM1006.3 1219.7h4v4h-4zM898.3 1267.7h4v4h-4zM1006.3 1267.7h4v4h-4zM910.3 1271.7h4v4h-4zM1010.3 1275.7h4v4h-4zM1086.3 1279.7h4v4h-4z"/><path fill="#b0d4e8" d="M1090.3 1207.7h8v4h-8zM1014.3 1211.7h4v4h-4zM906.3 1215.7h4v4h-4zM994.3 1215.7h4v4h-4zM894.3 1219.7h4v4h-4zM1010.3 1219.7h4v4h-4zM894.3 1267.7h4v4h-4zM1010.3 1267.7h4v4h-4zM906.3 1271.7h4v4h-4zM994.3 1271.7h4v4h-4zM1014.3 1275.7h4v4h-4zM1090.3 1279.7h8v4h-8z"/><path fill="#b0d0e8" d="M1098.3 1207.7h12v4h-12zM902.3 1215.7h4v4h-4zM998.3 1215.7h4v4h-4zM886.3 1219.7h8v4h-8zM1014.3 1219.7h4v4h-4zM886.3 1267.7h8v4h-8zM1014.3 1267.7h4v4h-4zM902.3 1271.7h4v4h-4zM998.3 1271.7h4v4h-4zM1098.3 1279.7h12v4h-12z"/><path fill="#acd0e8" d="M1110.3 1207.7h16v4h-16zM1018.3 1211.7h8v4h-8zM814.3 1215.7h4v4h-4zM890.3 1215.7h12v4h-12zM1002.3 1215.7h4v4h-4zM814.3 1219.7h4v4h-4zM866.3 1219.7h20v4h-20zM1018.3 1219.7h8v4h-8zM814.3 1267.7h4v4h-4zM866.3 1267.7h20v4h-20zM1018.3 1267.7h8v4h-8zM814.3 1271.7h4v4h-4zM890.3 1271.7h12v4h-12zM1002.3 1271.7h4v4h-4zM1018.3 1275.7h8v4h-8zM1110.3 1279.7h16v4h-16z"/><path fill="#a8d0e8" d="M1126.3 1207.7h8v4h-8zM886.3 1215.7h4v4h-4zM846.3 1219.7h20v4h-20zM846.3 1267.7h20v4h-20zM886.3 1271.7h4v4h-4zM1126.3 1279.7h8v4h-8z"/><path fill="#a8cce8" d="M1134.3 1207.7h12v4h-12zM1026.3 1211.7h4v4h-4zM818.3 1215.7h68v4h-68zM1006.3 1215.7h4v4h-4zM818.3 1219.7h28v4h-28zM1026.3 1219.7h4v4h-4zM818.3 1267.7h28v4h-28zM1026.3 1267.7h4v4h-4zM818.3 1271.7h68v4h-68zM1006.3 1271.7h4v4h-4zM1026.3 1275.7h4v4h-4zM1134.3 1279.7h12v4h-12z"/><path fill="#a4cce8" d="M1146.3 1207.7h4v4h-4zM1030.3 1211.7h4v4h-4zM1010.3 1215.7h4v4h-4zM1030.3 1219.7h4v4h-4zM1030.3 1267.7h4v4h-4zM1010.3 1271.7h4v4h-4zM1030.3 1275.7h4v4h-4zM1146.3 1279.7h4v4h-4z"/><path fill="#a4cce4" d="M1150.3 1207.7h12v4h-12zM1034.3 1211.7h4v4h-4zM1014.3 1215.7h4v4h-4zM1034.3 1219.7h4v4h-4zM1034.3 1267.7h4v4h-4zM1014.3 1271.7h4v4h-4zM1034.3 1275.7h4v4h-4zM1150.3 1279.7h12v4h-12z"/><path fill="#a0cce4" d="M1162.3 1207.7h4v4h-4zM1162.3 1279.7h4v4h-4z"/><path fill="#a0c8e4" d="M1166.3 1207.7h8v4h-8zM1038.3 1211.7h8v4h-8zM1018.3 1215.7h4v4h-4zM1038.3 1219.7h16v4h-16zM1038.3 1267.7h16v4h-16zM1018.3 1271.7h4v4h-4zM1038.3 1275.7h8v4h-8zM1166.3 1279.7h8v4h-8z"/><path fill="#c0dcf0" d="M834.3 1211.7h4v4h-4zM834.3 1275.7h4v4h-4z"/><path fill="#9cc8e4" d="M1046.3 1211.7h4v4h-4zM1022.3 1215.7h4v4h-4zM1054.3 1219.7h12v4h-12zM1054.3 1267.7h12v4h-12zM1022.3 1271.7h4v4h-4zM1046.3 1275.7h4v4h-4z"/><path fill="#9cc4e4" d="M1050.3 1211.7h4v4h-4zM1066.3 1219.7h4v4h-4zM1066.3 1267.7h4v4h-4zM1050.3 1275.7h4v4h-4z"/><path fill="#98c4e0" d="M1054.3 1211.7h8v4h-8zM1026.3 1215.7h4v4h-4zM1074.3 1219.7h16v4h-16zM1074.3 1267.7h16v4h-16zM1026.3 1271.7h4v4h-4zM1054.3 1275.7h8v4h-8z"/><path fill="#94c0e0" d="M1062.3 1211.7h8v4h-8zM1030.3 1215.7h4v4h-4zM1090.3 1219.7h84v4h-84zM1090.3 1267.7h84v4h-84zM1030.3 1271.7h4v4h-4zM1062.3 1275.7h8v4h-8z"/><path fill="#90c0e0" d="M1070.3 1211.7h4v4h-4zM1034.3 1215.7h4v4h-4zM1034.3 1271.7h4v4h-4zM1070.3 1275.7h4v4h-4z"/><path fill="#90bce0" d="M1074.3 1211.7h4v4h-4zM1074.3 1275.7h4v4h-4z"/><path fill="#90bcdc" d="M1078.3 1211.7h4v4h-4zM1038.3 1215.7h4v4h-4zM1038.3 1271.7h4v4h-4zM1078.3 1275.7h4v4h-4z"/><path fill="#8cbcdc" d="M1082.3 1211.7h4v4h-4zM1042.3 1215.7h4v4h-4zM1042.3 1271.7h4v4h-4zM1082.3 1275.7h4v4h-4z"/><path fill="#8cb8dc" d="M1086.3 1211.7h4v4h-4zM1046.3 1215.7h4v4h-4zM1046.3 1271.7h4v4h-4zM1086.3 1275.7h4v4h-4z"/><path fill="#88b8dc" d="M1090.3 1211.7h12v4h-12zM1050.3 1215.7h12v4h-12zM1050.3 1271.7h12v4h-12zM1090.3 1275.7h12v4h-12z"/><path fill="#84b4d8" d="M1102.3 1211.7h16v4h-16zM1062.3 1215.7h8v4h-8zM1062.3 1271.7h8v4h-8zM1102.3 1275.7h16v4h-16z"/><path fill="#80b4d8" d="M1118.3 1211.7h4v4h-4zM1070.3 1215.7h4v4h-4zM1070.3 1271.7h4v4h-4zM1118.3 1275.7h4v4h-4z"/><path fill="#80b0d8" d="M1122.3 1211.7h12v4h-12zM1074.3 1215.7h8v4h-8zM1074.3 1271.7h8v4h-8zM1122.3 1275.7h12v4h-12z"/><path fill="#7cb0d8" d="M1134.3 1211.7h8v4h-8zM1134.3 1275.7h8v4h-8z"/><path fill="#7cb0d4" d="M1142.3 1211.7h4v4h-4zM1082.3 1215.7h4v4h-4zM1082.3 1271.7h4v4h-4zM1142.3 1275.7h4v4h-4z"/><path fill="#7cacd4" d="M1146.3 1211.7h8v4h-8zM1086.3 1215.7h4v4h-4zM1086.3 1271.7h4v4h-4zM1146.3 1275.7h8v4h-8z"/><path fill="#78acd4" d="M1154.3 1211.7h20v4h-20zM1090.3 1215.7h24v4h-24zM1090.3 1271.7h24v4h-24zM1154.3 1275.7h20v4h-20z"/><path fill="#74a8d4" d="M1114.3 1215.7h24v4h-24zM1114.3 1271.7h24v4h-24z"/><path fill="#74a8d0" d="M1138.3 1215.7h8v4h-8zM1138.3 1271.7h8v4h-8z"/><path fill="#70a8d0" d="M1146.3 1215.7h12v4h-12zM1146.3 1271.7h12v4h-12z"/><path fill="#70a4d0" d="M1158.3 1215.7h16v4h-16zM1158.3 1271.7h16v4h-16z"/><path fill="#98c4e4" d="M1070.3 1219.7h4v4h-4zM1070.3 1267.7h4v4h-4z"/><path fill="#fcfcff" d="M806.3 1223.7h8v4h-8zM818.3 1223.7h12v4h-12zM838.3 1243.7h4v4h-4zM898.3 1243.7h4v4h-4zM806.3 1263.7h8v4h-8zM818.3 1263.7h12v4h-12z"/><path fill="#fcfcfc" d="M814.3 1223.7h4v4h-4zM814.3 1263.7h4v4h-4z"/><path fill="#fcffff" d="M830.3 1223.7h4v4h-4zM830.3 1263.7h4v4h-4z"/><path fill="#ffffff" d="M834.3 1223.7h16v4h-16zM834.3 1263.7h16v4h-16z"/><path fill="#fffffc" d="M850.3 1223.7h4v4h-4zM850.3 1263.7h4v4h-4z"/><path fill="#fffcfc" d="M854.3 1223.7h28v4h-28zM834.3 1243.7h4v4h-4zM902.3 1243.7h4v4h-4zM854.3 1263.7h28v4h-28z"/><path fill="#fffcf8" d="M882.3 1223.7h24v4h-24zM882.3 1263.7h24v4h-24z"/><path fill="#fff8f8" d="M906.3 1223.7h4v4h-4zM906.3 1263.7h4v4h-4z"/><path fill="#fff8f4" d="M910.3 1223.7h20v4h-20zM806.3 1239.7h4v4h-4zM806.3 1243.7h4v4h-4zM906.3 1243.7h4v4h-4zM806.3 1247.7h4v4h-4zM910.3 1263.7h20v4h-20z"/><path fill="#fff8f0" d="M930.3 1223.7h8v4h-8zM806.3 1235.7h4v4h-4zM830.3 1243.7h4v4h-4zM910.3 1243.7h4v4h-4zM806.3 1251.7h4v4h-4zM930.3 1263.7h8v4h-8z"/><path fill="#fff4f0" d="M938.3 1223.7h4v4h-4zM938.3 1263.7h4v4h-4z"/><path fill="#fff4ec" d="M942.3 1223.7h12v4h-12zM806.3 1227.7h4v4h-4zM810.3 1239.7h4v4h-4zM854.3 1239.7h24v4h-24zM810.3 1243.7h4v4h-4zM810.3 1247.7h4v4h-4zM854.3 1247.7h24v4h-24zM806.3 1259.7h4v4h-4zM942.3 1263.7h12v4h-12z"/><path fill="#fff4e8" d="M954.3 1223.7h8v4h-8zM806.3 1231.7h4v4h-4zM846.3 1239.7h8v4h-8zM878.3 1239.7h4v4h-4zM814.3 1243.7h4v4h-4zM826.3 1243.7h4v4h-4zM914.3 1243.7h4v4h-4zM846.3 1247.7h8v4h-8zM878.3 1247.7h4v4h-4zM806.3 1255.7h4v4h-4zM954.3 1263.7h8v4h-8z"/><path fill="#fff0e8" d="M962.3 1223.7h4v4h-4zM814.3 1239.7h4v4h-4zM838.3 1239.7h8v4h-8zM882.3 1239.7h4v4h-4zM814.3 1247.7h4v4h-4zM838.3 1247.7h8v4h-8zM882.3 1247.7h4v4h-4zM962.3 1263.7h4v4h-4z"/><path fill="#fff0e4" d="M966.3 1223.7h8v4h-8zM810.3 1227.7h16v4h-16zM810.3 1235.7h8v4h-8zM818.3 1239.7h4v4h-4zM826.3 1239.7h12v4h-12zM886.3 1239.7h12v4h-12zM818.3 1243.7h4v4h-4zM918.3 1243.7h4v4h-4zM818.3 1247.7h4v4h-4zM826.3 1247.7h12v4h-12zM886.3 1247.7h12v4h-12zM810.3 1251.7h8v4h-8zM810.3 1259.7h16v4h-16zM966.3 1263.7h8v4h-8z"/><path fill="#fff0e0" d="M974.3 1223.7h4v4h-4zM1038.3 1223.7h16v4h-16zM826.3 1227.7h4v4h-4zM822.3 1243.7h4v4h-4zM826.3 1259.7h4v4h-4zM974.3 1263.7h4v4h-4zM1038.3 1263.7h16v4h-16z"/><path fill="#ffece0" d="M978.3 1223.7h8v4h-8zM998.3 1223.7h40v4h-40zM1054.3 1223.7h100v4h-100zM830.3 1227.7h20v4h-20zM810.3 1231.7h4v4h-4zM818.3 1235.7h12v4h-12zM822.3 1239.7h4v4h-4zM898.3 1239.7h4v4h-4zM922.3 1243.7h8v4h-8zM822.3 1247.7h4v4h-4zM898.3 1247.7h4v4h-4zM818.3 1251.7h12v4h-12zM810.3 1255.7h4v4h-4zM830.3 1259.7h20v4h-20zM978.3 1263.7h8v4h-8zM998.3 1263.7h40v4h-40zM1054.3 1263.7h100v4h-100z"/><path fill="#ffecdc" d="M986.3 1223.7h12v4h-12zM1154.3 1223.7h20v4h-20zM850.3 1227.7h20v4h-20zM814.3 1231.7h8v4h-8zM830.3 1235.7h44v4h-44zM902.3 1239.7h8v4h-8zM930.3 1243.7h8v4h-8zM902.3 1247.7h8v4h-8zM830.3 1251.7h44v4h-44zM814.3 1255.7h8v4h-8zM850.3 1259.7h20v4h-20zM986.3 1263.7h12v4h-12zM1154.3 1263.7h20v4h-20z"/><path fill="#ffe8d8" d="M870.3 1227.7h20v4h-20zM826.3 1231.7h24v4h-24zM874.3 1235.7h16v4h-16zM910.3 1239.7h8v4h-8zM938.3 1243.7h8v4h-8zM958.3 1243.7h16v4h-16zM910.3 1247.7h8v4h-8zM874.3 1251.7h16v4h-16zM826.3 1255.7h24v4h-24zM870.3 1259.7h20v4h-20z"/><path fill="#ffe8d4" d="M890.3 1227.7h8v4h-8zM850.3 1231.7h16v4h-16zM890.3 1235.7h8v4h-8zM918.3 1239.7h4v4h-4zM946.3 1243.7h12v4h-12zM918.3 1247.7h4v4h-4zM890.3 1251.7h8v4h-8zM850.3 1255.7h16v4h-16zM890.3 1259.7h8v4h-8z"/><path fill="#fce4d0" d="M898.3 1227.7h4v4h-4zM870.3 1231.7h12v4h-12zM902.3 1235.7h4v4h-4zM922.3 1239.7h8v4h-8zM922.3 1247.7h8v4h-8zM902.3 1251.7h4v4h-4zM870.3 1255.7h12v4h-12zM898.3 1259.7h4v4h-4z"/><path fill="#fce4cc" d="M902.3 1227.7h4v4h-4zM882.3 1231.7h8v4h-8zM906.3 1235.7h4v4h-4zM930.3 1239.7h4v4h-4zM930.3 1247.7h4v4h-4zM906.3 1251.7h4v4h-4zM882.3 1255.7h8v4h-8zM902.3 1259.7h4v4h-4z"/><path fill="#fce0c8" d="M906.3 1227.7h4v4h-4zM894.3 1231.7h4v4h-4zM910.3 1235.7h8v4h-8zM938.3 1239.7h8v4h-8zM938.3 1247.7h8v4h-8zM910.3 1251.7h8v4h-8zM894.3 1255.7h4v4h-4zM906.3 1259.7h4v4h-4z"/><path fill="#fce0c4" d="M910.3 1227.7h4v4h-4zM898.3 1231.7h4v4h-4zM946.3 1239.7h4v4h-4zM946.3 1247.7h4v4h-4zM898.3 1255.7h4v4h-4zM910.3 1259.7h4v4h-4z"/><path fill="#fcdcc0" d="M914.3 1227.7h4v4h-4zM902.3 1231.7h4v4h-4zM922.3 1235.7h8v4h-8zM950.3 1239.7h4v4h-4zM974.3 1243.7h4v4h-4zM950.3 1247.7h4v4h-4zM922.3 1251.7h8v4h-8zM902.3 1255.7h4v4h-4zM914.3 1259.7h4v4h-4z"/><path fill="#fcd8bc" d="M918.3 1227.7h4v4h-4zM906.3 1231.7h4v4h-4zM930.3 1235.7h4v4h-4zM954.3 1239.7h4v4h-4zM954.3 1247.7h4v4h-4zM930.3 1251.7h4v4h-4zM906.3 1255.7h4v4h-4zM918.3 1259.7h4v4h-4z"/><path fill="#fcd8b8" d="M922.3 1227.7h4v4h-4zM910.3 1231.7h4v4h-4zM934.3 1235.7h4v4h-4zM958.3 1239.7h4v4h-4zM958.3 1247.7h4v4h-4zM934.3 1251.7h4v4h-4zM910.3 1255.7h4v4h-4zM922.3 1259.7h4v4h-4z"/><path fill="#fcd4b8" d="M926.3 1227.7h4v4h-4zM926.3 1259.7h4v4h-4z"/><path fill="#fcd4b4" d="M930.3 1227.7h4v4h-4zM914.3 1231.7h4v4h-4zM938.3 1235.7h4v4h-4zM962.3 1239.7h4v4h-4zM962.3 1247.7h4v4h-4zM938.3 1251.7h4v4h-4zM914.3 1255.7h4v4h-4zM930.3 1259.7h4v4h-4z"/><path fill="#fcd0ac" d="M934.3 1227.7h4v4h-4zM922.3 1231.7h4v4h-4zM946.3 1235.7h4v4h-4zM970.3 1239.7h4v4h-4zM970.3 1247.7h4v4h-4zM946.3 1251.7h4v4h-4zM922.3 1255.7h4v4h-4zM934.3 1259.7h4v4h-4z"/><path fill="#fccca4" d="M938.3 1227.7h4v4h-4zM930.3 1231.7h4v4h-4zM978.3 1243.7h4v4h-4zM930.3 1255.7h4v4h-4zM938.3 1259.7h4v4h-4z"/><path fill="#fcc89c" d="M942.3 1227.7h4v4h-4zM934.3 1231.7h4v4h-4zM958.3 1235.7h4v4h-4zM958.3 1251.7h4v4h-4zM934.3 1255.7h4v4h-4zM942.3 1259.7h4v4h-4z"/><path fill="#fcc494" d="M946.3 1227.7h4v4h-4zM938.3 1231.7h4v4h-4zM938.3 1255.7h4v4h-4zM946.3 1259.7h4v4h-4z"/><path fill="#fcbc88" d="M950.3 1227.7h4v4h-4zM942.3 1231.7h4v4h-4zM942.3 1255.7h4v4h-4zM950.3 1259.7h4v4h-4z"/><path fill="#fcb480" d="M954.3 1227.7h4v4h-4zM946.3 1231.7h4v4h-4zM946.3 1255.7h4v4h-4zM954.3 1259.7h4v4h-4z"/><path fill="#fcb074" d="M958.3 1227.7h4v4h-4zM958.3 1259.7h4v4h-4z"/><path fill="#f8a868" d="M962.3 1227.7h4v4h-4zM1074.3 1227.7h12v4h-12zM954.3 1231.7h4v4h-4zM954.3 1255.7h4v4h-4zM962.3 1259.7h4v4h-4zM1074.3 1259.7h12v4h-12z"/><path fill="#f8a05c" d="M966.3 1227.7h4v4h-4zM1042.3 1227.7h12v4h-12zM982.3 1239.7h4v4h-4zM982.3 1247.7h4v4h-4zM966.3 1259.7h4v4h-4zM1042.3 1259.7h12v4h-12z"/><path fill="#f8984c" d="M970.3 1227.7h4v4h-4zM1026.3 1227.7h4v4h-4zM962.3 1231.7h4v4h-4zM962.3 1255.7h4v4h-4zM970.3 1259.7h4v4h-4zM1026.3 1259.7h4v4h-4z"/><path fill="#f4903c" d="M974.3 1227.7h4v4h-4zM966.3 1231.7h4v4h-4zM966.3 1255.7h4v4h-4zM974.3 1259.7h4v4h-4z"/><path fill="#f48430" d="M978.3 1227.7h4v4h-4zM1002.3 1227.7h4v4h-4zM982.3 1235.7h4v4h-4zM982.3 1251.7h4v4h-4zM978.3 1259.7h4v4h-4zM1002.3 1259.7h4v4h-4z"/><path fill="#f47c24" d="M982.3 1227.7h12v4h-12zM986.3 1235.7h4v4h-4zM986.3 1251.7h4v4h-4zM982.3 1259.7h12v4h-12z"/><path fill="#f48024" d="M994.3 1227.7h4v4h-4zM990.3 1239.7h4v4h-4zM990.3 1247.7h4v4h-4zM994.3 1259.7h4v4h-4z"/><path fill="#f48428" d="M998.3 1227.7h4v4h-4zM998.3 1259.7h4v4h-4z"/><path fill="#f48834" d="M1006.3 1227.7h4v4h-4zM1006.3 1259.7h4v4h-4z"/><path fill="#f48c38" d="M1010.3 1227.7h4v4h-4zM1010.3 1259.7h4v4h-4z"/><path fill="#f48c3c" d="M1014.3 1227.7h4v4h-4zM1014.3 1259.7h4v4h-4z"/><path fill="#f89040" d="M1018.3 1227.7h4v4h-4zM986.3 1239.7h4v4h-4zM986.3 1247.7h4v4h-4zM1018.3 1259.7h4v4h-4z"/><path fill="#f89448" d="M1022.3 1227.7h4v4h-4zM978.3 1235.7h4v4h-4zM978.3 1251.7h4v4h-4zM1022.3 1259.7h4v4h-4z"/><path fill="#f89850" d="M1030.3 1227.7h4v4h-4zM1030.3 1259.7h4v4h-4z"/><path fill="#f89c54" d="M1034.3 1227.7h4v4h-4zM1034.3 1259.7h4v4h-4z"/><path fill="#f8a058" d="M1038.3 1227.7h4v4h-4zM958.3 1231.7h4v4h-4zM986.3 1243.7h4v4h-4zM958.3 1255.7h4v4h-4zM1038.3 1259.7h4v4h-4z"/><path fill="#f8a460" d="M1054.3 1227.7h12v4h-12zM974.3 1235.7h4v4h-4zM974.3 1251.7h4v4h-4zM1054.3 1259.7h12v4h-12z"/><path fill="#f8a464" d="M1066.3 1227.7h8v4h-8zM1066.3 1259.7h8v4h-8z"/><path fill="#f8a86c" d="M1086.3 1227.7h4v4h-4zM1126.3 1227.7h48v4h-48zM1086.3 1259.7h4v4h-4zM1126.3 1259.7h48v4h-48z"/><path fill="#f8ac6c" d="M1090.3 1227.7h36v4h-36zM1090.3 1259.7h36v4h-36z"/><path fill="#ffe8dc" d="M822.3 1231.7h4v4h-4zM822.3 1255.7h4v4h-4z"/><path fill="#fce4d4" d="M866.3 1231.7h4v4h-4zM898.3 1235.7h4v4h-4zM898.3 1251.7h4v4h-4zM866.3 1255.7h4v4h-4z"/><path fill="#fce0cc" d="M890.3 1231.7h4v4h-4zM934.3 1239.7h4v4h-4zM934.3 1247.7h4v4h-4zM890.3 1255.7h4v4h-4z"/><path fill="#fcd4b0" d="M918.3 1231.7h4v4h-4zM942.3 1235.7h4v4h-4zM966.3 1239.7h4v4h-4zM966.3 1247.7h4v4h-4zM942.3 1251.7h4v4h-4zM918.3 1255.7h4v4h-4z"/><path fill="#fccca8" d="M926.3 1231.7h4v4h-4zM950.3 1235.7h4v4h-4zM950.3 1251.7h4v4h-4zM926.3 1255.7h4v4h-4z"/><path fill="#f8b074" d="M950.3 1231.7h4v4h-4zM950.3 1255.7h4v4h-4z"/><path fill="#f4842c" d="M970.3 1231.7h4v4h-4zM970.3 1255.7h4v4h-4z"/><path fill="#f07c24" d="M974.3 1231.7h4v4h-4zM974.3 1255.7h4v4h-4z"/><path fill="#f07424" d="M978.3 1231.7h4v4h-4zM990.3 1235.7h4v4h-4zM994.3 1239.7h4v4h-4zM994.3 1243.7h4v4h-4zM994.3 1247.7h4v4h-4zM990.3 1251.7h4v4h-4zM978.3 1255.7h4v4h-4z"/><path fill="#ec6c24" d="M982.3 1231.7h4v4h-4zM994.3 1235.7h4v4h-4zM994.3 1251.7h4v4h-4zM982.3 1255.7h4v4h-4z"/><path fill="#e86824" d="M986.3 1231.7h4v4h-4zM986.3 1255.7h4v4h-4z"/><path fill="#e86424" d="M990.3 1231.7h8v4h-8zM998.3 1235.7h4v4h-4zM998.3 1239.7h4v4h-4zM998.3 1243.7h4v4h-4zM998.3 1247.7h4v4h-4zM998.3 1251.7h4v4h-4zM990.3 1255.7h8v4h-8z"/><path fill="#e86024" d="M998.3 1231.7h4v4h-4zM998.3 1255.7h4v4h-4z"/><path fill="#e45c24" d="M1002.3 1231.7h4v4h-4zM1002.3 1255.7h4v4h-4z"/><path fill="#e45824" d="M1006.3 1231.7h8v4h-8zM1002.3 1235.7h4v4h-4zM1002.3 1239.7h4v4h-4zM1002.3 1243.7h4v4h-4zM1002.3 1247.7h4v4h-4zM1002.3 1251.7h4v4h-4zM1006.3 1255.7h8v4h-8z"/><path fill="#e05424" d="M1014.3 1231.7h4v4h-4zM1014.3 1255.7h4v4h-4z"/><path fill="#e05024" d="M1018.3 1231.7h12v4h-12zM1006.3 1235.7h4v4h-4zM1006.3 1251.7h4v4h-4zM1018.3 1255.7h12v4h-12z"/><path fill="#e04c24" d="M1030.3 1231.7h8v4h-8zM1030.3 1255.7h8v4h-8z"/><path fill="#dc4c24" d="M1038.3 1231.7h4v4h-4zM1006.3 1239.7h4v4h-4zM1006.3 1247.7h4v4h-4zM1038.3 1255.7h4v4h-4z"/><path fill="#dc4824" d="M1042.3 1231.7h12v4h-12zM1142.3 1231.7h32v4h-32zM1010.3 1235.7h4v4h-4zM1006.3 1243.7h4v4h-4zM1010.3 1251.7h4v4h-4zM1042.3 1255.7h12v4h-12zM1142.3 1255.7h32v4h-32z"/><path fill="#dc4424" d="M1054.3 1231.7h4v4h-4zM1134.3 1231.7h8v4h-8zM1054.3 1255.7h4v4h-4zM1134.3 1255.7h8v4h-8z"/><path fill="#d84424" d="M1058.3 1231.7h12v4h-12zM1106.3 1231.7h28v4h-28zM1058.3 1255.7h12v4h-12zM1106.3 1255.7h28v4h-28z"/><path fill="#d84024" d="M1070.3 1231.7h36v4h-36zM1014.3 1235.7h4v4h-4zM1010.3 1239.7h4v4h-4zM1010.3 1247.7h4v4h-4zM1014.3 1251.7h4v4h-4zM1070.3 1255.7h36v4h-36z"/><path fill="#fcdcc4" d="M918.3 1235.7h4v4h-4zM918.3 1251.7h4v4h-4z"/><path fill="#fcc8a0" d="M954.3 1235.7h4v4h-4zM954.3 1251.7h4v4h-4z"/><path fill="#fcc090" d="M962.3 1235.7h4v4h-4zM962.3 1251.7h4v4h-4z"/><path fill="#fcb888" d="M966.3 1235.7h4v4h-4zM966.3 1251.7h4v4h-4z"/><path fill="#fcb078" d="M970.3 1235.7h4v4h-4zM970.3 1251.7h4v4h-4z"/><path fill="#d43828" d="M1018.3 1235.7h4v4h-4zM1018.3 1251.7h4v4h-4z"/><path fill="#d03428" d="M1022.3 1235.7h4v4h-4zM1014.3 1239.7h4v4h-4zM1014.3 1247.7h4v4h-4zM1022.3 1251.7h4v4h-4z"/><path fill="#cc3028" d="M1026.3 1235.7h4v4h-4zM1026.3 1251.7h4v4h-4z"/><path fill="#c82c28" d="M1030.3 1235.7h4v4h-4zM1018.3 1239.7h4v4h-4zM1018.3 1247.7h4v4h-4zM1030.3 1251.7h4v4h-4z"/><path fill="#c82828" d="M1034.3 1235.7h4v4h-4zM1018.3 1243.7h4v4h-4zM1034.3 1251.7h4v4h-4z"/><path fill="#c42428" d="M1038.3 1235.7h4v4h-4zM1022.3 1239.7h4v4h-4zM1022.3 1247.7h4v4h-4zM1038.3 1251.7h4v4h-4z"/><path fill="#c02028" d="M1042.3 1235.7h8v4h-8zM1026.3 1239.7h4v4h-4zM1022.3 1243.7h4v4h-4zM1026.3 1247.7h4v4h-4zM1042.3 1251.7h8v4h-8z"/><path fill="#bc1c28" d="M1050.3 1235.7h4v4h-4zM1030.3 1239.7h4v4h-4zM1026.3 1243.7h4v4h-4zM1030.3 1247.7h4v4h-4zM1050.3 1251.7h4v4h-4z"/><path fill="#b81c24" d="M1054.3 1235.7h4v4h-4zM1158.3 1235.7h16v4h-16zM1034.3 1239.7h4v4h-4zM1030.3 1243.7h4v4h-4zM1034.3 1247.7h4v4h-4zM1054.3 1251.7h4v4h-4zM1158.3 1251.7h16v4h-16z"/><path fill="#b41824" d="M1058.3 1235.7h8v4h-8zM1134.3 1235.7h20v4h-20zM1038.3 1239.7h4v4h-4zM1038.3 1247.7h4v4h-4zM1058.3 1251.7h8v4h-8zM1134.3 1251.7h20v4h-20z"/><path fill="#b01824" d="M1066.3 1235.7h4v4h-4zM1126.3 1235.7h8v4h-8zM1034.3 1243.7h4v4h-4zM1066.3 1251.7h4v4h-4zM1126.3 1251.7h8v4h-8z"/><path fill="#b01820" d="M1070.3 1235.7h4v4h-4zM1118.3 1235.7h8v4h-8zM1070.3 1251.7h4v4h-4zM1118.3 1251.7h8v4h-8z"/><path fill="#ac1420" d="M1074.3 1235.7h8v4h-8zM1094.3 1235.7h16v4h-16zM1038.3 1243.7h4v4h-4zM1074.3 1251.7h8v4h-8zM1094.3 1251.7h16v4h-16z"/><path fill="#a81420" d="M1082.3 1235.7h12v4h-12zM1046.3 1239.7h4v4h-4zM1046.3 1247.7h4v4h-4zM1082.3 1251.7h12v4h-12z"/><path fill="#b01420" d="M1110.3 1235.7h8v4h-8zM1042.3 1239.7h4v4h-4zM1042.3 1247.7h4v4h-4zM1110.3 1251.7h8v4h-8z"/><path fill="#b81824" d="M1154.3 1235.7h4v4h-4zM1154.3 1251.7h4v4h-4z"/><path fill="#fcc498" d="M974.3 1239.7h4v4h-4zM974.3 1247.7h4v4h-4z"/><path fill="#fcb47c" d="M978.3 1239.7h4v4h-4zM978.3 1247.7h4v4h-4z"/><path fill="#a4101c" d="M1050.3 1239.7h4v4h-4zM1046.3 1243.7h4v4h-4zM1050.3 1247.7h4v4h-4z"/><path fill="#a0101c" d="M1054.3 1239.7h4v4h-4zM1054.3 1247.7h4v4h-4z"/><path fill="#9c0c18" d="M1058.3 1239.7h4v4h-4zM1154.3 1239.7h8v4h-8zM1058.3 1247.7h4v4h-4zM1154.3 1247.7h8v4h-8z"/><path fill="#980c18" d="M1062.3 1239.7h4v4h-4zM1142.3 1239.7h12v4h-12zM1062.3 1247.7h4v4h-4zM1142.3 1247.7h12v4h-12z"/><path fill="#940c18" d="M1066.3 1239.7h4v4h-4zM1130.3 1239.7h12v4h-12zM1054.3 1243.7h4v4h-4zM1166.3 1243.7h8v4h-8zM1066.3 1247.7h4v4h-4zM1130.3 1247.7h12v4h-12z"/><path fill="#900818" d="M1070.3 1239.7h4v4h-4zM1118.3 1239.7h4v4h-4zM1154.3 1243.7h4v4h-4zM1070.3 1247.7h4v4h-4zM1118.3 1247.7h4v4h-4z"/><path fill="#8c0814" d="M1074.3 1239.7h4v4h-4zM1106.3 1239.7h8v4h-8zM1062.3 1243.7h4v4h-4zM1138.3 1243.7h12v4h-12zM1074.3 1247.7h4v4h-4zM1106.3 1247.7h8v4h-8z"/><path fill="#880814" d="M1078.3 1239.7h4v4h-4zM1094.3 1239.7h12v4h-12zM1066.3 1243.7h4v4h-4zM1126.3 1243.7h12v4h-12zM1078.3 1247.7h4v4h-4zM1094.3 1247.7h12v4h-12z"/><path fill="#840814" d="M1082.3 1239.7h12v4h-12zM1070.3 1243.7h4v4h-4zM1114.3 1243.7h12v4h-12zM1082.3 1247.7h12v4h-12z"/><path fill="#900814" d="M1114.3 1239.7h4v4h-4zM1150.3 1243.7h4v4h-4zM1114.3 1247.7h4v4h-4z"/><path fill="#900c18" d="M1122.3 1239.7h8v4h-8zM1058.3 1243.7h4v4h-4zM1158.3 1243.7h8v4h-8zM1122.3 1247.7h8v4h-8z"/><path fill="#9c0c1c" d="M1162.3 1239.7h12v4h-12zM1050.3 1243.7h4v4h-4zM1162.3 1247.7h12v4h-12z"/><path fill="#f8fcfc" d="M842.3 1243.7h4v4h-4zM894.3 1243.7h4v4h-4z"/><path fill="#fcb884" d="M982.3 1243.7h4v4h-4z"/><path fill="#f48830" d="M990.3 1243.7h4v4h-4z"/><path fill="#d43c24" d="M1010.3 1243.7h4v4h-4z"/><path fill="#cc3428" d="M1014.3 1243.7h4v4h-4z"/><path fill="#a81020" d="M1042.3 1243.7h4v4h-4z"/><path fill="#800410" d="M1074.3 1243.7h4v4h-4zM1106.3 1243.7h8v4h-8z"/><path fill="#7c0410" d="M1078.3 1243.7h4v4h-4zM1098.3 1243.7h8v4h-8z"/><path fill="#780410" d="M1082.3 1243.7h16v4h-16z"/></g></g>
<g clip-path="url(#c20)"><path mask="url(#m19)" d="M808.1,1265.5 809.4,1265.6 810.7,1265.6 812.0,1265.6 813.3,1265.6 814.5,1265.6 815.8,1265.6 817.1,1265.6 818.4,1265.6 819.7,1265.6 821.0,1265.6 822.3,1265.6 823.6,1265.6 824.8,1265.6 826.1,1265.6 827.4,1265.6 828.7,1265.6 830.0,1265.6 831.3,1265.6 832.6,1265.6 833.9,1265.6 835.1,1265.6 836.4,1265.7 837.7,1265.7 839.0,1265.7 840.3,1265.7 841.6,1265.7 842.9,1265.7 844.2,1265.7 845.5,1265.7 846.7,1265.7 848.0,1265.7 849.3,1265.7 850.6,1265.7 851.9,1265.7 853.2,1265.7 854.5,1265.7 855.8,1265.7 857.0,1265.8 858.3,1265.8 859.6,1265.8 860.9,1265.8 862.2,1265.8 863.5,1265.8 864.8,1265.8 866.1,1265.8 867.3,1265.8 868.6,1265.8 869.9,1265.8 871.2,1265.8 872.5,1265.8 873.8,1265.9 874.4,1265.9 875.7,1265.9 877.0,1265.9 878.3,1265.9 879.6,1265.9 880.9,1265.9 882.2,1265.9 883.4,1265.9 884.7,1265.9 886.0,1265.9 887.3,1265.9 888.6,1265.9 889.9,1265.9 891.2,1265.9 892.5,1265.9 893.8,1265.9 895.0,1266.0 896.3,1266.0 897.6,1266.0 898.9,1266.0 900.2,1266.0 901.5,1266.0 902.8,1266.0 904.1,1266.0 905.3,1266.0 906.6,1266.0 907.9,1266.0 909.2,1266.1 910.5,1266.1 911.8,1266.1 913.1,1266.1 914.4,1266.1 915.6,1266.1 916.9,1266.1 918.2,1266.1 919.5,1266.1 920.8,1266.1 922.1,1266.2 923.4,1266.2 924.7,1266.2 926.0,1266.2 927.2,1266.2 928.5,1266.2 929.3,1266.2 930.5,1266.2 931.7,1266.2 933.0,1266.2 934.3,1266.3 935.6,1266.3 936.9,1266.3 938.2,1266.3 939.5,1266.3 940.8,1266.3 942.1,1266.3 943.3,1266.3 944.6,1266.3 945.9,1266.3 947.2,1266.3 948.5,1266.4 949.8,1266.4 951.1,1266.4 952.4,1266.4 953.6,1266.4 954.9,1266.4 956.2,1266.4 957.5,1266.4 958.8,1266.4 960.1,1266.4 961.4,1266.4 962.7,1266.5 963.9,1266.5 965.2,1266.5 966.5,1266.5 967.8,1266.5 969.1,1266.5 970.4,1266.5 971.7,1266.5 973.0,1266.5 974.3,1266.5 975.5,1266.6 976.8,1266.6 978.1,1266.6 978.8,1266.6 980.0,1266.6 981.3,1266.6 982.6,1266.6 983.9,1266.6 985.2,1266.6 986.5,1266.6 987.8,1266.6 989.1,1266.6 990.4,1266.6 991.6,1266.6 992.9,1266.6 994.2,1266.6 995.5,1266.6 996.8,1266.6 998.1,1266.6 999.4,1266.6 1000.7,1266.6 1001.9,1266.7 1003.2,1266.7 1004.5,1266.7 1005.8,1266.7 1007.1,1266.7 1008.4,1266.7 1009.7,1266.7 1011.0,1266.7 1012.3,1266.7 1013.5,1266.7 1014.8,1266.7 1016.1,1266.7 1017.4,1266.7 1018.7,1266.7 1020.0,1266.7 1021.3,1266.7 1022.6,1266.7 1023.8,1266.7 1025.1,1266.7 1026.4,1266.7 1027.7,1266.7 1029.0,1266.7 1030.3,1266.7 1031.6,1266.7 1032.9,1266.7 1034.1,1266.7 1035.4,1266.7 1036.7,1266.7 1038.0,1266.7 1039.3,1266.7 1040.6,1266.7 1041.9,1266.7 1043.2,1266.7 1044.5,1266.7 1045.7,1266.7 1047.0,1266.7 1048.3,1266.7 1049.6,1266.7 1050.9,1266.7 1052.2,1266.7 1053.5,1266.7 1054.8,1266.7 1056.0,1266.7 1057.3,1266.8 1058.6,1266.8 1059.9,1266.8 1061.2,1266.8 1062.5,1266.8 1063.8,1266.8 1065.1,1266.8 1066.3,1266.8 1067.6,1266.8 1068.9,1266.8 1070.2,1266.8 1071.5,1266.8 1072.8,1266.8 1074.1,1266.8 1075.4,1266.8 1076.7,1266.8 1077.9,1266.8 1079.2,1266.8 1080.5,1266.8 1081.8,1266.8 1083.1,1266.8 1084.4,1266.8 1085.7,1266.8 1087.0,1266.8 1088.2,1266.8 1089.5,1266.8 1090.8,1266.9 1092.1,1266.9 1093.4,1266.9 1094.7,1266.9 1096.0,1266.9 1097.3,1266.9 1098.5,1266.9 1099.8,1266.9 1101.1,1266.9 1102.4,1266.9 1103.7,1266.9 1105.0,1266.9 1106.3,1266.9 1107.6,1266.9 1108.9,1266.9 1110.1,1266.9 1111.4,1266.9 1112.1,1266.9 1113.4,1266.9 1114.6,1266.9 1115.9,1267.0 1117.2,1267.0 1118.5,1267.0 1119.8,1267.0 1121.1,1267.0 1122.4,1267.0 1123.7,1267.0 1125.0,1267.0 1126.2,1267.0 1127.5,1267.0 1128.8,1267.0 1130.1,1267.0 1131.4,1267.0 1132.7,1267.0 1134.0,1267.0 1135.3,1267.0 1136.5,1267.0 1137.8,1267.0 1139.1,1267.0 1140.4,1267.0 1141.7,1267.0 1143.0,1267.0 1144.3,1267.0 1145.6,1267.1 1146.8,1267.1 1148.1,1267.1 1149.4,1267.1 1150.7,1267.1 1152.0,1267.1 1153.3,1267.1 1154.6,1267.1 1155.9,1267.1 1157.2,1267.1 1158.4,1267.1 1159.7,1267.1 1161.0,1267.1 1162.3,1267.1 1163.6,1267.1 1164.9,1267.1 1166.2,1267.1 1167.5,1267.1M862.8,1248.2 862.2,1248.2 860.9,1248.1 859.6,1248.1 858.3,1248.0 857.0,1248.0 855.8,1247.9 854.7,1247.9 853.8,1247.8 852.5,1247.7 851.2,1247.7 850.0,1247.6 848.9,1247.5 848.0,1247.4 846.7,1247.3 845.5,1247.2 844.8,1247.1 843.5,1247.0 842.2,1246.8 841.6,1246.7 840.3,1246.5 839.7,1246.3 839.0,1246.0 839.0,1245.4 839.7,1245.1 840.3,1244.9 841.6,1244.7 842.2,1244.6 843.5,1244.4 844.8,1244.3 845.5,1244.2 846.7,1244.1 848.0,1244.0 848.9,1243.9 850.0,1243.8 851.2,1243.7 852.5,1243.7 853.8,1243.6 854.7,1243.5 855.8,1243.5 857.0,1243.4 858.3,1243.4 859.6,1243.3 860.9,1243.3 862.2,1243.2 862.8,1243.2 864.1,1243.1 865.4,1243.1 866.7,1243.0 868.0,1243.0 869.3,1243.0 870.6,1242.9 871.9,1242.9 873.1,1243.0 874.4,1243.0 875.7,1243.1 877.0,1243.1 877.7,1243.2 878.9,1243.2 880.2,1243.3 881.5,1243.4 882.8,1243.4 884.1,1243.5 884.8,1243.5 886.0,1243.6 887.3,1243.7 888.6,1243.8 889.9,1243.9 890.5,1243.9 891.8,1244.0 893.1,1244.1 894.4,1244.2 895.0,1244.3 896.3,1244.4 897.6,1244.6 898.3,1244.7 899.5,1244.9 900.2,1245.0 901.3,1245.3 901.7,1245.7 901.3,1246.1 900.2,1246.4 899.5,1246.5 898.3,1246.7 897.6,1246.8 896.3,1247.0 895.0,1247.1 894.4,1247.2 893.1,1247.3 891.8,1247.4 890.5,1247.5 889.9,1247.5 888.6,1247.6 887.3,1247.7 886.0,1247.8 884.8,1247.9 884.1,1247.9 882.8,1248.0 881.5,1248.0 880.2,1248.1 878.9,1248.2 877.7,1248.2 877.0,1248.3 875.7,1248.3 874.4,1248.4 873.1,1248.4 871.9,1248.5 870.6,1248.5 869.3,1248.4 868.0,1248.4 866.7,1248.4 865.4,1248.3 864.1,1248.3 862.8,1248.2M1168.1,1224.3 1166.8,1224.3 1165.5,1224.3 1164.2,1224.3 1162.9,1224.3 1161.7,1224.3 1160.4,1224.3 1159.1,1224.3 1157.8,1224.3 1156.5,1224.3 1155.2,1224.3 1153.9,1224.3 1152.6,1224.3 1151.4,1224.3 1150.1,1224.3 1148.8,1224.3 1147.5,1224.3 1146.2,1224.3 1144.9,1224.3 1143.6,1224.4 1142.3,1224.4 1141.1,1224.4 1139.8,1224.4 1138.5,1224.4 1137.2,1224.4 1135.9,1224.4 1134.6,1224.4 1133.3,1224.4 1132.0,1224.4 1130.7,1224.4 1129.5,1224.4 1128.2,1224.4 1126.9,1224.4 1125.6,1224.4 1124.3,1224.4 1123.0,1224.4 1121.7,1224.4 1120.4,1224.4 1119.2,1224.4 1117.9,1224.4 1116.6,1224.4 1115.3,1224.4 1114.0,1224.5 1112.7,1224.5 1111.9,1224.5 1110.8,1224.5 1109.5,1224.5 1108.2,1224.5 1106.9,1224.5 1105.6,1224.5 1104.3,1224.5 1103.1,1224.5 1101.8,1224.5 1100.5,1224.5 1099.2,1224.5 1097.9,1224.5 1096.6,1224.5 1095.3,1224.5 1094.0,1224.5 1092.8,1224.5 1091.5,1224.5 1090.2,1224.5 1088.9,1224.6 1087.6,1224.6 1086.3,1224.6 1085.0,1224.6 1083.7,1224.6 1082.4,1224.6 1081.2,1224.6 1079.9,1224.6 1078.6,1224.6 1077.3,1224.6 1076.0,1224.6 1074.7,1224.6 1073.4,1224.6 1072.1,1224.6 1070.9,1224.6 1069.6,1224.6 1068.3,1224.6 1067.0,1224.6 1065.7,1224.6 1064.4,1224.6 1063.1,1224.6 1061.8,1224.6 1060.6,1224.6 1059.3,1224.6 1058.0,1224.6 1056.7,1224.7 1055.4,1224.7 1054.1,1224.7 1052.8,1224.7 1051.5,1224.7 1050.2,1224.7 1049.0,1224.7 1047.7,1224.7 1046.4,1224.7 1045.1,1224.7 1043.8,1224.7 1042.5,1224.7 1041.2,1224.7 1039.9,1224.7 1038.7,1224.7 1037.4,1224.7 1036.1,1224.7 1034.8,1224.7 1033.5,1224.7 1032.2,1224.7 1030.9,1224.7 1029.6,1224.7 1028.4,1224.7 1027.1,1224.7 1025.8,1224.7 1024.5,1224.7 1023.2,1224.7 1021.9,1224.7 1020.6,1224.7 1019.3,1224.7 1018.0,1224.7 1016.8,1224.7 1015.5,1224.7 1014.2,1224.7 1012.9,1224.7 1011.6,1224.7 1010.3,1224.7 1009.0,1224.7 1007.7,1224.7 1006.5,1224.7 1005.2,1224.7 1003.9,1224.7 1002.6,1224.7 1001.3,1224.8 1000.0,1224.8 998.7,1224.8 997.4,1224.8 996.2,1224.8 994.9,1224.8 993.6,1224.8 992.3,1224.8 991.0,1224.8 989.7,1224.8 988.4,1224.8 987.1,1224.8 985.8,1224.8 984.6,1224.8 983.3,1224.8 982.0,1224.8 980.7,1224.8 979.4,1224.8 978.7,1224.8 977.5,1224.8 976.2,1224.8 974.9,1224.8 973.6,1224.9 972.3,1224.9 971.0,1224.9 969.7,1224.9 968.5,1224.9 967.2,1224.9 965.9,1224.9 964.6,1224.9 963.3,1224.9 962.0,1224.9 960.7,1225.0 959.4,1225.0 958.2,1225.0 956.9,1225.0 955.6,1225.0 954.3,1225.0 953.0,1225.0 951.7,1225.0 950.4,1225.0 949.1,1225.0 947.8,1225.0 946.6,1225.1 945.3,1225.1 944.0,1225.1 942.7,1225.1 941.4,1225.1 940.1,1225.1 938.8,1225.1 937.5,1225.1 936.3,1225.1 935.0,1225.1 933.7,1225.2 932.4,1225.2 931.1,1225.2 929.8,1225.2 929.2,1225.2 927.9,1225.2 926.6,1225.2 925.3,1225.2 924.0,1225.2 922.7,1225.2 921.4,1225.2 920.2,1225.3 918.9,1225.3 917.6,1225.3 916.3,1225.3 915.0,1225.3 913.7,1225.3 912.4,1225.3 911.1,1225.3 909.9,1225.3 908.6,1225.3 907.3,1225.4 906.0,1225.4 904.7,1225.4 903.4,1225.4 902.1,1225.4 900.8,1225.4 899.5,1225.4 898.3,1225.4 897.0,1225.4 895.7,1225.4 894.4,1225.4 893.1,1225.5 891.8,1225.5 890.5,1225.5 889.2,1225.5 888.0,1225.5 886.7,1225.5 885.4,1225.5 884.1,1225.5 882.8,1225.5 881.5,1225.5 880.2,1225.5 878.9,1225.5 877.7,1225.5 876.4,1225.5 875.1,1225.5 874.2,1225.5 873.1,1225.5 871.9,1225.6 870.6,1225.6 869.3,1225.6 868.0,1225.6 866.7,1225.6 865.4,1225.6 864.1,1225.6 862.8,1225.6 861.6,1225.6 860.3,1225.6 859.0,1225.6 857.7,1225.6 856.4,1225.6 855.1,1225.7 853.8,1225.7 852.5,1225.7 851.2,1225.7 850.0,1225.7 848.7,1225.7 847.4,1225.7 846.1,1225.7 844.8,1225.7 843.5,1225.7 842.2,1225.7 840.9,1225.7 839.7,1225.7 838.4,1225.7 837.1,1225.7 835.8,1225.8 834.5,1225.8 833.2,1225.8 831.9,1225.8 830.6,1225.8 829.4,1225.8 828.1,1225.8 826.8,1225.8 825.5,1225.8 824.2,1225.8 822.9,1225.8 821.6,1225.8 820.3,1225.8 819.0,1225.8 817.8,1225.8 816.5,1225.8 815.2,1225.8 813.9,1225.8 812.6,1225.8 811.3,1225.8 810.0,1225.8 808.7,1225.8M1168.1,1231.3 1166.8,1231.3 1165.5,1231.3 1164.2,1231.3 1162.9,1231.3 1161.7,1231.3 1160.4,1231.3 1159.1,1231.3 1157.8,1231.3 1156.5,1231.3 1155.2,1231.3 1153.9,1231.3 1152.6,1231.3 1151.4,1231.3 1150.1,1231.3 1148.8,1231.3 1147.5,1231.3 1146.2,1231.3 1144.9,1231.3 1143.6,1231.3 1142.3,1231.3 1141.1,1231.3 1139.8,1231.3 1138.5,1231.3 1137.2,1231.3 1135.9,1231.3 1134.6,1231.3 1133.3,1231.3 1132.0,1231.3 1130.7,1231.3 1129.5,1231.3 1128.2,1231.3 1126.9,1231.3 1125.6,1231.3 1124.3,1231.3 1123.0,1231.3 1121.7,1231.3 1120.4,1231.3 1119.2,1231.3 1117.9,1231.3 1116.6,1231.3 1115.3,1231.3 1114.0,1231.3 1112.7,1231.3 1111.4,1231.3 1110.1,1231.3 1108.9,1231.3 1107.6,1231.3 1106.3,1231.3 1105.0,1231.3 1103.7,1231.3 1102.4,1231.3 1101.1,1231.3 1099.8,1231.3 1098.5,1231.3 1097.3,1231.3 1096.0,1231.3 1094.7,1231.3 1093.4,1231.3 1092.1,1231.3 1090.8,1231.3 1089.5,1231.2 1088.2,1231.2 1087.0,1231.2 1085.7,1231.2 1084.4,1231.2 1083.1,1231.2 1081.8,1231.2 1080.5,1231.1 1079.2,1231.1 1077.9,1231.1 1076.7,1231.1 1075.4,1231.1 1074.1,1231.1 1072.8,1231.1 1071.5,1231.0 1070.2,1231.0 1068.9,1231.0 1067.6,1231.0 1066.3,1231.0 1065.1,1231.0 1063.8,1231.0 1062.5,1231.0 1061.5,1230.9 1060.6,1230.9 1059.3,1230.9 1058.0,1230.9 1056.7,1230.9 1055.4,1230.9 1054.1,1230.9 1052.8,1230.9 1051.5,1230.8 1050.2,1230.8 1049.0,1230.8 1047.7,1230.8 1046.4,1230.8 1045.1,1230.8 1043.8,1230.8 1042.5,1230.8 1041.2,1230.7 1039.9,1230.7 1038.7,1230.7 1037.4,1230.7 1036.1,1230.6 1034.8,1230.6 1034.1,1230.6 1032.9,1230.5 1031.6,1230.5 1030.3,1230.5 1029.0,1230.4 1027.7,1230.4 1026.4,1230.4 1025.1,1230.3 1023.8,1230.3 1022.6,1230.3 1021.3,1230.2 1020.4,1230.2 1019.3,1230.2 1018.0,1230.2 1016.8,1230.1 1015.5,1230.1 1014.2,1230.1 1012.9,1230.1 1011.6,1230.0 1010.3,1230.0 1009.0,1230.0 1007.7,1229.9 1006.5,1229.9 1005.2,1229.9 1003.9,1229.9 1003.2,1229.9 1001.9,1229.8 1000.7,1229.8 999.4,1229.8 998.1,1229.8 996.8,1229.7 995.5,1229.7 994.2,1229.7 992.9,1229.7 991.6,1229.6 990.4,1229.6 989.1,1229.6 987.8,1229.6 986.5,1229.5 985.2,1229.6 983.9,1229.7 982.6,1229.7 981.3,1229.8 980.6,1229.9 979.4,1229.9 978.1,1230.0 976.8,1230.1 975.5,1230.2 974.9,1230.2 973.6,1230.3 972.3,1230.4 971.0,1230.5 970.0,1230.6 969.1,1230.7 967.8,1230.8 966.5,1230.9 965.6,1230.9 964.6,1231.0 963.3,1231.1 962.0,1231.2 960.7,1231.3 960.7,1231.3 962.0,1231.5 963.0,1231.7 963.9,1231.8 965.2,1232.0 965.9,1232.1 967.2,1232.4 967.8,1232.5 969.1,1232.7 969.7,1232.9 971.0,1233.1 971.7,1233.2 972.9,1233.5 973.6,1233.6 974.4,1233.8 975.5,1234.1 976.2,1234.3 977.1,1234.5 978.1,1234.8 978.8,1235.0 979.6,1235.3 980.7,1235.6 981.3,1235.8 982.0,1236.1 982.7,1236.3 983.6,1236.7 984.5,1237.1 985.2,1237.4 985.8,1237.7 986.5,1238.0 987.1,1238.2 987.9,1238.5 988.7,1238.9 989.3,1239.2 989.9,1239.6 990.5,1239.9 991.0,1240.4 991.6,1240.9 992.1,1241.4 992.3,1241.7 992.8,1242.5 993.0,1242.8 993.2,1243.5 993.4,1244.3 993.5,1245.0 993.5,1245.7 993.5,1246.4 993.4,1247.1 993.2,1247.9 993.0,1248.6 992.8,1248.9 992.3,1249.7 992.1,1250.0 991.6,1250.5 991.0,1251.0 990.5,1251.5 989.9,1251.8 989.3,1252.2 988.7,1252.5 987.9,1252.9 987.1,1253.2 986.5,1253.4 985.8,1253.7 985.2,1254.0 984.5,1254.3 983.6,1254.7 982.7,1255.1 982.0,1255.3 981.3,1255.6 980.7,1255.8 979.6,1256.1 978.8,1256.4 978.1,1256.6 977.1,1256.9 976.2,1257.1 975.5,1257.3 974.4,1257.6 973.6,1257.8 972.9,1257.9 971.7,1258.2 971.0,1258.3 969.7,1258.5 969.1,1258.7 967.8,1258.9 967.2,1259.0 965.9,1259.3 965.2,1259.4 963.9,1259.6 963.0,1259.7 962.0,1259.9 960.7,1260.1 960.7,1260.1 962.0,1260.2 963.3,1260.3 964.6,1260.4 965.6,1260.5 966.5,1260.5 967.8,1260.6 969.1,1260.7 970.0,1260.8 971.0,1260.9 972.3,1261.0 973.6,1261.1 974.9,1261.2 975.5,1261.2 976.8,1261.3 978.1,1261.4 979.4,1261.5 980.6,1261.5 981.3,1261.6 982.6,1261.7 983.9,1261.7 985.2,1261.8 986.5,1261.9 987.8,1261.8 989.1,1261.8 990.4,1261.8 991.6,1261.8 992.9,1261.7 994.2,1261.7 995.5,1261.7 996.8,1261.7 998.1,1261.6 999.4,1261.6 1000.7,1261.6 1001.9,1261.6 1003.2,1261.5 1003.9,1261.5 1005.2,1261.5 1006.5,1261.5 1007.7,1261.5 1009.0,1261.4 1010.3,1261.4 1011.6,1261.4 1012.9,1261.3 1014.2,1261.3 1015.5,1261.3 1016.8,1261.3 1018.0,1261.2 1019.3,1261.2 1020.4,1261.2 1021.3,1261.2 1022.6,1261.1 1023.8,1261.1 1025.1,1261.1 1026.4,1261.0 1027.7,1261.0 1029.0,1261.0 1030.3,1260.9 1031.6,1260.9 1032.9,1260.9 1034.1,1260.8 1034.8,1260.8 1036.1,1260.8 1037.4,1260.7 1038.7,1260.7 1039.9,1260.7 1041.2,1260.7 1042.5,1260.6 1043.8,1260.6 1045.1,1260.6 1046.4,1260.6 1047.7,1260.6 1049.0,1260.6 1050.2,1260.6 1051.5,1260.6 1052.8,1260.5 1054.1,1260.5 1055.4,1260.5 1056.7,1260.5 1058.0,1260.5 1059.3,1260.5 1060.6,1260.5 1061.5,1260.5 1062.5,1260.4 1063.8,1260.4 1065.1,1260.4 1066.3,1260.4 1067.6,1260.4 1068.9,1260.4 1070.2,1260.4 1071.5,1260.4 1072.8,1260.3 1074.1,1260.3 1075.4,1260.3 1076.7,1260.3 1077.9,1260.3 1079.2,1260.3 1080.5,1260.3 1081.8,1260.2 1083.1,1260.2 1084.4,1260.2 1085.7,1260.2 1087.0,1260.2 1088.2,1260.2 1089.5,1260.2 1090.8,1260.1 1092.1,1260.1 1093.4,1260.1 1094.7,1260.1 1096.0,1260.1 1097.3,1260.1 1098.5,1260.1 1099.8,1260.1 1101.1,1260.1 1102.4,1260.1 1103.7,1260.1 1105.0,1260.1 1106.3,1260.1 1107.6,1260.1 1108.9,1260.1 1110.1,1260.1 1111.4,1260.1 1112.7,1260.1 1114.0,1260.1 1115.3,1260.1 1116.6,1260.1 1117.9,1260.1 1119.2,1260.1 1120.4,1260.1 1121.7,1260.1 1123.0,1260.1 1124.3,1260.1 1125.6,1260.1 1126.9,1260.1 1128.2,1260.1 1129.5,1260.1 1130.7,1260.1 1132.0,1260.1 1133.3,1260.1 1134.6,1260.1 1135.9,1260.1 1137.2,1260.1 1138.5,1260.1 1139.8,1260.1 1141.1,1260.1 1142.3,1260.1 1143.6,1260.1 1144.9,1260.1 1146.2,1260.1 1147.5,1260.1 1148.8,1260.1 1150.1,1260.1 1151.4,1260.1 1152.6,1260.1 1153.9,1260.1 1155.2,1260.1 1156.5,1260.1 1157.8,1260.1 1159.1,1260.1 1160.4,1260.1 1161.7,1260.1 1162.9,1260.1 1164.2,1260.1 1165.5,1260.1 1166.8,1260.1 1168.1,1260.1M1168.1,1236.5 1166.8,1236.5 1165.5,1236.4 1164.2,1236.4 1162.9,1236.4 1161.7,1236.4 1160.4,1236.4 1159.1,1236.4 1158.3,1236.3 1157.2,1236.3 1155.9,1236.3 1154.6,1236.3 1153.3,1236.3 1152.0,1236.3 1150.7,1236.2 1149.4,1236.2 1148.1,1236.2 1146.8,1236.2 1145.6,1236.2 1144.3,1236.1 1143.0,1236.1 1141.7,1236.1 1140.4,1236.1 1139.1,1236.1 1137.8,1236.1 1136.5,1236.0 1135.3,1236.0 1134.0,1236.0 1132.7,1236.0 1131.8,1236.0 1130.7,1236.0 1129.5,1236.0 1128.2,1235.9 1126.9,1235.9 1125.6,1235.9 1124.3,1235.9 1123.0,1235.9 1121.7,1235.9 1120.4,1235.8 1119.2,1235.8 1117.9,1235.8 1116.6,1235.8 1115.3,1235.8 1114.0,1235.8 1112.7,1235.7 1111.4,1235.7 1110.1,1235.7 1108.9,1235.7 1107.6,1235.7 1106.3,1235.6 1105.0,1235.6 1104.2,1235.6 1103.1,1235.6 1101.8,1235.6 1100.5,1235.6 1099.2,1235.6 1097.9,1235.5 1096.6,1235.5 1095.3,1235.5 1094.0,1235.5 1092.8,1235.5 1091.5,1235.4 1090.2,1235.4 1088.9,1235.4 1087.6,1235.4 1086.3,1235.4 1085.0,1235.4 1083.7,1235.4 1082.4,1235.5 1081.2,1235.5 1079.9,1235.5 1078.6,1235.6 1077.3,1235.6 1076.7,1235.6 1075.4,1235.7 1074.1,1235.7 1072.8,1235.8 1071.5,1235.8 1070.2,1235.8 1068.9,1235.9 1067.6,1235.9 1066.3,1236.0 1065.7,1236.0 1064.4,1236.0 1063.1,1236.1 1061.8,1236.1 1060.6,1236.2 1059.3,1236.2 1058.0,1236.3 1057.3,1236.3 1056.0,1236.4 1054.8,1236.5 1053.5,1236.6 1052.7,1236.7 1051.5,1236.8 1050.2,1236.9 1049.0,1237.0 1048.3,1237.1 1047.0,1237.2 1045.7,1237.4 1045.1,1237.5 1043.8,1237.6 1042.5,1237.8 1041.9,1237.9 1040.6,1238.0 1039.9,1238.1 1038.7,1238.3 1037.5,1238.5 1036.7,1238.6 1035.4,1238.8 1034.8,1239.0 1033.6,1239.2 1032.9,1239.4 1032.0,1239.6 1030.9,1239.9 1030.3,1240.0 1029.4,1240.3 1028.4,1240.6 1027.7,1240.9 1027.1,1241.1 1026.4,1241.4 1025.7,1241.7 1025.1,1242.1 1024.5,1242.5 1023.8,1243.0 1023.3,1243.5 1023.0,1243.9 1022.6,1244.6 1022.5,1245.0 1022.4,1245.7 1022.5,1246.4 1022.6,1246.8 1023.0,1247.5 1023.3,1247.9 1023.8,1248.4 1024.5,1248.9 1025.1,1249.3 1025.7,1249.7 1026.4,1250.0 1027.1,1250.3 1027.7,1250.5 1028.4,1250.8 1029.4,1251.1 1030.3,1251.4 1030.9,1251.5 1032.0,1251.8 1032.9,1252.0 1033.6,1252.2 1034.8,1252.4 1035.4,1252.6 1036.7,1252.8 1037.5,1252.9 1038.7,1253.1 1039.9,1253.3 1040.6,1253.4 1041.9,1253.5 1042.5,1253.6 1043.8,1253.8 1045.1,1253.9 1045.7,1254.0 1047.0,1254.2 1048.3,1254.3 1049.0,1254.4 1050.2,1254.5 1051.5,1254.6 1052.7,1254.7 1053.5,1254.8 1054.8,1254.9 1056.0,1255.0 1057.3,1255.1 1058.0,1255.1 1059.3,1255.2 1060.6,1255.2 1061.8,1255.3 1063.1,1255.3 1064.4,1255.4 1065.7,1255.4 1066.3,1255.4 1067.6,1255.5 1068.9,1255.5 1070.2,1255.6 1071.5,1255.6 1072.8,1255.6 1074.1,1255.7 1075.4,1255.7 1076.7,1255.8 1077.3,1255.8 1078.6,1255.8 1079.9,1255.9 1081.2,1255.9 1082.4,1255.9 1083.7,1256.0 1085.0,1256.0 1086.3,1256.0 1087.6,1256.0 1088.9,1256.0 1090.2,1256.0 1091.5,1256.0 1092.8,1255.9 1094.0,1255.9 1095.3,1255.9 1096.6,1255.9 1097.9,1255.9 1099.2,1255.8 1100.5,1255.8 1101.8,1255.8 1103.1,1255.8 1104.2,1255.8 1105.0,1255.8 1106.3,1255.8 1107.6,1255.7 1108.9,1255.7 1110.1,1255.7 1111.4,1255.7 1112.7,1255.7 1114.0,1255.6 1115.3,1255.6 1116.6,1255.6 1117.9,1255.6 1119.2,1255.6 1120.4,1255.6 1121.7,1255.5 1123.0,1255.5 1124.3,1255.5 1125.6,1255.5 1126.9,1255.5 1128.2,1255.5 1129.5,1255.4 1130.7,1255.4 1131.8,1255.4 1132.7,1255.4 1134.0,1255.4 1135.3,1255.4 1136.5,1255.4 1137.8,1255.3 1139.1,1255.3 1140.4,1255.3 1141.7,1255.3 1143.0,1255.3 1144.3,1255.3 1145.6,1255.2 1146.8,1255.2 1148.1,1255.2 1149.4,1255.2 1150.7,1255.2 1152.0,1255.1 1153.3,1255.1 1154.6,1255.1 1155.9,1255.1 1157.2,1255.1 1158.3,1255.1 1159.1,1255.0 1160.4,1255.0 1161.7,1255.0 1162.9,1255.0 1164.2,1255.0 1165.5,1255.0 1166.8,1254.9 1168.1,1254.9" fill="none" stroke="#111" stroke-width="1.7" stroke-dasharray="0.01 3.0" stroke-linecap="round"/></g>
<text x="849.3" y="1244.8" font-size="13" font-family="'Liberation Serif', 'Times New Roman', serif" text-anchor="middle" fill="#222">0.0</text>
<text x="890.1" y="1254.6" font-size="13" font-family="'Liberation Serif', 'Times New Roman', serif" text-anchor="middle" fill="#222">0.0</text>
<text x="962.1" y="1270.1" font-size="13" font-family="'Liberation Serif', 'Times New Roman', serif" text-anchor="middle" fill="#222">0.0</text>
<text x="1022.6" y="1234.4" font-size="13" font-family="'Liberation Serif', 'Times New Roman', serif" text-anchor="middle" fill="#222">0.1</text>
<text x="1059.2" y="1238.8" font-size="13" font-family="'Liberation Serif', 'Times New Roman', serif" text-anchor="middle" fill="#222">0.2</text>
<text x="1094.1" y="1228.4" font-size="13" font-family="'Liberation Serif', 'Times New Roman', serif" text-anchor="middle" fill="#222">0.0</text>
<text x="1095.0" y="1264.1" font-size="13" font-family="'Liberation Serif', 'Times New Roman', serif" text-anchor="middle" fill="#222">0.1</text>
<text x="1141.7" y="1259.7" font-size="13" font-family="'Liberation Serif', 'Times New Roman', serif" text-anchor="middle" fill="#222">0.2</text>
<rect x="770.3" y="1191.7" width="396.0" height="108.0" fill="none" stroke="#000" stroke-width="2"/>
<line x1="806.3" y1="1299.7" x2="806.3" y2="1308.7" stroke="#000" stroke-width="2"/>
<text x="806.3" y="1332.7" font-size="18.5" font-family="'Liberation Serif', 'Times New Roman', serif" text-anchor="middle">0</text>
<line x1="878.3" y1="1299.7" x2="878.3" y2="1308.7" stroke="#000" stroke-width="2"/>
<text x="878.3" y="1332.7" font-size="18.5" font-family="'Liberation Serif', 'Times New Roman', serif" text-anchor="middle">2</text>
<line x1="950.3" y1="1299.7" x2="950.3" y2="1308.7" stroke="#000" stroke-width="2"/>
<text x="950.3" y="1332.7" font-size="18.5" font-family="'Liberation Serif', 'Times New Roman', serif" text-anchor="middle">4</text>
<line x1="1022.3" y1="1299.7" x2="1022.3" y2="1308.7" stroke="#000" stroke-width="2"/>
<text x="1022.3" y="1332.7" font-size="18.5" font-family="'Liberation Serif', 'Times New Roman', serif" text-anchor="middle">6</text>
<line x1="1094.3" y1="1299.7" x2="1094.3" y2="1308.7" stroke="#000" stroke-width="2"/>
<text x="1094.3" y="1332.7" font-size="18.5" font-family="'Liberation Serif', 'Times New Roman', serif" text-anchor="middle">8</text>
<line x1="1166.3" y1="1299.7" x2="1166.3" y2="1308.7" stroke="#000" stroke-width="2"/>
<text x="1166.3" y="1332.7" font-size="18.5" font-family="'Liberation Serif', 'Times New Roman', serif" text-anchor="middle">10</text>
<line x1="760.3" y1="1209.7" x2="770.3" y2="1209.7" stroke="#000" stroke-width="2"/>
<text x="750.3" y="1216.7" font-size="18.5" font-family="'Liberation Serif', 'Times New Roman', serif" text-anchor="end">1</text>
<line x1="760.3" y1="1245.7" x2="770.3" y2="1245.7" stroke="#000" stroke-width="2"/>
<text x="750.3" y="1252.7" font-size="18.5" font-family="'Liberation Serif', 'Times New Roman', serif" text-anchor="end">0</text>
<line x1="760.3" y1="1281.7" x2="770.3" y2="1281.7" stroke="#000" stroke-width="2"/>
<text x="749.3" y="1288.7" font-size="18.5" font-family="'Liberation Serif', 'Times New Roman', serif" text-anchor="end" textLength="23.5" lengthAdjust="spacingAndGlyphs">−1</text>
<text x="968.3" y="1364.7" font-size="21.5" font-family="'Liberation Serif', 'Times New Roman', serif" text-anchor="middle"><tspan font-style="italic">x</tspan><tspan dx="1">/</tspan><tspan font-style="italic" dx="1">D</tspan></text>
<text transform="translate(708.3,1245.7) rotate(-90)" font-size="21.5" font-family="'Liberation Serif', 'Times New Roman', serif" text-anchor="middle"><tspan font-style="italic">y</tspan><tspan dx="1">/</tspan><tspan font-style="italic" dx="1">D</tspan></text>
<polygon points="806.3,1227.0 814.2,1242.1 806.3,1245.0" fill="#fff" stroke="#000" stroke-width="3" stroke-linejoin="miter"/>
<polygon points="806.3,1264.4 814.2,1249.3 806.3,1246.4" fill="#fff" stroke="#000" stroke-width="3" stroke-linejoin="miter"/>
<circle cx="808.3" cy="1245.7" r="3.5" fill="#000"/>
<line x1="804.3" y1="1245.7" x2="815.3" y2="1245.7" stroke="#000" stroke-width="3"/>
<polygon points="887.4,1175.3 896.3,1171.0 1040.2,1171.0 1048.2,1175.3 1040.2,1179.6 896.3,1179.6" fill="url(#g21)" stroke="#000" stroke-width="2" stroke-linejoin="miter"/>
<line x1="896.3" y1="1162.3" x2="896.3" y2="1171" stroke="#000" stroke-width="2"/>
<line x1="932.2" y1="1162.3" x2="932.2" y2="1171" stroke="#000" stroke-width="2"/>
<line x1="968.2" y1="1162.3" x2="968.2" y2="1171" stroke="#000" stroke-width="2"/>
<line x1="1004.2" y1="1162.3" x2="1004.2" y2="1171" stroke="#000" stroke-width="2"/>
<line x1="1040.2" y1="1162.3" x2="1040.2" y2="1171" stroke="#000" stroke-width="2"/>
<text x="896.3" y="1148.2" font-size="20.5" font-family="'Liberation Sans', Arial, sans-serif" text-anchor="middle">-0.1</text>
<text x="932.2" y="1148.2" font-size="20.5" font-family="'Liberation Sans', Arial, sans-serif" text-anchor="middle">0.0</text>
<text x="968.2" y="1148.2" font-size="20.5" font-family="'Liberation Sans', Arial, sans-serif" text-anchor="middle">0.1</text>
<text x="1004.2" y="1148.2" font-size="20.5" font-family="'Liberation Sans', Arial, sans-serif" text-anchor="middle">0.2</text>
<text x="1040.2" y="1148.2" font-size="20.5" font-family="'Liberation Sans', Arial, sans-serif" text-anchor="middle">0.3</text>
<text x="813.0" y="1177.0" font-size="21" font-family="'Liberation Serif', 'Times New Roman', serif"><tspan font-weight="bold" font-style="italic" fill="#0a4a8f" font-size="25">δu</tspan><tspan font-size="19">/</tspan><tspan font-style="italic" font-size="19">U</tspan><tspan font-size="14">∞</tspan></text>
<polygon points="227.4,176.0 220.7,154.0 201.6,103.8 200.8,104.0 216.4,155.4 224.6,177.0" fill="#b3ab22" stroke="#8a8410" stroke-width="0.6"/>
<polygon points="225.6,177.9 243.8,184.4 287.5,195.4 287.7,194.6 245.2,179.7 226.4,175.1" fill="#c6be2e" stroke="#8a8410" stroke-width="0.6"/>
<polygon points="224.8,175.7 212.7,190.9 189.6,229.8 190.2,230.2 217.7,194.2 227.2,177.3" fill="#a8a01c" stroke="#8a8410" stroke-width="0.6"/>
<circle cx="226" cy="176.5" r="3.6" fill="#8d8714"/>
<path d="M197,131 Q200,143 216,143 Q234,142 236,129" fill="none" stroke="#ee2020" stroke-width="2.3"/>
<polygon points="192,133 201,127 200,137" fill="#ee2020"/><polygon points="240,128 231,126 234,134" fill="#ee2020"/>
<path d="M275,171 Q280,188 276,200 Q272,209 265,205" fill="none" stroke="#3ea83e" stroke-width="2"/>
<polygon points="273,168 278,178 270,177" fill="#3ea83e"/><polygon points="262,212 262,202 268,207" fill="#3ea83e"/>
<path d="M202,188 Q200,200 205,212 Q210,221 214,220" fill="none" stroke="#22c8f0" stroke-width="1.8"/>
<polygon points="203,187 208,196 201,196" fill="#22c8f0"/><polygon points="216,224 213,214 218,216" fill="#22c8f0"/>
<text x="217" y="116" font-size="19" font-family="'Liberation Serif', 'Times New Roman', serif" font-style="italic" fill="#ee1c24">θ<tspan font-size="14" dy="3" font-style="normal">1</tspan></text>
<text x="265" y="155" font-size="19" font-family="'Liberation Serif', 'Times New Roman', serif" font-style="italic" fill="#4aa84a">θ<tspan font-size="14" dy="3" font-style="normal">2</tspan></text>
<text x="173" y="203" font-size="19" font-family="'Liberation Serif', 'Times New Roman', serif" font-style="italic" fill="#22b4ee">θ<tspan font-size="14" dy="3" font-style="normal">3</tspan></text>
<ellipse cx="376" cy="163" rx="54" ry="66" fill="#e2e9e9" transform="rotate(-18 376 163)"/>
<ellipse cx="364.5" cy="156" rx="55" ry="66.5" fill="none" stroke="#c8161d" stroke-width="2.6" transform="rotate(-17 364.5 156)"/>
<polygon points="364.2,154.6 358.7,136.2 343.4,93.9 342.6,94.1 355.3,137.2 361.8,155.4" fill="#aaa21c" stroke="#8a8410" stroke-width="0.6"/>
<polygon points="362.6,156.2 378.8,161.9 417.4,171.9 417.6,171.1 379.9,158.0 363.4,153.8" fill="#bdb628" stroke="#8a8410" stroke-width="0.6"/>
<polygon points="362.0,154.3 352.1,167.5 332.7,200.6 333.3,201.0 355.9,170.0 364.0,155.7" fill="#a09a18" stroke="#8a8410" stroke-width="0.6"/>
<polygon points="363,155 374,157 368,165" fill="#ff1010"/><circle cx="375.5" cy="164.5" r="4" fill="#ff1010"/>
<text x="339" y="158" font-size="15" font-family="'Liberation Serif', 'Times New Roman', serif" font-style="italic" fill="#ff2020">δ<tspan>x</tspan></text>
<line x1="348" y1="147.5" x2="358" y2="147.5" stroke="#ff2020" stroke-width="1"/><polygon points="358,145.5 361,147.5 358,149.5" fill="#ff2020"/>
<ellipse cx="532" cy="157" rx="59" ry="68.5" fill="#e2e9e9" transform="rotate(-8 532 157)"/>
<ellipse cx="530.5" cy="157" rx="61" ry="70" fill="none" stroke="#c8161d" stroke-width="2.6" transform="rotate(-6 530.5 157)"/>
<polygon points="531.8,155.7 527.0,136.0 513.4,90.9 512.6,91.1 523.6,137.0 529.4,156.3" fill="#c0b82a" stroke="#8a8410" stroke-width="0.6"/>
<polygon points="530.2,157.2 547.2,163.4 587.9,174.7 588.1,173.9 548.4,159.6 531.0,154.8" fill="#c4bc2c" stroke="#8a8410" stroke-width="0.6"/>
<polygon points="529.6,155.2 516.8,169.5 490.0,205.4 490.6,206.0 520.3,172.3 531.6,156.8" fill="#b6ae22" stroke="#8a8410" stroke-width="0.6"/>
<line x1="530" y1="156" x2="508" y2="153" stroke="#ff1a1a" stroke-width="2.2"/><polygon points="502,152.5 510,149 509,157" fill="#ff1a1a"/>
<line x1="530" y1="157" x2="508" y2="165" stroke="#1e6a9c" stroke-width="2.2" stroke-dasharray="4 2.5"/><polygon points="502,166.5 508,160.5 511,167.5" fill="#1e6a9c"/>
<text x="483" y="157" font-size="17" font-family="'Liberation Serif', 'Times New Roman', serif" font-style="italic" font-weight="bold" fill="#ff2020">n</text>
<line x1="484" y1="144.5" x2="493" y2="144.5" stroke="#ff2020" stroke-width="1"/><polygon points="493,142.5 496,144.5 493,146.5" fill="#ff2020"/>
<text x="482" y="180" font-size="17" font-family="'Liberation Serif', 'Times New Roman', serif" font-style="italic" font-weight="bold" fill="#1a3a78">n<tspan font-size="12" dy="3" font-weight="normal" font-style="normal">0</tspan></text>
<line x1="483" y1="168" x2="492" y2="168" stroke="#1a3a78" stroke-width="1"/><polygon points="492,166 495,168 492,170" fill="#1a3a78"/>
<path d="M206.0,1680.0 C202.7,1667.3 206.3,1652.7 212.0,1642.0 C217.7,1631.3 229.5,1623.2 240.0,1616.0 C250.5,1608.8 258.5,1606.7 275.0,1599.0 C291.5,1591.3 321.2,1577.7 339.0,1570.0 C356.8,1562.3 364.2,1559.5 382.0,1553.0 C399.8,1546.5 430.0,1536.2 446.0,1531.0 C462.0,1525.8 470.3,1517.2 478.0,1522.0 C485.7,1526.8 493.3,1540.3 492.0,1560.0 C490.7,1579.7 478.7,1623.0 470.0,1640.0 C461.3,1657.0 451.7,1655.7 440.0,1662.0 C428.3,1668.3 415.0,1672.3 400.0,1678.0 C385.0,1683.7 366.7,1690.2 350.0,1696.0 C333.3,1701.8 314.7,1708.5 300.0,1713.0 C285.3,1717.5 273.3,1722.2 262.0,1723.0 C250.7,1723.8 241.3,1725.2 232.0,1718.0 C222.7,1710.8 209.3,1692.7 206.0,1680.0Z" fill="#c9ddf5" filter="url(#wblur)"/>
<path d="M218.0,1680.0 C216.3,1670.7 218.7,1659.3 224.0,1650.0 C229.3,1640.7 239.0,1631.3 250.0,1624.0 C261.0,1616.7 274.2,1613.3 290.0,1606.0 C305.8,1598.7 328.3,1587.2 345.0,1580.0 C361.7,1572.8 373.2,1569.3 390.0,1563.0 C406.8,1556.7 432.7,1546.5 446.0,1542.0 C459.3,1537.5 465.3,1523.0 470.0,1536.0 C474.7,1549.0 478.3,1600.7 474.0,1620.0 C469.7,1639.3 456.0,1644.2 444.0,1652.0 C432.0,1659.8 417.7,1661.3 402.0,1667.0 C386.3,1672.7 367.0,1680.0 350.0,1686.0 C333.0,1692.0 314.7,1698.7 300.0,1703.0 C285.3,1707.3 273.0,1711.5 262.0,1712.0 C251.0,1712.5 241.3,1711.3 234.0,1706.0 C226.7,1700.7 219.7,1689.3 218.0,1680.0Z" fill="#e3edf9" filter="url(#wblur2)"/>
<path d="M236.0,1676.0 C236.0,1671.8 249.3,1667.3 260.0,1665.0 C270.7,1662.7 286.7,1661.5 300.0,1662.0 C313.3,1662.5 340.0,1664.3 340.0,1668.0 C340.0,1671.7 313.3,1680.3 300.0,1684.0 C286.7,1687.7 270.7,1691.3 260.0,1690.0 C249.3,1688.7 236.0,1680.2 236.0,1676.0Z" fill="#d0e2f6" filter="url(#wblur)"/>
<path d="M662.7,1465.1 C664.4,1461.1 665.7,1458.1 668.3,1455.4 C670.9,1452.7 674.8,1449.6 678.1,1448.7 C681.4,1447.8 684.6,1448.5 687.9,1449.8 C691.1,1451.1 694.8,1453.8 697.6,1456.8 C700.4,1459.8 703.1,1464.0 704.6,1467.9 C706.1,1471.9 706.8,1475.8 706.7,1480.5 C706.6,1485.2 705.6,1490.6 703.9,1495.9 C702.2,1501.2 699.5,1507.5 696.4,1512.6 C693.3,1517.7 689.5,1522.4 685.1,1526.6 C680.7,1530.8 675.1,1534.6 669.7,1537.8 C664.3,1541.0 657.9,1543.5 652.9,1545.5 C647.9,1547.5 641.1,1550.8 640.0,1549.5 C638.9,1548.2 643.5,1543.2 646.0,1538.0 C648.5,1532.8 652.8,1524.8 655.0,1518.2 C657.2,1511.7 658.5,1505.2 659.0,1498.7 C659.5,1492.2 657.4,1484.7 658.0,1479.1 C658.6,1473.5 661.0,1469.0 662.7,1465.1Z" fill="url(#gG)"/>
<ellipse cx="667" cy="1470" rx="8" ry="13" fill="#004a00" opacity="0.7" filter="url(#sblur)" clip-path="url(#hb1)"/>
<path d="M607.5,1470.0 C608.8,1466.3 613.2,1463.4 616.6,1461.0 C620.0,1458.6 624.1,1456.5 627.8,1455.4 C631.5,1454.4 635.3,1454.2 639.0,1454.7 C642.7,1455.2 646.6,1456.2 650.1,1458.2 C653.6,1460.2 657.2,1463.0 659.9,1466.5 C662.6,1470.0 664.8,1474.7 666.2,1479.1 C667.6,1483.5 668.3,1488.4 668.3,1493.1 C668.3,1497.8 667.6,1502.4 666.2,1507.1 C664.8,1511.8 662.6,1516.3 659.9,1521.0 C657.2,1525.7 654.0,1530.3 650.1,1535.0 C646.2,1539.7 641.1,1544.8 636.2,1549.0 C631.3,1553.2 625.9,1556.8 620.8,1560.1 C615.7,1563.3 610.5,1566.2 605.4,1568.5 C600.3,1570.8 591.1,1575.2 590.0,1574.0 C588.9,1572.8 595.7,1566.6 599.0,1561.5 C602.3,1556.4 607.2,1549.7 610.0,1543.4 C612.8,1537.1 615.2,1530.5 616.0,1523.8 C616.8,1517.0 616.2,1509.7 615.0,1502.9 C613.8,1496.2 610.2,1488.8 609.0,1483.3 C607.8,1477.8 606.2,1473.7 607.5,1470.0Z" fill="url(#gR)"/>
<ellipse cx="614" cy="1474" rx="10" ry="12" fill="#6a0000" opacity="0.7" filter="url(#sblur)" clip-path="url(#hb2)"/>
<path d="M559.3,1493.1 C560.6,1489.4 564.4,1483.8 567.7,1480.5 C571.0,1477.2 574.9,1475.1 578.9,1473.5 C582.9,1471.9 587.3,1470.8 591.5,1470.7 C595.7,1470.6 600.3,1471.4 604.0,1472.8 C607.7,1474.2 610.8,1475.9 613.8,1479.1 C616.8,1482.2 620.2,1487.0 622.2,1491.7 C624.2,1496.4 625.4,1501.8 625.7,1507.1 C626.1,1512.4 625.6,1518.2 624.3,1523.8 C623.0,1529.4 620.7,1535.2 618.0,1540.6 C615.3,1546.0 612.2,1551.3 608.2,1556.0 C604.2,1560.7 599.4,1564.3 594.3,1568.5 C589.2,1572.7 583.1,1577.4 577.5,1581.1 C571.9,1584.8 567.0,1587.8 560.7,1590.9 C554.5,1594.1 542.0,1600.5 540.0,1600.0 C538.0,1599.5 545.7,1593.8 549.0,1588.1 C552.3,1582.4 557.2,1573.6 560.0,1565.7 C562.8,1557.8 565.2,1548.5 566.0,1540.6 C566.8,1532.7 566.0,1524.5 565.0,1518.2 C564.0,1511.9 561.0,1507.1 560.0,1502.9 C559.0,1498.7 558.0,1496.8 559.3,1493.1Z" fill="url(#gG)"/>
<ellipse cx="567" cy="1497" rx="10" ry="14" fill="#00402a" opacity="0.7" filter="url(#sblur)" clip-path="url(#hb3)"/>
<path d="M503.0,1512.0 C504.2,1505.4 513.2,1502.7 518.0,1499.5 C522.8,1496.3 527.7,1494.4 532.0,1493.0 C536.3,1491.6 539.7,1490.9 544.0,1491.0 C548.3,1491.1 553.9,1491.8 557.9,1493.8 C561.9,1495.8 564.9,1498.4 567.7,1502.9 C570.5,1507.4 573.4,1515.2 574.7,1521.0 C576.0,1526.8 575.9,1532.0 575.4,1537.8 C574.9,1543.6 574.1,1550.2 571.9,1556.0 C569.7,1561.8 566.0,1566.9 562.1,1572.7 C558.2,1578.5 553.6,1585.6 548.2,1590.9 C542.9,1596.2 535.9,1601.0 530.0,1604.8 C524.1,1608.6 520.0,1610.3 512.7,1614.0 C505.4,1617.7 489.5,1626.6 486.2,1627.0 C482.9,1627.4 488.5,1625.6 492.8,1616.5 C497.1,1607.4 509.0,1585.3 512.0,1572.4 C515.0,1559.5 512.5,1549.4 511.0,1539.3 C509.5,1529.2 501.8,1518.6 503.0,1512.0Z" fill="url(#gR)"/>
<path d="M508.0,1514.0 C509.8,1511.7 515.7,1516.7 518.0,1521.0 C520.3,1525.3 521.8,1533.5 522.0,1540.0 C522.2,1546.5 520.7,1557.3 519.0,1560.0 C517.3,1562.7 514.0,1560.2 512.0,1556.0 C510.0,1551.8 507.7,1542.0 507.0,1535.0 C506.3,1528.0 506.2,1516.3 508.0,1514.0Z" fill="#7a0814" filter="url(#sblur)" clip-path="url(#hb4)"/>
<path d="M445.3,1590.0 C447.8,1586.3 455.6,1587.5 460.0,1588.0 C464.4,1588.5 468.4,1589.0 471.8,1592.7 C475.2,1596.4 477.7,1604.8 480.6,1610.3 C483.5,1615.8 490.9,1622.8 489.4,1625.7 C487.9,1628.7 478.1,1628.4 471.8,1628.0 C465.6,1627.6 456.3,1626.5 451.9,1623.5 C447.5,1620.5 446.4,1615.9 445.3,1610.3 C444.2,1604.7 442.9,1593.7 445.3,1590.0Z" fill="#d00000"/>
<path d="M447.5,1533.1 C449.0,1527.2 453.0,1523.2 458.5,1519.9 C464.0,1516.6 474.0,1514.2 480.6,1513.2 C487.2,1512.2 493.2,1511.9 498.3,1513.7 C503.4,1515.5 508.0,1519.2 511.5,1524.3 C515.0,1529.4 517.7,1537.1 519.2,1544.1 C520.7,1551.1 521.2,1558.8 520.3,1566.2 C519.4,1573.6 516.6,1582.0 513.7,1588.2 C510.8,1594.5 508.2,1597.8 502.7,1603.7 C497.2,1609.6 488.0,1617.2 480.6,1623.5 C473.2,1629.8 465.9,1636.0 458.5,1641.2 C451.1,1646.4 443.9,1651.5 436.5,1654.4 C429.1,1657.3 423.2,1658.4 414.4,1658.8 C405.6,1659.2 392.7,1659.5 383.5,1656.6 C374.3,1653.7 365.9,1646.7 359.3,1641.2 C352.7,1635.7 348.2,1627.5 343.8,1623.5 C339.4,1619.5 335.7,1619.8 332.8,1616.9 C329.9,1614.0 326.6,1609.0 326.2,1605.9 C325.8,1602.8 328.4,1599.7 330.6,1598.2 C332.8,1596.7 335.7,1596.2 339.4,1597.1 C343.1,1598.0 347.5,1600.4 352.7,1603.7 C357.9,1607.0 363.7,1612.1 370.3,1616.9 C376.9,1621.7 385.0,1629.1 392.4,1632.4 C399.8,1635.7 407.8,1636.2 414.4,1636.8 C421.0,1637.3 426.2,1636.8 432.1,1635.7 C438.0,1634.6 443.8,1633.7 449.7,1630.2 C455.6,1626.7 463.7,1621.0 467.4,1614.7 C471.1,1608.5 473.3,1600.1 471.8,1592.7 C470.3,1585.3 462.2,1576.8 458.5,1570.6 C454.8,1564.3 451.5,1561.5 449.7,1555.2 C447.9,1549.0 446.0,1539.0 447.5,1533.1Z" fill="url(#gG)"/>
<path d="M451.0,1536.0 C452.2,1530.5 458.8,1526.3 462.0,1527.0 C465.2,1527.7 468.3,1533.7 470.0,1540.0 C471.7,1546.3 472.7,1559.3 472.0,1565.0 C471.3,1570.7 468.8,1574.8 466.0,1574.0 C463.2,1573.2 457.5,1566.3 455.0,1560.0 C452.5,1553.7 449.8,1541.5 451.0,1536.0Z" fill="#005a00" filter="url(#sblur)" clip-path="url(#hb6)"/>
<path d="M382.4,1555.2 C384.6,1551.5 391.5,1547.0 396.8,1544.1 C402.1,1541.1 408.5,1538.6 414.4,1537.5 C420.3,1536.4 427.3,1536.4 432.1,1537.5 C436.9,1538.6 440.5,1540.8 443.1,1544.1 C445.7,1547.4 446.8,1551.9 447.5,1557.4 C448.2,1562.9 448.2,1570.6 447.5,1577.2 C446.8,1583.8 445.3,1590.8 443.1,1597.1 C440.9,1603.3 437.6,1608.8 434.3,1614.7 C431.0,1620.6 426.0,1628.0 423.2,1632.4 C420.4,1636.8 419.2,1640.5 417.7,1641.2 C416.2,1641.9 414.2,1640.5 414.4,1636.8 C414.6,1633.1 418.8,1625.3 418.8,1619.1 C418.8,1612.8 418.8,1606.3 414.4,1599.3 C410.0,1592.3 397.5,1582.7 392.4,1577.2 C387.2,1571.7 385.2,1569.9 383.5,1566.2 C381.8,1562.5 380.2,1558.9 382.4,1555.2Z" fill="url(#gR)"/>
<path d="M385.0,1557.0 C385.2,1552.5 389.7,1549.7 393.0,1551.0 C396.3,1552.3 400.8,1558.5 405.0,1565.0 C409.2,1571.5 415.5,1582.2 418.0,1590.0 C420.5,1597.8 421.3,1610.7 420.0,1612.0 C418.7,1613.3 414.7,1603.7 410.0,1598.0 C405.3,1592.3 396.2,1584.8 392.0,1578.0 C387.8,1571.2 384.8,1561.5 385.0,1557.0Z" fill="#8a0008" filter="url(#sblur)" clip-path="url(#hb7)"/>
<path d="M266.0,1651.6 C266.6,1650.0 275.4,1646.3 280.3,1645.0 C285.2,1643.7 291.1,1643.5 295.6,1644.0 C300.1,1644.5 303.9,1646.5 307.1,1647.8 C310.3,1649.1 311.8,1651.3 314.7,1651.6 C317.6,1651.9 320.5,1651.0 324.3,1649.7 C328.1,1648.4 333.9,1646.7 337.7,1644.0 C341.5,1641.3 345.0,1636.2 347.2,1633.5 C349.4,1630.8 350.0,1628.0 351.0,1627.7 C352.0,1627.4 353.3,1628.8 353.0,1631.5 C352.7,1634.2 351.7,1640.0 349.1,1644.0 C346.6,1648.0 342.1,1652.5 337.7,1655.4 C333.2,1658.3 327.5,1660.1 322.4,1661.2 C317.3,1662.3 312.2,1662.4 307.1,1662.1 C302.0,1661.8 296.9,1660.6 291.8,1659.3 C286.7,1658.0 280.8,1655.8 276.5,1654.5 C272.2,1653.2 265.4,1653.2 266.0,1651.6Z" fill="url(#gG)"/>
<path d="M272.7,1677.4 C272.4,1676.9 281.6,1675.1 286.0,1672.7 C290.4,1670.3 295.9,1666.6 299.4,1663.1 C302.9,1659.6 304.9,1655.8 307.1,1651.6 C309.3,1647.4 310.9,1642.0 312.8,1638.2 C314.7,1634.4 316.3,1630.8 318.5,1628.7 C320.7,1626.6 323.6,1625.2 326.2,1625.8 C328.8,1626.4 331.7,1630.3 333.8,1632.5 C335.9,1634.7 338.9,1638.2 338.6,1639.2 C338.3,1640.2 334.3,1638.8 331.9,1638.2 C329.5,1637.6 326.9,1634.1 324.3,1635.4 C321.8,1636.7 318.8,1642.2 316.6,1645.9 C314.4,1649.6 313.1,1653.9 310.9,1657.4 C308.7,1660.9 307.1,1663.9 303.3,1666.9 C299.5,1669.9 293.1,1673.8 288.0,1675.5 C282.9,1677.2 273.0,1677.9 272.7,1677.4Z" fill="url(#gR)"/>
<polygon points="239.5,1682 243.5,1682 247.5,1757 242.5,1757" fill="#c4c4c4" stroke="#9c9c9c" stroke-width="0.6"/>
<line x1="242" y1="1684" x2="245" y2="1755" stroke="#d8d8d8" stroke-width="1"/>
<polygon points="232,1679 209.5,1625 236.5,1677" fill="#e2e2e2" stroke="#9a9a9a" stroke-width="0.6"/>
<polygon points="235,1679 277,1698 234,1684" fill="#e6e6e6" stroke="#9a9a9a" stroke-width="0.6"/>
<polygon points="232,1681 218.5,1720 237,1683" fill="#d2d2d2" stroke="#9a9a9a" stroke-width="0.6"/>
<polygon points="231,1678 244,1673 249,1677 236,1684" fill="#d6d6d6" stroke="#a0a0a0" stroke-width="0.6"/>
<circle cx="234" cy="1681" r="3" fill="#e0e0e0" stroke="#a0a0a0" stroke-width="0.6"/>
<rect x="464.3" y="1702.4" width="64.1" height="6.3" fill="#ff0000"/><rect x="528.4" y="1702.4" width="64.1" height="6.3" fill="#ffd700"/><rect x="592.5" y="1702.4" width="64" height="6.3" fill="#00b400"/>
<line x1="464.8" y1="1696" x2="464.8" y2="1703" stroke="#888" stroke-width="0.8"/>
<line x1="560.4" y1="1696" x2="560.4" y2="1703" stroke="#888" stroke-width="0.8"/>
<line x1="656" y1="1696" x2="656" y2="1703" stroke="#888" stroke-width="0.8"/>
<text x="462.7" y="1687.3" font-size="15.5" font-family="'Liberation Serif', 'Times New Roman', serif" text-anchor="middle">-0.10</text>
<text x="556.4" y="1687.3" font-size="15.5" font-family="'Liberation Serif', 'Times New Roman', serif" text-anchor="middle">0.00</text>
<text x="652.5" y="1687.3" font-size="15.5" font-family="'Liberation Serif', 'Times New Roman', serif" text-anchor="middle">0.10</text>
<text x="560.9" y="1670.2" font-size="15.5" font-family="'Liberation Serif', 'Times New Roman', serif" text-anchor="middle" font-style="italic">û<tspan font-size="10" dy="3">x</tspan><tspan dy="-3" font-style="normal"> / </tspan>U<tspan font-size="11" dy="2" font-style="normal">∞</tspan></text>
<rect x="464.3" y="1775.4" width="192.2" height="6" fill="url(#ux)"/>
<line x1="464.8" y1="1767" x2="464.8" y2="1776" stroke="#888" stroke-width="0.8"/>
<line x1="503.1" y1="1767" x2="503.1" y2="1776" stroke="#888" stroke-width="0.8"/>
<line x1="541.3" y1="1767" x2="541.3" y2="1776" stroke="#888" stroke-width="0.8"/>
<line x1="579.5" y1="1767" x2="579.5" y2="1776" stroke="#888" stroke-width="0.8"/>
<line x1="617.8" y1="1767" x2="617.8" y2="1776" stroke="#888" stroke-width="0.8"/>
<line x1="656.0" y1="1767" x2="656.0" y2="1776" stroke="#888" stroke-width="0.8"/>
<text x="457.3" y="1759.6" font-size="15.5" font-family="'Liberation Serif', 'Times New Roman', serif" text-anchor="middle">0.0</text>
<text x="501.4" y="1759.6" font-size="15.5" font-family="'Liberation Serif', 'Times New Roman', serif" text-anchor="middle">0.2</text>
<text x="540.6" y="1759.6" font-size="15.5" font-family="'Liberation Serif', 'Times New Roman', serif" text-anchor="middle">0.4</text>
<text x="579.4" y="1759.6" font-size="15.5" font-family="'Liberation Serif', 'Times New Roman', serif" text-anchor="middle">0.6</text>
<text x="617.3" y="1759.6" font-size="15.5" font-family="'Liberation Serif', 'Times New Roman', serif" text-anchor="middle">0.8</text>
<text x="650.0" y="1759.6" font-size="15.5" font-family="'Liberation Serif', 'Times New Roman', serif" text-anchor="middle">1.0</text>
<text x="560.9" y="1740.9" font-size="15.5" font-family="'Liberation Serif', 'Times New Roman', serif" text-anchor="middle" font-style="italic">U<tspan font-size="10" dy="3">x</tspan><tspan dy="-3" font-style="normal"> / </tspan>U<tspan font-size="11" dy="2" font-style="normal">∞</tspan></text>
</svg></body></html>
